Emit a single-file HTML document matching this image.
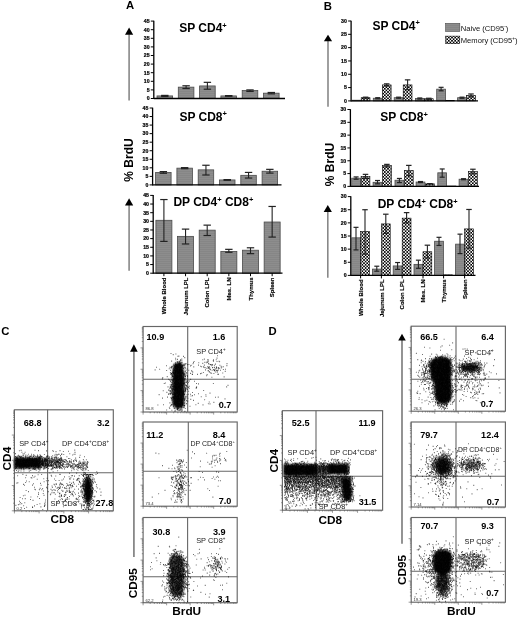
<!DOCTYPE html>
<html><head><meta charset="utf-8"><style>
html,body{margin:0;padding:0;background:#fff;width:520px;height:617px;overflow:hidden}
svg{display:block;filter:grayscale(1)}
text{font-family:"Liberation Sans", sans-serif}
</style></head><body>
<svg width="520" height="617" viewBox="0 0 520 617">
<defs>
<pattern id="gp" patternUnits="userSpaceOnUse" width="4" height="2"><rect width="4" height="2" fill="#8d8d8d"/><rect y="1" width="4" height="1" fill="#868686"/></pattern>
<pattern id="cp" patternUnits="userSpaceOnUse" width="3.2" height="3.2"><rect width="3.2" height="3.2" fill="#000"/><rect width="1.6" height="1.6" fill="#fff"/><rect x="1.6" y="1.6" width="1.6" height="1.6" fill="#fff"/></pattern>
</defs>
<rect width="520" height="617" fill="#fff"/>
<rect x="14.4" y="409.8" width="98.9" height="101" fill="none" stroke="#666" stroke-width="1.15"/>
<line x1="47.6" y1="409.8" x2="47.6" y2="510.8" stroke="#666" stroke-width="1.1"/>
<line x1="14.4" y1="472.8" x2="113.3" y2="472.8" stroke="#666" stroke-width="1.1"/>
<path d="M11.8 510.8H14.4M14.4 510.8V513.4M13.1 503.2H14.4M21.84 510.8V512.1M13.1 498.75H14.4M26.2 510.8V512.1M13.1 495.6H14.4M29.29 510.8V512.1M13.1 493.15H14.4M31.68 510.8V512.1M13.1 491.15H14.4M33.64 510.8V512.1M13.1 489.46H14.4M35.3 510.8V512.1M13.1 488H14.4M36.73 510.8V512.1M13.1 486.71H14.4M37.99 510.8V512.1M11.8 485.55H14.4M39.12 510.8V513.4M13.1 477.95H14.4M46.57 510.8V512.1M13.1 473.5H14.4M50.92 510.8V512.1M13.1 470.35H14.4M54.01 510.8V512.1M13.1 467.9H14.4M56.41 510.8V512.1M13.1 465.9H14.4M58.36 510.8V512.1M13.1 464.21H14.4M60.02 510.8V512.1M13.1 462.75H14.4M61.45 510.8V512.1M13.1 461.46H14.4M62.72 510.8V512.1M11.8 460.3H14.4M63.85 510.8V513.4M13.1 452.7H14.4M71.29 510.8V512.1M13.1 448.25H14.4M75.65 510.8V512.1M13.1 445.1H14.4M78.74 510.8V512.1M13.1 442.65H14.4M81.13 510.8V512.1M13.1 440.65H14.4M83.09 510.8V512.1M13.1 438.96H14.4M84.75 510.8V512.1M13.1 437.5H14.4M86.18 510.8V512.1M13.1 436.21H14.4M87.44 510.8V512.1M11.8 435.05H14.4M88.58 510.8V513.4M13.1 427.45H14.4M96.02 510.8V512.1M13.1 423H14.4M100.37 510.8V512.1M13.1 419.85H14.4M103.46 510.8V512.1M13.1 417.4H14.4M105.86 510.8V512.1M13.1 415.4H14.4M107.81 510.8V512.1M13.1 413.71H14.4M109.47 510.8V512.1M13.1 412.25H14.4M110.9 510.8V512.1M13.1 410.96H14.4M112.17 510.8V512.1" stroke="#555" stroke-width="0.6" fill="none"/>
<rect x="143.1" y="326.5" width="94.1" height="85.5" fill="none" stroke="#666" stroke-width="1.15"/>
<line x1="187.7" y1="326.5" x2="187.7" y2="412" stroke="#666" stroke-width="1.1"/>
<line x1="143.1" y1="379.2" x2="237.2" y2="379.2" stroke="#666" stroke-width="1.1"/>
<path d="M140.5 412H143.1M143.1 412V414.6M141.8 405.57H143.1M150.18 412V413.3M141.8 401.8H143.1M154.32 412V413.3M141.8 399.13H143.1M157.26 412V413.3M141.8 397.06H143.1M159.54 412V413.3M141.8 395.37H143.1M161.41 412V413.3M141.8 393.94H143.1M162.98 412V413.3M141.8 392.7H143.1M164.35 412V413.3M141.8 391.6H143.1M165.55 412V413.3M140.5 390.62H143.1M166.62 412V414.6M141.8 384.19H143.1M173.71 412V413.3M141.8 380.43H143.1M177.85 412V413.3M141.8 377.76H143.1M180.79 412V413.3M141.8 375.68H143.1M183.07 412V413.3M141.8 373.99H143.1M184.93 412V413.3M141.8 372.56H143.1M186.51 412V413.3M141.8 371.32H143.1M187.87 412V413.3M141.8 370.23H143.1M189.07 412V413.3M140.5 369.25H143.1M190.15 412V414.6M141.8 362.82H143.1M197.23 412V413.3M141.8 359.05H143.1M201.37 412V413.3M141.8 356.38H143.1M204.31 412V413.3M141.8 354.31H143.1M206.59 412V413.3M141.8 352.62H143.1M208.46 412V413.3M141.8 351.19H143.1M210.03 412V413.3M141.8 349.95H143.1M211.4 412V413.3M141.8 348.85H143.1M212.6 412V413.3M140.5 347.88H143.1M213.67 412V414.6M141.8 341.44H143.1M220.76 412V413.3M141.8 337.68H143.1M224.9 412V413.3M141.8 335.01H143.1M227.84 412V413.3M141.8 332.93H143.1M230.12 412V413.3M141.8 331.24H143.1M231.98 412V413.3M141.8 329.81H143.1M233.56 412V413.3M141.8 328.57H143.1M234.92 412V413.3M141.8 327.48H143.1M236.12 412V413.3" stroke="#555" stroke-width="0.6" fill="none"/>
<rect x="143.1" y="422" width="94.1" height="84.2" fill="none" stroke="#666" stroke-width="1.15"/>
<line x1="188.3" y1="422" x2="188.3" y2="506.2" stroke="#666" stroke-width="1.1"/>
<line x1="143.1" y1="471.3" x2="237.2" y2="471.3" stroke="#666" stroke-width="1.1"/>
<path d="M140.5 506.2H143.1M143.1 506.2V508.8M141.8 499.86H143.1M150.18 506.2V507.5M141.8 496.16H143.1M154.32 506.2V507.5M141.8 493.53H143.1M157.26 506.2V507.5M141.8 491.49H143.1M159.54 506.2V507.5M141.8 489.82H143.1M161.41 506.2V507.5M141.8 488.41H143.1M162.98 506.2V507.5M141.8 487.19H143.1M164.35 506.2V507.5M141.8 486.11H143.1M165.55 506.2V507.5M140.5 485.15H143.1M166.62 506.2V508.8M141.8 478.81H143.1M173.71 506.2V507.5M141.8 475.11H143.1M177.85 506.2V507.5M141.8 472.48H143.1M180.79 506.2V507.5M141.8 470.44H143.1M183.07 506.2V507.5M141.8 468.77H143.1M184.93 506.2V507.5M141.8 467.36H143.1M186.51 506.2V507.5M141.8 466.14H143.1M187.87 506.2V507.5M141.8 465.06H143.1M189.07 506.2V507.5M140.5 464.1H143.1M190.15 506.2V508.8M141.8 457.76H143.1M197.23 506.2V507.5M141.8 454.06H143.1M201.37 506.2V507.5M141.8 451.43H143.1M204.31 506.2V507.5M141.8 449.39H143.1M206.59 506.2V507.5M141.8 447.72H143.1M208.46 506.2V507.5M141.8 446.31H143.1M210.03 506.2V507.5M141.8 445.09H143.1M211.4 506.2V507.5M141.8 444.01H143.1M212.6 506.2V507.5M140.5 443.05H143.1M213.67 506.2V508.8M141.8 436.71H143.1M220.76 506.2V507.5M141.8 433.01H143.1M224.9 506.2V507.5M141.8 430.38H143.1M227.84 506.2V507.5M141.8 428.34H143.1M230.12 506.2V507.5M141.8 426.67H143.1M231.98 506.2V507.5M141.8 425.26H143.1M233.56 506.2V507.5M141.8 424.04H143.1M234.92 506.2V507.5M141.8 422.96H143.1M236.12 506.2V507.5" stroke="#555" stroke-width="0.6" fill="none"/>
<rect x="143.1" y="517.5" width="94.1" height="85.2" fill="none" stroke="#666" stroke-width="1.15"/>
<line x1="187.6" y1="517.5" x2="187.6" y2="602.7" stroke="#666" stroke-width="1.1"/>
<line x1="143.1" y1="576.7" x2="237.2" y2="576.7" stroke="#666" stroke-width="1.1"/>
<path d="M140.5 602.7H143.1M143.1 602.7V605.3M141.8 596.29H143.1M150.18 602.7V604M141.8 592.54H143.1M154.32 602.7V604M141.8 589.88H143.1M157.26 602.7V604M141.8 587.81H143.1M159.54 602.7V604M141.8 586.13H143.1M161.41 602.7V604M141.8 584.7H143.1M162.98 602.7V604M141.8 583.46H143.1M164.35 602.7V604M141.8 582.37H143.1M165.55 602.7V604M140.5 581.4H143.1M166.62 602.7V605.3M141.8 574.99H143.1M173.71 602.7V604M141.8 571.24H143.1M177.85 602.7V604M141.8 568.58H143.1M180.79 602.7V604M141.8 566.51H143.1M183.07 602.7V604M141.8 564.83H143.1M184.93 602.7V604M141.8 563.4H143.1M186.51 602.7V604M141.8 562.16H143.1M187.87 602.7V604M141.8 561.07H143.1M189.07 602.7V604M140.5 560.1H143.1M190.15 602.7V605.3M141.8 553.69H143.1M197.23 602.7V604M141.8 549.94H143.1M201.37 602.7V604M141.8 547.28H143.1M204.31 602.7V604M141.8 545.21H143.1M206.59 602.7V604M141.8 543.53H143.1M208.46 602.7V604M141.8 542.1H143.1M210.03 602.7V604M141.8 540.86H143.1M211.4 602.7V604M141.8 539.77H143.1M212.6 602.7V604M140.5 538.8H143.1M213.67 602.7V605.3M141.8 532.39H143.1M220.76 602.7V604M141.8 528.64H143.1M224.9 602.7V604M141.8 525.98H143.1M227.84 602.7V604M141.8 523.91H143.1M230.12 602.7V604M141.8 522.23H143.1M231.98 602.7V604M141.8 520.8H143.1M233.56 602.7V604M141.8 519.56H143.1M234.92 602.7V604M141.8 518.47H143.1M236.12 602.7V604" stroke="#555" stroke-width="0.6" fill="none"/>
<rect x="282.4" y="410.7" width="100.2" height="99.5" fill="none" stroke="#666" stroke-width="1.15"/>
<line x1="316" y1="410.7" x2="316" y2="510.2" stroke="#666" stroke-width="1.1"/>
<line x1="282.4" y1="476.2" x2="382.6" y2="476.2" stroke="#666" stroke-width="1.1"/>
<path d="M279.8 510.2H282.4M282.4 510.2V512.8M281.1 502.71H282.4M289.94 510.2V511.5M281.1 498.33H282.4M294.35 510.2V511.5M281.1 495.22H282.4M297.48 510.2V511.5M281.1 492.81H282.4M299.91 510.2V511.5M281.1 490.84H282.4M301.89 510.2V511.5M281.1 489.18H282.4M303.57 510.2V511.5M281.1 487.74H282.4M305.02 510.2V511.5M281.1 486.46H282.4M306.3 510.2V511.5M279.8 485.32H282.4M307.45 510.2V512.8M281.1 477.84H282.4M314.99 510.2V511.5M281.1 473.46H282.4M319.4 510.2V511.5M281.1 470.35H282.4M322.53 510.2V511.5M281.1 467.94H282.4M324.96 510.2V511.5M281.1 465.97H282.4M326.94 510.2V511.5M281.1 464.3H282.4M328.62 510.2V511.5M281.1 462.86H282.4M330.07 510.2V511.5M281.1 461.59H282.4M331.35 510.2V511.5M279.8 460.45H282.4M332.5 510.2V512.8M281.1 452.96H282.4M340.04 510.2V511.5M281.1 448.58H282.4M344.45 510.2V511.5M281.1 445.47H282.4M347.58 510.2V511.5M281.1 443.06H282.4M350.01 510.2V511.5M281.1 441.09H282.4M351.99 510.2V511.5M281.1 439.43H282.4M353.67 510.2V511.5M281.1 437.99H282.4M355.12 510.2V511.5M281.1 436.71H282.4M356.4 510.2V511.5M279.8 435.57H282.4M357.55 510.2V512.8M281.1 428.09H282.4M365.09 510.2V511.5M281.1 423.71H282.4M369.5 510.2V511.5M281.1 420.6H282.4M372.63 510.2V511.5M281.1 418.19H282.4M375.06 510.2V511.5M281.1 416.22H282.4M377.04 510.2V511.5M281.1 414.55H282.4M378.72 510.2V511.5M281.1 413.11H282.4M380.17 510.2V511.5M281.1 411.84H282.4M381.45 510.2V511.5" stroke="#555" stroke-width="0.6" fill="none"/>
<rect x="411.2" y="326.2" width="94.2" height="85" fill="none" stroke="#666" stroke-width="1.15"/>
<line x1="456" y1="326.2" x2="456" y2="411.2" stroke="#666" stroke-width="1.1"/>
<line x1="411.2" y1="379.2" x2="505.4" y2="379.2" stroke="#666" stroke-width="1.1"/>
<path d="M408.6 411.2H411.2M411.2 411.2V413.8M409.9 404.8H411.2M418.29 411.2V412.5M409.9 401.06H411.2M422.44 411.2V412.5M409.9 398.41H411.2M425.38 411.2V412.5M409.9 396.35H411.2M427.66 411.2V412.5M409.9 394.66H411.2M429.53 411.2V412.5M409.9 393.24H411.2M431.1 411.2V412.5M409.9 392.01H411.2M432.47 411.2V412.5M409.9 390.92H411.2M433.67 411.2V412.5M408.6 389.95H411.2M434.75 411.2V413.8M409.9 383.55H411.2M441.84 411.2V412.5M409.9 379.81H411.2M445.99 411.2V412.5M409.9 377.16H411.2M448.93 411.2V412.5M409.9 375.1H411.2M451.21 411.2V412.5M409.9 373.41H411.2M453.08 411.2V412.5M409.9 371.99H411.2M454.65 411.2V412.5M409.9 370.76H411.2M456.02 411.2V412.5M409.9 369.67H411.2M457.22 411.2V412.5M408.6 368.7H411.2M458.3 411.2V413.8M409.9 362.3H411.2M465.39 411.2V412.5M409.9 358.56H411.2M469.54 411.2V412.5M409.9 355.91H411.2M472.48 411.2V412.5M409.9 353.85H411.2M474.76 411.2V412.5M409.9 352.16H411.2M476.63 411.2V412.5M409.9 350.74H411.2M478.2 411.2V412.5M409.9 349.51H411.2M479.57 411.2V412.5M409.9 348.42H411.2M480.77 411.2V412.5M408.6 347.45H411.2M481.85 411.2V413.8M409.9 341.05H411.2M488.94 411.2V412.5M409.9 337.31H411.2M493.09 411.2V412.5M409.9 334.66H411.2M496.03 411.2V412.5M409.9 332.6H411.2M498.31 411.2V412.5M409.9 330.91H411.2M500.18 411.2V412.5M409.9 329.49H411.2M501.75 411.2V412.5M409.9 328.26H411.2M503.12 411.2V412.5M409.9 327.17H411.2M504.32 411.2V412.5" stroke="#555" stroke-width="0.6" fill="none"/>
<rect x="411.2" y="422" width="94.2" height="85" fill="none" stroke="#666" stroke-width="1.15"/>
<line x1="456" y1="422" x2="456" y2="507" stroke="#666" stroke-width="1.1"/>
<line x1="411.2" y1="476.2" x2="505.4" y2="476.2" stroke="#666" stroke-width="1.1"/>
<path d="M408.6 507H411.2M411.2 507V509.6M409.9 500.6H411.2M418.29 507V508.3M409.9 496.86H411.2M422.44 507V508.3M409.9 494.21H411.2M425.38 507V508.3M409.9 492.15H411.2M427.66 507V508.3M409.9 490.46H411.2M429.53 507V508.3M409.9 489.04H411.2M431.1 507V508.3M409.9 487.81H411.2M432.47 507V508.3M409.9 486.72H411.2M433.67 507V508.3M408.6 485.75H411.2M434.75 507V509.6M409.9 479.35H411.2M441.84 507V508.3M409.9 475.61H411.2M445.99 507V508.3M409.9 472.96H411.2M448.93 507V508.3M409.9 470.9H411.2M451.21 507V508.3M409.9 469.21H411.2M453.08 507V508.3M409.9 467.79H411.2M454.65 507V508.3M409.9 466.56H411.2M456.02 507V508.3M409.9 465.47H411.2M457.22 507V508.3M408.6 464.5H411.2M458.3 507V509.6M409.9 458.1H411.2M465.39 507V508.3M409.9 454.36H411.2M469.54 507V508.3M409.9 451.71H411.2M472.48 507V508.3M409.9 449.65H411.2M474.76 507V508.3M409.9 447.96H411.2M476.63 507V508.3M409.9 446.54H411.2M478.2 507V508.3M409.9 445.31H411.2M479.57 507V508.3M409.9 444.22H411.2M480.77 507V508.3M408.6 443.25H411.2M481.85 507V509.6M409.9 436.85H411.2M488.94 507V508.3M409.9 433.11H411.2M493.09 507V508.3M409.9 430.46H411.2M496.03 507V508.3M409.9 428.4H411.2M498.31 507V508.3M409.9 426.71H411.2M500.18 507V508.3M409.9 425.29H411.2M501.75 507V508.3M409.9 424.06H411.2M503.12 507V508.3M409.9 422.97H411.2M504.32 507V508.3" stroke="#555" stroke-width="0.6" fill="none"/>
<rect x="411.2" y="517.5" width="94.2" height="84.7" fill="none" stroke="#666" stroke-width="1.15"/>
<line x1="456" y1="517.5" x2="456" y2="602.2" stroke="#666" stroke-width="1.1"/>
<line x1="411.2" y1="571.2" x2="505.4" y2="571.2" stroke="#666" stroke-width="1.1"/>
<path d="M408.6 602.2H411.2M411.2 602.2V604.8M409.9 595.83H411.2M418.29 602.2V603.5M409.9 592.1H411.2M422.44 602.2V603.5M409.9 589.45H411.2M425.38 602.2V603.5M409.9 587.4H411.2M427.66 602.2V603.5M409.9 585.72H411.2M429.53 602.2V603.5M409.9 584.31H411.2M431.1 602.2V603.5M409.9 583.08H411.2M432.47 602.2V603.5M409.9 581.99H411.2M433.67 602.2V603.5M408.6 581.03H411.2M434.75 602.2V604.8M409.9 574.65H411.2M441.84 602.2V603.5M409.9 570.92H411.2M445.99 602.2V603.5M409.9 568.28H411.2M448.93 602.2V603.5M409.9 566.22H411.2M451.21 602.2V603.5M409.9 564.55H411.2M453.08 602.2V603.5M409.9 563.13H411.2M454.65 602.2V603.5M409.9 561.9H411.2M456.02 602.2V603.5M409.9 560.82H411.2M457.22 602.2V603.5M408.6 559.85H411.2M458.3 602.2V604.8M409.9 553.48H411.2M465.39 602.2V603.5M409.9 549.75H411.2M469.54 602.2V603.5M409.9 547.1H411.2M472.48 602.2V603.5M409.9 545.05H411.2M474.76 602.2V603.5M409.9 543.37H411.2M476.63 602.2V603.5M409.9 541.96H411.2M478.2 602.2V603.5M409.9 540.73H411.2M479.57 602.2V603.5M409.9 539.64H411.2M480.77 602.2V603.5M408.6 538.67H411.2M481.85 602.2V604.8M409.9 532.3H411.2M488.94 602.2V603.5M409.9 528.57H411.2M493.09 602.2V603.5M409.9 525.93H411.2M496.03 602.2V603.5M409.9 523.87H411.2M498.31 602.2V603.5M409.9 522.2H411.2M500.18 602.2V603.5M409.9 520.78H411.2M501.75 602.2V603.5M409.9 519.55H411.2M503.12 602.2V603.5M409.9 518.47H411.2M504.32 602.2V603.5" stroke="#555" stroke-width="0.6" fill="none"/>
<filter id="cb" x="0" y="0" width="520" height="617" filterUnits="userSpaceOnUse"><feGaussianBlur stdDeviation="1.3"/></filter><g filter="url(#cb)"><rect x="14.6" y="457.4" width="25" height="11" fill="#000" fill-opacity="0.95"/><rect x="38" y="458.5" width="10" height="9" fill="#000" fill-opacity="0.55"/><ellipse cx="88" cy="490" rx="3.7" ry="13" fill="#000" fill-opacity="0.95"/><path d="M173 368C174 361 182 360 183.5 367L184.5 404C183 410 174 410 172.5 404Z" fill="#000" fill-opacity="0.95"/><path d="M170 560C171 553 183 553 184 560L183.5 592C182 598 172 598 170.5 592Z" fill="#000" fill-opacity="0.72"/><rect x="283.5" y="464.2" width="32" height="11.8" fill="#000" fill-opacity="0.95"/><rect x="328.5" y="463.8" width="19.5" height="10.5" fill="#000" fill-opacity="0.95"/><rect x="315" y="465" width="14" height="10" fill="#000" fill-opacity="0.55"/><path d="M341 478L350.5 478L352 496C350 502 345 502 343 496Z" fill="#000" fill-opacity="0.95"/><path d="M430.5 362C432 356 449 355 451 361L451.5 398C450 405 438 406 436 399L434.5 384C430.5 380 429.5 369 430.5 362Z" fill="#000" fill-opacity="0.95"/><ellipse cx="470" cy="367.5" rx="9" ry="3.6" fill="#000" fill-opacity="0.85"/><ellipse cx="442.7" cy="466" rx="6.5" ry="7.5" fill="#000" fill-opacity="0.85"/><ellipse cx="472" cy="465" rx="7" ry="3.5" fill="#000" fill-opacity="0.45"/><path d="M433.5 556C435 549 450 548 451.5 555L451 569C449 576 437 577 434 570Z" fill="#000" fill-opacity="0.95"/><ellipse cx="442" cy="582" rx="5.8" ry="10" fill="#000" fill-opacity="0.7"/></g>
<path d="M22.5 463.2h0.8M17.3 468.8h0.8M23.5 471.0h0.8M15.1 468.4h0.8M34.3 460.6h0.8M29.5 462.6h0.8M36.8 463.9h0.8M39.0 460.9h0.8M35.8 470.2h0.8M18.8 463.3h0.8M17.0 464.2h0.8M39.9 467.4h0.8M27.0 458.2h0.8M16.5 460.9h0.8M22.2 464.6h0.8M17.4 459.7h0.8M15.7 461.3h0.8M25.3 462.5h0.8M37.3 461.6h0.8M28.5 465.0h0.8M21.5 458.1h0.8M32.7 464.0h0.8M15.9 462.7h0.8M25.0 458.2h0.8M26.2 462.4h0.8M27.0 467.7h0.8M21.6 465.5h0.8M38.0 463.3h0.8M19.5 465.6h0.8M23.7 466.7h0.8M20.8 465.5h0.8M25.6 464.3h0.8M16.0 465.0h0.8M24.0 465.2h0.8M25.4 467.2h0.8M15.4 458.8h0.8M26.8 465.3h0.8M18.1 461.9h0.8M38.8 464.3h0.8M27.5 464.1h0.8M39.8 461.6h0.8M38.3 461.7h0.8M34.6 463.0h0.8M32.2 460.8h0.8M37.8 465.2h0.8M33.2 462.1h0.8M30.9 465.4h0.8M23.2 457.7h0.8M22.1 461.2h0.8M20.3 459.2h0.8M39.8 459.1h0.8M31.5 462.8h0.8M24.8 465.6h0.8M22.9 466.7h0.8M23.7 461.5h0.8M20.6 471.0h0.8M27.7 457.2h0.8M37.0 462.2h0.8M33.9 458.4h0.8M19.9 462.8h0.8M20.8 460.0h0.8M31.8 459.3h0.8M19.1 463.8h0.8M32.1 459.0h0.8M31.0 465.4h0.8M38.9 462.2h0.8M18.0 459.6h0.8M29.0 458.9h0.8M34.9 464.9h0.8M20.2 457.8h0.8M17.5 458.4h0.8M35.7 461.1h0.8M15.6 467.0h0.8M24.6 464.3h0.8M31.5 460.4h0.8M25.3 465.6h0.8M23.6 463.1h0.8M25.2 461.7h0.8M15.3 460.1h0.8M31.4 464.2h0.8M23.0 462.5h0.8M27.2 462.3h0.8M23.7 467.5h0.8M19.9 460.7h0.8M37.1 456.1h0.8M32.7 466.1h0.8M18.4 462.0h0.8M17.8 471.5h0.8M27.2 460.4h0.8M35.0 458.8h0.8M21.1 466.5h0.8M39.9 462.4h0.8M15.8 459.6h0.8M17.3 461.1h0.8M35.1 466.4h0.8M32.8 462.8h0.8M36.5 465.0h0.8M30.0 458.5h0.8M35.9 465.4h0.8M24.4 464.0h0.8M17.6 464.3h0.8M28.0 468.7h0.8M28.3 466.0h0.8M21.8 464.0h0.8M33.6 463.6h0.8M31.4 458.8h0.8M35.1 462.7h0.8M38.0 467.6h0.8M18.4 464.5h0.8M22.2 460.8h0.8M19.2 466.3h0.8M21.2 456.8h0.8M18.2 455.2h0.8M33.9 465.8h0.8M37.0 462.5h0.8M35.4 463.3h0.8M30.8 462.2h0.8M39.4 466.9h0.8M16.6 458.0h0.8M18.5 456.3h0.8M16.3 463.9h0.8M29.1 460.6h0.8M19.8 461.1h0.8M37.9 464.0h0.8M33.3 459.5h0.8M30.3 460.5h0.8M27.0 466.3h0.8M33.9 468.9h0.8M38.3 459.0h0.8M33.9 464.7h0.8M16.2 467.2h0.8M36.7 460.6h0.8M33.6 467.6h0.8M27.3 461.1h0.8M38.7 465.6h0.8M17.1 462.4h0.8M19.1 464.6h0.8M25.3 466.6h0.8M28.6 466.6h0.8M33.5 461.5h0.8M39.1 463.0h0.8M25.4 460.0h0.8M16.7 457.4h0.8M23.3 464.1h0.8M35.8 467.0h0.8M25.5 456.8h0.8M37.9 464.2h0.8M28.1 462.7h0.8M21.3 468.4h0.8M24.6 460.3h0.8M35.0 464.2h0.8M16.2 462.6h0.8M30.3 461.1h0.8M20.2 466.5h0.8M23.2 460.2h0.8M39.0 464.0h0.8M28.6 460.1h0.8M20.8 464.2h0.8M37.0 455.0h0.8M27.4 465.7h0.8M25.6 457.3h0.8M21.8 462.6h0.8M28.5 463.6h0.8M29.3 465.7h0.8M26.3 461.0h0.8M28.3 461.6h0.8M37.0 456.9h0.8M16.6 466.4h0.8M18.8 468.4h0.8M15.2 464.6h0.8M32.8 468.5h0.8M17.7 463.5h0.8M20.7 463.2h0.8M29.8 456.2h0.8M26.6 461.2h0.8M37.1 459.1h0.8M22.9 468.2h0.8M28.2 459.8h0.8M31.2 466.5h0.8M36.2 458.6h0.8M33.2 454.8h0.8M39.1 461.0h0.8M20.0 462.9h0.8M32.5 461.3h0.8M34.7 469.5h0.8M33.9 455.2h0.8M24.8 462.6h0.8M31.6 463.8h0.8M19.1 467.8h0.8M19.4 459.0h0.8M30.5 456.4h0.8M38.1 457.8h0.8M27.4 455.7h0.8M32.4 464.9h0.8M27.6 459.0h0.8M39.3 465.7h0.8M21.0 464.4h0.8M36.3 461.4h0.8M30.5 463.0h0.8M46.9 465.3h0.8M44.0 466.8h0.8M58.7 462.8h0.8M49.4 461.2h0.8M44.5 468.5h0.8M44.8 463.6h0.8M42.3 462.5h0.8M50.6 466.3h0.8M44.8 458.2h0.8M45.4 461.0h0.8M54.1 458.3h0.8M42.3 461.0h0.8M50.5 462.8h0.8M44.9 461.7h0.8M61.8 468.8h0.8M48.2 458.2h0.8M46.4 463.7h0.8M48.6 465.5h0.8M43.3 465.8h0.8M43.6 467.9h0.8M52.0 461.7h0.8M57.7 457.5h0.8M46.3 460.1h0.8M38.5 458.6h0.8M51.0 465.5h0.8M39.6 457.9h0.8M51.1 456.8h0.8M51.8 466.1h0.8M52.4 467.5h0.8M40.3 462.7h0.8M42.1 461.4h0.8M38.4 468.9h0.8M49.6 465.8h0.8M61.9 464.0h0.8M40.3 465.5h0.8M40.8 461.3h0.8M40.2 456.6h0.8M41.8 458.6h0.8M42.1 459.7h0.8M55.0 460.4h0.8M56.6 461.4h0.8M43.3 468.8h0.8M52.3 462.9h0.8M51.3 464.9h0.8M42.8 463.6h0.8M41.4 464.4h0.8M55.8 465.8h0.8M51.0 463.8h0.8M48.2 462.9h0.8M45.4 463.0h0.8M43.4 461.6h0.8M49.1 460.7h0.8M54.5 455.1h0.8M49.1 463.2h0.8M56.2 459.1h0.8M51.0 460.2h0.8M40.2 459.9h0.8M41.7 462.5h0.8M55.6 467.2h0.8M40.8 460.1h0.8M60.3 462.9h0.8M56.6 468.4h0.8M43.3 462.4h0.8M40.6 464.1h0.8M48.6 463.3h0.8M50.6 460.4h0.8M43.9 460.3h0.8M59.4 459.6h0.8M42.7 464.4h0.8M47.0 465.9h0.8M39.5 456.8h0.8M41.2 467.3h0.8M57.1 462.2h0.8M44.9 465.3h0.8M47.5 464.7h0.8M60.5 465.2h0.8M38.2 466.4h0.8M60.4 467.4h0.8M54.3 467.5h0.8M41.8 463.6h0.8M58.7 454.3h0.8M40.4 457.0h0.8M55.9 458.7h0.8M45.7 464.8h0.8M40.1 466.2h0.8M41.7 460.7h0.8M57.2 461.5h0.8M59.2 467.9h0.8M46.8 462.3h0.8M47.2 466.3h0.8M60.1 458.7h0.8M47.5 455.8h0.8M40.9 463.3h0.8M43.7 458.2h0.8M50.8 465.6h0.8M48.5 460.6h0.8M42.0 459.3h0.8M52.3 458.8h0.8M53.1 451.2h0.8M43.4 457.6h0.8M52.4 461.6h0.8M42.0 458.7h0.8M60.0 455.6h0.8M44.3 460.6h0.8M56.1 467.4h0.8M42.3 457.3h0.8M61.1 458.5h0.8M43.4 464.8h0.8M57.7 460.7h0.8M55.6 461.6h0.8M59.7 468.2h0.8M56.1 462.4h0.8M41.9 465.1h0.8M47.0 459.9h0.8M48.2 466.2h0.8M49.2 457.9h0.8M55.0 464.8h0.8M56.6 464.7h0.8M49.7 464.6h0.8M57.3 470.7h0.8M58.7 459.5h0.8M53.3 460.0h0.8M43.8 464.0h0.8M48.5 461.1h0.8M45.7 459.1h0.8M46.5 461.4h0.8M47.8 458.0h0.8M50.3 464.7h0.8M48.3 465.0h0.8M60.6 464.4h0.8M62.0 465.9h0.8M44.8 459.7h0.8M53.7 463.2h0.8M60.0 463.7h0.8M55.4 462.7h0.8M69.9 464.9h0.8M62.1 460.5h0.8M56.3 466.5h0.8M87.8 470.5h0.8M62.3 463.0h0.8M63.2 460.3h0.8M66.5 461.8h0.8M77.0 467.1h0.8M59.8 462.9h0.8M79.5 467.3h0.8M62.9 466.4h0.8M73.5 467.7h0.8M85.7 465.6h0.8M74.7 466.5h0.8M77.2 467.3h0.8M80.4 462.4h0.8M72.6 464.9h0.8M80.7 467.1h0.8M78.5 465.0h0.8M86.7 465.9h0.8M85.1 464.3h0.8M79.4 465.5h0.8M86.5 463.5h0.8M73.2 468.4h0.8M59.0 466.3h0.8M77.0 466.4h0.8M55.5 456.8h0.8M79.4 461.1h0.8M56.0 457.8h0.8M78.1 468.3h0.8M80.0 463.3h0.8M82.5 463.8h0.8M59.5 466.4h0.8M81.5 465.0h0.8M80.4 468.5h0.8M77.6 468.0h0.8M80.7 463.7h0.8M67.0 464.2h0.8M86.8 464.2h0.8M84.3 463.7h0.8M77.3 464.5h0.8M67.3 467.4h0.8M69.0 465.2h0.8M61.5 460.2h0.8M75.5 466.2h0.8M83.4 462.4h0.8M62.7 463.1h0.8M75.3 458.1h0.8M59.8 463.3h0.8M75.5 460.4h0.8M66.8 464.3h0.8M78.5 462.0h0.8M71.2 466.8h0.8M71.6 465.7h0.8M82.3 470.2h0.8M68.3 464.2h0.8M85.9 459.8h0.8M82.7 464.2h0.8M87.1 463.5h0.8M59.8 461.5h0.8M73.4 460.9h0.8M59.1 460.3h0.8M60.0 460.4h0.8M83.6 468.5h0.8M80.2 466.0h0.8M66.5 465.0h0.8M64.1 466.9h0.8M66.2 460.3h0.8M56.6 465.6h0.8M69.2 461.8h0.8M68.1 458.5h0.8M76.0 461.5h0.8M76.1 465.1h0.8M85.4 469.9h0.8M86.8 462.6h0.8M78.7 467.3h0.8M74.5 459.8h0.8M83.2 463.3h0.8M72.5 465.7h0.8M84.2 465.3h0.8M67.9 463.2h0.8M83.6 464.7h0.8M79.3 457.4h0.8M67.8 465.2h0.8M73.6 469.0h0.8M88.4 485.9h0.8M84.1 493.0h0.8M84.1 488.9h0.8M85.0 489.0h0.8M86.4 486.9h0.8M86.9 488.6h0.8M85.2 486.6h0.8M84.4 484.5h0.8M84.6 490.3h0.8M81.6 494.6h0.8M86.8 507.5h0.8M87.3 488.2h0.8M86.2 490.4h0.8M86.6 483.0h0.8M91.7 487.7h0.8M88.0 484.9h0.8M87.9 505.4h0.8M82.8 480.4h0.8M87.4 501.7h0.8M91.1 497.6h0.8M85.8 491.2h0.8M87.8 503.1h0.8M88.8 495.4h0.8M86.0 484.6h0.8M82.6 487.6h0.8M90.6 477.0h0.8M83.9 474.5h0.8M91.9 498.9h0.8M86.5 498.1h0.8M91.3 474.5h0.8M86.6 496.5h0.8M88.0 475.3h0.8M90.5 502.5h0.8M89.0 492.3h0.8M87.5 502.8h0.8M83.1 497.6h0.8M86.4 506.8h0.8M87.2 488.0h0.8M87.4 482.6h0.8M90.1 486.2h0.8M90.1 498.2h0.8M88.5 483.0h0.8M84.3 486.4h0.8M91.0 492.4h0.8M87.4 476.9h0.8M87.9 498.2h0.8M87.4 478.3h0.8M86.2 493.9h0.8M89.7 495.2h0.8M90.7 504.6h0.8M92.2 490.5h0.8M90.9 493.8h0.8M82.3 486.4h0.8M89.9 479.6h0.8M84.2 501.3h0.8M85.6 495.1h0.8M87.2 496.7h0.8M86.8 479.1h0.8M83.8 491.0h0.8M90.1 489.2h0.8M89.2 488.1h0.8M87.6 495.5h0.8M84.4 482.3h0.8M83.9 496.9h0.8M86.6 485.0h0.8M84.7 509.1h0.8M87.5 481.9h0.8M90.5 484.8h0.8M86.3 494.4h0.8M85.4 480.0h0.8M87.1 479.1h0.8M87.9 481.0h0.8M90.9 480.1h0.8M84.9 491.1h0.8M89.3 487.6h0.8M87.5 508.3h0.8M91.2 485.1h0.8M83.6 494.7h0.8M89.2 504.4h0.8M92.3 494.3h0.8M84.6 477.4h0.8M86.0 482.2h0.8M92.5 492.8h0.8M85.6 481.9h0.8M89.9 474.5h0.8M85.4 496.8h0.8M86.7 492.6h0.8M88.0 493.2h0.8M88.3 508.3h0.8M88.5 482.0h0.8M85.9 476.3h0.8M92.2 485.8h0.8M89.1 497.0h0.8M88.0 476.8h0.8M88.9 501.4h0.8M91.7 509.5h0.8M86.8 500.6h0.8M85.3 498.4h0.8M86.6 474.9h0.8M92.6 502.8h0.8M83.5 484.7h0.8M86.6 480.8h0.8M90.4 499.7h0.8M87.4 500.7h0.8M88.5 486.8h0.8M85.2 485.9h0.8M85.4 479.2h0.8M88.2 491.8h0.8M81.5 490.8h0.8M82.1 497.9h0.8M86.6 497.6h0.8M91.0 495.6h0.8M91.2 492.9h0.8M92.4 508.5h0.8M92.8 483.4h0.8M88.0 490.5h0.8M88.9 496.3h0.8M83.2 509.5h0.8M88.4 494.5h0.8M90.4 509.5h0.8M89.4 505.2h0.8M83.1 486.5h0.8M86.5 477.8h0.8M82.3 475.3h0.8M90.7 488.6h0.8M84.8 487.6h0.8M90.1 490.8h0.8M92.9 482.3h0.8M84.0 489.3h0.8M84.1 481.1h0.8M88.8 474.5h0.8M83.0 488.7h0.8M91.0 483.3h0.8M91.8 491.5h0.8M88.7 483.1h0.8M90.6 482.7h0.8M84.1 495.1h0.8M85.7 478.6h0.8M87.5 477.7h0.8M87.4 492.6h0.8M82.6 509.5h0.8M89.9 489.6h0.8M85.5 493.6h0.8M90.0 490.1h0.8M89.7 485.5h0.8M91.4 490.9h0.8M90.0 483.1h0.8M85.6 500.9h0.8M87.5 484.1h0.8M85.1 492.5h0.8M87.4 494.2h0.8M89.8 480.2h0.8M81.1 506.7h0.8M85.0 479.5h0.8M87.4 490.0h0.8M81.0 508.0h0.8M89.5 499.2h0.8M87.1 491.7h0.8M90.4 496.7h0.8M89.6 494.0h0.8M94.6 490.6h0.8M85.8 474.9h0.8M92.2 481.3h0.8M88.6 499.9h0.8M84.4 502.1h0.8M87.7 497.1h0.8M88.2 503.5h0.8M87.1 474.7h0.8M85.2 494.2h0.8M90.2 491.2h0.8M85.9 487.5h0.8M89.2 503.6h0.8M89.9 475.7h0.8M89.6 506.1h0.8M89.4 493.6h0.8M88.1 509.5h0.8M91.0 497.6h0.8M83.9 504.9h0.8M84.9 489.1h0.8M96.4 471.8h0.8M82.0 485.4h0.8M78.8 478.8h0.8M93.8 504.1h0.8M93.4 500.1h0.8M83.9 472.9h0.8M81.4 504.1h0.8M87.2 499.7h0.8M96.3 484.5h0.8M81.8 493.7h0.8M88.7 475.7h0.8M100.5 495.4h0.8M85.7 499.2h0.8M85.8 497.0h0.8M84.4 500.3h0.8M89.0 501.0h0.8M83.1 475.5h0.8M94.3 481.7h0.8M94.3 496.9h0.8M88.1 487.3h0.8M84.8 472.7h0.8M89.0 498.8h0.8M92.1 500.5h0.8M79.1 482.1h0.8M22.9 495.7h0.8M40.5 506.9h0.8M22.0 498.8h0.8M36.8 479.2h0.8M30.7 477.6h0.8M28.2 491.6h0.8M19.9 502.5h0.8M42.8 493.5h0.8M24.1 485.2h0.8M42.4 509.5h0.8M19.0 501.3h0.8M24.6 495.3h0.8M33.2 483.7h0.8M23.3 505.8h0.8M42.3 488.6h0.8M19.7 497.5h0.8M44.0 506.0h0.8M30.5 497.0h0.8M43.6 495.4h0.8M66.4 488.4h0.8M69.1 478.9h0.8M76.0 480.1h0.8M62.3 491.3h0.8M67.2 497.5h0.8M68.4 485.6h0.8M47.9 480.6h0.8M64.9 499.2h0.8M54.2 492.7h0.8M80.5 484.0h0.8M61.4 484.3h0.8M61.6 480.1h0.8M64.2 494.5h0.8M56.9 502.0h0.8M52.8 489.7h0.8M51.5 492.8h0.8M59.3 488.1h0.8M70.5 494.7h0.8M57.6 487.9h0.8M64.0 476.9h0.8M52.9 492.8h0.8M61.5 498.6h0.8M70.1 492.4h0.8M71.3 493.8h0.8M65.5 494.8h0.8M59.6 474.2h0.8M64.2 487.6h0.8M59.2 484.9h0.8M69.7 484.5h0.8M73.8 484.1h0.8M54.5 499.0h0.8M65.2 500.4h0.8M68.7 490.9h0.8M64.5 488.4h0.8M70.7 503.2h0.8M73.9 492.8h0.8M47.8 491.6h0.8M54.0 479.0h0.8M54.4 484.9h0.8M65.2 505.1h0.8M66.5 483.5h0.8M50.4 494.0h0.8M39.7 488.4h0.8M74.3 489.2h0.8M78.5 495.6h0.8M59.6 496.9h0.8M54.9 494.2h0.8M84.5 483.1h0.8M61.1 496.0h0.8M73.3 479.1h0.8M68.7 488.3h0.8M73.0 491.3h0.8M49.9 494.7h0.8M51.6 486.0h0.8M67.5 484.9h0.8M45.1 500.0h0.8M72.4 494.7h0.8M63.2 479.0h0.8M66.8 499.1h0.8M59.5 487.7h0.8M20.7 450.4h0.8M74.6 452.4h0.8M27.9 454.3h0.8M66.5 456.7h0.8M34.6 450.3h0.8M22.5 455.7h0.8M52.3 450.7h0.8M179.2 401.8h0.8M179.8 388.7h0.8M177.8 388.4h0.8M176.0 368.6h0.8M179.8 406.1h0.8M176.4 388.3h0.8M182.3 370.2h0.8M175.7 388.7h0.8M174.6 371.5h0.8M176.7 377.5h0.8M174.8 393.6h0.8M185.4 396.5h0.8M176.0 387.1h0.8M182.9 382.1h0.8M178.1 395.7h0.8M181.3 390.7h0.8M180.3 397.5h0.8M184.1 394.5h0.8M180.8 366.9h0.8M178.9 384.7h0.8M182.7 400.8h0.8M176.1 374.8h0.8M179.7 360.9h0.8M179.4 364.8h0.8M180.3 380.6h0.8M181.3 400.9h0.8M179.5 381.9h0.8M177.1 404.3h0.8M181.6 403.7h0.8M176.6 366.6h0.8M183.0 384.1h0.8M182.0 393.3h0.8M179.1 369.0h0.8M177.4 384.6h0.8M172.8 371.0h0.8M175.4 386.2h0.8M177.8 386.7h0.8M173.2 372.6h0.8M179.3 370.8h0.8M181.1 401.9h0.8M183.9 375.8h0.8M178.2 398.4h0.8M182.4 367.1h0.8M178.5 394.5h0.8M181.3 384.2h0.8M170.8 373.4h0.8M180.5 379.2h0.8M179.1 373.0h0.8M172.6 400.2h0.8M182.1 372.2h0.8M180.2 386.3h0.8M176.5 401.7h0.8M181.7 368.9h0.8M171.1 397.9h0.8M173.9 400.0h0.8M180.6 384.2h0.8M171.5 384.5h0.8M185.9 387.1h0.8M181.4 359.0h0.8M178.1 380.3h0.8M180.8 406.0h0.8M180.8 403.0h0.8M178.3 382.3h0.8M177.1 378.2h0.8M176.5 369.2h0.8M174.4 384.0h0.8M179.6 382.0h0.8M177.7 408.3h0.8M174.9 388.0h0.8M177.0 368.8h0.8M176.6 402.5h0.8M182.5 382.0h0.8M171.1 389.9h0.8M175.1 394.1h0.8M177.1 409.4h0.8M176.9 391.3h0.8M177.5 371.2h0.8M171.2 379.8h0.8M170.3 386.1h0.8M176.8 398.5h0.8M178.6 369.6h0.8M182.1 405.0h0.8M183.4 392.4h0.8M181.7 399.4h0.8M178.6 376.0h0.8M170.5 393.5h0.8M172.8 379.7h0.8M176.7 385.5h0.8M174.0 398.1h0.8M185.3 390.2h0.8M173.9 382.6h0.8M176.8 406.1h0.8M181.6 405.6h0.8M176.2 380.6h0.8M171.6 374.8h0.8M173.1 396.7h0.8M173.6 394.9h0.8M180.1 378.2h0.8M171.1 386.0h0.8M180.0 392.7h0.8M176.9 396.2h0.8M179.4 378.7h0.8M175.2 370.5h0.8M177.5 407.3h0.8M181.9 404.2h0.8M178.2 397.1h0.8M184.7 374.8h0.8M180.0 367.7h0.8M169.2 390.3h0.8M174.9 377.7h0.8M180.7 401.2h0.8M177.4 365.7h0.8M182.7 393.5h0.8M178.2 383.8h0.8M175.2 396.2h0.8M170.6 391.9h0.8M176.4 390.4h0.8M175.6 392.2h0.8M176.5 389.4h0.8M173.8 389.3h0.8M178.3 386.3h0.8M184.0 380.4h0.8M178.3 380.0h0.8M178.7 394.0h0.8M176.7 381.9h0.8M178.9 400.5h0.8M181.3 376.9h0.8M180.4 391.1h0.8M179.9 363.3h0.8M173.1 379.8h0.8M173.8 390.4h0.8M182.1 383.8h0.8M184.7 378.8h0.8M175.2 367.9h0.8M174.7 404.5h0.8M179.8 405.7h0.8M175.3 384.5h0.8M182.4 398.7h0.8M173.8 408.4h0.8M175.3 366.8h0.8M177.2 405.9h0.8M179.5 399.5h0.8M183.4 372.7h0.8M175.3 371.2h0.8M179.8 369.2h0.8M177.8 364.9h0.8M182.5 392.0h0.8M178.5 373.7h0.8M181.7 381.9h0.8M175.5 406.2h0.8M173.8 370.4h0.8M181.0 369.7h0.8M174.3 382.3h0.8M178.4 399.1h0.8M182.4 385.4h0.8M175.0 364.1h0.8M173.9 365.7h0.8M178.2 392.6h0.8M172.8 398.7h0.8M180.8 370.3h0.8M173.3 392.8h0.8M178.7 362.3h0.8M183.0 405.3h0.8M175.4 395.9h0.8M183.5 374.3h0.8M171.9 383.0h0.8M173.5 368.3h0.8M187.6 387.2h0.8M173.0 381.4h0.8M173.4 403.9h0.8M175.1 381.6h0.8M176.6 403.5h0.8M181.9 373.7h0.8M173.0 384.7h0.8M184.9 385.8h0.8M180.4 388.6h0.8M177.1 390.1h0.8M177.1 393.3h0.8M180.2 395.4h0.8M180.5 399.4h0.8M177.3 389.0h0.8M178.5 396.4h0.8M177.8 396.4h0.8M173.9 373.3h0.8M177.9 403.2h0.8M184.2 391.5h0.8M175.3 372.4h0.8M182.1 391.0h0.8M176.1 378.5h0.8M182.7 392.2h0.8M181.8 372.1h0.8M176.2 387.7h0.8M176.8 409.8h0.8M178.5 403.9h0.8M184.8 387.5h0.8M180.7 365.2h0.8M172.0 389.1h0.8M184.3 382.5h0.8M186.0 400.6h0.8M176.9 384.5h0.8M173.0 371.4h0.8M173.8 378.1h0.8M170.2 394.0h0.8M184.1 400.4h0.8M179.4 386.1h0.8M182.9 394.9h0.8M179.7 380.0h0.8M174.1 385.7h0.8M180.2 367.3h0.8M180.8 362.4h0.8M173.7 386.1h0.8M180.9 396.9h0.8M184.5 367.4h0.8M180.3 385.8h0.8M184.3 383.4h0.8M173.5 374.9h0.8M182.4 395.0h0.8M179.7 403.5h0.8M176.5 397.9h0.8M177.3 387.4h0.8M178.2 406.1h0.8M180.1 363.1h0.8M183.0 397.8h0.8M174.8 401.5h0.8M179.9 409.2h0.8M185.3 378.0h0.8M171.5 380.0h0.8M171.9 396.9h0.8M175.4 365.2h0.8M180.7 383.2h0.8M174.8 398.4h0.8M174.8 387.9h0.8M176.8 399.5h0.8M182.2 380.4h0.8M182.2 402.9h0.8M181.9 386.9h0.8M180.1 375.6h0.8M177.2 399.7h0.8M170.2 390.6h0.8M187.1 376.6h0.8M177.8 367.4h0.8M183.4 377.2h0.8M173.1 385.2h0.8M170.0 393.2h0.8M179.3 398.7h0.8M178.5 404.3h0.8M176.9 379.4h0.8M173.9 400.1h0.8M172.4 373.2h0.8M172.2 376.5h0.8M180.7 371.3h0.8M181.6 380.0h0.8M179.8 383.6h0.8M183.2 383.6h0.8M174.7 386.2h0.8M176.3 392.2h0.8M179.1 366.7h0.8M178.9 367.3h0.8M179.5 400.2h0.8M175.1 383.0h0.8M186.4 373.1h0.8M182.4 403.5h0.8M173.3 383.8h0.8M180.3 393.2h0.8M172.4 390.0h0.8M180.6 410.1h0.8M175.8 378.4h0.8M180.6 407.7h0.8M173.3 388.4h0.8M181.1 369.7h0.8M175.3 375.5h0.8M175.1 390.6h0.8M183.6 407.4h0.8M177.8 398.4h0.8M178.7 375.0h0.8M171.5 375.7h0.8M184.4 365.6h0.8M178.9 387.9h0.8M182.0 387.2h0.8M180.0 402.2h0.8M169.1 380.0h0.8M179.0 393.1h0.8M181.4 392.1h0.8M174.2 403.2h0.8M187.1 381.8h0.8M174.6 371.0h0.8M177.5 401.7h0.8M177.5 392.1h0.8M185.6 380.6h0.8M175.9 398.0h0.8M171.1 404.7h0.8M174.5 389.9h0.8M167.0 397.1h0.8M190.0 394.3h0.8M180.4 373.9h0.8M174.3 375.0h0.8M184.8 392.0h0.8M177.4 410.0h0.8M181.5 385.5h0.8M172.7 397.9h0.8M182.8 376.6h0.8M185.0 376.3h0.8M180.2 404.5h0.8M179.4 385.2h0.8M175.7 399.7h0.8M171.2 367.7h0.8M172.5 386.2h0.8M175.8 402.8h0.8M175.5 354.0h0.8M177.3 375.5h0.8M178.5 356.1h0.8M184.0 399.8h0.8M177.8 372.9h0.8M184.9 390.8h0.8M179.8 394.8h0.8M185.6 382.7h0.8M184.3 405.8h0.8M188.2 382.3h0.8M177.9 400.1h0.8M164.9 383.0h0.8M185.4 389.4h0.8M183.9 364.8h0.8M183.0 356.4h0.8M183.6 384.7h0.8M183.4 393.2h0.8M180.8 395.0h0.8M177.1 380.9h0.8M171.0 393.1h0.8M169.8 387.2h0.8M185.1 364.1h0.8M171.5 366.8h0.8M182.5 373.4h0.8M166.5 392.4h0.8M170.4 397.8h0.8M182.1 366.1h0.8M176.0 404.7h0.8M171.5 410.3h0.8M178.5 371.9h0.8M177.2 377.5h0.8M184.7 371.8h0.8M179.8 384.9h0.8M188.9 386.3h0.8M171.3 374.0h0.8M180.1 382.9h0.8M175.4 377.0h0.8M172.9 378.5h0.8M182.5 388.6h0.8M178.9 391.0h0.8M176.5 370.9h0.8M172.6 383.0h0.8M178.5 401.4h0.8M184.1 364.0h0.8M179.4 372.9h0.8M169.6 367.2h0.8M176.1 383.8h0.8M180.4 360.3h0.8M214.9 372.0h0.8M212.4 367.5h0.8M220.7 366.3h0.8M207.3 359.9h0.8M215.6 368.8h0.8M198.4 362.8h0.8M213.9 370.1h0.8M222.9 366.7h0.8M212.3 365.0h0.8M222.4 373.0h0.8M211.6 364.5h0.8M218.0 370.0h0.8M202.9 372.5h0.8M214.1 367.4h0.8M212.8 360.7h0.8M224.8 371.4h0.8M209.4 367.8h0.8M220.8 367.9h0.8M215.9 370.6h0.8M208.9 372.0h0.8M216.3 367.5h0.8M208.5 363.7h0.8M216.7 370.3h0.8M211.7 370.3h0.8M207.9 361.7h0.8M205.0 369.9h0.8M211.5 377.2h0.8M197.2 374.4h0.8M208.2 360.0h0.8M214.4 370.4h0.8M218.6 361.2h0.8M213.1 361.2h0.8M207.1 362.3h0.8M218.0 367.9h0.8M213.2 359.9h0.8M200.2 373.6h0.8M207.7 368.3h0.8M215.8 359.8h0.8M219.5 365.2h0.8M192.6 363.8h0.8M206.7 374.6h0.8M192.4 372.1h0.8M218.1 374.2h0.8M190.7 365.4h0.8M196.0 383.5h0.8M198.2 393.8h0.8M227.6 385.4h0.8M197.8 403.4h0.8M200.8 396.8h0.8M224.6 398.9h0.8M209.6 403.9h0.8M213.5 402.4h0.8M205.6 396.2h0.8M203.3 390.5h0.8M220.8 402.3h0.8M194.0 381.3h0.8M183.8 373.4h0.8M156.1 367.3h0.8M159.3 369.2h0.8M169.4 408.5h0.8M163.8 383.5h0.8M174.8 373.4h0.8M157.5 405.0h0.8M177.1 494.2h0.8M182.0 477.1h0.8M180.4 501.8h0.8M179.5 476.4h0.8M174.6 468.8h0.8M180.5 489.1h0.8M179.1 468.2h0.8M177.9 466.2h0.8M185.9 462.5h0.8M182.5 496.7h0.8M181.2 460.3h0.8M183.5 490.8h0.8M179.2 496.9h0.8M181.6 480.2h0.8M175.7 481.0h0.8M182.1 461.7h0.8M182.4 477.3h0.8M178.8 483.3h0.8M180.3 484.8h0.8M183.4 472.8h0.8M179.1 459.9h0.8M181.8 462.6h0.8M184.1 465.0h0.8M182.6 488.7h0.8M176.0 478.3h0.8M176.6 502.1h0.8M181.6 470.1h0.8M174.0 492.8h0.8M177.9 490.3h0.8M179.0 492.0h0.8M185.2 475.7h0.8M174.7 487.1h0.8M180.1 467.3h0.8M181.1 482.7h0.8M180.7 497.5h0.8M178.0 471.2h0.8M181.5 488.0h0.8M179.8 485.3h0.8M178.4 482.9h0.8M181.1 474.0h0.8M182.4 487.2h0.8M182.8 478.3h0.8M176.6 496.9h0.8M176.7 480.4h0.8M181.4 486.4h0.8M179.0 483.9h0.8M176.7 483.8h0.8M172.1 486.2h0.8M182.3 491.4h0.8M172.4 479.7h0.8M179.8 481.1h0.8M182.7 483.0h0.8M177.4 476.3h0.8M186.1 483.1h0.8M176.5 481.6h0.8M178.7 491.0h0.8M182.0 481.0h0.8M180.0 487.7h0.8M180.4 496.1h0.8M182.8 483.9h0.8M179.4 493.7h0.8M178.8 485.0h0.8M180.7 478.1h0.8M173.5 471.5h0.8M177.5 481.7h0.8M179.0 478.2h0.8M176.6 484.8h0.8M185.4 482.9h0.8M171.8 479.5h0.8M180.7 500.5h0.8M180.1 476.9h0.8M180.9 487.6h0.8M181.3 481.7h0.8M189.7 490.4h0.8M183.4 478.2h0.8M184.7 473.7h0.8M181.2 484.3h0.8M179.3 484.0h0.8M178.3 488.4h0.8M174.8 476.1h0.8M175.5 502.0h0.8M181.8 477.0h0.8M206.3 453.2h0.8M225.3 459.5h0.8M224.8 460.4h0.8M214.4 460.4h0.8M219.4 456.1h0.8M210.9 461.2h0.8M217.3 462.4h0.8M213.8 455.8h0.8M217.1 461.3h0.8M214.1 462.2h0.8M218.1 477.3h0.8M211.7 478.5h0.8M218.3 472.4h0.8M212.5 497.1h0.8M209.1 490.5h0.8M204.2 479.9h0.8M220.2 480.7h0.8M198.7 471.5h0.8M191.0 458.0h0.8M217.7 486.3h0.8M202.1 472.5h0.8M224.2 458.4h0.8M190.1 477.7h0.8M175.2 487.5h0.8M164.6 490.4h0.8M151.8 497.1h0.8M158.5 453.8h0.8M168.5 468.4h0.8M177.8 567.4h0.8M173.7 571.3h0.8M174.6 582.3h0.8M173.4 556.8h0.8M173.8 584.3h0.8M172.6 591.6h0.8M168.2 580.5h0.8M169.8 559.3h0.8M178.5 587.2h0.8M181.5 590.2h0.8M172.7 586.5h0.8M167.9 563.9h0.8M171.8 592.5h0.8M186.1 564.0h0.8M171.3 560.0h0.8M176.0 566.8h0.8M174.8 563.2h0.8M182.9 578.3h0.8M174.8 581.4h0.8M176.5 565.7h0.8M180.5 563.4h0.8M179.1 556.4h0.8M166.4 567.5h0.8M174.5 593.8h0.8M172.2 573.8h0.8M178.8 559.7h0.8M178.8 584.9h0.8M176.6 593.8h0.8M176.6 560.5h0.8M171.3 575.7h0.8M173.4 567.9h0.8M172.2 583.5h0.8M173.5 558.0h0.8M176.4 594.3h0.8M175.9 580.8h0.8M179.2 564.3h0.8M181.4 578.9h0.8M170.4 580.2h0.8M179.7 575.1h0.8M172.7 590.0h0.8M182.8 571.4h0.8M171.1 561.0h0.8M178.5 585.4h0.8M183.9 574.6h0.8M180.9 588.8h0.8M167.9 564.4h0.8M177.7 564.0h0.8M168.8 572.3h0.8M182.2 562.4h0.8M182.1 579.8h0.8M169.4 558.3h0.8M170.1 560.4h0.8M178.4 574.9h0.8M176.0 568.5h0.8M173.1 569.4h0.8M167.0 573.4h0.8M175.5 557.1h0.8M177.4 576.7h0.8M179.3 579.7h0.8M181.3 585.7h0.8M176.6 564.9h0.8M178.3 588.6h0.8M181.2 595.3h0.8M171.0 582.1h0.8M180.3 568.6h0.8M177.7 587.2h0.8M184.0 560.6h0.8M168.6 585.0h0.8M173.8 582.4h0.8M171.7 583.6h0.8M170.6 589.1h0.8M170.3 562.2h0.8M180.1 579.8h0.8M174.4 562.1h0.8M171.4 568.8h0.8M174.2 587.8h0.8M177.1 586.1h0.8M175.5 553.8h0.8M180.5 586.7h0.8M169.8 561.9h0.8M180.9 583.8h0.8M178.3 586.5h0.8M178.0 585.0h0.8M168.2 582.4h0.8M180.5 597.2h0.8M181.2 556.4h0.8M174.1 585.8h0.8M171.1 573.6h0.8M175.6 559.8h0.8M183.7 568.4h0.8M177.7 556.3h0.8M178.1 562.4h0.8M181.8 564.6h0.8M180.1 552.7h0.8M185.4 579.2h0.8M171.6 589.4h0.8M171.2 590.8h0.8M184.6 578.9h0.8M180.0 596.1h0.8M182.9 586.5h0.8M180.0 565.6h0.8M174.6 569.4h0.8M176.3 561.8h0.8M181.5 593.0h0.8M168.4 583.3h0.8M183.4 569.6h0.8M173.7 595.2h0.8M176.6 588.2h0.8M177.2 579.0h0.8M183.1 577.9h0.8M175.2 570.9h0.8M179.3 587.0h0.8M173.5 573.9h0.8M185.5 571.9h0.8M175.8 574.6h0.8M175.7 558.0h0.8M178.3 590.2h0.8M183.6 594.4h0.8M181.5 561.8h0.8M176.8 581.7h0.8M175.1 560.1h0.8M170.9 579.5h0.8M170.7 575.8h0.8M179.2 597.3h0.8M187.7 572.9h0.8M182.7 573.7h0.8M183.1 592.8h0.8M175.3 584.7h0.8M174.8 567.7h0.8M178.1 565.1h0.8M170.8 591.9h0.8M180.9 576.4h0.8M178.2 564.9h0.8M175.2 592.7h0.8M172.5 572.7h0.8M176.2 556.8h0.8M167.2 576.8h0.8M176.9 572.9h0.8M186.7 571.7h0.8M180.0 571.5h0.8M178.5 593.7h0.8M171.9 579.1h0.8M182.3 570.2h0.8M170.4 593.5h0.8M182.6 594.9h0.8M173.7 599.7h0.8M170.1 583.1h0.8M178.7 570.9h0.8M171.3 577.9h0.8M180.4 584.6h0.8M183.4 582.5h0.8M172.3 568.4h0.8M174.7 556.5h0.8M173.4 565.0h0.8M177.3 590.4h0.8M166.3 565.5h0.8M175.9 553.0h0.8M181.2 579.8h0.8M174.2 596.7h0.8M183.3 580.8h0.8M173.5 590.1h0.8M186.0 564.7h0.8M169.8 580.4h0.8M169.7 567.2h0.8M173.8 580.4h0.8M171.1 569.1h0.8M176.3 589.6h0.8M180.9 594.0h0.8M174.6 579.3h0.8M178.2 579.1h0.8M181.4 583.0h0.8M174.7 592.1h0.8M185.8 583.5h0.8M177.6 572.2h0.8M183.6 571.5h0.8M181.2 566.1h0.8M175.2 573.8h0.8M174.0 584.2h0.8M172.5 567.0h0.8M168.6 570.9h0.8M174.8 552.7h0.8M168.1 574.4h0.8M181.5 594.8h0.8M178.4 597.9h0.8M167.3 570.0h0.8M173.5 554.2h0.8M172.8 587.6h0.8M174.5 570.5h0.8M179.4 598.3h0.8M184.5 563.8h0.8M178.2 592.6h0.8M185.6 572.5h0.8M185.5 565.8h0.8M177.0 559.1h0.8M181.0 566.1h0.8M179.0 581.5h0.8M173.7 575.2h0.8M184.7 565.6h0.8M182.8 575.0h0.8M172.0 557.1h0.8M172.3 572.0h0.8M179.6 592.7h0.8M169.2 583.2h0.8M171.9 576.6h0.8M184.4 582.2h0.8M183.2 587.1h0.8M176.5 551.3h0.8M180.4 594.3h0.8M171.3 580.5h0.8M170.8 559.3h0.8M177.6 560.5h0.8M166.6 585.1h0.8M181.6 551.8h0.8M175.4 598.6h0.8M169.2 582.1h0.8M173.1 588.9h0.8M169.8 579.8h0.8M173.2 570.2h0.8M183.3 555.6h0.8M180.4 582.1h0.8M179.1 599.4h0.8M180.3 559.6h0.8M171.4 585.9h0.8M176.5 599.6h0.8M169.0 597.5h0.8M181.0 575.1h0.8M179.7 574.0h0.8M178.7 577.7h0.8M176.2 578.5h0.8M177.9 578.3h0.8M178.4 557.7h0.8M173.3 555.6h0.8M180.3 592.7h0.8M184.3 588.8h0.8M185.0 558.2h0.8M184.8 574.1h0.8M177.4 595.2h0.8M175.9 588.0h0.8M177.7 598.8h0.8M188.5 571.4h0.8M180.5 571.5h0.8M171.0 578.2h0.8M180.9 564.4h0.8M175.9 563.5h0.8M171.7 555.3h0.8M179.1 588.1h0.8M169.1 585.7h0.8M178.9 583.9h0.8M176.7 585.8h0.8M175.3 566.1h0.8M175.7 581.3h0.8M173.3 581.3h0.8M176.5 583.7h0.8M182.1 580.9h0.8M178.2 563.9h0.8M178.1 567.2h0.8M176.7 574.6h0.8M181.8 574.2h0.8M174.9 572.3h0.8M179.6 583.0h0.8M183.7 570.0h0.8M169.5 571.2h0.8M179.1 557.3h0.8M183.5 585.0h0.8M179.7 595.0h0.8M178.5 582.4h0.8M172.5 598.2h0.8M181.1 562.9h0.8M181.1 559.7h0.8M184.2 579.0h0.8M172.3 577.8h0.8M170.2 574.2h0.8M175.2 585.7h0.8M176.6 576.8h0.8M172.7 567.4h0.8M169.8 565.6h0.8M172.3 569.2h0.8M174.1 597.8h0.8M175.4 569.1h0.8M172.8 563.3h0.8M180.6 560.0h0.8M188.8 577.0h0.8M170.1 566.0h0.8M185.2 575.1h0.8M184.5 586.0h0.8M178.9 571.8h0.8M168.7 573.2h0.8M189.6 568.1h0.8M183.4 600.3h0.8M170.6 564.7h0.8M167.7 553.3h0.8M174.8 564.4h0.8M173.5 568.3h0.8M165.6 591.9h0.8M177.5 551.8h0.8M183.4 563.4h0.8M172.5 581.1h0.8M172.6 582.8h0.8M180.5 580.4h0.8M177.7 569.0h0.8M184.4 587.6h0.8M190.0 577.4h0.8M177.2 588.6h0.8M186.8 585.4h0.8M159.9 564.2h0.8M176.6 570.5h0.8M173.1 562.0h0.8M172.5 556.0h0.8M169.6 564.1h0.8M176.8 596.4h0.8M173.0 580.3h0.8M162.2 581.0h0.8M168.9 559.7h0.8M180.7 599.0h0.8M169.6 599.4h0.8M176.6 580.2h0.8M180.2 568.0h0.8M181.5 600.2h0.8M175.9 591.0h0.8M166.2 578.9h0.8M171.2 588.8h0.8M170.9 553.5h0.8M168.4 577.0h0.8M181.7 591.6h0.8M173.9 579.5h0.8M177.9 565.6h0.8M178.5 569.9h0.8M160.3 562.5h0.8M175.6 590.9h0.8M179.9 558.7h0.8M167.9 586.9h0.8M187.3 570.3h0.8M172.9 588.4h0.8M172.1 585.4h0.8M177.3 575.6h0.8M176.8 587.5h0.8M177.8 570.2h0.8M188.6 584.8h0.8M175.8 576.3h0.8M163.1 570.5h0.8M179.8 570.6h0.8M188.5 577.0h0.8M180.0 576.1h0.8M187.8 576.5h0.8M168.9 575.5h0.8M178.4 537.1h0.8M169.7 575.6h0.8M177.6 559.0h0.8M174.0 576.6h0.8M216.6 559.7h0.8M208.8 564.9h0.8M216.2 569.6h0.8M220.0 558.7h0.8M211.0 553.7h0.8M216.2 570.6h0.8M221.9 570.9h0.8M224.5 564.0h0.8M215.9 568.4h0.8M214.3 560.6h0.8M212.6 571.3h0.8M218.8 567.4h0.8M214.2 576.0h0.8M214.8 563.1h0.8M214.8 573.8h0.8M215.2 559.6h0.8M220.4 568.4h0.8M217.2 563.7h0.8M208.0 565.6h0.8M212.9 571.0h0.8M219.7 568.0h0.8M218.0 564.1h0.8M215.6 567.4h0.8M214.6 557.4h0.8M214.3 561.3h0.8M216.6 560.7h0.8M224.7 571.3h0.8M220.9 569.9h0.8M219.9 564.6h0.8M215.4 564.4h0.8M218.0 570.7h0.8M216.1 574.6h0.8M217.0 564.9h0.8M219.6 563.7h0.8M217.1 566.8h0.8M215.3 569.1h0.8M217.8 568.0h0.8M218.6 562.7h0.8M213.1 568.4h0.8M213.7 566.7h0.8M192.9 590.4h0.8M220.1 585.2h0.8M204.4 568.5h0.8M197.6 553.8h0.8M222.1 589.7h0.8M202.7 570.0h0.8M199.1 552.9h0.8M200.2 578.0h0.8M205.1 594.3h0.8M208.8 597.1h0.8M204.8 585.4h0.8M225.9 562.3h0.8M197.0 586.0h0.8M163.2 564.6h0.8M162.0 601.6h0.8M151.7 568.7h0.8M164.5 596.4h0.8M150.1 566.7h0.8M174.8 549.4h0.8M169.1 555.0h0.8M284.5 467.0h0.8M297.0 468.8h0.8M295.5 468.9h0.8M296.1 464.7h0.8M308.9 464.6h0.8M294.8 469.1h0.8M295.0 464.9h0.8M295.5 475.2h0.8M301.4 469.4h0.8M310.3 464.8h0.8M288.7 474.8h0.8M313.8 471.1h0.8M311.4 468.9h0.8M310.6 468.9h0.8M316.5 469.4h0.8M304.1 469.3h0.8M300.2 470.9h0.8M287.0 468.6h0.8M306.9 470.3h0.8M307.4 468.1h0.8M295.1 463.4h0.8M297.8 472.5h0.8M291.1 464.5h0.8M311.4 471.7h0.8M287.1 469.4h0.8M308.8 467.2h0.8M294.6 465.0h0.8M292.0 470.5h0.8M286.0 474.8h0.8M303.2 471.1h0.8M300.9 467.5h0.8M294.4 473.9h0.8M292.4 468.7h0.8M302.0 471.4h0.8M286.9 469.9h0.8M290.0 470.2h0.8M295.9 465.7h0.8M300.0 468.2h0.8M312.7 469.2h0.8M309.1 473.5h0.8M307.1 466.1h0.8M311.0 470.4h0.8M287.5 473.3h0.8M302.6 472.3h0.8M315.6 469.6h0.8M310.7 471.0h0.8M297.7 471.2h0.8M297.4 464.4h0.8M295.4 467.4h0.8M302.5 468.0h0.8M289.9 470.1h0.8M297.7 467.1h0.8M311.1 465.9h0.8M302.6 467.9h0.8M295.0 472.8h0.8M293.5 467.7h0.8M312.7 470.1h0.8M301.4 471.1h0.8M296.4 470.7h0.8M312.8 457.5h0.8M306.5 471.8h0.8M290.6 473.0h0.8M315.9 468.7h0.8M292.1 466.8h0.8M305.5 472.4h0.8M286.2 472.6h0.8M310.5 471.6h0.8M313.9 470.7h0.8M290.7 471.5h0.8M299.9 470.7h0.8M308.0 476.6h0.8M310.0 472.4h0.8M293.1 469.0h0.8M299.4 472.2h0.8M306.2 469.7h0.8M314.9 470.3h0.8M314.1 467.7h0.8M315.7 465.4h0.8M299.1 469.6h0.8M303.1 472.8h0.8M316.3 468.4h0.8M316.4 473.2h0.8M293.8 469.5h0.8M309.9 467.7h0.8M316.3 470.3h0.8M293.4 475.1h0.8M308.4 471.7h0.8M295.2 466.6h0.8M296.2 469.1h0.8M291.2 461.3h0.8M311.8 469.7h0.8M287.6 460.2h0.8M292.1 463.3h0.8M307.3 472.5h0.8M309.9 469.9h0.8M285.3 463.0h0.8M305.4 467.1h0.8M293.1 466.1h0.8M306.0 466.9h0.8M312.8 465.4h0.8M289.1 469.0h0.8M292.0 470.8h0.8M294.9 470.9h0.8M301.4 466.4h0.8M288.1 472.9h0.8M295.2 470.4h0.8M292.6 471.5h0.8M284.2 464.0h0.8M309.9 464.3h0.8M315.8 474.0h0.8M292.0 473.8h0.8M303.1 463.4h0.8M303.0 464.7h0.8M311.3 464.4h0.8M314.8 473.0h0.8M296.5 473.8h0.8M305.0 467.3h0.8M312.8 467.0h0.8M298.1 473.1h0.8M310.8 465.1h0.8M308.5 468.4h0.8M295.7 469.8h0.8M291.4 471.7h0.8M315.7 471.2h0.8M293.6 471.1h0.8M308.3 474.8h0.8M290.7 467.4h0.8M316.1 466.7h0.8M285.2 466.4h0.8M287.2 463.0h0.8M289.2 468.8h0.8M296.8 472.5h0.8M314.8 469.2h0.8M301.2 468.2h0.8M284.4 471.3h0.8M293.0 469.2h0.8M286.4 464.9h0.8M299.9 467.2h0.8M286.9 461.8h0.8M308.9 470.1h0.8M285.6 465.3h0.8M312.3 475.1h0.8M295.6 474.6h0.8M303.1 466.4h0.8M288.9 473.9h0.8M296.1 475.4h0.8M299.9 468.3h0.8M291.9 465.2h0.8M316.2 472.1h0.8M300.1 469.8h0.8M298.8 469.8h0.8M302.9 470.4h0.8M301.6 467.2h0.8M300.2 464.6h0.8M286.5 471.0h0.8M304.6 463.6h0.8M293.3 458.8h0.8M296.6 469.0h0.8M304.4 470.2h0.8M288.5 470.7h0.8M293.5 464.2h0.8M286.8 468.5h0.8M285.0 469.3h0.8M291.6 466.7h0.8M303.1 470.1h0.8M315.5 473.0h0.8M315.5 476.3h0.8M309.2 465.1h0.8M285.4 467.5h0.8M310.1 469.2h0.8M293.9 463.0h0.8M308.5 473.2h0.8M299.5 471.8h0.8M288.1 465.1h0.8M313.4 466.6h0.8M285.9 473.3h0.8M284.8 468.5h0.8M293.4 470.7h0.8M307.8 467.7h0.8M315.2 470.7h0.8M315.2 465.0h0.8M286.9 467.5h0.8M295.3 471.2h0.8M300.9 471.2h0.8M296.3 476.0h0.8M293.3 473.0h0.8M314.7 471.8h0.8M305.6 468.1h0.8M305.8 471.5h0.8M310.2 475.0h0.8M304.5 464.3h0.8M287.1 467.3h0.8M311.8 468.0h0.8M304.4 471.5h0.8M284.9 472.0h0.8M285.5 465.0h0.8M301.4 470.8h0.8M292.1 468.0h0.8M298.1 466.3h0.8M305.4 469.5h0.8M294.6 465.9h0.8M316.6 465.1h0.8M285.8 468.3h0.8M306.8 475.2h0.8M307.6 471.0h0.8M335.5 466.6h0.8M345.1 468.3h0.8M327.7 470.2h0.8M332.0 466.6h0.8M339.4 466.5h0.8M348.8 467.7h0.8M348.0 467.3h0.8M325.3 466.9h0.8M348.5 471.0h0.8M337.4 471.6h0.8M325.0 469.3h0.8M331.2 469.5h0.8M328.4 467.4h0.8M329.0 464.4h0.8M340.6 472.7h0.8M338.6 463.6h0.8M342.3 461.8h0.8M329.0 469.2h0.8M333.0 467.2h0.8M339.6 470.0h0.8M342.3 469.1h0.8M330.0 466.3h0.8M344.9 475.9h0.8M346.7 473.3h0.8M337.9 476.8h0.8M332.8 471.4h0.8M336.1 472.7h0.8M333.7 471.4h0.8M335.3 471.2h0.8M325.8 463.1h0.8M338.8 469.4h0.8M342.0 472.3h0.8M348.2 470.7h0.8M329.6 470.2h0.8M330.5 465.0h0.8M340.9 469.7h0.8M347.3 463.9h0.8M326.9 470.1h0.8M346.7 467.0h0.8M322.4 470.3h0.8M325.1 468.1h0.8M331.7 467.9h0.8M332.5 469.2h0.8M327.8 466.7h0.8M329.5 466.3h0.8M339.3 465.4h0.8M340.2 467.7h0.8M338.8 467.7h0.8M337.4 469.6h0.8M325.5 471.2h0.8M342.1 465.9h0.8M336.1 467.4h0.8M329.5 468.4h0.8M328.7 465.9h0.8M344.0 471.6h0.8M334.4 469.6h0.8M333.8 472.6h0.8M338.7 472.6h0.8M323.9 470.3h0.8M336.5 472.0h0.8M329.7 467.1h0.8M339.2 469.2h0.8M340.2 471.1h0.8M341.1 471.7h0.8M342.9 472.8h0.8M337.1 472.3h0.8M327.1 467.8h0.8M332.5 468.2h0.8M332.5 464.6h0.8M342.3 466.7h0.8M328.8 468.6h0.8M325.5 467.8h0.8M342.0 476.1h0.8M326.5 466.9h0.8M349.0 466.0h0.8M330.6 472.1h0.8M347.6 466.7h0.8M330.9 467.2h0.8M333.7 468.1h0.8M325.9 474.6h0.8M323.7 469.6h0.8M330.6 473.4h0.8M332.2 472.4h0.8M331.7 465.5h0.8M334.0 464.8h0.8M348.0 472.0h0.8M346.4 474.7h0.8M337.5 474.9h0.8M326.1 470.0h0.8M324.0 465.5h0.8M331.6 472.0h0.8M334.1 466.2h0.8M345.2 466.0h0.8M346.4 469.7h0.8M347.5 472.1h0.8M334.3 470.2h0.8M325.7 470.8h0.8M346.9 465.3h0.8M334.7 471.4h0.8M347.5 469.6h0.8M334.6 467.7h0.8M339.3 472.6h0.8M324.0 476.4h0.8M344.1 473.3h0.8M323.2 463.1h0.8M322.7 471.4h0.8M340.0 471.6h0.8M342.5 470.4h0.8M328.7 471.1h0.8M333.4 467.5h0.8M346.0 463.2h0.8M347.1 464.4h0.8M333.1 470.2h0.8M331.9 470.1h0.8M322.6 464.1h0.8M343.0 470.7h0.8M346.5 466.9h0.8M325.9 473.4h0.8M348.4 469.3h0.8M324.7 462.8h0.8M332.0 470.1h0.8M338.7 472.0h0.8M347.8 473.8h0.8M324.1 478.0h0.8M322.4 466.2h0.8M327.7 471.6h0.8M346.1 468.8h0.8M331.6 472.4h0.8M322.5 463.6h0.8M323.0 469.5h0.8M331.8 468.6h0.8M328.1 465.0h0.8M337.6 473.7h0.8M348.6 468.9h0.8M335.7 470.7h0.8M337.9 463.1h0.8M322.9 473.2h0.8M323.2 465.0h0.8M336.3 463.7h0.8M331.2 466.4h0.8M326.1 475.3h0.8M322.5 476.1h0.8M340.7 468.6h0.8M323.6 467.8h0.8M344.4 462.2h0.8M341.1 470.4h0.8M339.2 463.3h0.8M325.0 469.2h0.8M340.6 475.3h0.8M344.3 472.7h0.8M326.9 471.4h0.8M323.4 466.8h0.8M338.3 468.3h0.8M348.9 473.0h0.8M343.0 469.0h0.8M330.9 469.0h0.8M347.3 471.6h0.8M345.8 473.9h0.8M328.2 469.5h0.8M337.5 466.9h0.8M337.1 460.1h0.8M335.2 469.6h0.8M341.8 468.3h0.8M346.4 464.4h0.8M343.9 474.0h0.8M334.5 465.3h0.8M320.4 468.4h0.8M320.8 468.0h0.8M318.7 471.7h0.8M321.8 469.1h0.8M317.4 470.2h0.8M320.7 471.7h0.8M321.5 463.9h0.8M314.4 462.4h0.8M314.1 474.6h0.8M323.5 475.0h0.8M318.4 474.9h0.8M323.6 468.3h0.8M318.2 468.4h0.8M321.0 473.8h0.8M318.2 471.0h0.8M318.4 466.1h0.8M322.3 474.1h0.8M317.9 472.2h0.8M320.3 475.7h0.8M319.9 474.1h0.8M315.1 467.6h0.8M318.6 468.0h0.8M314.0 463.9h0.8M316.4 467.3h0.8M322.2 467.4h0.8M321.6 466.5h0.8M319.5 472.0h0.8M314.6 465.8h0.8M323.1 465.4h0.8M316.1 475.6h0.8M319.2 468.0h0.8M314.9 468.3h0.8M315.4 463.3h0.8M319.2 471.1h0.8M318.1 475.5h0.8M316.9 474.3h0.8M321.9 468.9h0.8M319.1 470.1h0.8M318.9 463.3h0.8M320.9 466.6h0.8M321.2 465.8h0.8M317.4 473.3h0.8M322.5 460.8h0.8M318.6 469.0h0.8M347.6 498.4h0.8M346.9 486.6h0.8M342.1 491.3h0.8M343.3 501.3h0.8M345.1 485.4h0.8M346.5 491.0h0.8M345.0 493.8h0.8M343.9 488.9h0.8M349.4 481.7h0.8M349.0 489.6h0.8M339.0 495.9h0.8M348.0 483.9h0.8M343.4 482.3h0.8M346.7 489.1h0.8M348.6 482.1h0.8M344.3 491.3h0.8M354.0 478.0h0.8M342.0 493.7h0.8M344.9 499.6h0.8M347.0 500.2h0.8M346.8 491.1h0.8M347.9 478.5h0.8M349.4 478.4h0.8M347.9 492.3h0.8M342.0 501.1h0.8M348.4 492.3h0.8M344.4 490.2h0.8M348.2 499.3h0.8M350.3 491.3h0.8M344.4 494.6h0.8M345.3 490.8h0.8M348.2 484.5h0.8M347.2 496.3h0.8M343.4 485.5h0.8M345.0 486.4h0.8M347.8 489.2h0.8M349.8 485.1h0.8M350.7 484.6h0.8M347.0 482.6h0.8M351.3 491.4h0.8M345.7 476.5h0.8M343.4 491.8h0.8M341.8 489.9h0.8M347.9 494.9h0.8M345.5 500.7h0.8M346.3 479.3h0.8M346.2 481.1h0.8M349.6 494.4h0.8M352.3 477.9h0.8M347.9 480.5h0.8M345.2 499.8h0.8M349.1 479.7h0.8M346.0 497.1h0.8M340.6 495.6h0.8M347.7 484.8h0.8M352.6 500.1h0.8M348.1 487.7h0.8M349.0 491.8h0.8M349.9 500.1h0.8M344.8 483.4h0.8M343.9 497.0h0.8M347.6 491.7h0.8M346.5 494.3h0.8M349.5 476.8h0.8M346.6 480.4h0.8M346.7 477.1h0.8M340.6 488.8h0.8M350.8 498.5h0.8M339.3 481.2h0.8M345.0 478.7h0.8M348.2 489.6h0.8M342.4 501.6h0.8M347.7 477.8h0.8M345.3 497.6h0.8M345.5 495.8h0.8M348.8 479.4h0.8M343.9 495.4h0.8M349.7 491.5h0.8M348.9 494.6h0.8M345.7 483.4h0.8M346.6 493.3h0.8M347.4 476.7h0.8M345.5 498.2h0.8M343.8 484.6h0.8M348.1 497.0h0.8M348.5 488.4h0.8M350.3 492.7h0.8M353.1 498.3h0.8M346.5 485.4h0.8M346.6 487.4h0.8M346.6 476.6h0.8M342.9 487.1h0.8M347.9 495.5h0.8M347.4 488.1h0.8M346.2 484.7h0.8M344.1 482.9h0.8M343.7 501.0h0.8M349.0 485.9h0.8M342.2 499.7h0.8M350.3 483.7h0.8M346.1 493.0h0.8M347.2 487.0h0.8M348.2 481.9h0.8M341.1 498.0h0.8M345.1 496.0h0.8M350.8 480.0h0.8M348.0 497.4h0.8M345.0 484.4h0.8M346.5 499.0h0.8M350.1 489.5h0.8M343.2 497.2h0.8M349.5 478.0h0.8M347.9 481.5h0.8M344.6 501.8h0.8M351.2 486.5h0.8M344.0 500.1h0.8M353.1 499.2h0.8M342.1 486.7h0.8M345.6 477.5h0.8M338.8 479.0h0.8M348.9 490.7h0.8M350.2 501.1h0.8M349.1 484.7h0.8M346.6 500.1h0.8M349.4 493.7h0.8M345.7 491.4h0.8M348.3 486.7h0.8M350.0 485.8h0.8M344.1 478.2h0.8M352.0 492.3h0.8M345.9 479.5h0.8M342.8 482.2h0.8M348.2 497.9h0.8M345.9 492.4h0.8M343.1 492.8h0.8M349.4 501.1h0.8M345.7 488.6h0.8M345.7 484.6h0.8M341.6 495.0h0.8M352.5 489.7h0.8M346.8 483.5h0.8M341.9 495.6h0.8M349.7 497.9h0.8M353.5 495.7h0.8M341.9 481.3h0.8M351.2 494.7h0.8M339.4 491.4h0.8M349.8 490.1h0.8M350.2 488.7h0.8M304.2 484.5h0.8M284.6 478.0h0.8M302.4 496.1h0.8M322.6 477.8h0.8M341.7 502.8h0.8M306.7 478.7h0.8M323.9 481.1h0.8M332.7 495.2h0.8M297.9 478.0h0.8M338.2 501.6h0.8M344.3 486.3h0.8M319.8 477.3h0.8M326.8 501.8h0.8M299.8 490.5h0.8M313.3 500.5h0.8M338.1 492.7h0.8M316.1 482.1h0.8M306.5 482.0h0.8M307.7 508.5h0.8M309.8 477.5h0.8M294.0 488.1h0.8M322.9 490.6h0.8M327.8 482.2h0.8M325.7 480.6h0.8M301.9 493.5h0.8M298.7 494.1h0.8M334.3 484.6h0.8M319.2 485.6h0.8M334.6 485.9h0.8M342.3 477.2h0.8M329.9 488.6h0.8M325.9 487.4h0.8M335.9 477.8h0.8M332.2 498.5h0.8M344.7 480.1h0.8M334.9 492.9h0.8M340.0 476.4h0.8M328.2 497.8h0.8M314.5 480.5h0.8M345.0 480.9h0.8M339.1 489.2h0.8M334.3 479.3h0.8M312.8 477.5h0.8M313.7 476.1h0.8M342.7 492.0h0.8M287.6 477.1h0.8M337.8 478.7h0.8M315.9 502.3h0.8M336.6 483.3h0.8M335.6 480.8h0.8M297.7 500.8h0.8M333.0 497.7h0.8M295.9 504.6h0.8M289.6 507.7h0.8M287.0 485.0h0.8M316.6 496.1h0.8M287.3 481.2h0.8M290.4 496.1h0.8M317.8 484.7h0.8M320.2 488.8h0.8M328.2 480.9h0.8M335.9 478.7h0.8M289.1 481.2h0.8M294.7 486.5h0.8M315.8 496.8h0.8M337.3 481.8h0.8M292.4 496.4h0.8M324.3 476.2h0.8M307.9 489.3h0.8M335.5 487.7h0.8M339.2 478.3h0.8M315.9 486.8h0.8M305.0 482.3h0.8M294.5 481.8h0.8M297.3 486.3h0.8M297.0 479.4h0.8M288.1 481.4h0.8M338.5 481.0h0.8M284.5 478.0h0.8M317.7 476.2h0.8M310.4 481.6h0.8M327.6 494.5h0.8M309.9 482.5h0.8M335.6 486.3h0.8M323.5 491.1h0.8M344.5 477.1h0.8M340.7 480.5h0.8M320.5 484.1h0.8M298.3 486.2h0.8M286.5 487.5h0.8M317.0 478.2h0.8M337.4 486.4h0.8M327.4 484.6h0.8M320.9 497.2h0.8M303.2 477.9h0.8M309.2 487.5h0.8M305.2 492.4h0.8M331.1 492.7h0.8M319.9 476.1h0.8M344.6 496.4h0.8M338.5 498.3h0.8M331.8 482.6h0.8M324.4 495.6h0.8M308.6 482.1h0.8M297.5 485.1h0.8M334.9 488.3h0.8M294.2 484.2h0.8M297.8 482.3h0.8M306.8 493.5h0.8M328.2 480.0h0.8M285.9 477.0h0.8M304.8 478.8h0.8M318.8 478.8h0.8M294.2 489.8h0.8M320.9 494.4h0.8M301.6 484.8h0.8M298.7 480.8h0.8M338.4 476.7h0.8M329.6 497.7h0.8M294.0 479.9h0.8M322.7 495.0h0.8M339.7 494.9h0.8M322.4 482.5h0.8M310.6 476.3h0.8M299.1 487.2h0.8M314.6 478.5h0.8M323.9 495.3h0.8M325.3 490.0h0.8M306.3 490.9h0.8M318.9 483.6h0.8M286.5 478.8h0.8M298.6 476.5h0.8M326.7 485.4h0.8M286.8 497.6h0.8M328.5 494.0h0.8M299.9 483.1h0.8M313.5 488.9h0.8M314.1 487.3h0.8M320.9 486.8h0.8M315.7 495.7h0.8M291.0 482.2h0.8M318.2 482.3h0.8M336.0 480.9h0.8M307.7 484.6h0.8M333.1 501.2h0.8M333.3 476.3h0.8M316.7 493.8h0.8M339.1 486.4h0.8M299.5 491.5h0.8M313.6 491.7h0.8M304.7 481.1h0.8M285.5 486.6h0.8M319.7 503.0h0.8M318.0 487.1h0.8M288.9 482.4h0.8M322.8 487.3h0.8M323.2 490.2h0.8M328.7 487.1h0.8M303.2 490.6h0.8M328.9 495.2h0.8M318.3 496.8h0.8M301.7 482.9h0.8M290.5 480.4h0.8M288.4 484.2h0.8M287.9 488.9h0.8M317.5 481.9h0.8M314.0 485.5h0.8M306.4 482.3h0.8M324.9 492.3h0.8M291.1 481.0h0.8M344.0 502.1h0.8M296.4 505.4h0.8M324.6 504.5h0.8M300.0 482.7h0.8M333.4 486.6h0.8M307.2 488.3h0.8M284.8 479.0h0.8M339.6 480.1h0.8M313.1 486.5h0.8M304.7 508.9h0.8M301.4 487.0h0.8M332.1 479.2h0.8M330.9 491.8h0.8M313.6 479.5h0.8M319.5 487.7h0.8M304.3 477.8h0.8M314.5 487.0h0.8M316.7 494.8h0.8M344.2 497.2h0.8M326.7 483.2h0.8M327.9 496.5h0.8M310.7 484.1h0.8M302.8 477.8h0.8M295.6 485.4h0.8M316.2 491.0h0.8M296.3 483.6h0.8M313.0 490.3h0.8M338.2 504.3h0.8M304.4 495.7h0.8M342.2 481.5h0.8M308.0 487.2h0.8M322.0 483.5h0.8M302.1 484.0h0.8M297.5 476.0h0.8M319.7 490.9h0.8M308.3 488.6h0.8M294.4 483.9h0.8M331.3 476.5h0.8M334.6 481.5h0.8M321.6 491.4h0.8M343.2 486.6h0.8M328.6 476.6h0.8M314.7 483.9h0.8M294.8 493.0h0.8M317.5 490.6h0.8M292.8 490.8h0.8M290.4 476.8h0.8M285.4 499.6h0.8M285.1 483.8h0.8M309.5 496.2h0.8M289.1 485.8h0.8M300.0 482.3h0.8M291.1 486.1h0.8M292.0 492.3h0.8M339.1 483.3h0.8M308.2 486.8h0.8M339.2 477.2h0.8M308.1 483.3h0.8M336.9 494.9h0.8M291.9 489.5h0.8M326.2 499.8h0.8M296.1 492.7h0.8M295.7 479.2h0.8M290.5 478.5h0.8M286.2 479.8h0.8M300.1 477.6h0.8M292.9 495.6h0.8M302.2 483.4h0.8M294.8 488.0h0.8M311.4 477.8h0.8M287.8 487.5h0.8M296.4 498.8h0.8M332.3 477.0h0.8M324.2 485.7h0.8M303.7 482.3h0.8M298.2 483.4h0.8M321.3 486.7h0.8M285.5 477.9h0.8M323.4 494.7h0.8M322.5 480.5h0.8M292.9 480.7h0.8M290.2 481.1h0.8M316.8 483.2h0.8M335.2 491.9h0.8M316.8 487.9h0.8M310.4 491.8h0.8M284.3 490.1h0.8M287.1 477.0h0.8M331.0 477.1h0.8M320.4 480.3h0.8M327.5 485.8h0.8M304.0 479.9h0.8M308.1 480.0h0.8M331.0 482.3h0.8M293.4 483.9h0.8M317.8 503.9h0.8M298.0 487.1h0.8M340.6 476.3h0.8M310.9 479.5h0.8M299.1 477.8h0.8M300.6 486.4h0.8M301.3 491.6h0.8M305.0 494.7h0.8M304.8 490.1h0.8M284.4 486.7h0.8M324.9 489.9h0.8M340.3 481.2h0.8M321.6 504.9h0.8M291.5 484.7h0.8M326.0 484.5h0.8M296.6 486.3h0.8M326.4 486.1h0.8M308.4 480.5h0.8M299.7 478.0h0.8M341.4 477.0h0.8M299.6 484.7h0.8M302.2 498.6h0.8M340.1 484.3h0.8M290.5 483.0h0.8M313.2 477.3h0.8M342.3 478.5h0.8M323.4 493.4h0.8M329.3 477.7h0.8M289.6 480.2h0.8M323.7 487.4h0.8M320.3 499.0h0.8M323.8 477.4h0.8M328.0 481.2h0.8M322.3 485.6h0.8M285.8 509.5h0.8M316.2 492.8h0.8M317.1 477.1h0.8M316.6 497.3h0.8M340.6 501.6h0.8M317.6 482.3h0.8M333.7 491.9h0.8M312.8 485.9h0.8M311.9 503.6h0.8M285.7 505.2h0.8M327.5 481.4h0.8M291.9 495.8h0.8M334.8 476.8h0.8M324.1 494.8h0.8M318.7 493.7h0.8M326.3 478.8h0.8M317.7 489.2h0.8M338.8 499.2h0.8M294.3 485.1h0.8M329.8 487.7h0.8M301.9 488.6h0.8M343.3 489.9h0.8M305.2 481.6h0.8M319.2 504.4h0.8M299.6 505.8h0.8M326.1 489.8h0.8M315.1 507.2h0.8M337.8 477.5h0.8M334.7 489.5h0.8M293.5 478.0h0.8M309.4 491.1h0.8M340.8 478.7h0.8M336.9 487.6h0.8M319.5 484.5h0.8M304.2 489.4h0.8M329.0 484.5h0.8M322.6 500.5h0.8M308.9 484.8h0.8M292.7 479.9h0.8M332.5 495.0h0.8M289.7 476.8h0.8M288.1 505.2h0.8M343.6 479.6h0.8M335.4 488.0h0.8M288.7 479.7h0.8M344.3 485.4h0.8M345.0 487.5h0.8M309.6 481.5h0.8M331.6 491.4h0.8M306.2 498.3h0.8M341.3 487.9h0.8M335.6 482.3h0.8M307.1 490.7h0.8M320.8 498.5h0.8M324.7 478.8h0.8M304.8 487.1h0.8M304.3 476.8h0.8M321.6 480.6h0.8M325.9 481.1h0.8M310.4 505.4h0.8M309.0 496.8h0.8M306.7 483.6h0.8M330.8 498.0h0.8M322.3 492.2h0.8M290.5 494.6h0.8M293.3 481.4h0.8M311.7 481.7h0.8M294.4 490.2h0.8M316.7 490.6h0.8M322.1 479.7h0.8M332.3 488.2h0.8M321.2 488.7h0.8M293.3 479.6h0.8M328.4 502.2h0.8M302.0 476.6h0.8M298.3 478.0h0.8M315.2 483.0h0.8M291.5 478.4h0.8M298.2 479.5h0.8M285.8 487.2h0.8M336.1 483.0h0.8M320.5 479.6h0.8M329.0 500.1h0.8M296.7 489.8h0.8M338.0 487.6h0.8M311.2 486.2h0.8M330.1 483.6h0.8M336.1 492.6h0.8M288.3 488.3h0.8M333.8 489.4h0.8M309.6 495.9h0.8M327.4 484.0h0.8M294.3 482.3h0.8M312.5 481.5h0.8M313.6 478.8h0.8M286.5 477.3h0.8M305.5 483.4h0.8M315.3 479.6h0.8M332.9 481.7h0.8M312.0 504.1h0.8M329.3 485.4h0.8M296.5 495.7h0.8M312.0 484.6h0.8M320.0 477.4h0.8M290.6 503.1h0.8M338.6 493.2h0.8M314.3 493.5h0.8M341.8 478.9h0.8M310.1 490.5h0.8M329.7 480.0h0.8M309.8 505.3h0.8M340.1 486.1h0.8M292.7 477.0h0.8M301.5 489.6h0.8M292.1 485.7h0.8M284.3 477.0h0.8M287.1 493.1h0.8M307.9 482.7h0.8M323.2 478.4h0.8M298.6 482.9h0.8M318.5 477.9h0.8M312.2 478.3h0.8M324.1 487.3h0.8M336.3 481.8h0.8M298.5 491.8h0.8M323.6 480.5h0.8M295.9 498.0h0.8M310.4 482.4h0.8M334.7 477.3h0.8M338.8 477.1h0.8M331.1 479.1h0.8M287.6 478.3h0.8M302.0 477.1h0.8M326.0 479.0h0.8M284.0 480.6h0.8M326.8 476.9h0.8M285.1 481.1h0.8M296.0 486.8h0.8M288.2 476.9h0.8M287.3 489.2h0.8M323.2 485.6h0.8M291.7 482.5h0.8M294.1 477.2h0.8M295.4 481.2h0.8M339.6 482.5h0.8M309.2 480.3h0.8M316.4 476.9h0.8M331.9 489.3h0.8M318.5 489.7h0.8M311.0 478.8h0.8M337.9 485.4h0.8M285.9 479.2h0.8M333.1 482.3h0.8M305.4 482.8h0.8M331.1 480.0h0.8M287.3 485.3h0.8M303.0 488.7h0.8M336.0 490.7h0.8M320.7 478.9h0.8M327.4 480.5h0.8M302.8 488.8h0.8M296.5 479.9h0.8M312.0 480.2h0.8M333.5 481.5h0.8M304.0 492.6h0.8M327.1 493.4h0.8M314.3 476.6h0.8M306.9 488.3h0.8M334.2 482.7h0.8M333.9 489.0h0.8M337.9 483.5h0.8M325.7 493.2h0.8M286.5 480.7h0.8M316.3 479.4h0.8M310.5 493.1h0.8M289.2 484.7h0.8M287.1 483.7h0.8M294.1 478.5h0.8M323.6 486.4h0.8M307.4 478.7h0.8M329.0 482.3h0.8M291.0 485.1h0.8M301.2 480.0h0.8M317.0 478.8h0.8M325.2 477.6h0.8M291.5 479.7h0.8M285.2 478.7h0.8M320.7 485.0h0.8M288.2 477.2h0.8M306.0 485.9h0.8M336.9 477.8h0.8M294.7 476.9h0.8M322.4 484.2h0.8M330.4 476.0h0.8M310.1 478.2h0.8M303.5 478.2h0.8M336.3 479.5h0.8M285.3 485.8h0.8M315.7 480.7h0.8M288.5 486.7h0.8M315.9 481.3h0.8M308.8 481.3h0.8M318.6 481.6h0.8M293.2 493.2h0.8M318.1 484.1h0.8M334.7 483.9h0.8M305.4 478.8h0.8M324.7 479.5h0.8M311.9 495.5h0.8M315.5 488.1h0.8M331.7 481.2h0.8M292.0 486.9h0.8M307.5 481.5h0.8M285.9 488.6h0.8M325.5 486.9h0.8M333.3 488.0h0.8M305.8 480.4h0.8M310.8 483.8h0.8M338.2 484.1h0.8M300.6 479.4h0.8M329.7 483.7h0.8M302.6 481.8h0.8M332.6 477.9h0.8M324.8 481.0h0.8M301.6 485.3h0.8M301.9 478.2h0.8M312.0 480.0h0.8M321.4 483.9h0.8M337.5 479.4h0.8M302.3 490.9h0.8M298.8 481.8h0.8M296.2 477.7h0.8M308.6 478.2h0.8M310.1 480.8h0.8M323.6 483.8h0.8M334.4 478.4h0.8M289.5 490.7h0.8M304.2 479.5h0.8M294.0 488.2h0.8M296.9 482.7h0.8M311.5 488.8h0.8M286.8 490.1h0.8M330.6 477.5h0.8M315.2 484.3h0.8M300.1 478.5h0.8M308.8 485.1h0.8M299.2 481.6h0.8M315.4 477.5h0.8M293.4 482.4h0.8M297.9 481.7h0.8M338.9 491.6h0.8M336.7 491.0h0.8M335.6 476.4h0.8M317.0 480.4h0.8M305.0 485.9h0.8M298.3 477.8h0.8M292.2 489.9h0.8M314.1 479.9h0.8M299.5 476.5h0.8M333.5 485.2h0.8M328.2 477.1h0.8M286.3 488.6h0.8M308.0 477.6h0.8M314.2 490.6h0.8M291.1 481.1h0.8M295.9 477.0h0.8M321.9 485.1h0.8M293.3 485.9h0.8M289.1 477.4h0.8M302.6 485.3h0.8M287.5 480.6h0.8M295.2 494.0h0.8M306.2 476.8h0.8M339.4 484.5h0.8M327.5 478.9h0.8M290.4 477.2h0.8M310.2 477.5h0.8M338.1 481.0h0.8M312.3 482.3h0.8M316.0 463.8h0.8M340.5 463.1h0.8M288.0 464.7h0.8M344.2 464.1h0.8M350.0 459.9h0.8M302.5 461.4h0.8M342.2 462.3h0.8M301.6 462.0h0.8M335.8 460.1h0.8M334.9 461.5h0.8M349.2 463.8h0.8M333.2 463.2h0.8M334.4 463.5h0.8M436.8 370.6h0.8M437.5 368.9h0.8M445.6 366.2h0.8M446.7 369.1h0.8M443.1 368.6h0.8M444.3 373.6h0.8M431.2 365.6h0.8M444.2 370.8h0.8M438.3 363.7h0.8M439.9 366.7h0.8M429.5 363.5h0.8M441.7 378.5h0.8M442.1 370.7h0.8M442.6 364.8h0.8M446.2 359.9h0.8M444.9 363.6h0.8M441.4 356.7h0.8M435.0 371.6h0.8M440.1 362.4h0.8M437.0 377.6h0.8M442.0 359.7h0.8M445.8 365.1h0.8M438.1 370.3h0.8M438.9 359.2h0.8M446.8 359.0h0.8M441.1 370.7h0.8M440.4 370.7h0.8M439.3 358.0h0.8M444.8 356.2h0.8M446.2 375.1h0.8M447.1 363.5h0.8M431.2 376.2h0.8M439.2 370.3h0.8M435.5 377.4h0.8M441.2 373.5h0.8M439.6 358.0h0.8M431.0 371.9h0.8M445.6 372.1h0.8M448.5 374.0h0.8M454.1 365.3h0.8M441.8 358.3h0.8M438.6 364.1h0.8M435.4 360.9h0.8M435.2 371.9h0.8M444.9 367.4h0.8M432.6 377.3h0.8M437.0 362.1h0.8M438.6 360.4h0.8M435.8 367.3h0.8M439.5 356.7h0.8M447.3 372.4h0.8M432.8 373.9h0.8M438.8 365.1h0.8M444.9 375.3h0.8M434.0 371.5h0.8M439.8 378.0h0.8M440.8 374.3h0.8M444.0 360.5h0.8M445.9 369.4h0.8M442.2 360.3h0.8M437.2 374.4h0.8M446.6 375.0h0.8M434.1 367.4h0.8M449.1 370.1h0.8M443.8 364.5h0.8M430.8 374.8h0.8M435.4 373.2h0.8M440.0 358.4h0.8M441.6 376.2h0.8M449.1 362.2h0.8M446.6 372.2h0.8M438.6 361.3h0.8M442.5 373.9h0.8M441.1 377.6h0.8M443.1 366.6h0.8M443.6 373.9h0.8M448.0 360.9h0.8M449.1 377.4h0.8M432.4 370.5h0.8M444.1 366.6h0.8M444.7 376.2h0.8M441.4 365.1h0.8M447.0 365.5h0.8M446.1 377.1h0.8M428.0 369.7h0.8M446.2 365.8h0.8M438.1 372.6h0.8M436.4 361.8h0.8M433.6 367.2h0.8M453.5 371.3h0.8M433.6 364.6h0.8M436.4 364.9h0.8M433.4 370.3h0.8M441.5 363.9h0.8M436.8 365.1h0.8M437.4 372.2h0.8M450.5 369.7h0.8M451.3 370.8h0.8M441.9 375.7h0.8M445.3 371.1h0.8M439.5 376.1h0.8M437.7 372.0h0.8M429.7 367.4h0.8M440.7 365.0h0.8M442.2 374.7h0.8M434.2 362.6h0.8M436.8 368.5h0.8M448.2 371.9h0.8M441.2 366.2h0.8M432.0 364.2h0.8M440.8 377.7h0.8M434.9 375.0h0.8M449.8 369.6h0.8M430.7 367.7h0.8M445.3 375.2h0.8M438.9 377.6h0.8M444.4 359.5h0.8M436.5 376.1h0.8M450.8 370.3h0.8M435.5 364.9h0.8M447.0 374.7h0.8M449.9 373.5h0.8M441.2 369.3h0.8M446.6 363.7h0.8M437.2 370.3h0.8M444.2 364.8h0.8M445.9 362.0h0.8M439.6 364.4h0.8M430.8 366.7h0.8M442.7 366.4h0.8M448.5 359.6h0.8M432.5 364.6h0.8M452.1 370.9h0.8M440.5 367.7h0.8M436.4 360.6h0.8M440.6 372.4h0.8M435.1 379.2h0.8M443.0 369.5h0.8M439.6 372.6h0.8M442.4 368.7h0.8M429.0 370.6h0.8M439.1 363.2h0.8M436.7 362.2h0.8M426.0 368.4h0.8M439.4 369.7h0.8M446.4 362.7h0.8M429.4 361.9h0.8M450.5 360.4h0.8M440.4 378.1h0.8M447.2 367.3h0.8M436.7 371.9h0.8M445.6 360.8h0.8M432.3 366.3h0.8M433.5 359.6h0.8M437.6 375.7h0.8M439.6 362.9h0.8M440.0 365.1h0.8M447.9 371.3h0.8M425.7 366.4h0.8M451.9 366.9h0.8M448.7 368.4h0.8M434.0 363.7h0.8M442.6 367.8h0.8M453.9 370.7h0.8M436.0 363.7h0.8M437.6 369.1h0.8M429.3 358.6h0.8M439.2 360.0h0.8M437.2 373.7h0.8M443.9 375.7h0.8M451.4 374.8h0.8M444.2 374.4h0.8M434.4 360.3h0.8M445.2 374.2h0.8M446.2 368.1h0.8M449.4 367.6h0.8M432.7 367.5h0.8M438.8 372.0h0.8M435.0 373.5h0.8M440.2 362.0h0.8M441.6 361.7h0.8M436.2 372.4h0.8M438.5 362.7h0.8M439.7 368.5h0.8M439.5 367.4h0.8M436.8 366.1h0.8M440.1 375.3h0.8M438.5 381.1h0.8M440.9 371.6h0.8M444.3 360.1h0.8M449.5 371.4h0.8M442.7 372.8h0.8M434.8 364.4h0.8M445.8 370.8h0.8M431.2 375.0h0.8M444.0 372.0h0.8M434.3 363.6h0.8M442.4 379.6h0.8M446.7 360.5h0.8M439.0 374.5h0.8M447.2 361.8h0.8M441.9 361.0h0.8M441.5 371.9h0.8M435.2 368.3h0.8M447.1 364.7h0.8M435.0 366.0h0.8M444.7 372.6h0.8M447.4 356.3h0.8M449.8 363.3h0.8M441.1 367.7h0.8M451.2 365.2h0.8M432.2 378.1h0.8M436.7 373.6h0.8M431.2 363.1h0.8M434.3 368.5h0.8M436.3 374.6h0.8M438.0 369.2h0.8M438.2 374.3h0.8M446.4 357.6h0.8M447.1 376.0h0.8M439.0 375.6h0.8M450.2 364.2h0.8M432.5 371.3h0.8M440.4 373.6h0.8M453.5 372.2h0.8M446.2 371.4h0.8M430.2 365.0h0.8M438.6 357.5h0.8M429.3 366.9h0.8M428.3 375.8h0.8M436.9 367.1h0.8M448.3 362.8h0.8M441.2 379.5h0.8M436.5 398.2h0.8M444.9 398.4h0.8M446.6 388.2h0.8M447.3 381.7h0.8M449.1 398.1h0.8M442.1 385.7h0.8M449.4 386.0h0.8M442.1 382.6h0.8M436.9 392.0h0.8M449.2 394.2h0.8M445.1 393.7h0.8M437.6 379.0h0.8M442.5 390.0h0.8M437.8 391.9h0.8M448.6 397.8h0.8M448.4 393.3h0.8M434.2 389.5h0.8M444.2 380.1h0.8M438.0 395.1h0.8M444.9 401.8h0.8M437.5 394.5h0.8M447.1 392.4h0.8M441.4 383.8h0.8M443.4 379.0h0.8M445.3 395.8h0.8M447.9 387.3h0.8M441.3 398.3h0.8M442.1 376.7h0.8M439.3 383.3h0.8M448.1 392.2h0.8M444.8 396.5h0.8M438.8 383.3h0.8M439.4 405.0h0.8M439.5 399.4h0.8M452.2 389.9h0.8M448.7 385.0h0.8M448.0 389.4h0.8M442.1 391.2h0.8M439.8 384.6h0.8M441.0 388.3h0.8M451.7 386.9h0.8M442.0 403.7h0.8M445.9 385.6h0.8M444.4 393.1h0.8M440.3 394.7h0.8M439.0 384.1h0.8M436.2 389.4h0.8M449.4 382.6h0.8M439.3 387.7h0.8M438.8 393.5h0.8M445.7 387.4h0.8M437.1 403.2h0.8M441.0 393.7h0.8M441.0 382.6h0.8M444.7 383.5h0.8M446.7 387.3h0.8M435.4 387.0h0.8M449.7 386.5h0.8M447.1 388.7h0.8M447.9 384.0h0.8M445.0 399.6h0.8M443.4 390.2h0.8M449.4 388.9h0.8M440.7 385.8h0.8M435.9 390.6h0.8M439.1 385.1h0.8M434.1 387.6h0.8M445.0 408.4h0.8M442.4 395.3h0.8M441.8 400.5h0.8M438.8 389.7h0.8M445.2 389.7h0.8M437.8 388.8h0.8M436.7 396.5h0.8M442.4 393.9h0.8M436.3 398.0h0.8M447.5 390.9h0.8M451.8 387.5h0.8M442.0 398.2h0.8M446.2 381.4h0.8M436.1 399.8h0.8M443.8 395.2h0.8M442.9 397.0h0.8M443.1 404.3h0.8M441.9 380.1h0.8M435.8 395.2h0.8M441.8 386.9h0.8M438.0 400.8h0.8M446.5 389.3h0.8M445.1 396.2h0.8M444.8 390.6h0.8M441.0 397.6h0.8M443.5 396.7h0.8M438.8 400.2h0.8M439.3 380.9h0.8M436.2 385.9h0.8M438.5 403.4h0.8M442.9 380.1h0.8M441.6 391.4h0.8M450.2 383.4h0.8M438.7 392.7h0.8M443.5 389.8h0.8M445.3 394.5h0.8M440.5 396.7h0.8M445.3 391.7h0.8M436.3 393.9h0.8M440.7 380.6h0.8M449.4 397.3h0.8M448.4 381.6h0.8M444.6 387.4h0.8M437.6 390.6h0.8M440.1 383.5h0.8M448.0 401.6h0.8M440.4 399.2h0.8M439.9 394.4h0.8M447.0 398.9h0.8M437.6 402.5h0.8M439.6 400.9h0.8M442.8 400.3h0.8M445.5 377.8h0.8M437.8 399.2h0.8M443.8 386.5h0.8M451.7 383.6h0.8M440.7 390.6h0.8M447.2 382.1h0.8M444.7 392.9h0.8M449.9 389.5h0.8M441.3 389.8h0.8M448.0 399.4h0.8M447.5 389.8h0.8M444.3 378.4h0.8M449.0 386.0h0.8M441.0 404.5h0.8M438.8 398.0h0.8M436.5 394.9h0.8M439.3 382.1h0.8M446.4 394.8h0.8M440.9 379.2h0.8M448.0 386.3h0.8M440.5 384.2h0.8M440.7 391.6h0.8M438.3 396.1h0.8M443.6 388.6h0.8M443.1 380.9h0.8M442.9 392.2h0.8M439.7 396.3h0.8M440.8 395.6h0.8M440.0 398.6h0.8M442.3 401.7h0.8M442.2 386.6h0.8M437.5 389.9h0.8M435.6 399.3h0.8M445.5 381.4h0.8M437.6 397.8h0.8M432.2 388.7h0.8M434.9 386.2h0.8M435.5 385.6h0.8M448.9 396.5h0.8M434.8 395.3h0.8M435.8 393.6h0.8M440.9 405.4h0.8M441.5 385.3h0.8M433.7 390.1h0.8M439.9 392.3h0.8M447.2 383.1h0.8M451.7 391.9h0.8M443.8 392.6h0.8M447.3 404.6h0.8M440.0 406.2h0.8M450.0 387.7h0.8M443.3 399.0h0.8M446.1 382.4h0.8M444.5 403.0h0.8M438.4 385.2h0.8M444.1 379.8h0.8M443.0 397.1h0.8M444.3 404.7h0.8M443.1 397.0h0.8M450.5 390.7h0.8M448.2 388.8h0.8M434.6 394.0h0.8M448.0 401.1h0.8M443.9 401.2h0.8M443.5 385.3h0.8M443.0 383.1h0.8M446.7 393.5h0.8M441.8 397.6h0.8M446.2 380.2h0.8M446.0 406.4h0.8M441.1 394.1h0.8M449.9 380.6h0.8M441.5 387.4h0.8M442.8 403.0h0.8M444.9 397.9h0.8M448.5 395.5h0.8M435.2 402.4h0.8M438.1 379.9h0.8M439.7 388.5h0.8M447.2 378.6h0.8M444.7 377.2h0.8M434.0 392.6h0.8M448.7 390.6h0.8M445.7 380.7h0.8M435.2 378.1h0.8M431.9 393.4h0.8M442.8 377.9h0.8M450.1 394.7h0.8M445.4 399.4h0.8M438.0 390.9h0.8M442.9 381.1h0.8M437.1 405.2h0.8M451.6 392.7h0.8M444.6 386.9h0.8M450.7 393.4h0.8M447.5 380.4h0.8M439.0 405.4h0.8M445.0 392.0h0.8M447.5 400.5h0.8M445.0 387.0h0.8M444.5 403.0h0.8M442.0 393.5h0.8M444.6 389.4h0.8M436.7 390.5h0.8M440.7 392.1h0.8M444.0 398.1h0.8M442.2 384.9h0.8M444.1 369.5h0.8M433.7 379.9h0.8M442.2 399.0h0.8M443.3 371.4h0.8M439.0 373.3h0.8M431.2 399.3h0.8M431.2 377.1h0.8M455.8 366.2h0.8M424.8 373.3h0.8M439.3 390.9h0.8M431.7 380.5h0.8M433.6 372.6h0.8M443.8 374.2h0.8M444.7 385.6h0.8M425.2 384.5h0.8M435.1 357.8h0.8M439.5 395.1h0.8M450.5 388.4h0.8M432.4 393.0h0.8M450.8 385.2h0.8M421.6 402.7h0.8M427.7 397.1h0.8M452.1 391.0h0.8M449.7 372.2h0.8M450.4 404.4h0.8M453.8 360.8h0.8M447.3 385.7h0.8M443.1 402.5h0.8M446.2 378.0h0.8M428.6 389.6h0.8M441.7 372.1h0.8M431.9 401.8h0.8M459.7 374.4h0.8M423.3 388.2h0.8M428.1 388.9h0.8M447.4 386.8h0.8M429.7 356.2h0.8M452.1 375.3h0.8M445.2 382.2h0.8M456.7 385.8h0.8M444.6 388.4h0.8M444.1 384.9h0.8M429.6 394.7h0.8M452.1 372.7h0.8M461.0 385.4h0.8M441.7 368.7h0.8M432.0 374.1h0.8M447.5 377.4h0.8M443.9 370.1h0.8M442.0 361.8h0.8M444.6 382.6h0.8M435.4 376.1h0.8M430.4 393.2h0.8M435.0 404.8h0.8M434.6 409.9h0.8M460.4 373.2h0.8M421.2 360.1h0.8M436.4 391.2h0.8M454.1 383.9h0.8M435.1 382.5h0.8M439.7 390.0h0.8M433.1 369.1h0.8M417.5 381.3h0.8M454.6 378.0h0.8M441.5 402.6h0.8M423.7 373.6h0.8M445.7 400.1h0.8M441.1 374.5h0.8M437.6 367.6h0.8M436.4 379.1h0.8M449.0 391.0h0.8M427.5 381.6h0.8M457.8 382.7h0.8M448.1 367.3h0.8M446.3 391.8h0.8M437.7 382.2h0.8M443.4 393.5h0.8M449.2 379.7h0.8M454.9 384.4h0.8M437.9 387.3h0.8M443.7 339.3h0.8M449.7 355.8h0.8M454.4 369.9h0.8M437.5 366.8h0.8M450.2 374.0h0.8M438.6 382.2h0.8M454.6 394.8h0.8M445.9 378.4h0.8M439.4 378.1h0.8M439.3 397.1h0.8M435.0 383.6h0.8M425.0 371.4h0.8M446.3 373.7h0.8M432.1 391.3h0.8M440.5 387.0h0.8M443.3 379.7h0.8M433.4 382.9h0.8M455.4 386.4h0.8M430.9 376.9h0.8M423.8 367.1h0.8M433.6 386.0h0.8M429.6 382.8h0.8M446.7 379.6h0.8M433.8 388.5h0.8M436.3 380.6h0.8M459.0 401.1h0.8M439.4 379.9h0.8M437.1 386.1h0.8M456.9 381.4h0.8M425.0 370.2h0.8M425.7 370.0h0.8M428.4 361.2h0.8M418.6 371.0h0.8M422.0 354.5h0.8M431.0 378.9h0.8M429.0 374.0h0.8M420.3 380.2h0.8M419.4 377.1h0.8M418.0 376.2h0.8M421.9 372.7h0.8M424.4 376.4h0.8M425.7 373.4h0.8M428.6 360.3h0.8M425.2 380.2h0.8M422.6 361.4h0.8M429.6 378.5h0.8M422.1 381.4h0.8M425.6 381.4h0.8M429.7 371.1h0.8M422.9 372.5h0.8M420.8 362.7h0.8M426.3 365.2h0.8M433.9 377.7h0.8M429.3 364.3h0.8M428.8 378.2h0.8M423.4 376.2h0.8M423.9 375.6h0.8M427.1 371.6h0.8M419.4 370.2h0.8M423.6 374.5h0.8M425.0 358.6h0.8M421.8 377.8h0.8M427.8 378.4h0.8M477.7 368.3h0.8M463.6 364.0h0.8M474.9 366.8h0.8M462.4 370.0h0.8M463.3 372.4h0.8M463.7 367.3h0.8M467.7 373.6h0.8M469.7 365.6h0.8M463.0 368.6h0.8M473.5 365.2h0.8M470.6 372.5h0.8M472.8 371.9h0.8M465.0 371.6h0.8M470.9 371.6h0.8M471.8 372.4h0.8M461.7 370.8h0.8M474.4 364.1h0.8M465.8 370.0h0.8M466.2 369.2h0.8M461.8 366.3h0.8M472.5 370.3h0.8M473.5 369.3h0.8M470.0 366.7h0.8M459.5 371.5h0.8M480.0 370.9h0.8M481.3 370.8h0.8M459.3 372.3h0.8M462.3 364.3h0.8M466.8 368.6h0.8M461.3 368.9h0.8M466.5 366.1h0.8M473.8 371.6h0.8M465.4 375.1h0.8M460.9 374.1h0.8M474.2 369.1h0.8M475.2 370.1h0.8M462.1 365.2h0.8M469.8 368.7h0.8M462.8 366.4h0.8M479.1 369.9h0.8M478.5 367.4h0.8M473.6 363.2h0.8M473.9 370.7h0.8M466.8 362.1h0.8M468.9 371.2h0.8M476.3 363.3h0.8M463.7 365.9h0.8M467.1 369.3h0.8M471.6 371.2h0.8M467.6 374.0h0.8M456.9 367.2h0.8M472.6 363.8h0.8M472.1 374.9h0.8M470.4 364.7h0.8M472.7 368.9h0.8M460.8 365.5h0.8M472.1 364.9h0.8M477.2 366.3h0.8M477.6 369.7h0.8M460.6 363.7h0.8M466.7 372.2h0.8M458.7 367.2h0.8M469.9 371.5h0.8M475.7 361.3h0.8M475.8 366.6h0.8M458.8 364.5h0.8M479.1 371.5h0.8M471.0 368.8h0.8M464.0 370.2h0.8M471.5 373.9h0.8M471.3 365.5h0.8M469.9 372.1h0.8M473.8 368.1h0.8M466.4 364.0h0.8M471.9 366.4h0.8M470.9 367.7h0.8M467.5 366.3h0.8M477.3 365.6h0.8M476.9 374.5h0.8M479.2 372.6h0.8M471.1 369.7h0.8M483.8 366.5h0.8M464.7 371.4h0.8M478.9 372.2h0.8M475.5 365.5h0.8M461.0 366.0h0.8M468.8 365.0h0.8M477.4 363.8h0.8M480.5 369.1h0.8M466.0 367.3h0.8M475.5 363.0h0.8M473.5 367.8h0.8M466.8 371.1h0.8M472.1 369.2h0.8M461.9 371.1h0.8M472.9 366.7h0.8M482.9 370.3h0.8M469.2 364.3h0.8M476.8 368.4h0.8M477.4 370.3h0.8M479.6 367.6h0.8M462.8 367.9h0.8M474.6 371.7h0.8M474.8 370.4h0.8M471.2 363.9h0.8M469.6 369.1h0.8M469.0 363.5h0.8M475.5 364.0h0.8M467.3 367.7h0.8M465.4 374.3h0.8M463.3 368.7h0.8M455.5 373.1h0.8M468.0 370.8h0.8M459.0 369.1h0.8M474.6 367.5h0.8M483.5 372.2h0.8M462.6 373.9h0.8M471.0 359.6h0.8M455.8 369.6h0.8M448.8 378.8h0.8M462.6 349.1h0.8M474.1 372.7h0.8M476.9 373.0h0.8M470.6 366.3h0.8M473.3 364.3h0.8M471.2 378.9h0.8M466.0 358.5h0.8M484.0 363.0h0.8M474.6 363.1h0.8M460.8 367.3h0.8M479.1 381.1h0.8M478.5 384.9h0.8M450.5 368.7h0.8M476.7 372.5h0.8M458.1 374.0h0.8M483.8 374.4h0.8M452.3 385.8h0.8M474.7 377.7h0.8M473.0 375.0h0.8M464.2 374.2h0.8M462.9 359.1h0.8M468.9 382.1h0.8M465.4 370.5h0.8M473.7 359.8h0.8M468.9 361.0h0.8M480.1 383.8h0.8M477.9 372.2h0.8M481.3 380.8h0.8M466.2 375.3h0.8M477.4 361.2h0.8M475.9 369.9h0.8M474.6 380.1h0.8M457.6 372.6h0.8M465.7 361.7h0.8M468.3 366.7h0.8M455.9 367.3h0.8M481.5 385.7h0.8M461.5 380.3h0.8M470.2 370.3h0.8M478.6 362.2h0.8M467.5 385.1h0.8M460.9 377.2h0.8M477.0 386.1h0.8M465.6 376.2h0.8M464.6 348.9h0.8M459.7 370.2h0.8M488.9 371.8h0.8M467.0 377.4h0.8M461.7 364.4h0.8M463.0 377.1h0.8M468.7 379.9h0.8M462.4 385.5h0.8M455.8 379.7h0.8M473.0 395.7h0.8M475.6 400.5h0.8M469.4 377.2h0.8M477.7 398.3h0.8M461.6 390.0h0.8M460.6 399.4h0.8M476.8 392.2h0.8M477.4 394.4h0.8M466.5 384.6h0.8M488.0 386.4h0.8M465.7 396.5h0.8M471.0 392.8h0.8M478.6 392.1h0.8M480.0 373.8h0.8M480.2 389.1h0.8M470.3 392.4h0.8M476.9 382.7h0.8M472.1 396.6h0.8M476.3 393.4h0.8M498.5 380.5h0.8M481.8 393.7h0.8M463.0 376.7h0.8M496.1 373.9h0.8M458.8 359.9h0.8M440.4 347.0h0.8M446.5 403.1h0.8M498.8 387.9h0.8M419.2 365.4h0.8M444.0 459.6h0.8M437.5 465.3h0.8M442.6 468.7h0.8M446.0 475.6h0.8M448.9 467.3h0.8M448.7 461.7h0.8M433.8 469.4h0.8M441.8 463.0h0.8M446.6 462.2h0.8M441.2 470.4h0.8M435.0 462.2h0.8M435.7 472.4h0.8M446.1 459.8h0.8M440.0 476.9h0.8M451.4 470.1h0.8M437.7 471.5h0.8M451.1 469.9h0.8M438.0 471.4h0.8M450.3 468.3h0.8M447.4 471.6h0.8M445.2 467.4h0.8M446.4 474.0h0.8M440.1 469.7h0.8M448.3 465.7h0.8M439.1 461.6h0.8M447.1 475.5h0.8M438.4 466.2h0.8M443.9 462.8h0.8M440.9 465.9h0.8M448.0 472.7h0.8M439.5 470.8h0.8M445.7 471.4h0.8M440.0 463.8h0.8M435.9 461.5h0.8M445.4 472.6h0.8M442.9 464.6h0.8M435.9 459.7h0.8M449.7 474.2h0.8M442.4 466.0h0.8M443.4 467.2h0.8M445.8 460.7h0.8M448.3 469.4h0.8M439.8 465.1h0.8M439.9 466.5h0.8M435.7 464.6h0.8M436.0 471.6h0.8M448.5 469.0h0.8M449.4 464.3h0.8M442.9 465.4h0.8M436.0 468.1h0.8M437.5 461.5h0.8M443.8 473.4h0.8M441.4 469.8h0.8M435.9 463.4h0.8M449.5 460.8h0.8M442.7 469.1h0.8M444.7 466.7h0.8M443.3 470.7h0.8M444.5 456.2h0.8M439.3 459.0h0.8M438.5 462.7h0.8M444.2 465.6h0.8M447.5 464.5h0.8M440.4 472.9h0.8M443.1 468.3h0.8M442.3 474.5h0.8M449.5 455.6h0.8M434.3 467.4h0.8M439.6 472.6h0.8M447.7 459.0h0.8M449.6 462.8h0.8M441.7 472.0h0.8M440.3 459.3h0.8M436.5 470.0h0.8M441.8 468.2h0.8M449.6 467.5h0.8M436.2 459.8h0.8M450.0 469.4h0.8M445.2 459.1h0.8M440.6 473.6h0.8M447.4 469.5h0.8M440.0 468.6h0.8M444.3 462.8h0.8M449.2 459.6h0.8M443.4 461.9h0.8M442.7 459.6h0.8M441.0 463.7h0.8M439.8 462.4h0.8M449.9 466.5h0.8M441.2 474.0h0.8M436.2 472.3h0.8M446.1 464.5h0.8M437.1 468.5h0.8M433.8 465.5h0.8M433.8 466.0h0.8M436.4 461.8h0.8M438.5 467.2h0.8M446.9 460.4h0.8M434.7 465.8h0.8M445.7 461.8h0.8M441.2 472.3h0.8M440.4 470.7h0.8M450.3 462.7h0.8M443.2 466.3h0.8M447.5 459.1h0.8M437.4 460.5h0.8M444.9 455.1h0.8M447.9 473.9h0.8M446.1 468.6h0.8M447.5 463.0h0.8M432.5 466.1h0.8M445.0 464.1h0.8M448.4 464.4h0.8M444.9 472.2h0.8M443.7 456.7h0.8M447.9 470.4h0.8M449.4 470.4h0.8M441.5 473.4h0.8M442.7 462.8h0.8M435.0 471.8h0.8M441.8 460.3h0.8M444.9 475.7h0.8M437.0 462.9h0.8M436.1 475.8h0.8M446.9 469.5h0.8M436.0 455.2h0.8M438.9 465.9h0.8M440.7 466.4h0.8M439.9 469.7h0.8M447.2 456.9h0.8M447.0 463.5h0.8M437.5 469.5h0.8M447.2 468.5h0.8M446.5 461.6h0.8M435.9 468.5h0.8M444.4 464.2h0.8M452.2 466.7h0.8M432.3 465.3h0.8M451.1 462.4h0.8M444.9 474.2h0.8M449.4 465.5h0.8M446.9 467.7h0.8M445.3 455.9h0.8M435.2 467.4h0.8M439.3 458.0h0.8M442.4 471.7h0.8M437.1 470.8h0.8M444.8 471.0h0.8M441.6 467.0h0.8M441.8 457.3h0.8M434.4 468.4h0.8M439.5 476.2h0.8M437.6 459.8h0.8M439.4 473.0h0.8M444.5 461.7h0.8M434.2 462.4h0.8M444.9 458.1h0.8M437.5 457.7h0.8M444.4 463.1h0.8M448.4 458.8h0.8M449.7 461.1h0.8M448.8 470.6h0.8M447.4 460.1h0.8M451.3 467.1h0.8M436.9 463.4h0.8M435.9 466.5h0.8M443.5 460.5h0.8M453.2 462.6h0.8M444.3 477.1h0.8M453.8 468.0h0.8M433.8 464.7h0.8M447.4 465.6h0.8M436.0 465.7h0.8M438.5 456.6h0.8M438.3 468.8h0.8M448.8 462.2h0.8M444.8 468.7h0.8M436.1 460.2h0.8M447.9 462.0h0.8M443.4 464.6h0.8M443.6 474.3h0.8M434.2 460.7h0.8M442.4 473.0h0.8M440.2 467.1h0.8M434.4 469.9h0.8M444.4 470.2h0.8M448.9 463.3h0.8M436.4 462.4h0.8M439.0 447.7h0.8M444.0 445.0h0.8M440.5 468.6h0.8M461.5 464.9h0.8M436.0 446.6h0.8M451.6 472.9h0.8M440.3 478.8h0.8M435.8 477.6h0.8M450.9 464.2h0.8M442.8 460.2h0.8M431.9 454.2h0.8M452.3 484.3h0.8M439.8 461.0h0.8M442.2 463.5h0.8M426.1 476.3h0.8M456.7 475.8h0.8M443.0 479.2h0.8M451.7 464.9h0.8M445.3 465.7h0.8M440.5 479.6h0.8M424.9 464.6h0.8M434.6 459.8h0.8M432.4 459.7h0.8M441.3 481.6h0.8M428.8 459.6h0.8M426.7 467.1h0.8M426.0 462.7h0.8M449.6 469.2h0.8M432.3 458.6h0.8M447.0 478.2h0.8M448.3 474.7h0.8M433.7 461.3h0.8M443.6 472.2h0.8M434.7 448.6h0.8M432.0 467.6h0.8M447.8 466.8h0.8M430.8 461.2h0.8M449.2 472.0h0.8M447.5 486.4h0.8M453.3 460.1h0.8M435.1 458.9h0.8M438.0 458.1h0.8M442.0 461.2h0.8M460.7 467.8h0.8M427.2 463.6h0.8M436.5 458.3h0.8M443.6 469.2h0.8M435.1 474.8h0.8M456.4 456.6h0.8M429.8 461.4h0.8M427.9 466.6h0.8M445.6 478.7h0.8M454.1 472.9h0.8M441.3 458.3h0.8M430.6 471.9h0.8M449.6 468.4h0.8M449.2 486.0h0.8M438.8 475.3h0.8M440.5 460.5h0.8M438.2 463.4h0.8M439.4 456.0h0.8M438.3 476.2h0.8M444.3 467.4h0.8M427.1 473.5h0.8M446.5 453.6h0.8M468.7 467.3h0.8M445.1 477.3h0.8M433.8 479.7h0.8M446.8 458.3h0.8M439.1 467.1h0.8M442.6 461.1h0.8M449.5 449.9h0.8M452.9 464.0h0.8M454.6 467.0h0.8M450.6 472.9h0.8M433.9 452.6h0.8M418.0 470.5h0.8M437.9 464.2h0.8M451.3 454.3h0.8M460.0 486.9h0.8M439.2 464.9h0.8M432.5 469.1h0.8M428.7 475.5h0.8M425.9 459.7h0.8M442.6 472.7h0.8M436.5 464.6h0.8M433.2 449.6h0.8M436.8 466.7h0.8M439.8 474.2h0.8M460.9 459.0h0.8M431.2 473.5h0.8M459.0 466.4h0.8M437.2 463.6h0.8M447.8 467.6h0.8M438.1 472.5h0.8M454.8 480.9h0.8M431.5 464.4h0.8M427.6 468.8h0.8M438.5 459.2h0.8M446.5 471.2h0.8M438.1 460.7h0.8M443.9 459.8h0.8M430.9 467.9h0.8M434.8 463.4h0.8M443.0 483.8h0.8M454.0 470.8h0.8M437.8 480.4h0.8M449.7 454.3h0.8M450.1 471.0h0.8M455.7 479.0h0.8M427.7 483.9h0.8M459.2 457.2h0.8M441.1 477.3h0.8M431.6 455.4h0.8M445.7 484.9h0.8M452.8 477.8h0.8M431.1 460.0h0.8M457.8 472.0h0.8M437.2 481.5h0.8M436.0 469.6h0.8M432.2 463.2h0.8M443.1 457.6h0.8M440.0 477.8h0.8M446.3 456.3h0.8M439.9 479.2h0.8M433.9 470.1h0.8M442.1 454.5h0.8M465.0 456.3h0.8M445.7 458.5h0.8M430.6 464.8h0.8M455.4 471.1h0.8M448.2 453.3h0.8M440.6 484.0h0.8M442.4 457.0h0.8M420.9 470.2h0.8M450.3 478.7h0.8M441.7 455.5h0.8M457.2 463.5h0.8M457.1 451.9h0.8M430.4 474.9h0.8M434.8 456.0h0.8M438.9 490.9h0.8M443.1 498.5h0.8M444.6 484.3h0.8M442.7 503.8h0.8M435.0 483.2h0.8M436.2 488.9h0.8M445.5 474.0h0.8M439.8 480.4h0.8M441.5 482.5h0.8M442.6 478.2h0.8M438.0 496.4h0.8M435.5 491.4h0.8M442.3 487.6h0.8M443.2 492.4h0.8M438.6 496.5h0.8M445.3 481.3h0.8M447.7 492.6h0.8M442.4 504.6h0.8M439.5 481.5h0.8M443.2 476.7h0.8M449.0 475.5h0.8M436.6 482.3h0.8M437.5 485.8h0.8M440.1 493.2h0.8M443.3 481.2h0.8M443.4 483.5h0.8M437.8 487.3h0.8M428.1 492.7h0.8M435.1 494.4h0.8M433.4 472.6h0.8M440.4 482.5h0.8M470.7 461.3h0.8M463.5 462.1h0.8M467.9 467.4h0.8M473.1 471.4h0.8M466.7 465.0h0.8M475.9 464.7h0.8M465.0 468.6h0.8M469.1 466.4h0.8M472.9 459.9h0.8M462.7 459.3h0.8M472.7 458.1h0.8M461.6 467.0h0.8M477.0 465.2h0.8M473.8 461.3h0.8M478.4 461.8h0.8M462.7 465.7h0.8M465.3 467.7h0.8M461.1 468.0h0.8M470.8 468.3h0.8M479.7 458.5h0.8M478.9 465.6h0.8M482.5 469.9h0.8M481.9 465.9h0.8M467.9 463.7h0.8M473.0 462.0h0.8M471.2 470.5h0.8M476.6 461.0h0.8M473.1 457.3h0.8M459.2 462.5h0.8M465.8 462.2h0.8M482.6 465.1h0.8M467.0 468.9h0.8M468.8 465.9h0.8M466.8 470.1h0.8M475.1 458.7h0.8M467.0 459.7h0.8M465.9 469.2h0.8M482.9 468.0h0.8M468.3 462.0h0.8M474.9 465.3h0.8M463.0 461.3h0.8M466.5 469.3h0.8M472.0 463.0h0.8M473.1 462.6h0.8M481.9 460.1h0.8M464.4 464.5h0.8M465.0 471.7h0.8M465.9 459.4h0.8M461.2 462.9h0.8M462.3 463.9h0.8M461.0 460.9h0.8M476.5 460.9h0.8M473.2 469.7h0.8M479.3 461.9h0.8M460.6 464.8h0.8M459.1 460.5h0.8M479.4 463.4h0.8M473.5 459.3h0.8M484.3 463.8h0.8M470.4 466.7h0.8M478.0 469.6h0.8M465.8 466.8h0.8M462.8 462.4h0.8M476.4 464.8h0.8M473.0 473.0h0.8M472.8 466.6h0.8M464.3 462.7h0.8M479.6 465.3h0.8M483.8 463.5h0.8M463.0 468.0h0.8M464.5 461.9h0.8M479.0 466.7h0.8M467.4 460.5h0.8M469.4 467.1h0.8M475.8 455.4h0.8M466.7 466.5h0.8M477.5 459.3h0.8M480.1 470.9h0.8M475.7 466.9h0.8M468.3 463.3h0.8M470.6 469.3h0.8M471.3 466.4h0.8M469.9 470.2h0.8M460.1 465.2h0.8M474.4 468.8h0.8M463.3 464.8h0.8M469.6 465.6h0.8M468.9 470.8h0.8M476.5 468.7h0.8M464.2 460.8h0.8M466.4 467.8h0.8M476.8 466.6h0.8M477.3 462.8h0.8M459.8 467.1h0.8M471.5 464.9h0.8M488.1 475.1h0.8M478.6 463.3h0.8M471.0 459.8h0.8M477.1 468.1h0.8M462.1 466.1h0.8M494.5 465.3h0.8M477.0 470.1h0.8M461.0 461.3h0.8M476.7 462.0h0.8M461.7 459.0h0.8M475.6 462.6h0.8M440.7 448.4h0.8M493.2 454.4h0.8M477.8 474.6h0.8M470.6 463.2h0.8M422.6 497.9h0.8M481.2 468.3h0.8M453.1 483.1h0.8M447.9 449.2h0.8M496.7 459.2h0.8M445.8 488.5h0.8M481.7 488.7h0.8M498.6 469.6h0.8M501.2 485.0h0.8M490.3 478.1h0.8M443.8 570.8h0.8M441.6 559.8h0.8M453.4 565.9h0.8M448.6 563.9h0.8M435.9 555.9h0.8M436.3 565.0h0.8M444.2 557.2h0.8M452.0 567.7h0.8M444.0 562.3h0.8M433.5 557.2h0.8M437.7 563.4h0.8M437.7 559.0h0.8M434.9 565.0h0.8M441.9 568.7h0.8M444.3 567.3h0.8M449.1 559.4h0.8M445.9 568.8h0.8M438.1 555.5h0.8M444.7 552.2h0.8M445.5 551.1h0.8M444.5 562.9h0.8M448.2 569.0h0.8M434.9 563.7h0.8M435.5 562.7h0.8M437.4 569.1h0.8M446.7 548.7h0.8M440.8 565.7h0.8M435.8 556.3h0.8M443.7 568.4h0.8M447.8 556.6h0.8M452.2 564.0h0.8M440.3 568.7h0.8M446.2 557.4h0.8M439.1 566.8h0.8M445.5 557.2h0.8M436.9 551.4h0.8M445.1 574.0h0.8M434.6 556.6h0.8M434.4 567.2h0.8M449.5 568.8h0.8M439.5 552.4h0.8M436.4 562.4h0.8M436.8 563.1h0.8M432.7 560.5h0.8M435.6 565.3h0.8M434.9 561.0h0.8M443.8 552.8h0.8M441.4 564.6h0.8M441.2 565.3h0.8M437.6 549.2h0.8M446.6 549.1h0.8M447.4 567.1h0.8M452.1 559.6h0.8M431.9 560.4h0.8M443.2 556.7h0.8M452.8 558.7h0.8M444.8 553.7h0.8M440.5 567.1h0.8M442.8 569.6h0.8M431.5 571.1h0.8M433.3 560.7h0.8M438.9 554.5h0.8M446.9 567.2h0.8M441.4 567.6h0.8M443.8 565.2h0.8M446.9 563.2h0.8M435.7 569.8h0.8M436.3 557.9h0.8M448.5 571.1h0.8M433.9 556.4h0.8M441.4 566.9h0.8M440.2 552.5h0.8M447.7 564.4h0.8M434.9 568.7h0.8M445.4 553.9h0.8M449.3 554.5h0.8M441.9 547.5h0.8M440.9 561.3h0.8M447.9 560.0h0.8M442.3 563.1h0.8M432.5 563.7h0.8M436.1 558.3h0.8M437.0 571.7h0.8M439.9 550.1h0.8M439.5 570.1h0.8M446.7 552.6h0.8M447.3 550.3h0.8M444.6 570.1h0.8M448.4 565.8h0.8M450.9 566.6h0.8M447.2 558.3h0.8M443.8 557.1h0.8M438.0 555.3h0.8M449.8 563.1h0.8M445.8 570.2h0.8M441.7 556.7h0.8M438.6 563.4h0.8M447.6 566.0h0.8M435.3 564.9h0.8M447.9 554.2h0.8M444.0 561.6h0.8M447.0 561.2h0.8M437.9 565.6h0.8M444.5 558.3h0.8M438.9 558.0h0.8M445.9 565.9h0.8M450.7 561.3h0.8M438.6 552.8h0.8M448.8 566.2h0.8M445.7 559.6h0.8M439.2 558.7h0.8M446.1 560.5h0.8M441.0 555.7h0.8M442.4 552.9h0.8M447.2 555.4h0.8M445.9 566.5h0.8M434.3 561.8h0.8M445.8 552.0h0.8M449.8 566.2h0.8M444.6 555.0h0.8M439.7 562.8h0.8M432.1 562.5h0.8M445.1 564.2h0.8M439.0 551.1h0.8M441.2 571.7h0.8M443.6 566.3h0.8M439.6 564.2h0.8M439.7 568.2h0.8M451.8 560.3h0.8M435.3 553.1h0.8M442.0 569.3h0.8M447.7 559.9h0.8M440.0 564.4h0.8M452.9 556.5h0.8M447.5 557.1h0.8M442.9 567.8h0.8M439.9 557.0h0.8M450.4 557.5h0.8M437.8 556.5h0.8M438.5 561.4h0.8M448.2 558.0h0.8M434.7 563.0h0.8M436.4 562.0h0.8M435.4 557.3h0.8M434.7 564.2h0.8M442.3 560.3h0.8M445.5 554.9h0.8M442.9 565.8h0.8M437.2 564.8h0.8M438.5 570.4h0.8M435.9 558.6h0.8M434.6 559.1h0.8M437.3 562.7h0.8M448.4 556.6h0.8M449.8 553.7h0.8M444.1 559.9h0.8M449.7 561.7h0.8M442.9 562.1h0.8M439.7 560.5h0.8M446.6 561.3h0.8M441.0 574.3h0.8M448.3 557.2h0.8M438.5 556.4h0.8M440.8 548.7h0.8M448.3 553.1h0.8M450.5 556.8h0.8M439.5 571.2h0.8M437.6 568.4h0.8M433.9 562.8h0.8M451.5 556.8h0.8M436.4 559.1h0.8M439.5 565.4h0.8M443.1 556.0h0.8M444.8 564.5h0.8M438.8 567.1h0.8M436.0 555.2h0.8M445.9 571.4h0.8M435.4 566.8h0.8M440.9 572.6h0.8M435.2 571.0h0.8M453.1 552.3h0.8M449.9 570.7h0.8M445.5 560.8h0.8M436.4 566.3h0.8M443.8 558.9h0.8M452.4 562.6h0.8M434.5 570.0h0.8M444.6 561.3h0.8M437.5 567.3h0.8M446.7 558.0h0.8M436.8 570.0h0.8M450.8 558.0h0.8M451.1 559.8h0.8M440.3 553.7h0.8M439.0 561.5h0.8M439.7 559.7h0.8M450.0 564.7h0.8M436.7 568.4h0.8M440.6 563.2h0.8M430.1 560.9h0.8M445.1 569.6h0.8M444.1 560.4h0.8M445.8 561.7h0.8M443.9 571.5h0.8M441.5 553.9h0.8M436.5 554.8h0.8M449.4 564.7h0.8M439.7 548.9h0.8M442.4 559.8h0.8M453.0 566.8h0.8M449.4 551.1h0.8M446.9 559.5h0.8M443.4 559.4h0.8M436.8 556.3h0.8M448.3 559.9h0.8M433.4 561.4h0.8M435.0 552.0h0.8M436.2 553.9h0.8M433.5 566.9h0.8M437.6 572.2h0.8M449.6 556.9h0.8M453.1 562.3h0.8M451.8 557.7h0.8M440.8 573.1h0.8M433.6 569.5h0.8M448.6 562.6h0.8M446.9 570.2h0.8M441.6 558.7h0.8M446.6 562.3h0.8M449.4 558.8h0.8M441.9 555.7h0.8M431.8 555.6h0.8M444.5 548.7h0.8M450.1 559.1h0.8M439.7 569.5h0.8M441.9 551.4h0.8M436.6 565.4h0.8M444.8 554.4h0.8M445.2 573.7h0.8M443.2 560.3h0.8M441.9 552.8h0.8M433.2 550.7h0.8M452.3 563.5h0.8M432.3 562.0h0.8M439.6 558.0h0.8M443.0 554.1h0.8M442.0 557.2h0.8M438.8 569.7h0.8M438.9 565.1h0.8M438.1 562.7h0.8M442.5 553.4h0.8M446.3 573.7h0.8M444.5 551.2h0.8M453.3 555.4h0.8M441.5 554.9h0.8M446.8 565.7h0.8M447.9 562.5h0.8M444.7 563.8h0.8M434.4 550.7h0.8M446.1 564.0h0.8M441.9 572.7h0.8M437.7 576.8h0.8M442.8 568.5h0.8M447.4 576.1h0.8M442.2 586.0h0.8M436.5 589.7h0.8M436.8 587.8h0.8M445.9 587.7h0.8M439.8 594.6h0.8M444.2 583.2h0.8M442.9 577.5h0.8M449.1 590.2h0.8M440.4 581.7h0.8M438.5 590.2h0.8M441.6 578.6h0.8M446.6 581.9h0.8M439.9 587.5h0.8M442.7 595.6h0.8M439.3 593.6h0.8M433.2 589.4h0.8M447.8 586.9h0.8M446.8 594.1h0.8M441.9 594.7h0.8M439.5 585.6h0.8M440.8 579.0h0.8M435.9 587.7h0.8M439.5 584.9h0.8M444.8 595.9h0.8M442.8 573.1h0.8M436.9 588.2h0.8M443.1 584.8h0.8M437.3 580.9h0.8M440.6 580.1h0.8M446.6 588.3h0.8M443.2 575.3h0.8M444.2 576.3h0.8M440.8 588.2h0.8M446.8 586.8h0.8M442.8 580.5h0.8M441.8 598.2h0.8M450.2 584.9h0.8M443.6 574.0h0.8M440.2 575.7h0.8M436.4 582.7h0.8M441.8 589.9h0.8M447.9 579.3h0.8M438.3 594.8h0.8M442.6 581.1h0.8M450.4 577.2h0.8M437.4 584.8h0.8M445.5 585.0h0.8M445.2 576.7h0.8M437.5 577.6h0.8M441.1 592.6h0.8M445.0 594.4h0.8M450.2 585.3h0.8M445.6 581.4h0.8M443.3 591.3h0.8M438.4 578.0h0.8M441.8 573.5h0.8M441.8 595.2h0.8M442.7 593.6h0.8M445.5 575.0h0.8M444.2 592.9h0.8M442.2 591.4h0.8M447.9 582.4h0.8M443.7 589.3h0.8M439.5 576.5h0.8M442.8 572.4h0.8M450.4 588.2h0.8M441.5 593.7h0.8M440.6 590.7h0.8M441.1 579.8h0.8M444.9 587.4h0.8M442.3 574.7h0.8M444.8 580.3h0.8M436.1 576.7h0.8M447.4 578.5h0.8M442.0 588.0h0.8M441.2 580.4h0.8M444.8 574.9h0.8M447.8 589.7h0.8M444.3 584.8h0.8M440.9 576.1h0.8M445.9 593.2h0.8M446.7 574.8h0.8M444.3 590.8h0.8M443.7 593.8h0.8M440.6 574.3h0.8M439.1 583.9h0.8M438.4 584.7h0.8M448.8 583.9h0.8M447.2 591.1h0.8M444.3 578.0h0.8M443.4 597.5h0.8M450.8 590.7h0.8M439.4 583.0h0.8M437.7 585.4h0.8M437.8 587.3h0.8M445.9 582.6h0.8M443.6 580.7h0.8M440.8 591.9h0.8M433.6 577.9h0.8M442.3 599.0h0.8M438.2 586.1h0.8M448.3 581.0h0.8M434.7 584.8h0.8M447.7 577.5h0.8M445.3 588.6h0.8M447.8 593.9h0.8M448.7 578.4h0.8M448.6 582.9h0.8M435.2 572.6h0.8M443.2 586.3h0.8M449.1 584.9h0.8M446.2 576.5h0.8M449.6 577.3h0.8M437.5 583.3h0.8M440.1 584.5h0.8M439.8 572.4h0.8M446.4 578.6h0.8M448.0 583.9h0.8M442.7 594.6h0.8M443.9 576.7h0.8M446.1 595.2h0.8M448.9 588.6h0.8M434.8 579.4h0.8M444.0 592.5h0.8M443.4 581.2h0.8M447.0 595.6h0.8M434.1 587.3h0.8M441.1 575.3h0.8M438.0 574.4h0.8M451.3 578.9h0.8M445.7 578.6h0.8M445.6 584.7h0.8M439.2 591.5h0.8M440.8 582.9h0.8M439.9 578.7h0.8M443.2 588.9h0.8M445.4 580.2h0.8M445.4 595.4h0.8M448.4 584.3h0.8M436.3 592.9h0.8M436.1 586.3h0.8M446.4 587.0h0.8M440.5 594.1h0.8M449.8 580.2h0.8M444.7 581.7h0.8M443.6 572.1h0.8M444.7 591.2h0.8M435.5 584.1h0.8M447.7 589.0h0.8M444.1 572.8h0.8M441.3 590.9h0.8M447.9 575.3h0.8M443.2 574.6h0.8M448.3 590.1h0.8M438.5 571.3h0.8M437.4 589.5h0.8M431.0 583.5h0.8M448.0 574.7h0.8M424.5 550.7h0.8M450.2 575.5h0.8M431.4 579.2h0.8M449.2 573.7h0.8M452.6 580.5h0.8M435.0 568.6h0.8M440.5 549.9h0.8M437.8 551.9h0.8M456.6 551.3h0.8M438.2 595.6h0.8M440.4 566.9h0.8M431.9 551.3h0.8M433.0 548.1h0.8M419.6 546.8h0.8M429.9 565.5h0.8M451.3 582.6h0.8M453.4 580.3h0.8M457.1 561.0h0.8M440.9 559.1h0.8M436.7 574.8h0.8M446.1 569.2h0.8M423.8 566.9h0.8M444.2 575.2h0.8M442.3 579.8h0.8M431.6 576.5h0.8M448.3 572.6h0.8M438.1 550.7h0.8M432.8 571.8h0.8M426.9 544.6h0.8M459.6 579.1h0.8M426.2 576.2h0.8M442.6 558.4h0.8M456.4 593.2h0.8M446.6 584.6h0.8M445.4 562.7h0.8M452.3 599.2h0.8M440.5 578.9h0.8M436.0 541.4h0.8M436.9 583.9h0.8M450.1 595.7h0.8M445.8 577.3h0.8M441.5 581.8h0.8M457.7 561.2h0.8M461.1 574.4h0.8M437.6 575.9h0.8M430.8 569.3h0.8M433.1 572.7h0.8M431.5 575.7h0.8M431.4 562.5h0.8M429.3 571.6h0.8M447.1 581.3h0.8M445.3 583.5h0.8M446.3 582.6h0.8M442.3 584.6h0.8M445.4 591.0h0.8M431.7 578.2h0.8M430.3 585.1h0.8M430.4 572.5h0.8M431.6 589.3h0.8M433.1 582.6h0.8M446.0 572.2h0.8M439.3 601.4h0.8M435.5 560.3h0.8M436.6 580.6h0.8M448.9 575.9h0.8M443.9 567.8h0.8M428.2 572.3h0.8M437.5 579.7h0.8M434.5 578.2h0.8M448.9 577.3h0.8M427.6 561.4h0.8M442.7 575.0h0.8M432.0 564.2h0.8M453.8 554.3h0.8M427.2 569.7h0.8M431.9 561.3h0.8M437.8 557.5h0.8M427.7 558.6h0.8M446.1 579.9h0.8M429.8 575.6h0.8M434.2 553.0h0.8M425.4 594.3h0.8M438.0 581.2h0.8M440.6 577.8h0.8M432.2 572.7h0.8M438.3 549.7h0.8M438.6 566.1h0.8M453.5 579.3h0.8M434.8 573.4h0.8M442.3 557.0h0.8M445.6 540.9h0.8M438.6 599.5h0.8M431.4 569.6h0.8M436.9 581.4h0.8M430.9 573.8h0.8M438.1 559.2h0.8M439.0 578.3h0.8M448.1 570.7h0.8M433.4 564.0h0.8M434.7 571.8h0.8M432.2 569.9h0.8M429.1 544.1h0.8M428.7 543.7h0.8M427.5 559.1h0.8M429.5 566.2h0.8M432.8 559.7h0.8M417.4 562.9h0.8M429.7 572.8h0.8M420.1 558.3h0.8M426.4 563.4h0.8M418.7 563.4h0.8M428.8 560.8h0.8M428.3 558.3h0.8M420.9 566.2h0.8M432.0 558.6h0.8M428.8 563.8h0.8M432.4 565.2h0.8M427.7 566.9h0.8M428.2 565.3h0.8M423.1 560.5h0.8M422.1 568.3h0.8M425.4 567.6h0.8M426.0 571.2h0.8M477.8 566.2h0.8M461.0 562.9h0.8M471.7 554.9h0.8M469.7 564.0h0.8M457.7 558.1h0.8M477.6 561.4h0.8M464.1 562.8h0.8M481.9 554.2h0.8M467.0 556.8h0.8M466.4 564.2h0.8M455.6 557.8h0.8M483.2 563.2h0.8M475.9 567.2h0.8M462.3 558.6h0.8M473.5 553.6h0.8M467.6 563.9h0.8M478.3 554.9h0.8M484.6 564.3h0.8M479.3 559.3h0.8M460.8 558.9h0.8M474.6 565.7h0.8M477.0 556.0h0.8M477.5 557.0h0.8M462.6 555.4h0.8M477.7 562.7h0.8M473.3 562.0h0.8M475.4 569.4h0.8M484.7 559.6h0.8M482.1 558.4h0.8M471.8 567.7h0.8M469.6 565.6h0.8M475.3 556.3h0.8M472.2 556.8h0.8M468.8 562.3h0.8M469.6 555.9h0.8M479.7 563.8h0.8M468.2 548.8h0.8M466.5 553.0h0.8M475.8 557.6h0.8M483.5 564.2h0.8M465.2 560.8h0.8M467.1 554.5h0.8M480.0 554.6h0.8M475.1 566.9h0.8M473.2 567.2h0.8M473.4 568.5h0.8M473.1 565.0h0.8M478.3 562.3h0.8M464.0 564.2h0.8M458.1 554.5h0.8M464.5 559.4h0.8M456.8 561.1h0.8M479.4 561.0h0.8M480.4 560.9h0.8M461.4 560.0h0.8M477.4 563.9h0.8M475.7 554.4h0.8M477.5 568.0h0.8M472.8 559.5h0.8M485.4 560.7h0.8M466.3 560.8h0.8M462.3 565.2h0.8M472.6 561.9h0.8M474.9 562.8h0.8M476.2 559.8h0.8M473.1 555.1h0.8M460.8 556.0h0.8M465.5 553.2h0.8M463.3 568.7h0.8M474.1 554.4h0.8M471.5 556.9h0.8M480.8 557.9h0.8M476.2 566.9h0.8M471.0 563.2h0.8M460.8 557.8h0.8M468.1 566.2h0.8M466.3 569.9h0.8M482.2 555.9h0.8M478.3 564.4h0.8M471.8 552.0h0.8M458.9 557.7h0.8M467.9 557.6h0.8M468.8 557.3h0.8M478.2 556.9h0.8M460.9 566.0h0.8M475.5 560.6h0.8M462.9 554.5h0.8M469.8 560.1h0.8M468.3 569.7h0.8M467.6 559.3h0.8M481.7 565.3h0.8M465.3 564.4h0.8M471.8 562.5h0.8M459.9 556.7h0.8M469.7 558.8h0.8M471.6 560.9h0.8M481.8 566.5h0.8M464.3 554.5h0.8M474.2 570.5h0.8M455.4 558.6h0.8M467.4 560.4h0.8M476.3 567.5h0.8M488.6 549.7h0.8M472.4 560.4h0.8M475.6 559.8h0.8M481.2 550.7h0.8M459.2 567.1h0.8M463.7 554.6h0.8M455.6 561.4h0.8M464.8 555.2h0.8M456.6 549.9h0.8M471.1 564.1h0.8M464.6 566.9h0.8M456.6 565.1h0.8M472.5 550.6h0.8M476.5 556.4h0.8M470.0 555.0h0.8M475.7 565.6h0.8M477.4 560.3h0.8M464.9 558.8h0.8M483.6 561.3h0.8M451.9 548.6h0.8M480.9 573.8h0.8M462.5 571.4h0.8M477.7 573.2h0.8M474.9 569.8h0.8M456.9 562.9h0.8M483.9 556.8h0.8M480.5 559.4h0.8M485.7 564.7h0.8M470.2 569.7h0.8M426.0 598.8h0.8M449.0 543.1h0.8M420.4 547.1h0.8M414.6 596.9h0.8M503.2 584.7h0.8M474.7 594.5h0.8M459.0 561.8h0.8M483.1 559.3h0.8M464.3 573.8h0.8M486.8 598.0h0.8M456.3 581.4h0.8M477.9 543.0h0.8M479.7 545.3h0.8" stroke="#000" stroke-opacity="0.7" stroke-width="1.1" fill="none"/>
<path d="M19.4 464.4h0.8M28.8 458.2h0.8M18.7 464.7h0.8M19.5 465.3h0.8M32.7 465.3h0.8M20.8 457.9h0.8M19.6 459.7h0.8M16.0 467.2h0.8M24.2 460.6h0.8M34.2 462.2h0.8M39.2 463.0h0.8M27.4 464.4h0.8M35.0 466.6h0.8M32.3 462.3h0.8M26.5 463.8h0.8M18.4 461.4h0.8M32.3 460.2h0.8M25.7 460.4h0.8M30.1 463.9h0.8M36.2 460.0h0.8M19.7 467.6h0.8M27.8 462.9h0.8M17.5 464.0h0.8M31.4 462.1h0.8M25.3 457.7h0.8M19.1 460.0h0.8M23.8 464.6h0.8M35.0 463.5h0.8M38.5 463.9h0.8M33.6 464.9h0.8M39.8 468.5h0.8M28.8 459.8h0.8M33.3 461.4h0.8M21.6 462.2h0.8M31.3 459.5h0.8M36.6 464.0h0.8M25.0 461.3h0.8M21.2 463.5h0.8M39.2 459.9h0.8M33.0 460.2h0.8M20.0 462.3h0.8M24.9 462.3h0.8M20.4 460.7h0.8M18.2 460.8h0.8M25.0 465.6h0.8M29.3 457.4h0.8M25.5 461.4h0.8M21.7 461.6h0.8M33.5 465.5h0.8M20.7 459.2h0.8M18.9 459.4h0.8M15.4 465.2h0.8M16.0 462.9h0.8M26.4 466.9h0.8M34.2 463.8h0.8M37.5 459.2h0.8M34.9 465.0h0.8M33.9 463.8h0.8M30.4 470.5h0.8M22.8 460.3h0.8M31.8 461.1h0.8M38.4 467.3h0.8M38.9 462.5h0.8M17.6 462.4h0.8M35.2 462.2h0.8M26.8 459.2h0.8M38.4 461.4h0.8M24.2 459.3h0.8M25.0 463.2h0.8M21.5 465.3h0.8M22.0 460.4h0.8M26.9 460.4h0.8M15.3 468.3h0.8M31.2 465.4h0.8M30.2 464.6h0.8M17.6 463.7h0.8M31.2 466.2h0.8M18.0 463.5h0.8M23.3 461.1h0.8M32.8 468.8h0.8M15.3 463.2h0.8M25.3 464.4h0.8M28.7 460.1h0.8M39.1 464.1h0.8M23.8 460.7h0.8M17.4 456.1h0.8M31.2 454.3h0.8M20.0 464.6h0.8M35.3 464.7h0.8M36.3 462.4h0.8M38.6 457.8h0.8M23.2 455.3h0.8M26.1 466.0h0.8M29.2 459.3h0.8M35.3 467.3h0.8M29.1 460.5h0.8M28.6 462.5h0.8M23.5 462.5h0.8M36.9 467.2h0.8M28.9 468.6h0.8M36.4 461.9h0.8M16.7 460.6h0.8M15.1 466.9h0.8M34.8 464.9h0.8M37.9 464.4h0.8M17.2 459.8h0.8M22.1 457.9h0.8M16.3 464.0h0.8M23.0 463.3h0.8M19.0 465.7h0.8M24.0 458.7h0.8M34.7 459.3h0.8M27.9 467.2h0.8M36.8 463.6h0.8M38.4 468.9h0.8M37.8 465.9h0.8M39.5 467.2h0.8M26.6 464.7h0.8M32.4 463.5h0.8M25.3 462.7h0.8M16.1 461.1h0.8M30.3 458.5h0.8M17.4 461.6h0.8M20.3 461.4h0.8M31.3 455.9h0.8M33.0 466.6h0.8M18.6 462.3h0.8M27.8 458.1h0.8M28.5 463.9h0.8M19.9 466.1h0.8M19.1 463.0h0.8M32.1 459.2h0.8M34.8 456.4h0.8M35.2 466.5h0.8M16.4 459.8h0.8M31.1 460.8h0.8M38.8 457.0h0.8M22.6 463.3h0.8M29.7 461.9h0.8M20.6 456.4h0.8M19.8 463.9h0.8M26.0 467.8h0.8M22.7 458.5h0.8M23.0 462.5h0.8M16.1 468.0h0.8M24.4 464.3h0.8M18.5 470.1h0.8M15.1 464.4h0.8M24.2 463.9h0.8M27.5 466.0h0.8M15.3 460.9h0.8M32.6 461.8h0.8M29.0 464.2h0.8M26.1 462.9h0.8M34.1 469.2h0.8M28.3 466.0h0.8M29.8 468.0h0.8M36.5 456.8h0.8M16.9 462.2h0.8M16.6 463.7h0.8M29.4 463.8h0.8M22.6 453.9h0.8M31.7 463.5h0.8M15.6 458.7h0.8M21.7 464.2h0.8M23.3 465.8h0.8M22.4 465.6h0.8M32.9 456.5h0.8M21.4 467.6h0.8M22.6 466.9h0.8M36.7 460.4h0.8M27.2 461.2h0.8M39.2 457.9h0.8M23.3 468.5h0.8M25.0 456.3h0.8M23.0 459.2h0.8M22.2 467.3h0.8M37.0 463.3h0.8M29.4 468.6h0.8M29.4 456.2h0.8M39.6 461.3h0.8M22.0 461.3h0.8M35.2 459.2h0.8M29.3 462.2h0.8M46.4 465.2h0.8M42.5 460.7h0.8M59.0 463.4h0.8M61.1 462.4h0.8M51.7 462.3h0.8M40.5 464.5h0.8M50.1 465.7h0.8M55.2 462.2h0.8M38.4 466.4h0.8M41.2 457.5h0.8M47.3 460.4h0.8M58.2 461.7h0.8M38.6 465.2h0.8M45.7 464.9h0.8M41.0 461.6h0.8M47.8 465.2h0.8M57.8 466.9h0.8M58.4 462.2h0.8M55.4 464.9h0.8M50.8 462.9h0.8M38.0 460.7h0.8M42.1 461.5h0.8M43.1 463.3h0.8M42.2 463.9h0.8M46.1 467.5h0.8M52.5 457.4h0.8M50.2 464.3h0.8M45.6 459.3h0.8M39.4 459.0h0.8M43.4 461.5h0.8M53.4 465.2h0.8M47.3 462.3h0.8M56.3 460.0h0.8M60.2 463.8h0.8M41.5 464.6h0.8M58.8 458.6h0.8M40.6 456.1h0.8M44.5 459.7h0.8M57.3 459.3h0.8M56.7 460.7h0.8M50.6 469.2h0.8M44.7 459.0h0.8M56.9 461.2h0.8M47.9 458.7h0.8M45.8 461.0h0.8M48.8 459.9h0.8M59.6 464.9h0.8M40.6 461.4h0.8M55.2 463.7h0.8M38.5 471.8h0.8M56.9 466.6h0.8M43.9 459.0h0.8M42.6 464.8h0.8M54.5 462.4h0.8M49.6 460.9h0.8M51.5 465.4h0.8M43.6 460.7h0.8M39.2 460.2h0.8M59.6 465.6h0.8M54.6 462.0h0.8M44.3 461.6h0.8M61.3 454.5h0.8M49.5 473.0h0.8M39.6 469.2h0.8M41.9 460.7h0.8M41.7 465.3h0.8M57.6 463.1h0.8M58.6 464.4h0.8M54.2 459.4h0.8M54.9 464.4h0.8M60.9 462.0h0.8M55.2 468.1h0.8M55.5 458.0h0.8M45.2 465.7h0.8M49.5 462.0h0.8M59.2 468.3h0.8M52.2 462.2h0.8M50.1 461.2h0.8M39.0 459.4h0.8M53.0 465.7h0.8M47.8 461.7h0.8M52.4 467.9h0.8M46.7 456.0h0.8M51.0 466.0h0.8M51.1 461.4h0.8M59.3 460.4h0.8M52.5 459.1h0.8M44.5 462.7h0.8M54.0 457.4h0.8M50.5 463.9h0.8M40.8 467.3h0.8M45.3 463.6h0.8M59.7 459.3h0.8M52.6 464.7h0.8M50.5 460.3h0.8M48.4 460.8h0.8M53.9 467.8h0.8M40.8 462.7h0.8M56.2 455.0h0.8M42.9 465.9h0.8M39.7 462.8h0.8M41.4 458.2h0.8M41.5 463.4h0.8M57.5 461.5h0.8M46.4 460.5h0.8M53.8 461.9h0.8M51.5 469.6h0.8M61.6 465.7h0.8M47.3 466.6h0.8M57.7 462.3h0.8M49.3 462.5h0.8M51.8 459.1h0.8M38.8 458.7h0.8M42.1 462.7h0.8M51.5 464.8h0.8M44.7 460.8h0.8M51.9 460.9h0.8M52.6 468.8h0.8M60.1 464.7h0.8M38.8 464.2h0.8M49.7 459.7h0.8M53.7 460.4h0.8M41.2 456.6h0.8M46.3 456.5h0.8M46.3 458.1h0.8M49.4 466.0h0.8M54.6 466.0h0.8M49.0 463.0h0.8M59.3 462.7h0.8M58.4 459.1h0.8M53.0 464.3h0.8M58.9 465.9h0.8M47.7 463.9h0.8M40.1 460.9h0.8M55.8 461.4h0.8M51.3 457.7h0.8M40.1 458.9h0.8M61.1 459.8h0.8M59.0 467.0h0.8M51.0 458.6h0.8M81.9 465.4h0.8M83.7 467.7h0.8M85.4 465.1h0.8M67.7 463.2h0.8M62.0 466.2h0.8M69.3 460.5h0.8M58.2 463.7h0.8M75.8 460.4h0.8M81.8 467.3h0.8M83.5 470.1h0.8M85.2 473.6h0.8M71.1 462.9h0.8M71.3 470.8h0.8M86.5 464.4h0.8M66.9 466.7h0.8M81.7 464.0h0.8M85.9 466.7h0.8M78.0 466.8h0.8M87.3 467.4h0.8M70.1 467.2h0.8M85.4 462.1h0.8M63.0 463.9h0.8M70.3 465.8h0.8M68.2 465.0h0.8M82.8 463.4h0.8M74.6 464.7h0.8M69.8 462.0h0.8M70.7 463.0h0.8M65.2 462.2h0.8M70.4 461.8h0.8M82.9 459.6h0.8M75.5 465.7h0.8M72.6 466.9h0.8M83.2 466.6h0.8M63.1 461.4h0.8M86.3 469.0h0.8M64.3 461.5h0.8M71.5 468.8h0.8M73.1 464.0h0.8M83.4 472.3h0.8M56.4 464.8h0.8M86.5 466.8h0.8M78.1 466.5h0.8M82.0 466.8h0.8M83.7 461.2h0.8M65.2 460.0h0.8M55.4 460.0h0.8M60.9 465.3h0.8M80.7 469.5h0.8M82.6 468.2h0.8M60.2 467.0h0.8M79.8 467.3h0.8M56.0 465.9h0.8M76.4 469.3h0.8M77.5 470.2h0.8M60.1 458.3h0.8M72.1 467.8h0.8M78.2 463.2h0.8M55.8 467.1h0.8M56.7 467.0h0.8M69.4 458.5h0.8M62.2 461.7h0.8M85.4 467.9h0.8M78.6 464.4h0.8M71.0 465.8h0.8M87.6 474.5h0.8M88.8 480.4h0.8M84.4 490.5h0.8M89.7 486.8h0.8M83.3 499.5h0.8M87.5 489.9h0.8M90.7 498.4h0.8M90.8 490.1h0.8M86.8 482.4h0.8M86.4 477.2h0.8M85.1 492.0h0.8M86.3 485.2h0.8M86.0 498.3h0.8M91.9 479.2h0.8M85.6 484.1h0.8M87.4 490.3h0.8M87.7 488.3h0.8M84.2 478.7h0.8M88.4 487.3h0.8M87.8 498.3h0.8M85.2 474.5h0.8M87.4 479.9h0.8M80.7 496.3h0.8M90.2 493.1h0.8M84.7 502.1h0.8M88.4 488.1h0.8M87.5 491.5h0.8M89.3 484.3h0.8M89.3 488.3h0.8M82.6 485.7h0.8M90.1 500.9h0.8M88.2 502.8h0.8M86.0 477.6h0.8M93.7 478.8h0.8M86.1 500.9h0.8M87.9 493.5h0.8M86.5 483.2h0.8M86.5 491.6h0.8M82.0 485.8h0.8M84.3 496.2h0.8M88.0 490.6h0.8M86.1 507.7h0.8M89.9 500.9h0.8M90.5 491.8h0.8M87.4 477.7h0.8M90.3 482.5h0.8M90.4 509.5h0.8M89.1 490.7h0.8M88.5 494.4h0.8M89.4 479.1h0.8M89.5 485.7h0.8M85.7 486.9h0.8M86.2 487.9h0.8M80.2 487.2h0.8M86.9 495.9h0.8M83.8 491.7h0.8M83.1 485.8h0.8M92.2 481.2h0.8M89.2 503.4h0.8M89.1 495.3h0.8M85.5 493.5h0.8M90.2 495.2h0.8M87.8 495.6h0.8M88.1 495.5h0.8M86.7 497.7h0.8M85.7 478.0h0.8M89.5 474.5h0.8M85.7 489.7h0.8M88.8 498.5h0.8M87.5 486.1h0.8M84.9 489.3h0.8M92.5 487.9h0.8M87.7 509.5h0.8M90.3 474.5h0.8M82.8 483.2h0.8M78.1 497.8h0.8M87.2 505.5h0.8M84.9 485.1h0.8M86.8 488.9h0.8M88.1 496.7h0.8M83.8 474.5h0.8M84.6 497.3h0.8M92.8 496.7h0.8M87.8 475.9h0.8M89.7 504.5h0.8M88.4 484.7h0.8M84.0 484.6h0.8M91.7 494.8h0.8M89.0 493.3h0.8M89.1 487.1h0.8M87.3 503.2h0.8M88.2 492.5h0.8M85.5 509.5h0.8M83.0 476.5h0.8M83.8 489.7h0.8M89.1 491.3h0.8M88.8 486.7h0.8M88.6 493.4h0.8M92.7 488.9h0.8M88.2 483.2h0.8M80.4 491.1h0.8M84.6 495.0h0.8M85.0 482.3h0.8M91.8 479.0h0.8M85.6 480.3h0.8M87.4 483.9h0.8M90.8 486.8h0.8M88.9 492.0h0.8M85.8 495.5h0.8M88.2 504.1h0.8M80.9 474.5h0.8M85.7 498.8h0.8M91.1 503.5h0.8M83.7 493.9h0.8M83.1 488.6h0.8M84.0 505.4h0.8M90.3 496.7h0.8M92.9 475.5h0.8M88.0 485.4h0.8M83.2 479.6h0.8M89.2 509.3h0.8M78.8 475.6h0.8M87.3 504.5h0.8M80.2 482.9h0.8M89.2 483.1h0.8M91.7 474.5h0.8M87.8 476.5h0.8M85.6 490.7h0.8M86.1 502.0h0.8M87.0 480.9h0.8M86.2 492.7h0.8M85.3 488.2h0.8M88.1 482.4h0.8M87.6 481.8h0.8M82.1 497.0h0.8M89.7 494.6h0.8M91.1 492.0h0.8M83.0 482.6h0.8M82.8 484.5h0.8M88.7 497.5h0.8M86.8 490.7h0.8M83.3 481.5h0.8M87.0 489.5h0.8M84.8 491.3h0.8M88.2 475.8h0.8M85.6 492.6h0.8M88.5 489.1h0.8M91.6 490.0h0.8M85.3 494.4h0.8M86.9 496.1h0.8M85.0 481.3h0.8M95.9 486.2h0.8M88.4 476.5h0.8M92.3 474.5h0.8M86.6 493.7h0.8M91.0 501.6h0.8M88.6 478.7h0.8M90.1 488.8h0.8M88.2 507.6h0.8M89.2 482.8h0.8M87.5 499.6h0.8M87.5 485.6h0.8M89.8 476.5h0.8M87.3 487.7h0.8M86.4 481.9h0.8M86.1 474.5h0.8M88.5 509.5h0.8M84.0 495.9h0.8M94.5 496.3h0.8M74.2 476.1h0.8M92.2 492.9h0.8M82.8 482.0h0.8M97.0 473.4h0.8M85.8 508.2h0.8M93.0 500.5h0.8M103.8 500.3h0.8M89.4 496.5h0.8M89.5 478.5h0.8M91.2 484.7h0.8M84.5 483.4h0.8M93.5 501.6h0.8M99.5 489.0h0.8M92.4 479.8h0.8M84.4 480.2h0.8M95.1 482.3h0.8M84.1 507.2h0.8M89.8 507.3h0.8M91.8 487.2h0.8M92.6 477.8h0.8M82.4 488.5h0.8M78.0 489.1h0.8M85.1 503.1h0.8M81.5 505.1h0.8M81.7 470.0h0.8M78.9 481.3h0.8M80.7 490.7h0.8M87.5 498.0h0.8M92.6 507.3h0.8M95.6 474.4h0.8M38.9 489.6h0.8M16.5 483.1h0.8M25.7 490.5h0.8M46.8 488.2h0.8M32.0 485.1h0.8M34.2 487.2h0.8M19.5 504.1h0.8M15.5 505.4h0.8M32.3 507.4h0.8M32.6 500.4h0.8M25.8 475.4h0.8M37.7 474.7h0.8M30.2 499.5h0.8M26.3 507.2h0.8M24.2 508.5h0.8M44.6 504.7h0.8M38.2 494.5h0.8M44.9 502.0h0.8M33.6 477.3h0.8M25.3 482.5h0.8M39.5 503.7h0.8M35.1 489.7h0.8M36.7 504.5h0.8M34.6 476.3h0.8M62.7 502.0h0.8M64.4 500.9h0.8M43.0 491.0h0.8M69.1 496.5h0.8M59.4 495.0h0.8M55.8 505.3h0.8M55.7 483.9h0.8M51.9 487.4h0.8M76.1 499.1h0.8M60.6 484.6h0.8M77.5 480.4h0.8M72.1 475.6h0.8M69.2 487.8h0.8M76.3 498.2h0.8M65.0 495.0h0.8M44.4 503.4h0.8M59.7 487.9h0.8M59.1 488.4h0.8M78.3 484.3h0.8M72.9 482.8h0.8M63.7 496.1h0.8M79.2 496.5h0.8M77.4 479.2h0.8M69.0 490.9h0.8M68.7 476.7h0.8M55.4 476.0h0.8M51.3 476.3h0.8M61.3 496.2h0.8M55.4 480.5h0.8M54.0 490.0h0.8M77.0 499.4h0.8M71.9 493.3h0.8M77.0 479.2h0.8M66.5 490.4h0.8M82.8 490.0h0.8M59.8 499.7h0.8M62.7 491.0h0.8M59.8 486.5h0.8M72.0 485.4h0.8M58.1 489.5h0.8M57.6 492.2h0.8M60.9 495.3h0.8M70.9 475.8h0.8M50.6 489.4h0.8M67.0 485.2h0.8M62.2 487.3h0.8M76.2 486.2h0.8M65.1 492.6h0.8M62.0 484.5h0.8M58.7 480.5h0.8M72.6 486.5h0.8M67.0 491.2h0.8M70.4 486.0h0.8M41.3 474.5h0.8M59.7 483.3h0.8M75.2 494.3h0.8M68.9 492.2h0.8M69.9 485.1h0.8M45.9 480.8h0.8M15.1 453.6h0.8M69.4 453.8h0.8M43.9 454.5h0.8M74.4 450.1h0.8M79.7 455.2h0.8M58.3 454.3h0.8M73.6 454.2h0.8M55.6 451.6h0.8M15.4 456.9h0.8M18.9 450.8h0.8M23.9 453.8h0.8M59.6 450.6h0.8M46.0 450.9h0.8M62.9 451.5h0.8M38.1 450.6h0.8M179.9 379.9h0.8M180.3 394.7h0.8M173.5 389.5h0.8M172.2 384.4h0.8M179.9 390.0h0.8M177.8 391.4h0.8M174.5 374.9h0.8M180.0 359.8h0.8M172.4 400.2h0.8M174.7 364.1h0.8M179.4 378.2h0.8M172.4 394.0h0.8M182.9 376.0h0.8M178.4 403.3h0.8M184.0 405.6h0.8M173.7 394.0h0.8M176.0 380.6h0.8M183.2 394.2h0.8M175.8 376.8h0.8M177.1 365.0h0.8M174.5 408.1h0.8M173.4 397.3h0.8M174.6 376.5h0.8M175.1 380.0h0.8M170.9 388.7h0.8M175.8 391.8h0.8M181.7 400.7h0.8M178.4 394.4h0.8M173.8 374.2h0.8M180.0 396.3h0.8M175.3 372.1h0.8M184.2 398.8h0.8M180.2 389.5h0.8M178.0 406.4h0.8M184.4 393.7h0.8M175.3 388.8h0.8M182.3 381.3h0.8M176.8 398.8h0.8M178.7 392.4h0.8M176.1 376.6h0.8M182.7 398.4h0.8M182.6 396.0h0.8M178.6 385.7h0.8M176.9 409.3h0.8M176.7 386.5h0.8M176.1 387.7h0.8M174.7 396.8h0.8M178.1 395.9h0.8M179.4 404.1h0.8M173.1 372.3h0.8M182.3 387.5h0.8M177.2 401.4h0.8M181.3 373.0h0.8M181.6 376.8h0.8M174.7 378.4h0.8M178.2 389.9h0.8M176.8 400.8h0.8M176.2 364.9h0.8M176.6 381.5h0.8M171.7 386.2h0.8M173.1 401.7h0.8M183.3 378.8h0.8M183.1 375.8h0.8M182.4 402.8h0.8M176.7 408.5h0.8M181.9 378.3h0.8M182.0 373.7h0.8M181.2 375.5h0.8M171.2 384.2h0.8M177.7 408.1h0.8M179.2 375.7h0.8M181.6 377.0h0.8M179.6 405.1h0.8M181.6 380.7h0.8M176.5 375.6h0.8M177.0 393.3h0.8M179.4 362.0h0.8M179.3 363.3h0.8M180.5 380.3h0.8M182.9 374.9h0.8M182.5 384.3h0.8M183.2 383.5h0.8M177.0 382.6h0.8M179.4 370.6h0.8M180.0 382.4h0.8M171.5 392.1h0.8M178.0 395.6h0.8M176.1 384.8h0.8M181.8 397.3h0.8M173.7 398.9h0.8M183.0 381.5h0.8M173.2 406.6h0.8M171.8 388.7h0.8M180.6 391.8h0.8M170.8 405.0h0.8M180.2 376.3h0.8M176.7 401.4h0.8M175.6 382.2h0.8M176.9 370.2h0.8M175.8 378.1h0.8M183.1 392.3h0.8M179.9 406.3h0.8M174.6 381.0h0.8M181.3 404.3h0.8M184.2 379.0h0.8M187.9 394.3h0.8M186.6 396.8h0.8M171.7 390.9h0.8M176.3 402.8h0.8M185.3 388.6h0.8M177.3 376.0h0.8M177.7 364.0h0.8M182.5 407.8h0.8M174.3 366.0h0.8M182.9 380.9h0.8M172.7 376.9h0.8M179.5 410.4h0.8M178.0 398.3h0.8M170.8 377.7h0.8M178.8 364.0h0.8M179.1 386.4h0.8M180.5 402.0h0.8M180.7 392.2h0.8M176.3 380.2h0.8M183.7 390.7h0.8M174.1 393.3h0.8M174.1 392.6h0.8M176.6 393.2h0.8M180.4 398.4h0.8M173.1 405.7h0.8M180.1 372.5h0.8M178.4 408.1h0.8M175.5 364.9h0.8M181.0 400.8h0.8M177.9 404.9h0.8M179.6 395.2h0.8M175.1 373.8h0.8M174.1 375.7h0.8M171.0 400.0h0.8M179.2 365.5h0.8M183.3 380.2h0.8M174.5 367.2h0.8M177.6 373.8h0.8M175.4 376.0h0.8M174.5 400.9h0.8M181.0 378.4h0.8M181.3 385.0h0.8M179.9 367.2h0.8M179.2 392.0h0.8M174.4 402.7h0.8M168.7 393.7h0.8M179.0 376.2h0.8M177.4 387.9h0.8M183.5 389.7h0.8M180.5 377.3h0.8M181.2 371.1h0.8M176.7 377.1h0.8M186.1 385.4h0.8M174.8 399.6h0.8M178.9 373.1h0.8M185.6 375.1h0.8M181.3 390.1h0.8M177.7 377.1h0.8M178.1 396.5h0.8M176.4 365.6h0.8M174.2 386.0h0.8M177.2 406.8h0.8M172.5 397.5h0.8M184.0 383.8h0.8M175.4 378.0h0.8M169.9 386.7h0.8M174.0 387.2h0.8M170.8 382.4h0.8M174.1 372.3h0.8M177.0 389.1h0.8M173.3 376.2h0.8M174.5 391.8h0.8M175.1 395.8h0.8M182.1 404.1h0.8M173.1 373.6h0.8M180.7 381.0h0.8M175.2 366.5h0.8M185.1 384.9h0.8M179.3 374.9h0.8M175.6 403.3h0.8M183.0 390.7h0.8M169.9 372.6h0.8M175.0 384.5h0.8M171.8 376.3h0.8M181.0 366.3h0.8M177.6 405.3h0.8M178.7 369.9h0.8M177.3 388.6h0.8M176.0 405.8h0.8M180.6 399.2h0.8M179.5 372.1h0.8M183.5 382.0h0.8M179.6 364.0h0.8M172.0 372.4h0.8M173.9 383.3h0.8M180.9 406.8h0.8M178.6 388.0h0.8M172.3 383.9h0.8M174.7 410.4h0.8M173.1 370.5h0.8M178.4 404.4h0.8M178.8 384.2h0.8M180.4 369.5h0.8M184.8 408.5h0.8M181.9 399.4h0.8M181.6 395.0h0.8M174.9 387.2h0.8M170.1 374.3h0.8M179.9 394.8h0.8M184.8 388.2h0.8M181.0 402.1h0.8M171.4 398.5h0.8M181.1 364.9h0.8M177.2 367.8h0.8M175.6 400.5h0.8M175.8 401.5h0.8M184.3 399.2h0.8M177.0 399.9h0.8M178.5 372.2h0.8M176.9 396.2h0.8M175.4 371.3h0.8M180.8 373.7h0.8M179.4 403.8h0.8M172.8 386.4h0.8M172.2 374.9h0.8M180.4 375.4h0.8M185.6 370.2h0.8M176.9 373.5h0.8M178.5 377.0h0.8M184.9 390.5h0.8M171.7 393.1h0.8M175.6 392.7h0.8M170.7 387.7h0.8M181.3 396.1h0.8M179.1 388.5h0.8M177.8 390.8h0.8M179.1 376.6h0.8M178.4 397.9h0.8M179.9 398.6h0.8M175.4 390.0h0.8M182.9 371.9h0.8M180.8 388.9h0.8M177.3 384.2h0.8M173.3 364.3h0.8M169.5 391.8h0.8M185.1 389.9h0.8M174.7 389.1h0.8M181.8 362.3h0.8M176.8 391.5h0.8M176.9 403.2h0.8M178.1 366.8h0.8M182.6 378.8h0.8M179.9 380.7h0.8M182.6 392.8h0.8M176.9 389.0h0.8M182.7 382.9h0.8M173.5 399.0h0.8M180.8 397.7h0.8M179.1 369.0h0.8M183.6 385.4h0.8M185.7 372.6h0.8M185.4 391.4h0.8M170.0 381.5h0.8M170.1 394.0h0.8M184.5 373.5h0.8M182.4 370.6h0.8M179.1 371.0h0.8M177.5 397.5h0.8M179.7 390.1h0.8M176.3 392.3h0.8M180.3 386.4h0.8M176.8 379.8h0.8M172.7 401.0h0.8M177.2 383.0h0.8M161.9 378.9h0.8M170.6 353.5h0.8M162.4 377.6h0.8M183.2 368.5h0.8M168.1 390.1h0.8M174.6 411.4h0.8M178.3 386.9h0.8M189.6 406.2h0.8M172.8 354.6h0.8M181.9 386.5h0.8M174.7 398.7h0.8M177.4 396.1h0.8M186.4 397.0h0.8M181.7 391.0h0.8M167.6 386.9h0.8M187.5 380.5h0.8M184.8 376.5h0.8M188.3 391.3h0.8M178.0 382.9h0.8M174.0 395.0h0.8M171.0 385.1h0.8M178.5 401.3h0.8M185.5 398.9h0.8M182.6 377.7h0.8M187.5 398.3h0.8M177.5 356.2h0.8M174.9 404.6h0.8M180.2 365.6h0.8M192.1 374.5h0.8M184.4 357.6h0.8M171.5 404.7h0.8M175.3 386.3h0.8M173.8 394.0h0.8M183.6 398.0h0.8M188.8 388.3h0.8M186.9 364.6h0.8M179.9 399.8h0.8M188.2 387.3h0.8M182.6 394.8h0.8M175.2 362.7h0.8M166.1 365.7h0.8M186.4 381.9h0.8M182.8 364.3h0.8M171.8 366.3h0.8M181.1 385.3h0.8M175.0 383.7h0.8M178.0 394.1h0.8M179.7 391.9h0.8M166.3 370.5h0.8M182.2 393.5h0.8M172.6 399.6h0.8M189.1 381.0h0.8M184.5 411.4h0.8M171.1 373.6h0.8M168.9 407.3h0.8M190.4 399.4h0.8M181.2 395.2h0.8M177.0 392.1h0.8M174.3 395.6h0.8M183.1 395.9h0.8M183.1 396.7h0.8M190.3 379.4h0.8M178.7 379.5h0.8M181.2 406.7h0.8M182.6 391.7h0.8M170.6 367.9h0.8M172.8 382.8h0.8M179.1 387.3h0.8M209.7 364.5h0.8M218.8 368.4h0.8M208.0 363.7h0.8M206.4 368.3h0.8M213.2 369.6h0.8M217.0 370.9h0.8M211.3 373.3h0.8M201.3 366.8h0.8M198.2 365.1h0.8M208.3 367.4h0.8M214.1 365.3h0.8M204.5 362.4h0.8M210.3 372.9h0.8M207.6 370.7h0.8M206.7 361.7h0.8M200.3 366.2h0.8M191.7 371.3h0.8M226.5 365.6h0.8M193.7 361.5h0.8M193.0 362.6h0.8M212.0 367.8h0.8M217.5 374.4h0.8M221.5 367.0h0.8M203.9 359.1h0.8M193.4 366.9h0.8M190.0 366.0h0.8M190.2 373.4h0.8M202.6 404.9h0.8M217.8 397.1h0.8M195.7 388.1h0.8M207.9 403.7h0.8M209.6 393.1h0.8M208.8 402.0h0.8M196.3 386.9h0.8M192.1 392.5h0.8M195.5 404.7h0.8M218.7 404.5h0.8M215.1 397.3h0.8M162.8 390.8h0.8M180.5 402.3h0.8M158.7 394.6h0.8M177.7 372.7h0.8M179.9 397.2h0.8M173.5 493.7h0.8M180.7 485.8h0.8M181.9 486.1h0.8M177.6 469.2h0.8M171.6 468.8h0.8M178.2 487.0h0.8M183.2 475.1h0.8M187.6 485.3h0.8M178.9 488.9h0.8M177.3 480.6h0.8M179.6 466.5h0.8M180.7 469.8h0.8M170.7 498.2h0.8M180.9 460.4h0.8M183.1 461.3h0.8M179.9 459.9h0.8M179.2 495.8h0.8M175.1 475.9h0.8M181.7 501.7h0.8M181.6 493.2h0.8M181.4 461.3h0.8M182.7 499.0h0.8M185.5 485.5h0.8M176.4 472.5h0.8M179.6 472.1h0.8M184.9 494.7h0.8M181.6 475.4h0.8M181.6 467.3h0.8M176.2 460.1h0.8M180.2 463.6h0.8M181.1 502.8h0.8M170.9 499.8h0.8M176.3 478.9h0.8M177.4 496.9h0.8M180.1 497.4h0.8M184.1 476.6h0.8M177.6 494.0h0.8M172.7 477.6h0.8M179.5 489.5h0.8M174.0 468.0h0.8M179.3 463.6h0.8M177.8 460.2h0.8M180.2 472.7h0.8M177.9 464.4h0.8M176.8 466.9h0.8M182.0 488.3h0.8M171.5 477.9h0.8M175.1 500.2h0.8M179.5 485.4h0.8M177.6 467.9h0.8M178.8 494.2h0.8M181.0 476.6h0.8M181.6 465.6h0.8M174.5 493.6h0.8M178.3 469.1h0.8M181.8 487.6h0.8M182.4 478.1h0.8M171.0 482.1h0.8M179.1 477.5h0.8M183.9 484.5h0.8M179.5 488.3h0.8M181.0 489.9h0.8M190.7 483.4h0.8M177.9 474.5h0.8M178.4 479.3h0.8M177.8 488.9h0.8M180.1 487.0h0.8M181.3 485.8h0.8M177.9 471.5h0.8M179.4 484.6h0.8M173.4 476.7h0.8M188.0 481.6h0.8M176.9 495.4h0.8M179.7 492.5h0.8M179.7 494.5h0.8M182.8 481.0h0.8M178.8 491.3h0.8M179.3 470.3h0.8M181.6 492.5h0.8M175.9 476.2h0.8M183.1 478.3h0.8M175.8 485.1h0.8M177.4 482.7h0.8M185.7 490.4h0.8M172.7 496.7h0.8M180.2 480.9h0.8M180.1 481.7h0.8M181.1 484.2h0.8M183.2 489.8h0.8M177.5 461.2h0.8M220.3 459.9h0.8M216.5 458.0h0.8M213.6 455.2h0.8M212.0 458.0h0.8M219.1 458.8h0.8M210.6 464.1h0.8M219.3 460.9h0.8M211.1 463.1h0.8M211.7 461.6h0.8M225.7 461.0h0.8M215.6 460.2h0.8M219.1 454.3h0.8M208.9 464.1h0.8M217.0 476.2h0.8M216.0 471.9h0.8M213.1 477.0h0.8M202.7 477.5h0.8M191.0 477.6h0.8M226.4 451.5h0.8M211.7 467.3h0.8M200.0 477.3h0.8M212.0 456.1h0.8M194.2 453.6h0.8M186.8 450.2h0.8M155.5 453.1h0.8M158.6 477.8h0.8M182.1 489.3h0.8M183.4 582.6h0.8M167.8 575.6h0.8M177.2 597.0h0.8M178.1 563.3h0.8M173.5 573.6h0.8M179.7 588.9h0.8M178.4 573.1h0.8M170.8 585.4h0.8M176.6 559.9h0.8M183.2 574.2h0.8M177.0 591.7h0.8M179.7 584.7h0.8M176.8 563.0h0.8M177.5 575.3h0.8M171.2 563.4h0.8M182.4 596.4h0.8M183.8 583.1h0.8M179.6 592.3h0.8M172.7 590.0h0.8M178.1 561.5h0.8M170.8 562.4h0.8M186.1 571.3h0.8M177.2 595.7h0.8M185.1 572.3h0.8M177.1 574.4h0.8M173.5 576.8h0.8M180.1 583.2h0.8M175.9 578.4h0.8M179.4 574.8h0.8M172.9 578.0h0.8M172.9 582.1h0.8M170.6 563.6h0.8M172.4 593.6h0.8M171.4 583.1h0.8M181.1 570.5h0.8M178.3 589.4h0.8M180.0 574.9h0.8M180.6 585.9h0.8M174.5 561.8h0.8M173.7 551.1h0.8M173.8 582.6h0.8M171.8 577.0h0.8M167.4 593.0h0.8M171.3 568.9h0.8M176.4 586.6h0.8M168.1 570.2h0.8M179.3 557.8h0.8M176.9 577.3h0.8M186.2 584.5h0.8M177.0 570.7h0.8M172.4 571.5h0.8M174.6 596.7h0.8M176.8 561.8h0.8M172.5 588.5h0.8M185.4 584.1h0.8M167.3 574.0h0.8M170.2 555.3h0.8M182.1 582.2h0.8M173.3 554.8h0.8M184.5 576.9h0.8M169.9 588.5h0.8M175.5 569.4h0.8M175.8 576.1h0.8M177.6 559.3h0.8M165.1 564.6h0.8M182.9 593.7h0.8M183.0 579.1h0.8M174.0 553.8h0.8M171.1 579.7h0.8M172.7 568.9h0.8M176.3 555.5h0.8M177.8 586.5h0.8M167.1 583.4h0.8M176.7 582.6h0.8M181.9 574.6h0.8M171.0 570.6h0.8M177.5 572.3h0.8M180.7 596.9h0.8M179.6 568.6h0.8M181.9 582.9h0.8M169.5 568.6h0.8M171.0 560.8h0.8M177.0 574.5h0.8M170.4 566.4h0.8M169.0 562.6h0.8M174.4 591.7h0.8M174.3 597.6h0.8M179.7 571.3h0.8M170.3 588.6h0.8M180.9 578.6h0.8M169.3 581.0h0.8M177.6 590.0h0.8M176.1 568.0h0.8M175.9 583.2h0.8M177.8 566.5h0.8M167.7 579.1h0.8M173.3 572.1h0.8M173.2 587.5h0.8M182.6 577.1h0.8M180.6 588.1h0.8M179.1 562.3h0.8M178.6 600.5h0.8M179.7 569.8h0.8M184.3 560.8h0.8M170.4 568.5h0.8M178.5 585.9h0.8M186.3 567.0h0.8M171.7 555.7h0.8M175.4 595.9h0.8M184.7 586.0h0.8M173.3 569.1h0.8M175.5 570.2h0.8M181.0 580.6h0.8M180.3 593.5h0.8M171.4 577.7h0.8M170.0 584.7h0.8M182.4 585.7h0.8M171.5 573.2h0.8M176.6 567.9h0.8M176.0 563.8h0.8M178.7 593.5h0.8M177.0 557.5h0.8M186.8 578.6h0.8M171.0 571.3h0.8M169.1 564.3h0.8M175.2 587.5h0.8M174.0 574.0h0.8M181.1 591.3h0.8M178.4 576.6h0.8M184.7 561.2h0.8M178.3 590.2h0.8M175.3 561.9h0.8M181.2 588.3h0.8M177.8 585.1h0.8M177.5 577.5h0.8M178.7 558.9h0.8M170.4 587.1h0.8M166.7 574.0h0.8M174.7 563.4h0.8M171.9 557.7h0.8M177.8 594.2h0.8M177.8 561.1h0.8M170.4 574.4h0.8M167.2 564.8h0.8M180.9 577.4h0.8M169.5 578.7h0.8M170.2 564.5h0.8M179.7 594.7h0.8M179.4 572.1h0.8M171.1 584.5h0.8M172.1 572.3h0.8M180.8 587.3h0.8M184.9 586.4h0.8M168.3 588.9h0.8M168.7 577.6h0.8M182.9 571.6h0.8M179.0 582.0h0.8M169.8 577.1h0.8M170.4 577.5h0.8M178.4 583.2h0.8M181.1 566.1h0.8M183.7 571.4h0.8M171.3 570.0h0.8M178.8 577.7h0.8M175.7 584.0h0.8M179.0 588.1h0.8M178.0 582.3h0.8M180.9 594.5h0.8M173.8 592.8h0.8M177.3 573.3h0.8M178.4 551.2h0.8M176.8 584.5h0.8M178.3 566.0h0.8M172.0 578.4h0.8M171.3 592.2h0.8M182.0 591.0h0.8M176.9 573.6h0.8M173.5 562.1h0.8M177.4 589.5h0.8M174.4 551.5h0.8M179.8 580.2h0.8M169.3 594.7h0.8M173.8 566.6h0.8M181.0 577.8h0.8M186.1 580.0h0.8M185.7 562.1h0.8M184.2 577.2h0.8M172.3 558.7h0.8M182.0 568.9h0.8M181.0 557.3h0.8M174.0 555.4h0.8M183.0 578.2h0.8M169.4 586.0h0.8M171.9 598.2h0.8M172.6 595.4h0.8M177.8 567.4h0.8M182.3 590.6h0.8M177.3 553.7h0.8M181.7 567.2h0.8M180.5 568.7h0.8M177.4 591.7h0.8M177.9 570.9h0.8M172.3 587.4h0.8M181.5 586.3h0.8M168.7 567.6h0.8M175.3 563.6h0.8M183.8 574.0h0.8M177.2 588.8h0.8M177.7 584.8h0.8M183.4 560.5h0.8M169.8 567.2h0.8M169.0 590.0h0.8M169.5 570.9h0.8M179.2 564.3h0.8M180.7 555.9h0.8M186.4 561.4h0.8M182.3 573.1h0.8M171.0 581.9h0.8M178.8 586.3h0.8M178.5 580.6h0.8M166.0 582.9h0.8M179.3 576.0h0.8M179.5 578.1h0.8M180.0 586.6h0.8M179.6 583.5h0.8M168.1 564.2h0.8M182.6 569.6h0.8M180.2 569.7h0.8M179.4 560.1h0.8M176.2 580.7h0.8M172.2 581.9h0.8M182.6 575.6h0.8M175.4 573.0h0.8M179.3 595.4h0.8M174.6 575.0h0.8M176.8 595.7h0.8M185.7 568.0h0.8M181.7 571.4h0.8M172.2 564.1h0.8M183.6 572.3h0.8M176.4 560.5h0.8M176.7 553.4h0.8M180.9 572.1h0.8M178.5 556.5h0.8M185.7 582.5h0.8M172.1 567.8h0.8M185.0 581.4h0.8M182.6 567.3h0.8M172.4 569.4h0.8M186.8 585.3h0.8M170.2 561.5h0.8M179.0 553.2h0.8M173.3 578.5h0.8M179.4 593.5h0.8M184.4 570.3h0.8M168.0 580.0h0.8M184.6 580.6h0.8M172.2 580.7h0.8M173.3 590.5h0.8M181.2 575.2h0.8M173.9 575.7h0.8M175.4 554.0h0.8M174.8 567.1h0.8M180.6 591.6h0.8M176.6 592.1h0.8M169.9 583.9h0.8M183.1 558.9h0.8M176.1 585.3h0.8M185.0 563.6h0.8M173.6 589.5h0.8M182.7 565.7h0.8M181.0 584.8h0.8M173.2 557.4h0.8M175.7 581.1h0.8M172.8 561.7h0.8M176.4 566.5h0.8M169.4 587.3h0.8M179.1 585.9h0.8M171.5 596.1h0.8M175.8 590.4h0.8M179.7 551.1h0.8M182.3 583.7h0.8M184.0 571.0h0.8M184.4 587.5h0.8M177.7 564.2h0.8M180.0 573.8h0.8M174.3 564.0h0.8M185.5 576.9h0.8M170.8 579.8h0.8M163.3 575.6h0.8M178.7 587.6h0.8M183.8 569.7h0.8M181.0 590.2h0.8M187.2 601.6h0.8M181.0 578.8h0.8M183.3 565.0h0.8M179.1 577.3h0.8M178.9 575.5h0.8M182.5 577.0h0.8M181.1 576.5h0.8M177.5 578.4h0.8M176.0 557.2h0.8M188.8 588.5h0.8M172.3 561.0h0.8M178.5 579.3h0.8M183.0 574.7h0.8M170.9 576.7h0.8M171.1 599.9h0.8M169.4 563.3h0.8M180.2 576.2h0.8M183.2 576.5h0.8M170.9 582.3h0.8M177.7 583.2h0.8M182.1 581.5h0.8M175.1 579.1h0.8M187.7 575.9h0.8M189.7 573.5h0.8M187.8 573.4h0.8M176.5 578.6h0.8M177.6 576.9h0.8M163.6 573.2h0.8M182.2 599.4h0.8M183.7 581.7h0.8M180.9 579.8h0.8M167.8 563.7h0.8M170.1 575.7h0.8M173.6 556.1h0.8M156.5 560.8h0.8M179.7 599.1h0.8M171.9 562.9h0.8M179.5 589.8h0.8M180.9 563.7h0.8M183.4 577.9h0.8M169.9 581.3h0.8M182.8 559.5h0.8M166.0 591.5h0.8M173.6 568.2h0.8M171.8 553.5h0.8M181.0 581.5h0.8M190.4 597.0h0.8M178.9 572.0h0.8M185.1 587.5h0.8M175.3 575.3h0.8M177.9 558.9h0.8M173.0 556.7h0.8M188.3 581.7h0.8M183.6 559.4h0.8M168.0 569.5h0.8M171.3 561.7h0.8M185.6 570.9h0.8M175.3 571.6h0.8M170.2 581.4h0.8M166.4 575.9h0.8M175.3 549.6h0.8M173.4 594.1h0.8M168.6 571.4h0.8M187.9 584.6h0.8M186.4 587.6h0.8M183.4 568.6h0.8M186.1 564.9h0.8M181.1 554.5h0.8M173.8 567.3h0.8M186.1 576.9h0.8M171.8 589.8h0.8M182.4 586.4h0.8M180.3 597.2h0.8M185.9 557.1h0.8M178.6 602.2h0.8M181.8 585.6h0.8M183.5 563.5h0.8M178.9 559.8h0.8M164.6 588.4h0.8M169.4 574.8h0.8M177.8 579.5h0.8M186.9 589.3h0.8M174.6 582.2h0.8M173.3 579.6h0.8M183.5 596.6h0.8M190.3 578.2h0.8M183.1 575.8h0.8M181.2 584.8h0.8M220.7 565.7h0.8M210.6 567.9h0.8M211.6 566.0h0.8M217.5 565.6h0.8M220.4 558.9h0.8M207.4 557.7h0.8M210.9 556.5h0.8M221.2 566.4h0.8M222.0 558.0h0.8M219.1 572.3h0.8M213.7 563.7h0.8M214.0 568.2h0.8M213.8 556.8h0.8M216.2 570.1h0.8M210.0 566.3h0.8M215.7 566.8h0.8M217.7 561.2h0.8M216.7 565.7h0.8M227.3 558.9h0.8M216.1 553.5h0.8M221.1 557.0h0.8M206.7 562.6h0.8M210.6 565.4h0.8M218.1 566.0h0.8M216.0 564.0h0.8M220.2 569.1h0.8M212.5 569.3h0.8M217.5 574.0h0.8M215.5 561.4h0.8M214.1 558.6h0.8M215.4 573.4h0.8M219.9 558.3h0.8M217.4 559.2h0.8M211.5 568.0h0.8M213.7 575.7h0.8M219.9 568.3h0.8M218.3 562.5h0.8M215.2 557.7h0.8M225.1 559.0h0.8M217.0 562.1h0.8M219.8 567.5h0.8M204.8 570.0h0.8M225.2 561.0h0.8M228.7 567.6h0.8M194.6 555.8h0.8M219.4 548.8h0.8M200.7 558.9h0.8M193.1 554.5h0.8M198.9 549.4h0.8M212.8 565.6h0.8M226.3 572.5h0.8M157.8 546.4h0.8M151.1 562.5h0.8M175.6 545.7h0.8M150.2 569.8h0.8M176.1 552.1h0.8M172.7 550.4h0.8M186.4 563.8h0.8M305.7 467.6h0.8M299.7 463.7h0.8M286.7 468.0h0.8M309.0 471.0h0.8M301.9 465.9h0.8M289.3 468.9h0.8M312.2 470.9h0.8M305.5 473.3h0.8M290.6 475.1h0.8M294.5 467.5h0.8M289.1 472.7h0.8M285.5 469.8h0.8M307.6 472.4h0.8M302.6 471.6h0.8M312.6 474.4h0.8M296.8 471.1h0.8M286.2 471.2h0.8M307.9 465.8h0.8M315.3 468.9h0.8M286.9 473.0h0.8M299.9 469.7h0.8M300.7 471.1h0.8M289.3 467.1h0.8M298.4 470.1h0.8M311.9 470.2h0.8M304.0 467.1h0.8M315.4 469.8h0.8M292.7 468.6h0.8M297.1 469.7h0.8M288.6 469.4h0.8M300.9 467.8h0.8M299.5 477.2h0.8M301.0 468.5h0.8M307.9 467.3h0.8M312.9 475.5h0.8M287.0 470.7h0.8M305.0 469.4h0.8M298.4 473.3h0.8M296.1 474.8h0.8M316.7 464.9h0.8M294.9 472.6h0.8M297.4 468.4h0.8M290.4 466.8h0.8M290.5 471.7h0.8M295.9 471.5h0.8M306.5 470.9h0.8M289.3 475.0h0.8M296.8 469.0h0.8M285.8 470.9h0.8M313.7 465.4h0.8M293.0 472.9h0.8M307.6 475.0h0.8M287.8 465.4h0.8M293.8 470.2h0.8M311.6 472.6h0.8M296.4 472.8h0.8M300.6 474.3h0.8M300.7 479.6h0.8M303.9 472.2h0.8M307.3 471.4h0.8M304.3 472.4h0.8M313.6 469.9h0.8M290.5 474.2h0.8M289.7 469.4h0.8M314.7 469.3h0.8M290.7 472.7h0.8M314.4 470.6h0.8M313.1 478.0h0.8M315.6 476.7h0.8M305.6 472.7h0.8M315.1 465.9h0.8M308.1 476.5h0.8M312.0 471.8h0.8M302.4 473.4h0.8M287.9 474.7h0.8M299.1 468.5h0.8M298.4 472.2h0.8M296.5 465.0h0.8M297.2 464.6h0.8M294.1 465.7h0.8M309.7 466.0h0.8M293.2 469.8h0.8M302.9 473.0h0.8M298.2 474.8h0.8M306.6 465.4h0.8M293.0 466.8h0.8M291.9 471.9h0.8M301.5 469.0h0.8M307.1 470.7h0.8M288.4 465.9h0.8M310.6 466.8h0.8M309.3 466.4h0.8M314.5 471.0h0.8M297.5 473.0h0.8M291.9 465.6h0.8M309.3 469.5h0.8M301.0 474.5h0.8M287.8 466.6h0.8M294.6 469.1h0.8M308.9 469.9h0.8M298.4 466.2h0.8M311.9 468.1h0.8M300.6 466.1h0.8M293.0 477.0h0.8M286.0 468.7h0.8M295.7 470.1h0.8M303.3 466.9h0.8M291.7 469.5h0.8M311.9 474.1h0.8M296.5 473.2h0.8M315.6 457.2h0.8M300.1 470.0h0.8M306.0 466.3h0.8M293.0 472.8h0.8M300.5 472.8h0.8M284.0 476.3h0.8M308.5 470.3h0.8M312.2 468.1h0.8M288.8 472.0h0.8M295.9 472.3h0.8M313.1 471.3h0.8M316.5 467.7h0.8M296.2 467.7h0.8M296.1 463.3h0.8M313.8 467.7h0.8M311.9 464.5h0.8M306.4 469.0h0.8M294.1 471.0h0.8M302.1 466.3h0.8M290.4 468.5h0.8M291.9 470.1h0.8M290.5 473.5h0.8M308.1 466.8h0.8M306.5 475.2h0.8M315.8 477.7h0.8M312.2 466.4h0.8M297.1 471.0h0.8M286.9 466.4h0.8M306.6 472.8h0.8M302.2 463.8h0.8M290.0 469.2h0.8M286.0 470.6h0.8M303.6 463.1h0.8M284.4 467.2h0.8M308.3 468.8h0.8M307.9 469.2h0.8M302.0 467.2h0.8M296.4 465.6h0.8M287.3 467.4h0.8M289.0 468.5h0.8M296.2 470.9h0.8M291.1 466.3h0.8M308.5 463.5h0.8M300.9 464.0h0.8M316.7 468.9h0.8M286.1 463.8h0.8M309.2 473.1h0.8M295.6 468.6h0.8M293.2 473.2h0.8M288.1 467.1h0.8M302.0 470.2h0.8M310.1 469.4h0.8M306.4 469.1h0.8M284.4 473.6h0.8M312.5 472.6h0.8M308.7 471.5h0.8M301.3 468.3h0.8M314.5 474.1h0.8M295.3 467.1h0.8M291.0 466.0h0.8M302.5 467.5h0.8M285.4 471.2h0.8M290.7 468.0h0.8M306.2 474.7h0.8M301.2 466.2h0.8M305.7 465.9h0.8M305.6 470.7h0.8M284.6 468.7h0.8M314.0 472.5h0.8M305.6 464.2h0.8M289.3 470.4h0.8M288.5 471.0h0.8M295.4 473.2h0.8M305.1 479.0h0.8M299.2 472.7h0.8M315.7 466.3h0.8M315.0 472.7h0.8M298.3 468.1h0.8M284.2 465.6h0.8M305.5 469.4h0.8M288.5 474.3h0.8M307.2 473.7h0.8M300.6 462.1h0.8M287.6 469.9h0.8M305.7 477.1h0.8M313.5 468.4h0.8M311.7 469.8h0.8M284.1 470.3h0.8M288.1 466.8h0.8M316.3 471.6h0.8M289.3 473.0h0.8M292.1 464.9h0.8M287.8 471.3h0.8M298.6 475.9h0.8M311.3 465.9h0.8M313.9 464.2h0.8M298.6 469.8h0.8M284.0 471.8h0.8M292.8 469.7h0.8M289.3 466.0h0.8M304.2 462.4h0.8M316.2 475.0h0.8M312.2 469.8h0.8M308.3 473.3h0.8M316.0 474.6h0.8M341.9 468.5h0.8M347.7 463.4h0.8M329.0 468.2h0.8M343.4 476.9h0.8M348.7 467.0h0.8M327.3 466.4h0.8M341.2 469.0h0.8M339.3 469.6h0.8M328.2 468.5h0.8M324.5 469.4h0.8M338.7 473.8h0.8M347.3 468.4h0.8M331.9 471.8h0.8M344.6 470.3h0.8M337.0 466.1h0.8M325.3 472.0h0.8M328.7 472.2h0.8M344.4 464.1h0.8M342.8 470.1h0.8M329.9 465.8h0.8M324.4 474.4h0.8M333.8 472.3h0.8M337.4 468.1h0.8M333.0 468.4h0.8M338.9 470.4h0.8M347.0 471.1h0.8M325.0 473.9h0.8M332.4 470.3h0.8M325.9 469.5h0.8M324.1 461.0h0.8M327.6 469.8h0.8M325.9 466.6h0.8M347.6 467.1h0.8M330.9 470.1h0.8M339.0 468.5h0.8M322.5 480.2h0.8M325.8 468.2h0.8M325.5 463.3h0.8M345.1 471.1h0.8M348.3 465.9h0.8M344.4 471.4h0.8M327.3 467.1h0.8M326.6 474.1h0.8M340.7 465.7h0.8M334.5 470.3h0.8M324.3 472.2h0.8M345.1 467.4h0.8M335.6 472.0h0.8M343.7 469.2h0.8M343.0 466.4h0.8M338.1 466.7h0.8M326.4 465.6h0.8M333.3 470.3h0.8M329.9 471.8h0.8M335.9 470.8h0.8M324.4 465.8h0.8M345.4 468.1h0.8M337.6 471.3h0.8M329.6 474.3h0.8M346.4 470.9h0.8M334.2 469.1h0.8M348.3 469.3h0.8M333.1 469.8h0.8M347.7 470.8h0.8M346.9 473.5h0.8M337.1 470.7h0.8M344.2 473.7h0.8M325.2 473.9h0.8M330.6 467.4h0.8M345.7 470.8h0.8M345.1 469.1h0.8M341.2 468.0h0.8M336.3 469.7h0.8M327.7 468.6h0.8M347.2 460.5h0.8M343.7 464.3h0.8M329.7 470.5h0.8M323.3 464.8h0.8M332.8 476.0h0.8M344.7 466.0h0.8M332.3 463.9h0.8M345.0 466.0h0.8M343.6 470.4h0.8M341.2 465.4h0.8M331.0 466.0h0.8M337.0 468.6h0.8M346.1 468.5h0.8M331.2 472.8h0.8M342.8 467.5h0.8M334.8 465.0h0.8M323.1 468.8h0.8M339.3 472.0h0.8M331.1 468.7h0.8M335.4 464.7h0.8M323.2 466.4h0.8M326.6 466.6h0.8M326.9 467.9h0.8M332.5 465.6h0.8M339.8 470.2h0.8M343.1 467.4h0.8M322.8 468.0h0.8M340.2 467.7h0.8M322.0 464.2h0.8M335.4 466.5h0.8M338.6 461.8h0.8M324.2 471.0h0.8M331.1 470.4h0.8M347.3 474.3h0.8M344.0 468.6h0.8M325.0 470.6h0.8M338.0 475.0h0.8M336.6 464.0h0.8M328.7 465.6h0.8M327.5 470.8h0.8M324.5 467.9h0.8M328.5 471.9h0.8M328.6 474.0h0.8M326.3 468.1h0.8M324.9 460.6h0.8M345.6 465.8h0.8M341.0 472.0h0.8M322.6 474.2h0.8M331.7 469.3h0.8M328.4 467.1h0.8M340.2 471.7h0.8M340.1 468.7h0.8M338.2 465.1h0.8M342.1 468.5h0.8M343.5 472.4h0.8M343.9 471.1h0.8M322.7 471.4h0.8M332.8 471.9h0.8M342.3 465.5h0.8M334.6 471.8h0.8M338.1 471.7h0.8M348.5 470.5h0.8M337.7 472.6h0.8M339.2 465.5h0.8M330.5 472.8h0.8M332.2 468.8h0.8M338.4 462.4h0.8M347.9 464.4h0.8M338.1 468.2h0.8M327.4 473.4h0.8M332.2 472.3h0.8M322.1 473.0h0.8M329.1 472.8h0.8M343.9 466.6h0.8M344.2 474.6h0.8M340.3 470.0h0.8M347.8 461.8h0.8M328.5 464.1h0.8M332.5 469.2h0.8M322.7 468.1h0.8M334.7 460.3h0.8M336.8 472.3h0.8M323.2 467.7h0.8M332.2 467.4h0.8M323.6 470.6h0.8M344.8 472.9h0.8M337.8 467.7h0.8M344.6 469.3h0.8M327.8 476.0h0.8M331.5 466.6h0.8M348.5 467.3h0.8M317.5 472.2h0.8M315.8 470.9h0.8M317.0 464.3h0.8M320.8 467.8h0.8M316.2 470.5h0.8M320.1 469.6h0.8M318.4 469.7h0.8M317.0 470.7h0.8M322.7 470.9h0.8M317.1 468.0h0.8M319.2 467.4h0.8M323.9 463.9h0.8M320.3 474.3h0.8M314.6 465.0h0.8M320.7 466.5h0.8M315.3 473.7h0.8M314.6 476.7h0.8M316.5 465.1h0.8M320.3 463.1h0.8M315.0 467.7h0.8M316.5 472.1h0.8M314.1 468.7h0.8M320.1 470.0h0.8M323.5 471.8h0.8M316.3 466.7h0.8M321.9 475.7h0.8M320.1 471.3h0.8M318.6 472.0h0.8M319.4 474.4h0.8M321.2 465.0h0.8M317.6 469.8h0.8M318.4 468.5h0.8M319.7 470.1h0.8M320.3 472.8h0.8M317.7 467.2h0.8M323.9 465.2h0.8M318.6 465.2h0.8M314.8 466.8h0.8M319.7 468.4h0.8M319.1 466.2h0.8M315.6 463.8h0.8M321.8 470.5h0.8M322.3 463.7h0.8M323.6 469.2h0.8M318.6 463.8h0.8M323.0 473.5h0.8M314.4 478.3h0.8M344.8 485.0h0.8M342.1 478.2h0.8M348.0 498.2h0.8M348.2 476.8h0.8M350.5 493.3h0.8M345.9 477.9h0.8M349.3 501.7h0.8M354.8 486.0h0.8M352.1 480.9h0.8M346.5 497.7h0.8M352.7 485.1h0.8M349.9 481.7h0.8M348.2 487.4h0.8M345.9 499.6h0.8M352.8 491.7h0.8M344.9 489.4h0.8M344.5 490.5h0.8M343.5 487.6h0.8M348.4 499.1h0.8M344.0 499.5h0.8M343.2 501.0h0.8M350.3 477.3h0.8M348.4 483.7h0.8M340.8 480.6h0.8M347.7 485.0h0.8M346.5 492.3h0.8M341.3 487.1h0.8M346.6 498.5h0.8M351.9 488.1h0.8M349.2 482.1h0.8M344.6 477.1h0.8M346.2 501.0h0.8M346.2 479.1h0.8M348.7 488.9h0.8M349.1 477.5h0.8M336.3 483.7h0.8M347.2 476.6h0.8M347.2 489.4h0.8M349.5 498.1h0.8M346.1 489.0h0.8M345.3 479.2h0.8M344.6 488.6h0.8M340.1 493.6h0.8M344.3 486.9h0.8M342.5 488.8h0.8M343.2 482.1h0.8M349.6 485.8h0.8M347.5 480.8h0.8M345.0 494.4h0.8M344.2 496.0h0.8M349.4 484.5h0.8M350.7 484.5h0.8M352.0 501.8h0.8M341.4 489.4h0.8M345.6 476.1h0.8M350.0 495.9h0.8M350.0 498.2h0.8M352.6 487.2h0.8M346.4 482.9h0.8M337.3 490.2h0.8M342.5 486.9h0.8M339.9 479.3h0.8M342.0 482.2h0.8M347.1 482.5h0.8M342.5 495.6h0.8M344.9 493.1h0.8M349.7 499.6h0.8M339.9 476.3h0.8M348.4 481.0h0.8M342.5 491.3h0.8M348.0 502.0h0.8M348.4 490.8h0.8M343.4 478.0h0.8M349.5 492.6h0.8M350.7 491.5h0.8M353.1 489.5h0.8M346.4 496.0h0.8M344.1 494.8h0.8M345.5 497.0h0.8M349.9 488.5h0.8M341.8 483.8h0.8M347.6 494.9h0.8M342.9 480.7h0.8M349.7 479.0h0.8M351.3 487.6h0.8M347.2 496.1h0.8M344.7 491.6h0.8M342.1 494.9h0.8M343.2 493.1h0.8M348.8 478.5h0.8M347.8 495.0h0.8M341.7 477.4h0.8M342.6 487.6h0.8M344.1 499.4h0.8M345.6 485.6h0.8M343.7 497.0h0.8M345.7 482.1h0.8M339.0 485.3h0.8M348.8 492.2h0.8M345.0 482.1h0.8M350.3 500.3h0.8M345.8 483.6h0.8M345.9 496.1h0.8M345.8 481.6h0.8M345.6 484.8h0.8M345.9 480.0h0.8M337.5 501.5h0.8M348.4 491.0h0.8M346.8 490.0h0.8M352.7 496.5h0.8M345.1 498.8h0.8M349.7 490.6h0.8M345.7 500.1h0.8M351.5 490.7h0.8M343.0 494.9h0.8M340.0 486.1h0.8M350.9 489.7h0.8M347.2 497.9h0.8M348.4 485.9h0.8M344.9 479.5h0.8M343.2 481.3h0.8M341.8 499.1h0.8M346.4 499.3h0.8M352.5 488.1h0.8M347.1 492.4h0.8M351.4 492.5h0.8M348.2 486.1h0.8M347.0 486.5h0.8M347.7 485.5h0.8M347.2 491.4h0.8M348.1 493.6h0.8M349.4 500.7h0.8M346.2 478.0h0.8M346.6 481.3h0.8M350.4 496.3h0.8M344.1 487.9h0.8M342.4 489.3h0.8M346.2 476.1h0.8M338.5 491.5h0.8M339.7 496.7h0.8M345.6 495.0h0.8M351.6 499.5h0.8M350.7 478.8h0.8M347.5 500.1h0.8M349.8 476.9h0.8M352.7 484.5h0.8M347.8 499.3h0.8M349.9 489.7h0.8M350.2 495.3h0.8M340.2 491.2h0.8M351.9 495.3h0.8M343.2 486.3h0.8M345.8 489.1h0.8M345.1 491.9h0.8M343.7 491.8h0.8M348.0 484.9h0.8M352.4 482.0h0.8M343.4 483.6h0.8M350.3 492.1h0.8M341.7 476.8h0.8M349.0 494.9h0.8M344.0 496.4h0.8M350.7 480.9h0.8M352.5 489.1h0.8M345.9 486.0h0.8M352.5 479.0h0.8M351.3 491.2h0.8M344.0 480.9h0.8M340.9 479.3h0.8M346.1 488.2h0.8M342.7 499.9h0.8M332.9 479.4h0.8M326.6 480.2h0.8M284.0 495.3h0.8M320.2 476.6h0.8M324.4 483.9h0.8M325.7 497.0h0.8M289.8 489.2h0.8M290.0 487.5h0.8M286.0 484.3h0.8M287.9 496.9h0.8M317.9 484.3h0.8M299.2 500.4h0.8M325.1 485.4h0.8M313.4 479.9h0.8M284.5 492.5h0.8M321.6 495.0h0.8M296.4 489.5h0.8M326.0 497.0h0.8M323.6 491.1h0.8M300.6 503.3h0.8M298.0 483.3h0.8M306.9 478.5h0.8M304.8 488.3h0.8M300.8 490.5h0.8M287.0 478.5h0.8M286.7 477.3h0.8M303.2 486.5h0.8M289.7 483.4h0.8M287.9 488.4h0.8M328.7 494.8h0.8M288.9 489.1h0.8M286.3 480.8h0.8M330.4 494.0h0.8M288.1 487.4h0.8M324.1 488.7h0.8M308.7 478.2h0.8M296.5 486.4h0.8M291.2 487.9h0.8M317.6 476.8h0.8M294.2 498.3h0.8M293.2 481.4h0.8M304.2 493.0h0.8M309.8 476.1h0.8M313.4 480.6h0.8M303.4 482.5h0.8M303.3 491.7h0.8M287.9 495.4h0.8M329.9 509.2h0.8M319.7 501.6h0.8M329.6 476.2h0.8M326.2 489.1h0.8M303.7 503.5h0.8M318.9 491.6h0.8M330.5 492.3h0.8M340.9 485.3h0.8M334.1 491.0h0.8M292.5 486.2h0.8M299.3 493.3h0.8M298.4 489.7h0.8M299.0 486.7h0.8M312.9 495.7h0.8M288.8 479.7h0.8M307.1 487.5h0.8M290.2 488.2h0.8M292.2 494.3h0.8M287.4 479.4h0.8M320.4 486.1h0.8M292.1 501.4h0.8M301.9 489.0h0.8M318.1 488.4h0.8M329.3 492.5h0.8M302.7 480.6h0.8M332.0 491.4h0.8M318.7 485.4h0.8M319.2 492.7h0.8M308.4 509.7h0.8M304.9 477.9h0.8M323.6 479.0h0.8M316.6 478.6h0.8M335.9 487.1h0.8M342.6 477.7h0.8M311.5 483.1h0.8M294.8 480.0h0.8M322.7 478.2h0.8M329.5 486.9h0.8M298.9 485.9h0.8M327.3 479.7h0.8M345.0 478.8h0.8M289.9 476.6h0.8M292.2 490.2h0.8M322.4 483.0h0.8M328.4 483.5h0.8M309.9 485.4h0.8M335.5 491.3h0.8M320.6 483.1h0.8M314.0 491.3h0.8M318.1 494.4h0.8M320.7 487.8h0.8M312.8 479.7h0.8M302.6 495.8h0.8M290.8 485.8h0.8M286.9 487.9h0.8M300.4 477.9h0.8M322.6 483.2h0.8M298.8 476.2h0.8M338.5 483.2h0.8M336.8 499.4h0.8M288.6 480.5h0.8M345.3 490.8h0.8M321.9 476.1h0.8M297.4 477.4h0.8M340.7 478.3h0.8M324.2 490.5h0.8M297.1 482.1h0.8M294.9 495.0h0.8M309.0 491.0h0.8M294.9 476.6h0.8M339.2 483.9h0.8M287.5 494.4h0.8M316.2 487.8h0.8M286.0 479.5h0.8M314.6 487.2h0.8M286.8 504.5h0.8M305.7 490.5h0.8M324.3 484.2h0.8M321.5 482.7h0.8M335.6 485.9h0.8M328.5 486.6h0.8M290.2 481.2h0.8M292.6 478.8h0.8M285.9 498.9h0.8M343.8 492.7h0.8M333.2 479.1h0.8M324.7 476.1h0.8M299.2 498.8h0.8M319.7 497.7h0.8M314.4 497.9h0.8M339.0 480.8h0.8M301.6 488.0h0.8M308.9 492.9h0.8M338.4 479.8h0.8M337.8 498.7h0.8M288.3 495.4h0.8M307.1 481.7h0.8M309.1 487.2h0.8M294.5 477.8h0.8M336.5 476.8h0.8M294.7 484.4h0.8M303.7 488.3h0.8M303.6 476.6h0.8M339.1 492.0h0.8M318.2 479.4h0.8M318.8 490.4h0.8M331.7 478.4h0.8M284.6 478.6h0.8M309.4 490.0h0.8M316.2 482.3h0.8M328.1 481.6h0.8M285.3 483.8h0.8M317.4 502.7h0.8M285.1 492.9h0.8M298.3 479.0h0.8M324.3 478.8h0.8M325.3 487.0h0.8M305.5 487.7h0.8M338.8 476.8h0.8M287.1 481.6h0.8M285.5 485.8h0.8M331.3 480.4h0.8M306.2 498.8h0.8M315.0 505.1h0.8M304.0 485.1h0.8M341.2 505.1h0.8M325.3 476.8h0.8M319.8 478.6h0.8M330.1 486.9h0.8M334.5 488.1h0.8M285.2 482.0h0.8M310.9 476.1h0.8M312.8 486.7h0.8M312.9 492.0h0.8M298.2 486.7h0.8M315.6 480.8h0.8M338.4 481.8h0.8M314.2 484.2h0.8M335.0 485.4h0.8M311.9 490.0h0.8M296.6 497.2h0.8M307.3 493.1h0.8M284.7 480.1h0.8M338.0 494.6h0.8M342.1 492.1h0.8M310.8 492.3h0.8M314.4 481.3h0.8M328.5 495.2h0.8M319.9 491.0h0.8M297.0 481.0h0.8M333.7 496.8h0.8M301.0 497.9h0.8M311.6 482.7h0.8M323.9 478.0h0.8M295.8 485.6h0.8M299.5 484.0h0.8M286.8 499.3h0.8M305.1 498.3h0.8M286.7 500.3h0.8M306.6 482.9h0.8M313.1 483.0h0.8M299.3 481.2h0.8M310.5 485.5h0.8M299.6 482.5h0.8M293.3 501.6h0.8M299.7 491.4h0.8M326.7 492.1h0.8M317.3 483.6h0.8M319.2 486.3h0.8M327.9 499.4h0.8M341.6 479.4h0.8M302.3 499.9h0.8M340.9 494.8h0.8M334.0 487.6h0.8M306.4 494.7h0.8M328.5 491.9h0.8M311.3 477.3h0.8M288.2 496.7h0.8M310.5 496.2h0.8M292.9 480.8h0.8M340.1 497.2h0.8M288.8 503.4h0.8M314.2 491.4h0.8M284.7 491.4h0.8M290.1 478.5h0.8M302.2 489.5h0.8M345.7 487.8h0.8M302.7 480.0h0.8M331.8 485.1h0.8M313.6 485.7h0.8M341.9 490.4h0.8M333.8 491.9h0.8M311.1 477.0h0.8M314.0 489.0h0.8M328.4 500.8h0.8M303.3 479.9h0.8M293.6 476.3h0.8M336.3 479.9h0.8M329.9 482.8h0.8M345.4 488.2h0.8M300.8 493.5h0.8M322.0 487.0h0.8M319.9 480.8h0.8M301.9 504.6h0.8M317.1 480.5h0.8M330.7 478.8h0.8M336.6 494.0h0.8M285.6 508.9h0.8M291.8 484.9h0.8M334.5 494.0h0.8M336.1 477.2h0.8M313.9 476.8h0.8M325.5 480.3h0.8M296.8 482.2h0.8M302.2 486.6h0.8M319.3 481.4h0.8M339.4 489.8h0.8M294.3 482.3h0.8M320.7 495.6h0.8M331.3 479.7h0.8M310.5 494.1h0.8M319.1 485.1h0.8M321.9 477.7h0.8M300.9 478.6h0.8M321.3 490.0h0.8M307.4 477.5h0.8M291.7 506.1h0.8M339.0 497.6h0.8M289.1 485.5h0.8M307.7 494.5h0.8M328.0 487.2h0.8M329.7 493.5h0.8M316.3 483.8h0.8M287.9 501.9h0.8M296.1 479.9h0.8M306.7 486.0h0.8M292.1 485.0h0.8M293.2 482.2h0.8M285.1 497.6h0.8M337.5 487.6h0.8M307.1 478.0h0.8M333.8 483.8h0.8M325.6 482.6h0.8M306.4 489.7h0.8M318.0 504.5h0.8M291.7 485.1h0.8M328.5 477.8h0.8M326.2 485.6h0.8M312.6 483.1h0.8M340.8 476.2h0.8M312.9 481.4h0.8M307.4 482.3h0.8M298.6 482.4h0.8M324.8 481.6h0.8M330.8 481.4h0.8M322.7 491.7h0.8M334.6 503.4h0.8M306.9 484.4h0.8M318.9 487.0h0.8M313.9 489.9h0.8M334.6 484.1h0.8M292.7 497.1h0.8M316.7 498.6h0.8M317.1 485.7h0.8M341.3 481.5h0.8M298.7 482.0h0.8M291.1 496.5h0.8M286.9 489.1h0.8M295.5 490.5h0.8M309.0 495.0h0.8M320.0 494.7h0.8M336.9 495.5h0.8M318.8 486.4h0.8M344.8 479.0h0.8M332.5 503.7h0.8M335.6 503.7h0.8M296.1 494.2h0.8M322.6 486.9h0.8M326.1 487.0h0.8M303.7 495.1h0.8M314.0 492.3h0.8M297.8 479.6h0.8M302.9 502.4h0.8M342.5 481.7h0.8M296.4 488.3h0.8M326.7 491.1h0.8M300.3 487.5h0.8M296.4 478.9h0.8M299.2 489.6h0.8M334.3 480.9h0.8M335.6 489.3h0.8M321.8 485.1h0.8M297.0 487.6h0.8M336.6 487.3h0.8M291.2 494.8h0.8M316.9 479.9h0.8M329.0 498.4h0.8M337.3 503.2h0.8M329.3 481.9h0.8M292.5 487.3h0.8M325.8 502.0h0.8M289.0 492.8h0.8M309.0 480.6h0.8M332.9 486.0h0.8M314.4 499.5h0.8M292.6 477.4h0.8M316.4 491.4h0.8M302.2 483.0h0.8M286.9 485.7h0.8M284.7 481.8h0.8M340.9 482.4h0.8M340.6 502.1h0.8M301.3 476.1h0.8M318.1 483.2h0.8M324.3 477.8h0.8M316.0 483.9h0.8M304.8 480.7h0.8M341.2 478.1h0.8M295.3 482.2h0.8M308.3 482.4h0.8M294.9 478.8h0.8M311.5 489.2h0.8M315.8 484.9h0.8M313.6 493.5h0.8M332.7 490.4h0.8M317.2 489.4h0.8M341.8 491.1h0.8M331.5 477.7h0.8M321.7 481.3h0.8M300.9 497.6h0.8M344.1 476.3h0.8M315.5 481.7h0.8M318.2 496.0h0.8M304.6 479.3h0.8M296.8 480.3h0.8M284.2 482.6h0.8M321.7 486.6h0.8M340.1 496.1h0.8M303.6 483.2h0.8M284.3 486.5h0.8M297.6 480.4h0.8M314.8 485.8h0.8M320.6 492.1h0.8M304.9 486.3h0.8M337.6 477.3h0.8M325.5 490.1h0.8M287.0 491.4h0.8M295.9 480.3h0.8M288.6 478.9h0.8M318.5 478.5h0.8M321.4 480.9h0.8M294.0 488.0h0.8M306.0 477.3h0.8M305.5 482.0h0.8M291.8 478.2h0.8M305.0 476.4h0.8M302.9 481.3h0.8M328.7 480.1h0.8M293.9 478.2h0.8M332.7 477.7h0.8M319.4 483.7h0.8M306.9 486.3h0.8M323.8 490.7h0.8M336.5 478.5h0.8M335.8 483.8h0.8M286.7 483.4h0.8M326.2 477.9h0.8M301.3 478.9h0.8M303.3 481.2h0.8M335.8 481.1h0.8M334.7 481.7h0.8M305.1 482.7h0.8M328.2 479.4h0.8M286.9 479.6h0.8M297.0 494.2h0.8M313.0 476.1h0.8M338.4 478.7h0.8M323.5 482.6h0.8M297.4 484.0h0.8M328.5 477.0h0.8M316.2 485.4h0.8M297.4 478.1h0.8M290.0 484.3h0.8M336.3 492.2h0.8M289.1 477.5h0.8M305.5 480.8h0.8M332.1 482.2h0.8M326.8 477.0h0.8M295.3 489.5h0.8M330.7 477.0h0.8M310.1 479.4h0.8M329.5 477.9h0.8M300.3 488.1h0.8M288.8 482.6h0.8M337.6 480.0h0.8M309.2 493.1h0.8M303.7 484.7h0.8M290.5 482.0h0.8M306.8 483.2h0.8M317.6 481.3h0.8M320.7 481.8h0.8M335.8 478.8h0.8M333.6 476.2h0.8M330.4 479.5h0.8M295.2 483.0h0.8M338.7 480.6h0.8M285.7 477.4h0.8M296.7 476.7h0.8M332.5 478.8h0.8M295.6 476.3h0.8M328.4 484.8h0.8M322.5 477.4h0.8M285.5 478.5h0.8M320.0 476.8h0.8M296.7 483.5h0.8M317.7 479.5h0.8M301.9 479.7h0.8M302.3 482.6h0.8M295.1 481.7h0.8M288.9 478.0h0.8M319.6 479.4h0.8M301.5 477.1h0.8M328.0 485.0h0.8M293.2 479.2h0.8M302.1 477.8h0.8M330.7 483.5h0.8M310.3 477.3h0.8M330.7 488.0h0.8M290.2 483.6h0.8M335.1 486.6h0.8M315.4 490.7h0.8M285.0 477.7h0.8M315.9 478.6h0.8M333.0 484.3h0.8M318.3 481.5h0.8M294.1 480.4h0.8M306.0 484.0h0.8M298.4 484.4h0.8M291.8 480.4h0.8M288.7 486.8h0.8M310.0 481.3h0.8M312.0 480.4h0.8M316.1 489.5h0.8M328.0 491.3h0.8M323.9 477.3h0.8M332.0 483.7h0.8M289.1 481.9h0.8M298.0 485.7h0.8M286.5 486.4h0.8M337.4 489.7h0.8M308.2 481.2h0.8M334.2 479.4h0.8M339.9 477.4h0.8M290.3 477.2h0.8M307.7 483.1h0.8M285.9 482.4h0.8M315.0 479.1h0.8M307.8 476.5h0.8M304.5 483.0h0.8M308.5 477.2h0.8M335.6 480.5h0.8M302.9 476.2h0.8M288.3 481.5h0.8M299.6 479.4h0.8M316.4 481.0h0.8M305.7 486.9h0.8M315.9 482.4h0.8M333.6 477.7h0.8M326.3 482.0h0.8M321.3 483.8h0.8M292.0 487.0h0.8M301.3 481.5h0.8M336.2 486.0h0.8M333.4 480.3h0.8M322.7 476.2h0.8M333.9 487.5h0.8M299.1 484.5h0.8M312.8 484.7h0.8M310.2 482.1h0.8M290.5 476.7h0.8M287.4 484.3h0.8M327.9 480.2h0.8M332.6 480.7h0.8M295.1 479.0h0.8M330.7 487.4h0.8M325.2 484.4h0.8M326.2 478.7h0.8M319.7 477.3h0.8M331.4 486.8h0.8M330.6 485.6h0.8M289.7 482.1h0.8M291.7 488.9h0.8M338.5 477.5h0.8M314.3 477.9h0.8M289.8 484.0h0.8M285.3 484.4h0.8M315.8 485.7h0.8M293.2 483.8h0.8M325.6 483.3h0.8M338.9 484.6h0.8M311.9 486.0h0.8M302.5 501.0h0.8M319.5 482.2h0.8M299.4 487.9h0.8M324.0 485.8h0.8M336.3 481.6h0.8M335.7 476.2h0.8M287.8 482.2h0.8M338.0 459.5h0.8M337.3 460.1h0.8M319.7 462.8h0.8M318.8 461.6h0.8M323.6 462.7h0.8M333.5 459.5h0.8M316.0 460.3h0.8M301.4 461.5h0.8M330.9 459.7h0.8M290.0 460.5h0.8M290.8 459.4h0.8M293.5 463.5h0.8M307.4 461.2h0.8M300.0 464.8h0.8M320.4 458.9h0.8M311.0 464.2h0.8M334.7 459.3h0.8M297.3 458.7h0.8M298.0 464.2h0.8M298.8 462.8h0.8M345.6 462.5h0.8M349.5 462.6h0.8M349.9 464.8h0.8M438.4 375.3h0.8M436.2 359.1h0.8M438.1 369.7h0.8M454.1 365.0h0.8M440.5 369.0h0.8M442.8 361.3h0.8M447.9 361.3h0.8M437.0 374.6h0.8M444.7 369.4h0.8M437.8 372.0h0.8M440.6 367.0h0.8M445.9 373.1h0.8M432.3 360.6h0.8M439.7 359.6h0.8M439.7 360.1h0.8M441.4 377.3h0.8M445.6 371.0h0.8M438.9 376.5h0.8M436.4 372.6h0.8M436.3 369.7h0.8M443.1 367.6h0.8M433.3 375.0h0.8M444.0 374.7h0.8M439.6 361.1h0.8M442.4 360.5h0.8M443.5 372.5h0.8M449.0 370.0h0.8M447.9 371.2h0.8M443.2 368.5h0.8M442.2 374.7h0.8M448.5 362.0h0.8M435.8 358.3h0.8M428.9 361.9h0.8M438.7 368.5h0.8M443.6 363.1h0.8M444.0 366.1h0.8M429.9 363.5h0.8M439.2 368.3h0.8M434.2 369.1h0.8M432.7 371.4h0.8M446.6 366.1h0.8M447.2 375.0h0.8M433.2 370.6h0.8M445.2 375.4h0.8M442.2 362.3h0.8M440.4 374.2h0.8M441.4 373.5h0.8M441.5 368.4h0.8M435.6 359.5h0.8M442.6 370.8h0.8M429.5 370.0h0.8M441.7 376.0h0.8M441.8 363.1h0.8M437.5 362.5h0.8M446.3 369.3h0.8M450.0 367.8h0.8M444.9 370.8h0.8M438.2 363.8h0.8M442.0 361.1h0.8M448.3 370.4h0.8M447.5 378.2h0.8M435.4 360.7h0.8M429.9 367.5h0.8M450.7 367.6h0.8M447.3 370.4h0.8M443.5 370.9h0.8M441.2 362.4h0.8M443.1 374.4h0.8M438.0 363.6h0.8M435.8 375.8h0.8M448.9 366.8h0.8M447.5 354.9h0.8M441.7 366.9h0.8M449.5 361.4h0.8M450.3 362.3h0.8M437.6 368.7h0.8M450.3 371.5h0.8M446.2 363.4h0.8M434.8 360.1h0.8M443.1 361.5h0.8M444.2 357.9h0.8M446.6 373.3h0.8M447.9 362.1h0.8M436.9 365.9h0.8M436.9 368.3h0.8M440.7 365.2h0.8M440.8 370.6h0.8M433.4 360.5h0.8M444.3 372.5h0.8M440.9 356.1h0.8M441.6 358.7h0.8M445.8 361.8h0.8M443.2 362.9h0.8M445.3 369.8h0.8M448.8 367.7h0.8M438.0 357.6h0.8M447.1 368.9h0.8M439.2 369.1h0.8M431.2 364.7h0.8M434.8 358.3h0.8M437.9 365.5h0.8M445.1 363.1h0.8M435.8 370.4h0.8M439.7 357.9h0.8M431.0 368.5h0.8M449.8 370.4h0.8M447.6 372.7h0.8M450.0 365.3h0.8M441.3 369.4h0.8M442.7 365.7h0.8M446.5 371.6h0.8M441.5 365.4h0.8M450.8 359.2h0.8M439.2 366.7h0.8M433.5 369.3h0.8M443.0 378.4h0.8M431.8 365.1h0.8M439.5 365.4h0.8M438.3 373.2h0.8M442.5 356.4h0.8M444.8 365.2h0.8M429.8 371.5h0.8M432.5 368.8h0.8M449.0 360.3h0.8M434.3 368.9h0.8M432.3 374.5h0.8M438.2 362.6h0.8M434.4 365.1h0.8M446.5 361.1h0.8M448.5 364.0h0.8M445.9 367.9h0.8M448.2 361.6h0.8M445.6 372.8h0.8M433.2 364.0h0.8M437.5 367.9h0.8M448.4 365.3h0.8M435.9 357.7h0.8M435.4 376.5h0.8M445.7 360.4h0.8M432.5 373.1h0.8M442.4 372.3h0.8M452.6 368.9h0.8M451.8 366.9h0.8M431.5 367.1h0.8M429.9 362.8h0.8M445.8 365.2h0.8M440.2 357.6h0.8M430.8 370.4h0.8M432.5 363.7h0.8M446.9 376.4h0.8M449.2 379.5h0.8M446.1 367.3h0.8M430.3 360.7h0.8M437.1 378.3h0.8M438.4 367.4h0.8M429.1 365.3h0.8M438.3 372.1h0.8M445.2 358.5h0.8M441.4 371.4h0.8M431.6 366.0h0.8M447.2 358.9h0.8M438.7 364.3h0.8M444.2 358.4h0.8M442.8 377.4h0.8M434.3 374.8h0.8M437.7 370.2h0.8M447.0 375.5h0.8M442.6 357.7h0.8M440.9 375.9h0.8M451.6 365.5h0.8M433.1 372.2h0.8M444.5 377.3h0.8M426.4 370.0h0.8M444.7 361.5h0.8M442.1 359.7h0.8M438.1 370.9h0.8M450.9 372.8h0.8M449.2 371.3h0.8M447.0 368.6h0.8M431.0 367.1h0.8M435.1 356.5h0.8M436.4 367.6h0.8M437.8 379.0h0.8M432.3 366.3h0.8M445.3 366.4h0.8M433.9 371.2h0.8M431.5 371.5h0.8M453.0 366.7h0.8M449.7 372.6h0.8M431.3 359.8h0.8M437.1 366.7h0.8M443.3 369.4h0.8M440.8 359.3h0.8M441.9 360.2h0.8M444.2 367.2h0.8M430.8 364.2h0.8M443.0 366.3h0.8M442.1 371.5h0.8M446.1 364.9h0.8M434.6 372.4h0.8M440.2 363.4h0.8M433.5 368.1h0.8M447.4 364.0h0.8M440.4 364.9h0.8M434.7 363.6h0.8M434.2 361.5h0.8M444.1 373.7h0.8M441.0 364.1h0.8M434.7 362.9h0.8M436.5 364.6h0.8M447.2 366.7h0.8M450.0 370.4h0.8M441.9 370.4h0.8M429.5 364.7h0.8M446.0 368.0h0.8M438.3 379.8h0.8M444.0 359.9h0.8M437.0 375.4h0.8M438.5 362.0h0.8M447.3 375.7h0.8M439.6 373.1h0.8M450.4 374.2h0.8M439.1 372.0h0.8M445.9 362.7h0.8M433.0 377.6h0.8M444.3 371.1h0.8M431.7 370.0h0.8M451.5 368.5h0.8M431.5 369.8h0.8M435.8 374.1h0.8M434.2 370.3h0.8M432.4 361.3h0.8M439.6 378.1h0.8M440.0 372.7h0.8M440.8 371.5h0.8M435.2 362.4h0.8M436.7 376.3h0.8M444.9 380.1h0.8M449.0 373.2h0.8M448.8 374.6h0.8M448.2 368.3h0.8M450.8 373.9h0.8M443.7 360.5h0.8M441.7 394.8h0.8M445.8 384.8h0.8M440.9 397.1h0.8M432.0 385.7h0.8M437.3 402.8h0.8M441.5 390.8h0.8M440.2 400.1h0.8M443.9 402.3h0.8M449.1 390.9h0.8M441.1 388.4h0.8M449.0 389.5h0.8M445.6 380.0h0.8M446.6 388.9h0.8M436.1 382.1h0.8M436.8 394.6h0.8M443.6 395.0h0.8M448.2 402.1h0.8M436.2 398.6h0.8M450.0 397.8h0.8M444.0 378.3h0.8M446.7 381.2h0.8M448.6 394.9h0.8M439.4 393.9h0.8M443.9 404.0h0.8M445.3 383.0h0.8M439.5 391.2h0.8M436.1 392.9h0.8M448.2 400.8h0.8M434.7 381.7h0.8M444.9 385.9h0.8M439.2 402.1h0.8M441.1 404.4h0.8M449.0 390.6h0.8M441.5 391.7h0.8M449.8 386.2h0.8M442.3 392.1h0.8M437.3 390.1h0.8M445.2 398.7h0.8M438.5 382.1h0.8M441.4 398.3h0.8M440.9 401.7h0.8M442.6 397.3h0.8M441.6 380.9h0.8M443.2 388.2h0.8M441.2 406.5h0.8M449.0 384.2h0.8M440.2 384.2h0.8M441.0 377.1h0.8M439.8 392.4h0.8M450.1 398.5h0.8M436.5 397.4h0.8M443.5 398.1h0.8M436.0 395.1h0.8M445.3 386.0h0.8M442.9 394.1h0.8M441.3 385.6h0.8M447.1 388.1h0.8M441.3 389.8h0.8M444.3 388.8h0.8M444.2 394.8h0.8M439.0 383.0h0.8M440.7 382.8h0.8M443.9 405.1h0.8M446.8 396.8h0.8M439.9 377.9h0.8M445.0 382.4h0.8M451.5 394.3h0.8M449.7 383.4h0.8M447.3 384.7h0.8M439.3 395.4h0.8M435.4 393.5h0.8M446.6 377.4h0.8M448.6 382.2h0.8M437.9 398.8h0.8M444.7 397.8h0.8M446.1 403.2h0.8M439.2 384.0h0.8M446.0 393.4h0.8M448.5 380.2h0.8M441.2 376.8h0.8M435.5 395.3h0.8M444.7 396.2h0.8M440.7 399.7h0.8M442.3 393.2h0.8M442.3 389.7h0.8M441.2 384.5h0.8M444.8 403.7h0.8M447.0 398.5h0.8M437.2 399.6h0.8M442.0 395.7h0.8M444.3 402.4h0.8M438.2 390.2h0.8M446.9 383.6h0.8M444.8 386.0h0.8M445.0 389.8h0.8M444.7 392.2h0.8M452.2 391.6h0.8M447.3 379.1h0.8M437.6 404.4h0.8M442.4 395.9h0.8M445.6 377.3h0.8M436.5 388.8h0.8M443.7 384.7h0.8M441.8 382.4h0.8M441.2 401.4h0.8M445.6 390.6h0.8M435.2 382.2h0.8M444.4 390.1h0.8M439.4 400.6h0.8M450.0 400.9h0.8M438.6 389.6h0.8M437.7 389.4h0.8M440.5 378.4h0.8M437.5 384.5h0.8M444.2 401.0h0.8M433.3 397.5h0.8M441.8 400.8h0.8M433.4 398.0h0.8M437.8 382.0h0.8M440.1 391.1h0.8M432.4 386.1h0.8M446.6 387.0h0.8M449.3 395.9h0.8M445.1 389.7h0.8M444.5 381.5h0.8M439.8 398.7h0.8M445.1 394.5h0.8M439.7 386.8h0.8M447.2 382.3h0.8M435.6 387.7h0.8M436.2 387.7h0.8M437.6 405.7h0.8M440.5 394.7h0.8M446.6 397.7h0.8M446.5 384.4h0.8M437.0 403.7h0.8M441.6 403.6h0.8M438.9 391.4h0.8M449.5 399.5h0.8M446.3 398.7h0.8M448.9 385.1h0.8M439.6 384.0h0.8M443.3 389.1h0.8M434.7 391.4h0.8M439.9 396.6h0.8M446.2 389.4h0.8M443.7 396.4h0.8M446.0 405.8h0.8M433.5 405.9h0.8M439.2 399.9h0.8M450.2 387.2h0.8M441.7 399.8h0.8M445.1 395.5h0.8M437.2 393.0h0.8M446.0 387.6h0.8M442.2 378.7h0.8M440.2 395.3h0.8M441.0 379.7h0.8M435.6 396.3h0.8M444.6 387.8h0.8M442.2 384.3h0.8M436.9 402.4h0.8M447.7 401.3h0.8M450.2 394.1h0.8M436.5 390.8h0.8M442.2 399.7h0.8M439.2 401.9h0.8M450.9 390.0h0.8M449.2 396.9h0.8M448.9 381.8h0.8M434.5 396.5h0.8M434.9 399.5h0.8M437.5 394.9h0.8M443.1 385.6h0.8M443.4 382.4h0.8M436.1 383.8h0.8M449.9 392.2h0.8M451.5 392.9h0.8M452.2 402.4h0.8M433.6 391.6h0.8M432.3 385.5h0.8M435.8 386.8h0.8M433.8 396.1h0.8M438.6 403.5h0.8M449.8 387.5h0.8M435.1 402.0h0.8M447.2 382.0h0.8M444.1 409.3h0.8M444.4 383.2h0.8M435.7 397.0h0.8M438.3 385.9h0.8M438.0 401.0h0.8M432.0 392.3h0.8M447.9 389.4h0.8M442.7 386.2h0.8M448.2 393.6h0.8M438.1 384.8h0.8M449.7 381.1h0.8M441.4 374.6h0.8M445.7 404.6h0.8M432.9 394.4h0.8M437.5 393.9h0.8M440.8 388.5h0.8M448.6 396.0h0.8M442.0 383.1h0.8M437.7 387.9h0.8M452.6 388.8h0.8M455.8 391.9h0.8M417.3 393.4h0.8M456.4 375.7h0.8M439.5 387.4h0.8M441.7 396.3h0.8M452.3 385.8h0.8M437.5 372.1h0.8M443.3 366.8h0.8M441.0 383.8h0.8M452.3 342.9h0.8M428.5 371.4h0.8M466.5 374.4h0.8M427.9 387.6h0.8M431.1 377.5h0.8M438.1 397.8h0.8M454.1 357.7h0.8M431.7 373.2h0.8M437.5 383.4h0.8M425.1 377.6h0.8M431.9 399.3h0.8M423.2 371.9h0.8M430.5 369.7h0.8M441.0 397.1h0.8M452.3 380.5h0.8M428.8 388.1h0.8M433.1 392.1h0.8M423.9 381.1h0.8M421.6 399.8h0.8M435.8 354.2h0.8M456.5 364.0h0.8M441.0 387.0h0.8M431.2 372.9h0.8M428.7 387.5h0.8M420.9 384.2h0.8M424.6 400.9h0.8M440.1 381.7h0.8M447.1 400.0h0.8M439.2 364.8h0.8M423.9 384.5h0.8M446.8 404.4h0.8M432.9 370.8h0.8M446.8 391.5h0.8M435.5 403.2h0.8M446.6 353.7h0.8M444.4 408.2h0.8M435.6 385.3h0.8M428.1 404.0h0.8M419.7 393.6h0.8M443.7 410.0h0.8M428.8 401.5h0.8M458.9 389.8h0.8M442.9 401.1h0.8M447.8 394.9h0.8M443.7 383.8h0.8M434.3 371.5h0.8M449.4 385.9h0.8M434.7 386.8h0.8M436.3 389.1h0.8M457.1 372.8h0.8M440.1 350.2h0.8M443.0 369.4h0.8M438.8 408.5h0.8M439.9 382.0h0.8M427.8 373.6h0.8M422.6 382.2h0.8M461.1 386.6h0.8M433.8 386.4h0.8M445.1 399.3h0.8M433.2 366.2h0.8M436.6 393.4h0.8M424.5 384.5h0.8M445.5 397.9h0.8M458.1 382.7h0.8M428.1 381.7h0.8M425.4 391.7h0.8M456.3 373.2h0.8M463.0 400.7h0.8M455.7 376.8h0.8M449.3 382.3h0.8M442.6 382.9h0.8M446.5 370.0h0.8M425.4 368.9h0.8M459.7 360.8h0.8M431.4 389.5h0.8M439.7 380.3h0.8M432.5 387.5h0.8M450.3 385.7h0.8M433.2 383.7h0.8M424.7 377.9h0.8M418.8 397.7h0.8M433.3 388.0h0.8M424.1 347.2h0.8M448.0 395.8h0.8M455.0 392.2h0.8M437.5 381.0h0.8M431.9 384.8h0.8M442.4 387.3h0.8M448.9 377.3h0.8M420.9 382.5h0.8M431.3 354.1h0.8M451.5 357.5h0.8M448.1 364.7h0.8M428.3 365.6h0.8M446.6 374.1h0.8M433.1 373.3h0.8M426.5 400.3h0.8M435.8 381.5h0.8M424.6 373.2h0.8M420.9 372.9h0.8M427.0 372.9h0.8M427.9 366.5h0.8M428.7 370.8h0.8M429.3 383.2h0.8M429.5 348.0h0.8M423.2 365.6h0.8M430.5 365.2h0.8M429.6 372.5h0.8M424.8 363.1h0.8M423.8 373.0h0.8M422.7 380.1h0.8M421.6 366.7h0.8M426.7 378.0h0.8M423.6 373.7h0.8M426.4 366.1h0.8M425.4 372.7h0.8M421.2 375.1h0.8M425.1 370.9h0.8M433.6 385.0h0.8M423.8 374.8h0.8M417.4 359.6h0.8M432.2 367.3h0.8M425.8 373.5h0.8M469.2 369.7h0.8M475.8 371.5h0.8M472.8 369.6h0.8M477.3 372.2h0.8M478.0 374.0h0.8M479.5 365.3h0.8M483.6 367.8h0.8M468.5 372.0h0.8M475.9 367.1h0.8M481.2 364.0h0.8M470.0 364.1h0.8M469.7 366.4h0.8M472.1 367.1h0.8M473.5 368.0h0.8M470.4 363.4h0.8M459.0 367.1h0.8M460.9 364.9h0.8M472.2 370.6h0.8M478.2 372.0h0.8M465.8 374.1h0.8M459.2 369.0h0.8M464.7 371.5h0.8M462.6 364.1h0.8M470.8 366.3h0.8M467.2 368.7h0.8M472.1 366.9h0.8M472.3 375.0h0.8M464.7 369.6h0.8M480.7 363.9h0.8M460.4 365.4h0.8M467.5 369.5h0.8M460.2 370.7h0.8M462.6 366.4h0.8M467.4 363.7h0.8M459.1 365.5h0.8M476.6 369.7h0.8M477.5 362.3h0.8M473.4 363.8h0.8M461.1 372.6h0.8M463.3 366.8h0.8M468.1 368.8h0.8M462.1 367.2h0.8M480.0 360.7h0.8M462.4 363.5h0.8M474.6 362.3h0.8M478.5 369.9h0.8M469.6 367.8h0.8M472.0 372.0h0.8M473.9 374.7h0.8M463.5 368.6h0.8M476.4 366.5h0.8M470.5 373.1h0.8M479.1 369.2h0.8M478.6 370.9h0.8M463.6 369.9h0.8M465.3 362.4h0.8M467.3 364.1h0.8M479.8 367.5h0.8M472.8 368.1h0.8M466.0 367.1h0.8M458.9 368.7h0.8M466.1 370.6h0.8M470.2 358.4h0.8M471.9 369.7h0.8M461.6 369.1h0.8M461.9 364.1h0.8M463.2 367.0h0.8M477.2 370.6h0.8M471.9 372.2h0.8M475.6 366.1h0.8M458.0 365.3h0.8M473.3 372.2h0.8M474.2 363.3h0.8M472.1 373.6h0.8M478.7 364.8h0.8M473.1 369.7h0.8M465.5 371.5h0.8M468.1 369.3h0.8M463.2 370.4h0.8M477.1 366.1h0.8M457.8 367.6h0.8M466.9 365.5h0.8M457.5 366.3h0.8M468.2 366.6h0.8M471.4 365.7h0.8M466.1 364.0h0.8M470.5 372.1h0.8M476.4 367.4h0.8M475.6 370.2h0.8M473.5 366.9h0.8M464.3 365.6h0.8M462.7 365.5h0.8M460.1 367.5h0.8M464.6 366.4h0.8M477.4 367.8h0.8M484.1 365.7h0.8M462.1 362.7h0.8M465.1 376.2h0.8M467.4 372.6h0.8M478.2 367.7h0.8M465.9 364.4h0.8M471.4 366.2h0.8M460.7 366.5h0.8M462.3 371.5h0.8M469.3 370.5h0.8M468.2 364.7h0.8M470.3 368.7h0.8M467.1 366.7h0.8M461.7 367.0h0.8M474.2 366.3h0.8M460.1 372.2h0.8M476.5 377.0h0.8M462.7 370.3h0.8M473.3 376.4h0.8M476.7 377.1h0.8M454.9 356.1h0.8M484.3 373.3h0.8M453.1 370.6h0.8M478.1 354.0h0.8M458.7 367.1h0.8M461.7 371.1h0.8M470.9 355.2h0.8M479.8 364.9h0.8M464.5 386.9h0.8M467.7 370.3h0.8M465.2 373.1h0.8M479.2 374.6h0.8M471.5 365.0h0.8M461.3 367.1h0.8M468.4 357.4h0.8M466.9 376.2h0.8M470.3 365.0h0.8M455.6 386.8h0.8M467.1 381.3h0.8M459.5 378.7h0.8M479.7 362.8h0.8M452.0 374.0h0.8M475.7 362.3h0.8M455.8 363.0h0.8M475.1 352.8h0.8M485.2 375.2h0.8M465.1 369.1h0.8M475.0 380.7h0.8M454.0 371.4h0.8M455.0 375.8h0.8M471.8 379.4h0.8M459.1 370.5h0.8M463.6 382.1h0.8M467.3 373.2h0.8M473.1 370.4h0.8M472.5 382.5h0.8M484.9 377.8h0.8M478.6 374.1h0.8M474.1 367.7h0.8M462.8 374.5h0.8M460.4 386.9h0.8M464.6 379.9h0.8M464.0 356.1h0.8M472.2 363.1h0.8M480.7 367.6h0.8M465.5 368.1h0.8M480.8 385.1h0.8M480.5 379.6h0.8M479.9 402.7h0.8M476.5 400.8h0.8M466.9 382.2h0.8M482.7 385.2h0.8M472.8 386.7h0.8M483.9 379.9h0.8M467.2 391.2h0.8M463.9 389.3h0.8M463.4 395.3h0.8M474.3 394.4h0.8M477.4 385.9h0.8M474.3 386.9h0.8M478.9 382.9h0.8M463.7 391.5h0.8M474.3 385.1h0.8M474.0 392.5h0.8M475.8 386.7h0.8M484.3 378.2h0.8M468.2 386.6h0.8M483.2 380.1h0.8M472.2 389.7h0.8M464.1 375.1h0.8M483.3 393.6h0.8M488.6 354.7h0.8M499.6 392.9h0.8M416.5 392.9h0.8M417.4 391.3h0.8M487.8 382.7h0.8M441.0 402.3h0.8M454.6 385.7h0.8M442.5 473.6h0.8M444.6 465.0h0.8M452.4 459.1h0.8M439.0 464.9h0.8M444.1 458.9h0.8M436.1 470.9h0.8M444.9 470.0h0.8M442.6 466.6h0.8M437.2 466.5h0.8M446.2 468.1h0.8M447.3 468.7h0.8M440.0 471.3h0.8M446.6 464.6h0.8M450.6 461.6h0.8M441.2 466.1h0.8M440.2 468.0h0.8M449.0 469.6h0.8M436.2 465.3h0.8M450.4 459.5h0.8M445.8 455.9h0.8M450.2 468.2h0.8M440.4 470.7h0.8M438.0 459.2h0.8M438.9 466.0h0.8M445.3 459.4h0.8M434.9 471.2h0.8M449.6 462.2h0.8M441.3 468.7h0.8M441.9 463.0h0.8M437.5 474.0h0.8M451.6 471.1h0.8M435.6 467.1h0.8M440.4 458.2h0.8M443.5 470.8h0.8M437.3 462.8h0.8M440.0 462.6h0.8M448.1 460.0h0.8M437.3 463.4h0.8M447.3 461.8h0.8M448.6 467.3h0.8M449.8 470.9h0.8M446.4 458.8h0.8M437.2 470.3h0.8M438.8 470.0h0.8M437.9 465.4h0.8M442.0 467.9h0.8M446.8 471.2h0.8M444.2 463.1h0.8M436.5 466.3h0.8M441.3 460.6h0.8M447.8 466.7h0.8M438.5 463.1h0.8M448.2 468.1h0.8M442.3 463.0h0.8M436.1 471.1h0.8M438.6 468.6h0.8M447.0 472.5h0.8M434.4 467.7h0.8M443.3 475.6h0.8M445.5 472.0h0.8M439.6 471.5h0.8M442.0 457.7h0.8M445.3 462.9h0.8M439.3 466.1h0.8M438.8 466.9h0.8M437.4 467.7h0.8M443.7 466.4h0.8M433.2 466.6h0.8M441.6 465.9h0.8M448.0 471.4h0.8M448.3 465.2h0.8M435.9 469.6h0.8M440.5 469.6h0.8M442.8 461.9h0.8M440.9 464.4h0.8M441.1 471.7h0.8M448.1 473.4h0.8M434.5 460.0h0.8M449.5 455.4h0.8M448.7 466.2h0.8M432.4 471.6h0.8M446.1 464.0h0.8M444.2 456.6h0.8M449.7 463.3h0.8M442.6 468.3h0.8M439.2 473.2h0.8M439.8 463.5h0.8M444.0 472.9h0.8M443.7 471.5h0.8M438.8 472.9h0.8M438.6 473.1h0.8M448.3 473.0h0.8M439.1 468.1h0.8M435.1 457.8h0.8M440.1 465.4h0.8M447.1 458.0h0.8M444.2 469.3h0.8M447.7 467.5h0.8M443.8 468.9h0.8M448.8 470.8h0.8M440.4 460.7h0.8M437.9 468.8h0.8M436.6 467.1h0.8M438.0 471.0h0.8M446.8 461.5h0.8M440.7 461.3h0.8M449.1 461.7h0.8M444.6 467.9h0.8M442.2 470.5h0.8M443.0 459.3h0.8M447.5 475.4h0.8M447.4 469.6h0.8M441.1 461.5h0.8M451.6 472.7h0.8M438.4 474.4h0.8M445.9 467.6h0.8M450.4 464.3h0.8M445.0 461.5h0.8M436.9 473.0h0.8M440.7 472.0h0.8M443.1 467.7h0.8M449.2 464.7h0.8M450.6 460.8h0.8M444.7 460.9h0.8M442.4 472.9h0.8M442.2 456.0h0.8M447.2 459.8h0.8M437.1 461.5h0.8M450.5 471.0h0.8M443.8 469.6h0.8M441.1 456.4h0.8M447.9 470.9h0.8M440.6 463.0h0.8M438.8 470.2h0.8M441.2 462.1h0.8M444.7 471.5h0.8M443.4 457.5h0.8M440.8 474.5h0.8M445.0 466.9h0.8M438.8 461.0h0.8M448.3 469.3h0.8M439.2 459.5h0.8M447.0 460.4h0.8M446.1 459.9h0.8M435.5 465.2h0.8M438.6 462.2h0.8M440.8 459.6h0.8M435.4 458.1h0.8M448.4 462.0h0.8M445.8 473.2h0.8M445.1 465.1h0.8M446.3 462.8h0.8M439.2 469.9h0.8M442.0 459.5h0.8M437.4 464.6h0.8M438.6 457.5h0.8M436.1 469.0h0.8M433.6 461.9h0.8M443.9 463.5h0.8M442.6 476.0h0.8M450.7 471.3h0.8M446.4 475.9h0.8M450.4 465.4h0.8M437.2 459.0h0.8M435.9 462.7h0.8M439.5 465.8h0.8M445.5 458.4h0.8M446.7 470.3h0.8M444.2 466.4h0.8M439.3 468.0h0.8M435.8 464.0h0.8M443.3 458.2h0.8M442.7 458.7h0.8M449.0 464.4h0.8M439.3 458.1h0.8M442.6 470.0h0.8M432.4 463.4h0.8M449.8 468.1h0.8M442.9 456.9h0.8M449.8 466.6h0.8M446.6 469.3h0.8M435.5 459.5h0.8M444.4 468.7h0.8M445.0 464.5h0.8M442.4 474.3h0.8M455.1 465.2h0.8M440.7 473.1h0.8M452.5 468.0h0.8M449.6 467.7h0.8M441.7 473.5h0.8M448.0 474.6h0.8M441.6 476.0h0.8M447.8 464.2h0.8M445.4 469.6h0.8M450.9 469.9h0.8M433.2 464.0h0.8M443.7 461.6h0.8M442.4 465.1h0.8M439.9 474.1h0.8M433.2 467.9h0.8M444.4 465.6h0.8M448.0 462.2h0.8M450.6 467.9h0.8M444.2 461.5h0.8M444.1 462.8h0.8M441.8 470.7h0.8M454.0 475.0h0.8M442.6 451.4h0.8M441.1 454.9h0.8M431.2 470.7h0.8M448.3 463.9h0.8M457.6 465.4h0.8M453.8 466.8h0.8M446.2 457.9h0.8M440.6 476.7h0.8M439.9 476.5h0.8M449.3 459.4h0.8M443.7 464.7h0.8M440.7 480.9h0.8M451.9 466.4h0.8M451.1 468.5h0.8M444.5 446.1h0.8M442.5 460.5h0.8M456.0 452.7h0.8M461.7 467.4h0.8M426.4 457.6h0.8M456.0 471.5h0.8M452.8 464.2h0.8M446.0 469.0h0.8M428.1 445.1h0.8M442.5 479.9h0.8M426.2 461.1h0.8M425.9 474.3h0.8M454.8 467.8h0.8M443.3 460.5h0.8M458.7 472.8h0.8M444.6 459.2h0.8M442.8 453.4h0.8M455.0 473.4h0.8M434.9 458.8h0.8M443.3 455.1h0.8M446.2 494.9h0.8M426.7 473.4h0.8M444.5 453.5h0.8M450.9 475.4h0.8M441.6 469.4h0.8M422.3 468.7h0.8M446.3 483.6h0.8M427.4 478.6h0.8M439.2 460.6h0.8M436.8 473.2h0.8M431.9 471.5h0.8M429.8 472.4h0.8M428.9 456.7h0.8M455.4 476.5h0.8M456.9 466.1h0.8M436.8 451.5h0.8M440.4 479.2h0.8M426.3 449.6h0.8M436.4 462.0h0.8M452.2 474.7h0.8M440.1 462.1h0.8M440.3 475.8h0.8M438.0 478.0h0.8M438.3 453.5h0.8M441.4 478.5h0.8M445.4 463.6h0.8M434.9 476.7h0.8M450.4 474.5h0.8M446.7 455.8h0.8M432.9 465.8h0.8M432.7 446.4h0.8M449.5 478.8h0.8M454.8 458.4h0.8M452.0 464.0h0.8M454.8 471.8h0.8M447.1 463.5h0.8M439.3 472.6h0.8M435.1 461.9h0.8M432.0 465.4h0.8M438.9 458.6h0.8M438.9 467.4h0.8M451.8 465.0h0.8M442.7 464.7h0.8M425.2 471.5h0.8M430.8 464.6h0.8M431.6 480.0h0.8M438.6 464.7h0.8M460.2 463.7h0.8M435.4 473.3h0.8M444.5 452.1h0.8M451.1 469.5h0.8M435.1 483.2h0.8M438.9 456.9h0.8M431.0 458.2h0.8M427.8 469.3h0.8M448.8 456.6h0.8M432.2 472.7h0.8M456.3 456.7h0.8M440.4 447.8h0.8M445.6 476.6h0.8M447.9 455.6h0.8M444.9 454.5h0.8M442.3 485.0h0.8M433.6 457.3h0.8M437.1 471.3h0.8M458.5 464.3h0.8M433.0 456.2h0.8M448.4 471.9h0.8M452.0 461.3h0.8M434.1 463.9h0.8M447.7 473.8h0.8M434.9 464.1h0.8M415.6 482.2h0.8M457.2 450.5h0.8M443.7 472.9h0.8M440.2 477.8h0.8M434.8 477.6h0.8M461.1 463.6h0.8M451.8 461.2h0.8M435.2 466.5h0.8M434.2 466.5h0.8M453.8 476.3h0.8M449.2 494.8h0.8M443.3 495.8h0.8M432.2 489.0h0.8M440.4 478.9h0.8M434.5 483.5h0.8M438.0 495.9h0.8M441.3 484.7h0.8M439.9 493.9h0.8M430.4 482.7h0.8M449.3 489.3h0.8M438.8 488.8h0.8M448.3 493.0h0.8M435.4 484.2h0.8M447.6 478.6h0.8M441.7 485.9h0.8M439.7 489.9h0.8M445.2 470.1h0.8M449.6 482.8h0.8M442.8 490.9h0.8M447.4 498.5h0.8M452.8 475.5h0.8M439.0 483.3h0.8M442.5 505.2h0.8M477.7 461.9h0.8M482.6 465.0h0.8M470.8 466.0h0.8M476.4 472.5h0.8M464.3 464.4h0.8M478.9 457.9h0.8M464.6 462.9h0.8M467.5 464.5h0.8M472.0 464.4h0.8M469.2 461.3h0.8M472.2 462.3h0.8M466.3 465.1h0.8M459.0 465.4h0.8M476.8 462.4h0.8M463.2 462.0h0.8M467.0 468.7h0.8M470.1 460.1h0.8M464.7 468.7h0.8M469.3 464.9h0.8M471.3 456.4h0.8M470.9 470.0h0.8M469.4 467.5h0.8M479.3 467.4h0.8M483.9 469.1h0.8M476.5 458.9h0.8M473.8 459.9h0.8M467.4 457.4h0.8M461.7 464.3h0.8M473.0 469.1h0.8M474.8 458.4h0.8M473.9 463.1h0.8M471.0 462.3h0.8M468.8 462.0h0.8M476.6 468.9h0.8M473.2 465.3h0.8M471.1 463.9h0.8M467.5 462.8h0.8M477.0 462.7h0.8M478.1 464.5h0.8M470.2 467.6h0.8M467.8 459.6h0.8M468.3 467.0h0.8M472.9 459.9h0.8M468.4 465.2h0.8M477.5 468.9h0.8M469.5 463.3h0.8M476.7 461.7h0.8M482.8 466.0h0.8M466.7 472.2h0.8M471.1 464.3h0.8M474.2 460.5h0.8M466.9 466.4h0.8M465.8 468.9h0.8M480.1 463.6h0.8M463.1 463.6h0.8M470.1 461.2h0.8M485.0 468.8h0.8M473.8 467.9h0.8M462.3 459.5h0.8M471.1 466.1h0.8M466.2 460.2h0.8M461.4 465.8h0.8M465.0 467.3h0.8M468.9 460.5h0.8M476.1 463.8h0.8M473.5 466.9h0.8M473.5 460.6h0.8M469.5 458.9h0.8M462.0 471.8h0.8M477.8 460.2h0.8M465.2 464.0h0.8M475.6 468.7h0.8M466.8 470.3h0.8M474.1 463.3h0.8M474.8 464.8h0.8M471.4 469.9h0.8M463.0 465.1h0.8M472.9 463.4h0.8M471.7 467.8h0.8M477.0 469.1h0.8M479.3 465.1h0.8M474.5 472.3h0.8M474.2 466.8h0.8M503.7 461.5h0.8M466.1 467.5h0.8M474.2 470.5h0.8M475.7 465.0h0.8M473.8 473.4h0.8M484.9 463.6h0.8M477.5 469.9h0.8M469.1 470.1h0.8M479.4 477.5h0.8M468.2 459.9h0.8M478.3 463.0h0.8M487.0 459.5h0.8M468.7 471.8h0.8M471.0 475.6h0.8M471.9 466.0h0.8M469.6 468.1h0.8M465.9 460.5h0.8M495.6 463.7h0.8M460.9 462.4h0.8M465.7 473.2h0.8M416.2 475.2h0.8M414.1 493.7h0.8M439.3 448.6h0.8M418.6 496.7h0.8M436.4 455.8h0.8M494.9 469.9h0.8M451.1 459.9h0.8M415.1 476.9h0.8M487.7 451.7h0.8M455.0 448.8h0.8M491.4 473.8h0.8M422.0 456.3h0.8M471.6 493.9h0.8M476.8 489.6h0.8M447.1 564.6h0.8M442.3 568.2h0.8M444.0 566.9h0.8M444.4 559.1h0.8M456.6 559.4h0.8M440.6 559.8h0.8M445.3 566.5h0.8M445.2 563.9h0.8M437.1 555.7h0.8M451.8 563.0h0.8M437.4 559.7h0.8M439.1 553.3h0.8M434.1 564.7h0.8M436.2 562.5h0.8M436.5 565.2h0.8M443.9 552.4h0.8M439.1 555.6h0.8M434.4 561.9h0.8M446.6 551.9h0.8M432.5 556.0h0.8M443.5 558.9h0.8M436.1 556.5h0.8M431.7 561.2h0.8M436.1 559.5h0.8M448.4 555.5h0.8M447.1 566.1h0.8M441.9 553.6h0.8M435.9 554.2h0.8M440.7 551.6h0.8M452.1 566.0h0.8M446.1 575.2h0.8M439.6 556.0h0.8M435.1 555.9h0.8M434.1 555.4h0.8M446.6 560.4h0.8M450.5 556.8h0.8M437.7 564.9h0.8M440.1 557.5h0.8M445.1 551.6h0.8M448.8 566.0h0.8M445.7 549.4h0.8M447.7 556.1h0.8M443.1 565.7h0.8M441.7 555.2h0.8M445.2 567.2h0.8M446.1 561.7h0.8M440.4 563.0h0.8M443.6 569.6h0.8M449.3 556.2h0.8M444.5 549.7h0.8M442.5 563.0h0.8M439.4 552.2h0.8M447.3 553.0h0.8M440.4 566.6h0.8M444.3 560.6h0.8M447.5 568.4h0.8M450.4 569.9h0.8M452.1 561.7h0.8M446.7 572.4h0.8M446.2 566.2h0.8M443.7 572.2h0.8M445.0 571.2h0.8M445.1 553.9h0.8M445.8 565.6h0.8M443.5 568.0h0.8M449.2 559.7h0.8M446.5 559.1h0.8M439.3 569.0h0.8M439.0 550.0h0.8M434.7 560.6h0.8M449.3 560.5h0.8M433.0 561.6h0.8M451.2 559.8h0.8M436.5 569.2h0.8M434.9 569.5h0.8M440.3 565.1h0.8M438.6 557.9h0.8M441.9 564.7h0.8M452.7 558.9h0.8M442.5 555.5h0.8M440.3 554.2h0.8M437.4 565.8h0.8M448.1 563.6h0.8M445.6 564.7h0.8M442.6 565.9h0.8M435.7 557.9h0.8M446.8 558.7h0.8M440.5 563.7h0.8M439.0 551.8h0.8M444.8 565.0h0.8M445.9 555.2h0.8M443.1 564.1h0.8M449.7 550.4h0.8M436.3 554.8h0.8M448.4 557.5h0.8M433.0 557.3h0.8M449.8 566.9h0.8M450.1 565.8h0.8M440.9 569.5h0.8M445.4 569.9h0.8M437.3 558.8h0.8M437.9 569.0h0.8M440.2 556.9h0.8M448.6 553.7h0.8M435.7 561.2h0.8M434.1 563.8h0.8M436.3 568.6h0.8M452.0 566.7h0.8M437.4 564.0h0.8M447.3 558.0h0.8M441.3 561.3h0.8M443.9 574.4h0.8M437.8 550.6h0.8M439.8 563.4h0.8M434.7 556.5h0.8M438.1 560.7h0.8M443.1 556.3h0.8M442.7 556.2h0.8M441.1 570.8h0.8M442.5 551.7h0.8M434.9 558.5h0.8M436.4 567.5h0.8M449.2 567.9h0.8M450.3 559.9h0.8M446.1 556.3h0.8M448.1 565.8h0.8M444.8 567.6h0.8M450.1 564.7h0.8M443.9 559.3h0.8M437.1 557.2h0.8M447.0 567.1h0.8M446.2 568.3h0.8M434.4 568.3h0.8M448.5 560.7h0.8M447.4 567.3h0.8M450.0 561.3h0.8M441.3 565.8h0.8M443.0 560.4h0.8M445.6 570.2h0.8M443.3 555.5h0.8M454.0 561.0h0.8M441.4 563.9h0.8M447.2 570.3h0.8M432.9 558.2h0.8M437.6 557.0h0.8M437.4 569.5h0.8M447.7 554.1h0.8M433.6 565.5h0.8M450.7 566.6h0.8M445.0 571.3h0.8M438.0 553.0h0.8M449.1 563.0h0.8M435.6 558.2h0.8M442.4 573.7h0.8M443.6 570.2h0.8M441.3 572.5h0.8M436.8 570.1h0.8M436.4 552.0h0.8M442.8 563.7h0.8M445.2 553.0h0.8M436.0 553.0h0.8M449.8 548.5h0.8M436.1 555.9h0.8M433.9 564.1h0.8M439.5 560.9h0.8M447.6 560.2h0.8M434.2 565.4h0.8M438.0 571.5h0.8M435.8 569.9h0.8M449.9 554.4h0.8M440.8 564.9h0.8M434.8 554.2h0.8M444.4 544.7h0.8M441.0 568.4h0.8M438.7 554.8h0.8M442.8 549.9h0.8M448.3 569.5h0.8M439.7 550.3h0.8M442.0 566.0h0.8M442.7 553.6h0.8M438.2 565.5h0.8M439.6 559.1h0.8M435.7 566.1h0.8M448.2 562.2h0.8M448.4 554.9h0.8M450.5 552.8h0.8M445.2 557.9h0.8M450.1 563.8h0.8M439.6 562.3h0.8M441.3 558.9h0.8M437.7 566.3h0.8M438.7 568.2h0.8M444.1 557.3h0.8M444.5 551.3h0.8M435.8 562.6h0.8M441.4 550.1h0.8M440.2 572.5h0.8M431.5 563.2h0.8M441.4 567.6h0.8M443.9 554.8h0.8M448.7 567.8h0.8M437.0 570.5h0.8M433.1 557.7h0.8M439.9 565.8h0.8M435.9 556.8h0.8M447.8 569.6h0.8M449.0 553.4h0.8M448.2 558.7h0.8M444.4 552.6h0.8M446.1 571.7h0.8M449.3 569.2h0.8M438.9 556.5h0.8M444.6 569.4h0.8M448.2 571.9h0.8M452.8 567.7h0.8M444.9 562.8h0.8M445.7 558.8h0.8M448.7 570.5h0.8M437.4 553.0h0.8M441.4 554.7h0.8M450.1 555.5h0.8M447.3 557.1h0.8M441.6 568.5h0.8M449.2 558.6h0.8M438.6 562.3h0.8M438.5 561.0h0.8M434.9 570.4h0.8M443.3 566.9h0.8M444.3 555.9h0.8M453.5 563.7h0.8M435.1 564.5h0.8M442.2 552.5h0.8M450.1 558.1h0.8M442.4 557.0h0.8M446.8 563.3h0.8M440.6 571.7h0.8M434.3 566.6h0.8M450.7 562.9h0.8M438.2 551.7h0.8M439.9 566.7h0.8M445.7 562.6h0.8M451.5 565.7h0.8M442.2 570.6h0.8M438.2 553.0h0.8M433.1 562.2h0.8M439.8 561.1h0.8M447.8 559.8h0.8M436.8 552.6h0.8M441.4 552.8h0.8M441.8 587.4h0.8M441.2 594.2h0.8M443.2 592.2h0.8M442.8 587.8h0.8M445.0 575.4h0.8M438.2 586.6h0.8M434.5 588.1h0.8M444.9 589.8h0.8M445.2 588.2h0.8M441.1 592.4h0.8M450.0 592.1h0.8M446.0 596.5h0.8M447.6 579.4h0.8M437.4 595.5h0.8M445.3 584.8h0.8M448.7 574.7h0.8M439.1 590.0h0.8M440.1 595.1h0.8M441.6 573.9h0.8M443.5 594.5h0.8M439.4 584.2h0.8M439.8 573.9h0.8M442.8 586.8h0.8M448.2 591.1h0.8M443.8 581.1h0.8M438.2 583.7h0.8M443.0 585.6h0.8M445.7 582.5h0.8M437.9 590.7h0.8M446.0 593.0h0.8M438.9 581.6h0.8M435.4 581.0h0.8M439.1 580.5h0.8M438.2 579.4h0.8M446.4 579.4h0.8M443.9 583.2h0.8M447.2 582.7h0.8M442.5 576.3h0.8M438.1 584.6h0.8M444.5 598.5h0.8M440.8 596.5h0.8M444.8 581.6h0.8M437.6 573.7h0.8M448.3 579.9h0.8M442.2 580.3h0.8M439.6 586.3h0.8M446.9 588.2h0.8M444.1 585.5h0.8M440.0 591.9h0.8M446.2 586.4h0.8M438.3 588.2h0.8M433.2 573.8h0.8M441.7 579.9h0.8M444.6 595.7h0.8M442.3 594.9h0.8M447.8 586.2h0.8M435.3 587.0h0.8M437.6 578.9h0.8M445.8 580.4h0.8M436.0 576.0h0.8M446.7 582.5h0.8M443.8 577.2h0.8M446.8 597.5h0.8M445.3 577.5h0.8M443.6 579.1h0.8M447.2 594.2h0.8M448.5 586.5h0.8M435.9 588.2h0.8M439.8 585.2h0.8M439.2 581.6h0.8M451.2 586.5h0.8M442.6 590.4h0.8M440.5 580.6h0.8M436.0 586.0h0.8M447.9 590.7h0.8M443.6 585.9h0.8M441.4 577.8h0.8M436.8 578.4h0.8M448.8 592.9h0.8M440.4 573.5h0.8M444.7 578.4h0.8M440.0 571.0h0.8M442.3 588.6h0.8M444.7 584.7h0.8M443.6 580.2h0.8M439.0 594.3h0.8M445.8 592.6h0.8M443.1 576.9h0.8M448.9 575.8h0.8M445.4 598.5h0.8M447.8 576.2h0.8M446.4 590.2h0.8M438.7 590.8h0.8M440.8 595.0h0.8M445.3 573.5h0.8M439.0 587.1h0.8M446.6 587.3h0.8M449.8 573.1h0.8M437.4 583.9h0.8M440.9 576.5h0.8M447.9 581.2h0.8M439.6 595.3h0.8M443.9 589.6h0.8M438.1 580.8h0.8M444.4 586.5h0.8M446.8 592.2h0.8M440.4 575.6h0.8M445.0 574.8h0.8M449.9 584.3h0.8M448.6 587.9h0.8M437.1 585.3h0.8M441.0 586.7h0.8M436.9 576.9h0.8M434.9 586.9h0.8M440.9 574.7h0.8M443.3 575.1h0.8M441.5 585.0h0.8M448.6 580.9h0.8M447.0 585.6h0.8M445.4 593.4h0.8M439.0 582.2h0.8M443.0 582.8h0.8M449.3 591.2h0.8M451.0 584.6h0.8M442.0 599.4h0.8M438.0 578.6h0.8M441.3 581.4h0.8M436.3 587.1h0.8M445.7 591.4h0.8M440.2 589.9h0.8M448.7 589.3h0.8M441.7 576.6h0.8M447.1 589.7h0.8M437.5 584.8h0.8M442.8 589.9h0.8M446.6 589.5h0.8M436.5 577.0h0.8M443.0 573.0h0.8M441.0 577.9h0.8M440.1 582.9h0.8M441.9 593.6h0.8M440.2 591.7h0.8M442.2 578.7h0.8M443.9 588.8h0.8M434.5 576.4h0.8M442.3 585.0h0.8M447.6 588.6h0.8M441.2 589.9h0.8M445.7 575.4h0.8M439.9 596.9h0.8M440.6 583.8h0.8M434.3 575.0h0.8M440.0 590.4h0.8M441.8 578.3h0.8M437.4 597.0h0.8M436.2 585.8h0.8M445.2 596.8h0.8M442.6 581.6h0.8M450.2 578.7h0.8M444.6 590.4h0.8M437.2 592.8h0.8M445.8 589.7h0.8M447.5 587.1h0.8M436.3 579.1h0.8M437.3 587.1h0.8M440.2 590.6h0.8M444.6 583.1h0.8M441.2 569.3h0.8M437.7 579.4h0.8M446.2 583.8h0.8M449.9 593.8h0.8M437.8 582.7h0.8M441.8 571.9h0.8M440.7 592.2h0.8M445.0 577.4h0.8M443.4 586.5h0.8M447.4 580.3h0.8M443.5 587.9h0.8M439.4 583.8h0.8M444.9 582.8h0.8M440.6 593.4h0.8M441.3 590.5h0.8M440.9 560.4h0.8M437.5 576.2h0.8M448.9 544.7h0.8M429.4 573.3h0.8M460.8 594.7h0.8M425.9 574.9h0.8M434.6 575.3h0.8M444.3 587.7h0.8M454.4 598.7h0.8M429.0 570.7h0.8M450.7 568.9h0.8M452.2 581.4h0.8M454.8 572.8h0.8M434.6 573.0h0.8M460.2 576.1h0.8M428.2 582.4h0.8M457.2 585.7h0.8M427.3 583.0h0.8M449.3 568.1h0.8M448.3 568.9h0.8M456.8 566.0h0.8M444.9 593.2h0.8M440.8 549.1h0.8M439.6 574.3h0.8M443.2 553.5h0.8M442.9 567.4h0.8M427.6 562.6h0.8M455.6 592.7h0.8M455.2 555.2h0.8M428.1 558.5h0.8M454.7 565.9h0.8M458.6 556.8h0.8M437.0 574.3h0.8M429.9 581.8h0.8M451.3 561.9h0.8M437.0 562.2h0.8M457.5 577.7h0.8M443.0 578.8h0.8M441.3 574.9h0.8M456.3 571.6h0.8M445.5 583.9h0.8M433.0 565.6h0.8M432.8 576.4h0.8M444.8 572.6h0.8M426.5 582.5h0.8M432.5 568.0h0.8M441.2 583.8h0.8M420.8 557.2h0.8M449.8 546.0h0.8M455.8 576.4h0.8M443.8 561.6h0.8M451.1 574.0h0.8M419.4 589.2h0.8M452.4 577.8h0.8M447.4 565.6h0.8M418.0 550.0h0.8M435.0 550.6h0.8M429.4 576.7h0.8M433.9 551.9h0.8M432.4 584.4h0.8M446.0 585.1h0.8M450.1 579.0h0.8M453.8 553.3h0.8M418.0 549.4h0.8M432.5 544.5h0.8M446.6 554.3h0.8M439.9 575.2h0.8M436.7 566.9h0.8M438.4 567.3h0.8M425.4 588.0h0.8M435.5 585.7h0.8M431.5 579.5h0.8M450.8 580.4h0.8M430.8 574.3h0.8M450.3 600.0h0.8M449.1 555.1h0.8M446.5 580.1h0.8M438.0 567.4h0.8M454.6 569.0h0.8M434.0 582.1h0.8M452.5 578.9h0.8M446.5 555.1h0.8M452.0 574.4h0.8M436.3 574.7h0.8M435.9 600.2h0.8M424.3 574.6h0.8M419.6 556.5h0.8M427.8 565.9h0.8M418.0 565.9h0.8M432.7 573.4h0.8M425.5 562.3h0.8M431.3 556.8h0.8M423.0 566.5h0.8M434.3 578.5h0.8M433.0 547.7h0.8M422.7 572.5h0.8M428.1 576.3h0.8M428.6 564.3h0.8M419.1 555.7h0.8M425.0 571.2h0.8M422.0 558.7h0.8M426.1 571.9h0.8M424.2 553.6h0.8M432.5 561.6h0.8M423.6 565.7h0.8M422.8 566.0h0.8M426.2 561.5h0.8M430.6 564.0h0.8M422.7 560.6h0.8M429.0 557.4h0.8M430.5 569.8h0.8M430.2 569.0h0.8M431.0 576.5h0.8M419.2 569.1h0.8M430.4 580.8h0.8M429.0 555.4h0.8M429.5 559.6h0.8M433.6 576.5h0.8M419.7 565.8h0.8M470.1 552.9h0.8M473.3 556.6h0.8M478.7 567.6h0.8M467.8 558.3h0.8M461.1 556.8h0.8M473.4 559.4h0.8M478.6 556.8h0.8M470.0 569.0h0.8M469.5 558.6h0.8M474.2 561.9h0.8M470.3 551.8h0.8M467.5 565.1h0.8M474.7 560.8h0.8M473.4 562.4h0.8M464.2 560.3h0.8M470.3 569.9h0.8M473.1 554.8h0.8M461.0 558.7h0.8M481.3 566.2h0.8M464.1 557.1h0.8M473.6 557.3h0.8M479.7 561.3h0.8M474.1 554.0h0.8M469.5 563.5h0.8M483.0 557.9h0.8M467.6 556.2h0.8M474.2 565.8h0.8M466.8 561.2h0.8M482.2 564.1h0.8M467.3 554.8h0.8M466.8 563.6h0.8M476.8 559.6h0.8M473.0 563.0h0.8M463.3 557.1h0.8M468.2 563.5h0.8M470.9 563.9h0.8M476.9 558.7h0.8M482.6 565.7h0.8M476.8 565.8h0.8M472.1 565.3h0.8M476.5 555.1h0.8M470.4 568.8h0.8M467.1 562.9h0.8M459.3 556.3h0.8M473.4 563.2h0.8M465.9 561.1h0.8M478.5 559.8h0.8M466.7 564.6h0.8M468.3 561.7h0.8M485.1 556.8h0.8M481.1 561.2h0.8M478.2 558.0h0.8M471.3 566.0h0.8M464.9 565.9h0.8M479.4 562.6h0.8M463.0 557.9h0.8M471.3 556.7h0.8M471.7 554.4h0.8M463.8 567.8h0.8M468.5 558.6h0.8M460.4 566.0h0.8M474.0 559.4h0.8M479.9 563.0h0.8M459.0 555.3h0.8M457.9 555.8h0.8M477.8 559.7h0.8M469.4 566.8h0.8M482.9 558.5h0.8M468.6 560.6h0.8M477.5 554.1h0.8M459.4 563.5h0.8M473.5 566.6h0.8M467.8 561.6h0.8M462.7 565.0h0.8M482.4 560.5h0.8M464.8 567.8h0.8M479.8 564.6h0.8M469.1 570.4h0.8M475.8 564.4h0.8M477.9 565.6h0.8M463.0 564.4h0.8M470.7 557.5h0.8M468.3 568.2h0.8M477.9 566.7h0.8M464.1 562.1h0.8M484.2 555.3h0.8M468.4 564.8h0.8M461.5 567.6h0.8M480.8 566.6h0.8M485.2 568.8h0.8M445.1 576.5h0.8M475.9 565.3h0.8M480.0 551.8h0.8M457.4 565.4h0.8M464.1 571.3h0.8M463.6 569.7h0.8M467.0 573.2h0.8M476.2 568.8h0.8M470.3 573.1h0.8M483.2 564.4h0.8M463.3 559.6h0.8M462.6 563.6h0.8M474.2 569.2h0.8M475.2 557.9h0.8M470.3 554.8h0.8M476.2 567.2h0.8M475.2 567.4h0.8M486.4 565.2h0.8M477.5 556.8h0.8M469.2 554.0h0.8M463.4 570.3h0.8M461.2 552.4h0.8M479.7 555.5h0.8M478.7 568.4h0.8M489.5 572.2h0.8M472.6 557.4h0.8M466.5 557.7h0.8M459.5 568.3h0.8M478.2 555.4h0.8M466.8 553.2h0.8M474.4 556.7h0.8M475.8 566.5h0.8M474.4 562.4h0.8M483.5 563.7h0.8M481.4 551.8h0.8M461.8 554.4h0.8M499.4 542.9h0.8M493.7 580.6h0.8M480.1 587.3h0.8M481.5 564.8h0.8M476.0 588.8h0.8M419.0 549.0h0.8M435.5 590.5h0.8M482.2 594.5h0.8M427.9 597.8h0.8M474.6 593.0h0.8M414.2 569.8h0.8M490.1 577.4h0.8M502.9 574.5h0.8M452.4 543.0h0.8M468.3 574.0h0.8M457.9 545.1h0.8M438.2 599.7h0.8" stroke="#000" stroke-opacity="0.7" stroke-width="1.1" fill="none"/>
<path d="M25.4 468.4h0.8M24.2 464.1h0.8M19.0 466.4h0.8M18.1 459.3h0.8M39.5 459.8h0.8M33.0 463.8h0.8M15.6 465.3h0.8M33.6 461.1h0.8M37.1 464.6h0.8M28.1 460.6h0.8M28.9 468.1h0.8M18.9 466.5h0.8M23.1 467.3h0.8M34.3 460.3h0.8M30.3 460.9h0.8M25.5 464.7h0.8M32.5 461.7h0.8M19.1 462.4h0.8M28.4 462.6h0.8M15.1 462.8h0.8M34.8 462.7h0.8M19.4 465.4h0.8M32.0 460.5h0.8M19.9 461.3h0.8M29.4 465.5h0.8M30.7 465.4h0.8M31.9 457.9h0.8M15.8 457.8h0.8M16.9 461.2h0.8M34.8 461.4h0.8M29.2 464.4h0.8M36.4 462.5h0.8M18.8 462.0h0.8M36.7 463.5h0.8M17.7 462.4h0.8M16.5 463.2h0.8M36.2 464.8h0.8M20.9 464.9h0.8M24.3 462.5h0.8M22.6 461.1h0.8M15.6 468.8h0.8M17.3 461.9h0.8M15.4 466.6h0.8M39.3 460.8h0.8M19.0 456.4h0.8M35.8 458.1h0.8M17.3 459.5h0.8M37.8 466.6h0.8M24.7 461.2h0.8M29.9 463.1h0.8M19.6 464.0h0.8M34.5 463.6h0.8M31.5 463.6h0.8M15.0 460.7h0.8M31.3 466.2h0.8M22.9 464.3h0.8M26.0 463.0h0.8M32.1 464.2h0.8M21.7 466.9h0.8M16.2 457.3h0.8M39.2 463.4h0.8M23.9 465.3h0.8M20.3 461.7h0.8M18.4 467.9h0.8M21.4 461.7h0.8M31.6 458.2h0.8M35.1 465.5h0.8M35.1 460.7h0.8M32.8 469.0h0.8M30.3 459.5h0.8M17.6 463.8h0.8M27.7 461.3h0.8M15.4 469.0h0.8M21.5 460.6h0.8M36.3 460.1h0.8M23.9 466.4h0.8M39.0 457.3h0.8M24.2 463.6h0.8M25.1 461.1h0.8M24.2 460.1h0.8M25.9 459.4h0.8M21.6 462.3h0.8M17.2 458.9h0.8M26.5 467.5h0.8M29.4 461.5h0.8M23.0 465.9h0.8M25.9 466.4h0.8M34.0 467.2h0.8M15.6 458.7h0.8M15.1 463.3h0.8M20.8 466.7h0.8M27.9 466.7h0.8M23.1 461.5h0.8M31.3 461.1h0.8M28.9 465.7h0.8M34.2 464.4h0.8M37.2 467.7h0.8M19.8 457.5h0.8M37.6 461.0h0.8M37.4 463.2h0.8M38.8 465.6h0.8M38.1 461.2h0.8M33.2 456.1h0.8M39.0 461.3h0.8M20.4 468.7h0.8M17.1 465.7h0.8M24.0 469.0h0.8M29.2 458.9h0.8M16.8 458.4h0.8M23.2 460.3h0.8M20.0 463.5h0.8M38.4 460.8h0.8M33.9 465.1h0.8M17.4 460.9h0.8M23.6 464.4h0.8M15.2 456.6h0.8M35.1 468.6h0.8M32.2 462.6h0.8M21.2 459.7h0.8M16.8 465.7h0.8M26.6 462.5h0.8M20.2 467.6h0.8M26.1 462.0h0.8M34.7 458.5h0.8M21.5 464.1h0.8M26.1 460.9h0.8M36.0 462.6h0.8M33.5 460.1h0.8M30.5 463.2h0.8M25.6 460.8h0.8M35.9 463.8h0.8M27.5 457.7h0.8M29.0 464.7h0.8M28.8 471.1h0.8M27.5 465.4h0.8M16.1 464.6h0.8M18.7 457.3h0.8M34.2 459.1h0.8M29.1 460.4h0.8M16.2 470.5h0.8M35.4 466.4h0.8M18.7 461.5h0.8M18.7 460.7h0.8M38.9 463.4h0.8M35.4 464.1h0.8M36.3 461.9h0.8M29.1 457.9h0.8M24.6 466.4h0.8M28.6 466.1h0.8M25.5 455.1h0.8M20.9 469.1h0.8M34.6 465.2h0.8M32.2 460.0h0.8M37.3 465.5h0.8M26.7 464.9h0.8M23.3 462.5h0.8M37.7 457.6h0.8M27.0 464.8h0.8M34.7 468.7h0.8M15.5 464.4h0.8M22.9 460.6h0.8M19.7 456.5h0.8M36.1 458.7h0.8M22.9 469.5h0.8M38.7 458.2h0.8M36.1 459.9h0.8M26.0 465.0h0.8M32.5 469.1h0.8M31.2 464.7h0.8M22.8 458.3h0.8M20.1 457.7h0.8M26.7 459.6h0.8M39.8 464.4h0.8M22.6 459.0h0.8M18.3 465.6h0.8M35.2 461.4h0.8M26.0 462.4h0.8M16.6 460.8h0.8M38.0 466.1h0.8M21.4 467.7h0.8M38.4 467.3h0.8M27.6 459.3h0.8M32.4 458.6h0.8M22.0 465.8h0.8M20.0 460.7h0.8M20.3 463.3h0.8M49.3 456.9h0.8M46.5 461.3h0.8M53.9 460.6h0.8M58.2 464.2h0.8M44.9 459.0h0.8M49.2 462.1h0.8M41.4 463.6h0.8M54.2 462.3h0.8M52.2 460.0h0.8M58.1 466.0h0.8M55.4 461.1h0.8M53.2 461.7h0.8M52.6 466.0h0.8M51.5 468.5h0.8M41.9 465.4h0.8M51.1 462.3h0.8M44.5 458.2h0.8M53.8 463.9h0.8M45.6 464.7h0.8M52.3 464.9h0.8M46.2 467.1h0.8M53.8 462.6h0.8M48.1 464.4h0.8M43.5 469.3h0.8M56.1 463.1h0.8M38.5 456.2h0.8M44.2 460.2h0.8M51.4 461.3h0.8M38.2 459.2h0.8M45.2 459.7h0.8M39.2 466.3h0.8M54.7 463.8h0.8M58.3 467.2h0.8M61.8 465.0h0.8M52.8 461.2h0.8M59.6 462.5h0.8M52.7 471.8h0.8M47.8 456.9h0.8M45.2 462.9h0.8M54.6 459.1h0.8M58.4 460.3h0.8M52.9 463.5h0.8M52.7 460.7h0.8M58.2 461.7h0.8M43.3 462.8h0.8M49.8 458.7h0.8M41.2 464.2h0.8M39.7 458.7h0.8M48.9 458.9h0.8M60.7 462.2h0.8M51.0 463.2h0.8M61.3 467.9h0.8M55.6 454.2h0.8M46.5 465.3h0.8M40.3 462.2h0.8M39.1 462.2h0.8M43.6 459.6h0.8M42.2 464.1h0.8M47.2 463.8h0.8M40.7 461.6h0.8M44.3 467.1h0.8M61.7 459.4h0.8M53.2 459.9h0.8M41.9 461.0h0.8M38.7 462.7h0.8M46.3 459.6h0.8M41.6 456.5h0.8M48.0 458.7h0.8M44.8 465.0h0.8M47.2 462.2h0.8M47.2 466.8h0.8M61.8 461.2h0.8M55.6 463.5h0.8M46.4 463.4h0.8M45.4 467.7h0.8M43.4 463.7h0.8M57.0 462.3h0.8M40.2 455.5h0.8M53.9 464.4h0.8M57.2 462.7h0.8M42.8 465.3h0.8M56.7 467.6h0.8M45.4 466.0h0.8M60.9 468.0h0.8M60.6 460.0h0.8M42.0 459.6h0.8M59.9 461.3h0.8M48.1 468.5h0.8M59.4 460.8h0.8M49.0 461.9h0.8M40.9 467.0h0.8M40.2 458.1h0.8M47.9 464.3h0.8M50.6 465.7h0.8M44.4 465.7h0.8M51.1 465.2h0.8M51.6 466.3h0.8M52.5 468.4h0.8M54.0 467.4h0.8M39.6 454.8h0.8M58.9 463.2h0.8M53.9 467.4h0.8M38.1 464.0h0.8M50.3 462.6h0.8M45.8 457.6h0.8M52.3 455.7h0.8M40.7 460.3h0.8M61.0 459.7h0.8M47.6 465.2h0.8M50.5 461.8h0.8M45.4 460.1h0.8M54.9 457.4h0.8M46.7 456.4h0.8M48.7 463.9h0.8M49.3 466.1h0.8M53.1 466.7h0.8M40.3 463.9h0.8M56.8 464.0h0.8M41.5 458.7h0.8M59.0 466.5h0.8M49.1 461.8h0.8M57.8 459.5h0.8M61.2 460.8h0.8M46.9 464.4h0.8M57.5 460.6h0.8M58.0 465.1h0.8M57.5 461.9h0.8M56.3 457.1h0.8M44.5 461.1h0.8M51.2 463.2h0.8M51.0 459.0h0.8M39.9 457.9h0.8M56.6 465.2h0.8M42.0 463.0h0.8M45.0 465.9h0.8M45.7 461.3h0.8M56.6 460.7h0.8M39.9 465.3h0.8M39.5 470.1h0.8M48.4 465.1h0.8M77.9 465.5h0.8M71.6 466.0h0.8M63.7 462.2h0.8M76.8 464.9h0.8M74.6 464.7h0.8M73.7 469.8h0.8M77.7 464.4h0.8M66.1 460.7h0.8M64.2 468.9h0.8M63.4 464.8h0.8M65.0 467.2h0.8M78.5 467.8h0.8M63.7 461.2h0.8M69.9 466.4h0.8M87.1 467.2h0.8M71.0 461.7h0.8M73.1 460.9h0.8M60.5 457.2h0.8M61.2 457.9h0.8M57.3 458.7h0.8M66.8 467.3h0.8M65.7 464.7h0.8M69.1 464.2h0.8M75.4 465.4h0.8M64.6 464.7h0.8M63.8 459.5h0.8M83.2 469.0h0.8M63.2 467.3h0.8M70.9 459.9h0.8M62.5 464.4h0.8M80.7 467.4h0.8M70.7 466.9h0.8M83.0 465.8h0.8M83.7 463.2h0.8M72.3 464.0h0.8M55.5 464.7h0.8M66.7 462.9h0.8M73.4 461.8h0.8M79.1 463.6h0.8M73.8 467.1h0.8M55.6 462.9h0.8M66.4 463.7h0.8M64.9 459.7h0.8M67.3 461.5h0.8M65.9 466.6h0.8M56.4 461.7h0.8M80.9 465.1h0.8M68.0 466.5h0.8M82.1 462.3h0.8M85.3 468.9h0.8M74.1 463.7h0.8M80.0 463.5h0.8M87.1 461.6h0.8M76.1 466.7h0.8M72.4 463.6h0.8M68.9 461.6h0.8M83.9 462.9h0.8M76.3 473.1h0.8M64.4 462.1h0.8M82.3 468.8h0.8M77.8 466.4h0.8M87.8 462.3h0.8M79.5 462.8h0.8M69.0 462.3h0.8M61.7 465.1h0.8M79.1 467.7h0.8M62.1 465.4h0.8M87.4 474.5h0.8M90.6 486.5h0.8M83.0 495.8h0.8M83.2 484.7h0.8M88.2 483.2h0.8M84.9 493.7h0.8M89.2 492.5h0.8M85.8 493.2h0.8M91.7 484.5h0.8M89.9 482.3h0.8M86.8 489.3h0.8M90.1 493.9h0.8M88.6 490.0h0.8M88.6 496.5h0.8M84.2 481.8h0.8M85.8 485.7h0.8M86.2 480.7h0.8M85.9 477.3h0.8M86.1 496.2h0.8M86.2 479.2h0.8M88.8 492.1h0.8M87.8 487.8h0.8M88.6 490.1h0.8M81.8 492.6h0.8M83.2 483.4h0.8M90.2 479.8h0.8M90.5 481.8h0.8M91.0 508.7h0.8M90.8 499.4h0.8M87.6 503.5h0.8M83.1 502.3h0.8M87.6 478.8h0.8M85.2 502.7h0.8M90.2 480.7h0.8M85.0 494.1h0.8M89.5 487.6h0.8M81.8 486.2h0.8M90.3 486.0h0.8M88.2 488.6h0.8M89.9 481.4h0.8M87.7 480.5h0.8M85.5 488.1h0.8M90.0 489.5h0.8M92.9 489.1h0.8M86.6 490.6h0.8M85.3 498.6h0.8M87.6 490.6h0.8M82.8 501.3h0.8M89.2 506.0h0.8M90.3 492.2h0.8M84.4 478.4h0.8M81.5 491.5h0.8M83.0 501.3h0.8M89.3 488.4h0.8M80.3 486.5h0.8M90.8 496.9h0.8M86.0 499.5h0.8M90.7 483.8h0.8M89.5 484.9h0.8M83.0 487.3h0.8M88.5 503.7h0.8M88.3 501.5h0.8M92.2 493.3h0.8M89.1 491.8h0.8M82.6 475.3h0.8M90.6 494.4h0.8M83.7 498.3h0.8M86.1 498.7h0.8M87.1 489.8h0.8M87.6 497.7h0.8M83.7 485.9h0.8M84.2 498.8h0.8M80.9 485.9h0.8M87.1 488.7h0.8M82.2 491.8h0.8M87.0 501.8h0.8M85.5 475.4h0.8M89.4 478.4h0.8M92.2 496.0h0.8M88.7 485.5h0.8M87.7 486.0h0.8M84.3 496.5h0.8M83.3 486.1h0.8M84.7 486.9h0.8M91.3 482.0h0.8M89.1 495.7h0.8M93.1 505.8h0.8M84.8 484.2h0.8M87.0 492.0h0.8M87.3 484.1h0.8M90.1 474.5h0.8M89.3 477.5h0.8M85.2 483.7h0.8M84.6 485.8h0.8M88.9 478.6h0.8M86.2 494.4h0.8M86.5 486.4h0.8M89.4 498.7h0.8M83.3 476.1h0.8M86.1 504.1h0.8M86.7 488.3h0.8M85.2 479.9h0.8M91.6 491.6h0.8M88.5 494.9h0.8M92.3 492.0h0.8M92.0 490.2h0.8M89.4 496.5h0.8M88.4 491.2h0.8M89.4 494.1h0.8M82.5 485.2h0.8M81.3 487.0h0.8M85.0 501.1h0.8M86.3 477.7h0.8M91.8 484.0h0.8M86.1 501.5h0.8M88.0 482.5h0.8M86.7 487.9h0.8M88.0 499.3h0.8M82.3 484.7h0.8M90.2 502.8h0.8M87.6 491.2h0.8M87.8 486.5h0.8M87.7 481.1h0.8M92.3 503.6h0.8M88.6 497.8h0.8M86.9 494.0h0.8M84.4 491.2h0.8M85.6 494.2h0.8M83.9 489.8h0.8M91.5 496.4h0.8M87.8 506.1h0.8M83.5 495.5h0.8M93.7 479.9h0.8M89.2 505.5h0.8M85.0 479.2h0.8M86.6 483.8h0.8M86.1 485.8h0.8M89.7 491.0h0.8M89.0 487.1h0.8M91.4 482.0h0.8M87.9 493.0h0.8M82.9 505.6h0.8M83.5 474.5h0.8M91.1 493.9h0.8M86.1 505.7h0.8M86.9 495.5h0.8M87.0 474.5h0.8M86.8 503.5h0.8M85.7 509.5h0.8M84.3 495.1h0.8M87.2 504.8h0.8M92.1 482.3h0.8M83.8 497.6h0.8M90.4 490.1h0.8M87.5 498.7h0.8M88.3 500.7h0.8M90.0 479.5h0.8M88.1 477.3h0.8M83.1 474.0h0.8M87.5 505.6h0.8M81.9 481.2h0.8M84.1 456.7h0.8M85.3 490.6h0.8M91.3 485.8h0.8M88.3 482.0h0.8M88.7 506.1h0.8M78.6 499.7h0.8M82.2 492.1h0.8M92.1 488.1h0.8M82.5 483.9h0.8M79.2 481.8h0.8M90.9 491.1h0.8M83.0 488.7h0.8M88.8 474.7h0.8M91.8 475.7h0.8M78.2 478.4h0.8M81.3 505.6h0.8M81.0 489.2h0.8M100.6 492.1h0.8M83.9 481.2h0.8M92.2 491.0h0.8M96.8 487.9h0.8M82.2 497.7h0.8M91.3 480.7h0.8M91.2 495.5h0.8M96.2 491.9h0.8M82.5 478.8h0.8M87.6 507.7h0.8M79.7 503.8h0.8M85.6 491.2h0.8M83.2 505.1h0.8M87.9 492.1h0.8M90.2 497.4h0.8M44.4 505.4h0.8M37.3 496.8h0.8M17.3 475.7h0.8M43.9 506.5h0.8M38.0 492.9h0.8M39.1 498.5h0.8M24.4 502.8h0.8M40.7 485.3h0.8M40.0 483.4h0.8M26.2 481.0h0.8M43.4 478.7h0.8M43.7 481.8h0.8M34.4 489.2h0.8M17.9 504.6h0.8M24.8 498.6h0.8M23.1 484.4h0.8M21.4 503.6h0.8M28.8 481.8h0.8M31.5 478.0h0.8M32.2 475.6h0.8M22.5 474.4h0.8M25.3 477.8h0.8M41.4 489.7h0.8M32.1 507.1h0.8M17.5 482.8h0.8M34.0 505.9h0.8M56.0 484.3h0.8M64.0 496.4h0.8M67.7 502.9h0.8M75.0 504.5h0.8M69.9 479.0h0.8M47.7 484.5h0.8M72.9 482.1h0.8M75.6 498.9h0.8M69.4 482.3h0.8M70.5 477.7h0.8M62.8 501.8h0.8M69.7 491.9h0.8M59.0 493.4h0.8M61.4 483.8h0.8M66.5 499.4h0.8M77.0 478.8h0.8M55.0 490.3h0.8M46.7 478.2h0.8M63.0 485.2h0.8M69.7 484.9h0.8M66.8 497.7h0.8M59.6 474.5h0.8M46.3 487.4h0.8M68.9 489.0h0.8M51.7 490.6h0.8M59.6 493.3h0.8M68.7 499.0h0.8M65.8 491.9h0.8M55.0 486.7h0.8M61.4 490.3h0.8M72.2 494.5h0.8M65.4 488.3h0.8M57.0 490.7h0.8M71.8 491.7h0.8M69.2 473.2h0.8M71.6 485.6h0.8M72.9 495.9h0.8M71.0 483.4h0.8M70.7 487.8h0.8M68.9 492.2h0.8M62.2 499.5h0.8M80.6 492.5h0.8M66.2 486.3h0.8M61.7 501.5h0.8M58.2 500.5h0.8M71.9 486.7h0.8M56.6 488.3h0.8M62.9 506.7h0.8M50.8 475.4h0.8M57.7 487.4h0.8M58.7 496.5h0.8M61.0 495.1h0.8M65.2 500.5h0.8M78.0 493.1h0.8M72.8 502.2h0.8M65.6 492.1h0.8M58.2 462.3h0.8M53.6 484.3h0.8M60.0 483.1h0.8M21.5 452.3h0.8M74.7 454.2h0.8M72.3 455.0h0.8M57.0 454.9h0.8M24.7 452.3h0.8M61.4 453.9h0.8M68.0 451.3h0.8M63.4 454.5h0.8M179.8 387.9h0.8M183.1 392.1h0.8M180.4 371.9h0.8M178.1 402.0h0.8M177.3 389.9h0.8M181.0 399.0h0.8M172.5 371.0h0.8M175.3 396.5h0.8M178.4 363.7h0.8M177.6 383.8h0.8M180.9 382.8h0.8M181.3 400.6h0.8M182.6 389.7h0.8M182.1 394.4h0.8M173.4 396.9h0.8M174.9 404.3h0.8M172.4 380.4h0.8M186.2 385.8h0.8M173.8 390.2h0.8M176.0 407.0h0.8M179.5 376.0h0.8M180.0 374.8h0.8M174.0 383.1h0.8M180.1 363.8h0.8M176.7 380.8h0.8M177.9 394.2h0.8M177.9 399.2h0.8M184.0 386.2h0.8M175.9 385.6h0.8M173.6 377.5h0.8M183.2 391.0h0.8M180.8 377.5h0.8M177.3 375.6h0.8M183.3 396.8h0.8M181.2 401.2h0.8M183.5 407.0h0.8M183.5 365.2h0.8M180.9 393.4h0.8M174.8 386.7h0.8M184.2 394.8h0.8M172.7 376.6h0.8M176.8 379.0h0.8M173.5 368.9h0.8M174.2 396.8h0.8M178.0 380.3h0.8M180.2 390.0h0.8M172.1 381.2h0.8M176.8 393.6h0.8M178.0 382.2h0.8M181.5 373.2h0.8M177.0 408.1h0.8M179.9 383.0h0.8M181.3 391.8h0.8M181.1 376.2h0.8M179.8 391.4h0.8M181.5 360.3h0.8M180.9 400.0h0.8M180.1 364.4h0.8M183.0 374.4h0.8M184.1 374.6h0.8M175.0 381.2h0.8M175.6 397.9h0.8M171.9 382.1h0.8M180.1 372.2h0.8M172.5 399.2h0.8M179.6 384.3h0.8M181.3 382.8h0.8M172.7 369.2h0.8M175.0 389.1h0.8M178.8 374.0h0.8M176.3 367.3h0.8M178.0 379.4h0.8M175.0 391.3h0.8M182.4 372.5h0.8M180.3 380.3h0.8M180.7 367.4h0.8M176.1 384.1h0.8M180.2 388.5h0.8M172.4 375.8h0.8M177.1 362.5h0.8M168.3 394.5h0.8M173.9 398.3h0.8M181.5 367.7h0.8M172.7 393.6h0.8M177.3 403.5h0.8M177.2 392.4h0.8M173.8 379.2h0.8M176.9 376.8h0.8M180.7 370.4h0.8M173.5 369.1h0.8M171.0 373.8h0.8M174.8 387.6h0.8M181.4 411.2h0.8M172.7 387.2h0.8M183.6 378.3h0.8M174.9 383.4h0.8M177.3 386.8h0.8M181.5 399.1h0.8M176.9 401.0h0.8M178.8 361.6h0.8M182.5 393.8h0.8M181.1 374.7h0.8M179.6 371.3h0.8M175.4 388.4h0.8M177.9 367.7h0.8M177.3 366.8h0.8M179.2 398.9h0.8M181.4 363.3h0.8M176.6 371.9h0.8M184.4 381.4h0.8M174.9 364.7h0.8M179.1 393.4h0.8M175.4 359.7h0.8M179.5 406.1h0.8M175.8 365.6h0.8M173.4 365.6h0.8M182.1 400.8h0.8M183.1 393.6h0.8M174.4 401.4h0.8M176.9 402.6h0.8M184.8 371.2h0.8M173.5 378.8h0.8M179.8 378.9h0.8M184.6 376.1h0.8M178.7 407.1h0.8M174.7 384.4h0.8M175.0 366.5h0.8M174.0 378.2h0.8M184.5 379.4h0.8M176.9 361.5h0.8M179.5 404.4h0.8M176.1 396.6h0.8M181.6 366.6h0.8M175.7 386.1h0.8M179.0 393.9h0.8M173.3 391.9h0.8M176.8 404.0h0.8M176.1 382.6h0.8M178.6 409.8h0.8M176.3 398.1h0.8M178.4 391.4h0.8M175.3 358.2h0.8M177.7 385.9h0.8M181.9 394.7h0.8M181.2 388.9h0.8M175.9 376.3h0.8M184.6 388.7h0.8M176.4 383.5h0.8M181.2 389.6h0.8M176.8 396.0h0.8M187.4 401.1h0.8M176.2 378.0h0.8M175.6 394.0h0.8M177.8 387.3h0.8M178.6 387.7h0.8M180.9 381.6h0.8M179.4 383.8h0.8M171.4 366.9h0.8M180.6 402.3h0.8M176.8 409.1h0.8M181.7 375.9h0.8M179.8 399.8h0.8M183.0 373.5h0.8M182.7 382.9h0.8M173.5 380.3h0.8M178.8 365.2h0.8M177.5 393.1h0.8M186.7 369.0h0.8M176.6 370.0h0.8M172.4 385.8h0.8M173.3 381.1h0.8M180.6 395.9h0.8M171.9 394.2h0.8M178.1 399.1h0.8M182.1 396.0h0.8M174.5 403.4h0.8M171.1 398.8h0.8M174.3 369.9h0.8M183.0 377.6h0.8M176.9 368.7h0.8M178.4 383.4h0.8M177.3 372.8h0.8M176.5 388.7h0.8M184.1 383.0h0.8M179.1 385.8h0.8M178.6 401.3h0.8M178.7 378.1h0.8M175.5 380.0h0.8M173.2 389.3h0.8M176.5 372.6h0.8M180.3 390.4h0.8M174.1 394.1h0.8M183.0 386.3h0.8M179.8 397.5h0.8M179.4 386.4h0.8M173.8 367.1h0.8M176.9 404.9h0.8M175.0 402.6h0.8M176.6 394.1h0.8M180.9 385.5h0.8M175.6 378.4h0.8M184.3 389.0h0.8M178.5 385.9h0.8M179.3 365.1h0.8M176.2 389.9h0.8M178.5 371.4h0.8M181.8 402.3h0.8M180.0 368.8h0.8M186.6 386.5h0.8M181.1 381.2h0.8M181.4 409.2h0.8M169.9 387.8h0.8M179.1 364.5h0.8M177.3 371.5h0.8M171.6 386.9h0.8M178.8 389.5h0.8M172.1 394.9h0.8M180.8 403.5h0.8M175.5 387.3h0.8M185.3 397.8h0.8M183.2 379.9h0.8M183.0 395.0h0.8M181.0 390.2h0.8M178.6 370.9h0.8M172.5 397.1h0.8M175.1 401.1h0.8M174.4 402.1h0.8M179.6 390.3h0.8M183.0 399.2h0.8M177.0 400.8h0.8M178.2 403.8h0.8M180.1 373.2h0.8M181.8 378.0h0.8M171.8 380.5h0.8M173.5 403.0h0.8M174.7 385.5h0.8M176.0 386.9h0.8M182.0 379.2h0.8M183.3 389.0h0.8M173.2 394.5h0.8M172.6 379.6h0.8M180.8 384.6h0.8M170.4 391.3h0.8M183.1 375.0h0.8M179.2 394.7h0.8M183.8 405.2h0.8M178.0 376.2h0.8M175.9 403.4h0.8M182.6 387.9h0.8M184.9 368.1h0.8M172.6 398.4h0.8M174.5 396.0h0.8M173.7 373.3h0.8M185.7 382.4h0.8M177.2 369.6h0.8M173.6 404.8h0.8M176.0 365.9h0.8M176.0 370.7h0.8M174.6 374.3h0.8M177.5 395.7h0.8M173.5 397.9h0.8M183.9 403.1h0.8M180.8 387.5h0.8M174.3 376.9h0.8M179.6 369.2h0.8M172.1 390.6h0.8M176.9 374.7h0.8M178.4 400.3h0.8M174.4 379.7h0.8M179.1 363.8h0.8M172.7 372.2h0.8M182.1 385.4h0.8M178.5 386.5h0.8M182.2 404.8h0.8M175.8 400.8h0.8M185.6 363.5h0.8M187.0 383.8h0.8M177.0 359.4h0.8M175.4 390.2h0.8M170.0 370.2h0.8M186.1 388.7h0.8M182.5 391.8h0.8M172.3 402.1h0.8M192.1 395.6h0.8M181.3 406.9h0.8M178.8 377.3h0.8M172.4 404.1h0.8M168.5 393.7h0.8M180.5 378.2h0.8M191.0 370.7h0.8M168.8 368.7h0.8M171.3 361.1h0.8M176.1 387.7h0.8M179.3 370.1h0.8M186.9 389.4h0.8M188.5 364.5h0.8M175.2 375.5h0.8M180.5 405.0h0.8M182.3 383.3h0.8M172.0 392.0h0.8M180.8 408.0h0.8M175.0 394.3h0.8M178.4 395.0h0.8M183.8 384.7h0.8M182.4 379.9h0.8M170.1 380.2h0.8M171.9 389.8h0.8M173.1 387.8h0.8M166.3 410.0h0.8M177.1 402.1h0.8M171.7 388.4h0.8M183.9 387.4h0.8M175.2 395.8h0.8M173.1 388.0h0.8M174.7 393.5h0.8M172.7 386.5h0.8M170.0 405.9h0.8M177.4 391.0h0.8M181.8 410.1h0.8M186.6 394.9h0.8M169.5 388.4h0.8M174.9 372.4h0.8M174.4 397.1h0.8M173.6 386.8h0.8M182.0 365.4h0.8M163.0 404.7h0.8M181.1 384.1h0.8M171.4 387.7h0.8M181.2 392.7h0.8M187.2 379.0h0.8M177.2 390.6h0.8M178.6 405.0h0.8M166.8 376.6h0.8M175.0 368.5h0.8M186.9 375.5h0.8M182.7 365.4h0.8M172.7 373.4h0.8M186.1 403.6h0.8M169.8 384.7h0.8M179.2 392.2h0.8M168.3 379.3h0.8M178.5 410.5h0.8M181.2 397.4h0.8M188.4 370.2h0.8M178.9 390.9h0.8M217.1 355.8h0.8M215.9 366.9h0.8M209.2 368.9h0.8M214.6 369.1h0.8M211.4 365.7h0.8M211.5 364.9h0.8M208.9 371.8h0.8M208.0 368.0h0.8M208.8 366.6h0.8M214.0 370.8h0.8M207.3 366.7h0.8M206.3 362.8h0.8M218.0 368.0h0.8M206.3 375.7h0.8M208.2 370.8h0.8M210.2 364.6h0.8M213.5 373.5h0.8M203.9 365.1h0.8M201.3 373.3h0.8M209.9 369.3h0.8M216.4 368.1h0.8M210.1 369.7h0.8M220.2 370.2h0.8M215.1 364.1h0.8M225.0 369.3h0.8M219.3 361.7h0.8M202.4 359.8h0.8M216.8 372.2h0.8M222.9 369.5h0.8M203.6 367.2h0.8M223.7 376.9h0.8M216.6 361.5h0.8M191.8 374.1h0.8M202.4 363.4h0.8M204.7 367.6h0.8M226.6 363.6h0.8M216.6 358.1h0.8M203.2 366.9h0.8M198.2 383.9h0.8M205.5 394.8h0.8M226.3 386.9h0.8M212.9 383.5h0.8M190.6 396.0h0.8M196.2 387.6h0.8M193.1 400.4h0.8M204.3 399.8h0.8M194.0 394.7h0.8M176.6 366.8h0.8M169.5 402.9h0.8M154.7 369.9h0.8M162.1 398.1h0.8M181.6 371.8h0.8M178.1 479.3h0.8M181.3 475.4h0.8M172.6 495.5h0.8M180.3 465.5h0.8M178.1 496.1h0.8M176.4 485.2h0.8M176.6 462.6h0.8M178.6 475.1h0.8M176.4 492.9h0.8M175.7 471.0h0.8M181.8 486.1h0.8M175.4 479.2h0.8M179.7 461.6h0.8M181.0 499.6h0.8M179.3 485.1h0.8M170.9 478.2h0.8M180.9 495.0h0.8M174.4 502.4h0.8M186.2 467.4h0.8M183.2 460.0h0.8M179.1 464.6h0.8M178.5 461.5h0.8M177.6 490.0h0.8M180.9 461.3h0.8M179.7 463.1h0.8M181.1 492.2h0.8M176.9 499.3h0.8M184.5 477.2h0.8M181.0 500.4h0.8M180.4 472.8h0.8M184.5 494.2h0.8M173.5 483.0h0.8M179.1 470.0h0.8M177.2 492.3h0.8M172.1 465.3h0.8M178.4 497.0h0.8M178.8 488.6h0.8M172.1 477.3h0.8M178.3 483.3h0.8M174.1 490.5h0.8M170.7 485.5h0.8M171.6 479.0h0.8M179.9 479.3h0.8M180.1 481.2h0.8M175.8 488.4h0.8M181.0 485.1h0.8M186.4 476.9h0.8M176.6 486.1h0.8M180.4 486.2h0.8M184.4 481.4h0.8M182.3 470.7h0.8M176.7 496.7h0.8M175.9 485.6h0.8M174.7 481.3h0.8M173.2 491.2h0.8M173.1 482.7h0.8M183.2 483.1h0.8M187.5 479.8h0.8M179.7 493.8h0.8M182.5 485.8h0.8M175.2 477.9h0.8M176.9 475.4h0.8M180.5 482.1h0.8M174.3 487.0h0.8M183.4 492.3h0.8M184.5 476.3h0.8M180.2 484.5h0.8M177.9 493.6h0.8M178.1 489.0h0.8M189.1 485.8h0.8M180.2 473.1h0.8M180.9 487.9h0.8M179.7 499.1h0.8M178.8 479.0h0.8M180.4 476.0h0.8M184.3 488.5h0.8M215.6 455.4h0.8M220.2 463.6h0.8M214.7 465.7h0.8M200.2 461.1h0.8M212.4 460.0h0.8M199.8 466.7h0.8M219.7 453.4h0.8M215.8 459.2h0.8M207.4 462.3h0.8M214.5 479.2h0.8M215.9 477.2h0.8M197.8 479.8h0.8M219.5 458.7h0.8M218.3 480.7h0.8M207.4 488.8h0.8M192.2 451.9h0.8M158.3 493.7h0.8M162.2 465.6h0.8M170.9 477.1h0.8M177.3 557.6h0.8M178.4 588.3h0.8M181.7 564.7h0.8M174.3 559.4h0.8M181.5 587.0h0.8M176.3 600.4h0.8M174.3 561.8h0.8M172.8 576.1h0.8M176.6 585.4h0.8M180.9 581.1h0.8M178.9 560.9h0.8M176.3 571.8h0.8M172.9 594.1h0.8M175.0 586.6h0.8M170.9 578.9h0.8M171.6 569.7h0.8M177.2 591.9h0.8M170.1 587.1h0.8M177.5 577.5h0.8M177.0 566.5h0.8M179.1 575.7h0.8M182.8 584.1h0.8M175.1 590.3h0.8M183.7 583.9h0.8M174.0 591.3h0.8M181.3 560.9h0.8M167.3 579.7h0.8M170.0 585.3h0.8M171.9 583.7h0.8M176.1 593.9h0.8M178.3 568.7h0.8M170.7 557.0h0.8M178.3 593.7h0.8M179.4 557.7h0.8M176.1 552.7h0.8M184.2 573.9h0.8M171.0 573.7h0.8M176.9 578.5h0.8M167.6 582.8h0.8M187.5 591.1h0.8M166.7 583.7h0.8M172.2 584.3h0.8M180.2 571.7h0.8M184.2 566.3h0.8M174.8 583.3h0.8M175.7 572.6h0.8M171.3 576.5h0.8M176.4 561.3h0.8M171.7 579.1h0.8M176.4 586.5h0.8M177.2 584.9h0.8M168.0 592.4h0.8M181.3 566.1h0.8M181.5 568.8h0.8M181.4 588.0h0.8M178.9 559.9h0.8M175.9 594.3h0.8M172.8 568.1h0.8M177.9 578.0h0.8M168.6 561.7h0.8M173.1 572.5h0.8M170.6 564.2h0.8M182.6 595.0h0.8M178.9 571.5h0.8M174.1 554.9h0.8M178.2 565.2h0.8M176.9 575.9h0.8M172.2 573.2h0.8M172.9 578.0h0.8M180.0 577.4h0.8M170.3 583.1h0.8M184.7 594.4h0.8M175.9 593.0h0.8M173.2 587.9h0.8M172.4 580.8h0.8M177.6 567.7h0.8M176.6 557.4h0.8M171.7 578.0h0.8M181.1 595.0h0.8M185.4 573.1h0.8M178.1 556.4h0.8M182.6 568.1h0.8M172.1 563.4h0.8M178.9 561.4h0.8M183.2 586.6h0.8M175.4 571.4h0.8M174.7 572.6h0.8M180.6 556.4h0.8M173.4 576.1h0.8M178.0 568.7h0.8M182.3 589.1h0.8M178.1 597.8h0.8M170.7 600.5h0.8M177.0 594.2h0.8M172.9 586.1h0.8M172.0 588.8h0.8M179.9 561.4h0.8M169.6 574.8h0.8M179.1 572.6h0.8M181.6 573.9h0.8M174.2 556.8h0.8M174.4 562.6h0.8M171.2 589.4h0.8M179.4 592.2h0.8M184.3 566.0h0.8M183.0 570.8h0.8M182.9 576.5h0.8M171.8 558.7h0.8M180.7 585.5h0.8M175.2 599.3h0.8M171.4 557.4h0.8M180.1 591.2h0.8M176.1 589.9h0.8M171.9 571.9h0.8M185.7 566.5h0.8M173.0 553.7h0.8M178.6 591.8h0.8M171.4 560.4h0.8M172.0 583.1h0.8M182.9 581.5h0.8M179.4 569.2h0.8M185.1 575.4h0.8M172.2 565.9h0.8M176.4 567.1h0.8M168.5 581.1h0.8M174.5 573.8h0.8M180.6 563.2h0.8M184.5 593.2h0.8M182.0 589.4h0.8M183.7 589.8h0.8M183.6 560.4h0.8M173.7 580.3h0.8M178.8 573.5h0.8M173.5 574.5h0.8M171.6 567.4h0.8M171.9 593.2h0.8M169.8 590.3h0.8M168.7 582.1h0.8M178.9 580.4h0.8M176.8 573.0h0.8M166.9 573.8h0.8M178.2 594.0h0.8M171.5 565.0h0.8M179.4 587.2h0.8M175.1 592.9h0.8M177.8 582.1h0.8M174.5 596.5h0.8M180.2 573.4h0.8M180.2 575.6h0.8M172.2 595.7h0.8M180.3 596.3h0.8M179.1 589.5h0.8M169.4 585.7h0.8M179.9 559.3h0.8M173.0 561.3h0.8M183.0 574.5h0.8M175.5 596.4h0.8M173.9 584.0h0.8M180.4 565.8h0.8M174.8 587.1h0.8M184.7 558.2h0.8M179.4 564.7h0.8M178.6 585.4h0.8M176.9 574.3h0.8M175.9 585.6h0.8M180.2 582.5h0.8M179.0 591.9h0.8M174.4 569.0h0.8M176.2 592.8h0.8M173.5 599.7h0.8M181.6 557.7h0.8M175.7 553.6h0.8M170.7 579.3h0.8M175.0 594.9h0.8M175.3 574.2h0.8M170.6 592.2h0.8M172.3 587.0h0.8M170.3 576.6h0.8M186.8 584.9h0.8M176.3 560.7h0.8M175.8 562.3h0.8M179.0 555.1h0.8M179.2 594.1h0.8M174.8 581.8h0.8M176.9 590.0h0.8M175.4 582.8h0.8M182.2 575.5h0.8M181.5 581.7h0.8M180.6 579.1h0.8M168.1 569.9h0.8M171.2 560.0h0.8M180.5 578.3h0.8M170.5 571.0h0.8M178.0 597.1h0.8M177.0 554.6h0.8M175.8 583.5h0.8M171.8 575.1h0.8M175.5 589.4h0.8M169.4 586.6h0.8M183.7 569.4h0.8M180.9 560.0h0.8M177.1 599.4h0.8M179.7 574.9h0.8M178.7 581.0h0.8M169.0 567.6h0.8M171.4 554.5h0.8M173.4 590.5h0.8M182.0 577.3h0.8M168.3 573.1h0.8M173.4 595.4h0.8M177.9 588.6h0.8M170.5 591.1h0.8M173.1 598.4h0.8M178.0 572.6h0.8M177.4 596.3h0.8M171.6 573.9h0.8M173.6 570.2h0.8M170.9 566.1h0.8M175.2 588.4h0.8M176.1 568.9h0.8M177.8 570.0h0.8M173.4 596.8h0.8M177.4 562.6h0.8M169.5 581.6h0.8M170.6 564.0h0.8M168.7 590.6h0.8M179.5 562.8h0.8M179.8 566.7h0.8M168.1 575.1h0.8M176.3 588.3h0.8M181.2 578.9h0.8M174.0 589.2h0.8M174.9 577.0h0.8M168.8 583.2h0.8M183.0 570.1h0.8M175.2 579.5h0.8M178.8 583.9h0.8M170.9 582.8h0.8M171.2 585.5h0.8M174.6 579.4h0.8M172.6 591.5h0.8M178.0 572.3h0.8M177.2 581.8h0.8M177.2 565.5h0.8M171.7 556.6h0.8M172.1 579.9h0.8M169.8 557.9h0.8M172.3 558.7h0.8M168.9 571.5h0.8M182.4 560.0h0.8M174.8 590.7h0.8M173.2 568.0h0.8M171.9 582.3h0.8M172.1 598.8h0.8M175.0 592.7h0.8M170.2 565.8h0.8M172.9 558.0h0.8M183.5 576.8h0.8M183.4 571.1h0.8M172.7 575.9h0.8M180.3 562.4h0.8M173.7 577.5h0.8M176.0 559.0h0.8M167.0 583.2h0.8M168.9 571.0h0.8M172.4 570.7h0.8M184.9 583.9h0.8M176.8 577.9h0.8M181.9 563.3h0.8M163.3 582.3h0.8M174.8 588.4h0.8M164.6 565.6h0.8M177.7 590.1h0.8M170.1 593.7h0.8M172.0 570.7h0.8M175.7 586.2h0.8M176.4 566.4h0.8M178.3 589.8h0.8M180.1 566.8h0.8M177.7 587.9h0.8M166.7 595.4h0.8M169.8 563.2h0.8M168.9 546.3h0.8M178.3 577.8h0.8M179.1 567.6h0.8M169.5 576.1h0.8M185.4 571.0h0.8M170.6 575.5h0.8M182.2 563.2h0.8M181.7 574.1h0.8M186.3 588.0h0.8M183.3 567.3h0.8M169.3 547.0h0.8M169.4 591.6h0.8M180.1 587.2h0.8M168.4 564.4h0.8M180.5 580.3h0.8M166.6 587.3h0.8M188.5 569.9h0.8M176.4 582.0h0.8M176.0 583.4h0.8M184.2 564.8h0.8M174.3 561.0h0.8M179.9 580.4h0.8M188.9 584.3h0.8M163.4 564.8h0.8M175.9 566.5h0.8M177.0 581.9h0.8M168.6 560.8h0.8M184.8 576.1h0.8M178.5 567.9h0.8M193.3 590.2h0.8M182.3 565.3h0.8M176.9 587.2h0.8M168.5 596.0h0.8M169.4 580.8h0.8M171.9 586.7h0.8M188.2 564.9h0.8M181.0 562.6h0.8M167.1 580.3h0.8M168.5 578.9h0.8M170.1 567.1h0.8M181.5 552.8h0.8M186.3 567.0h0.8M173.8 569.5h0.8M167.9 576.6h0.8M162.4 600.0h0.8M163.2 597.0h0.8M181.3 576.0h0.8M178.3 587.5h0.8M173.6 565.5h0.8M172.6 579.0h0.8M189.1 573.4h0.8M173.7 549.6h0.8M169.7 583.8h0.8M188.7 566.2h0.8M166.0 588.2h0.8M164.3 586.8h0.8M170.2 586.8h0.8M177.1 569.7h0.8M169.8 595.5h0.8M174.0 554.3h0.8M170.4 577.3h0.8M174.7 552.7h0.8M181.1 593.2h0.8M177.2 583.7h0.8M195.8 565.0h0.8M174.1 565.7h0.8M162.0 584.8h0.8M182.6 552.2h0.8M186.7 564.3h0.8M167.4 563.3h0.8M218.1 554.4h0.8M208.9 561.8h0.8M219.1 562.1h0.8M221.0 567.0h0.8M213.2 563.6h0.8M216.0 562.0h0.8M214.3 565.1h0.8M215.3 567.7h0.8M216.8 562.4h0.8M224.4 558.7h0.8M209.3 575.1h0.8M214.9 558.3h0.8M219.4 567.3h0.8M221.5 561.3h0.8M215.0 563.1h0.8M221.9 563.0h0.8M208.2 559.6h0.8M214.2 574.1h0.8M215.5 559.4h0.8M212.0 567.3h0.8M219.3 572.1h0.8M219.0 565.0h0.8M212.7 558.4h0.8M212.4 557.9h0.8M211.4 560.7h0.8M216.9 566.1h0.8M211.6 569.9h0.8M221.2 567.4h0.8M218.0 563.9h0.8M221.2 569.2h0.8M214.1 561.1h0.8M206.7 565.7h0.8M206.8 573.1h0.8M212.4 567.7h0.8M218.3 561.4h0.8M208.0 566.3h0.8M204.1 567.2h0.8M209.8 564.7h0.8M220.2 558.6h0.8M210.8 565.9h0.8M209.6 572.1h0.8M215.1 566.5h0.8M193.5 581.5h0.8M220.1 557.7h0.8M209.6 593.7h0.8M213.3 579.8h0.8M192.2 572.4h0.8M227.3 569.3h0.8M215.5 577.5h0.8M202.0 576.1h0.8M228.0 576.9h0.8M196.4 559.2h0.8M226.4 583.3h0.8M213.8 580.5h0.8M200.5 592.4h0.8M222.2 585.1h0.8M183.7 601.9h0.8M155.7 557.9h0.8M165.5 590.2h0.8M169.3 598.2h0.8M153.7 553.6h0.8M179.3 583.6h0.8M159.2 553.4h0.8M161.5 585.9h0.8M180.5 550.9h0.8M164.4 589.9h0.8M315.3 465.2h0.8M284.1 468.8h0.8M304.1 464.7h0.8M285.8 468.0h0.8M291.6 465.3h0.8M288.7 472.5h0.8M285.7 462.2h0.8M295.1 470.4h0.8M290.2 465.2h0.8M301.7 466.6h0.8M299.0 465.5h0.8M291.6 470.8h0.8M311.4 470.9h0.8M308.5 472.7h0.8M285.1 472.2h0.8M292.4 468.6h0.8M306.6 471.9h0.8M315.1 466.9h0.8M288.0 463.3h0.8M295.7 475.2h0.8M286.2 463.8h0.8M294.1 464.7h0.8M298.7 475.0h0.8M313.8 467.9h0.8M297.8 466.8h0.8M307.3 467.0h0.8M309.9 467.3h0.8M306.9 474.0h0.8M308.9 469.2h0.8M287.3 468.7h0.8M310.5 465.1h0.8M299.7 470.9h0.8M309.3 473.9h0.8M311.4 470.0h0.8M301.6 470.8h0.8M316.1 467.1h0.8M315.6 472.3h0.8M312.5 473.3h0.8M290.4 472.4h0.8M309.6 468.4h0.8M293.5 468.3h0.8M304.7 470.8h0.8M289.3 470.3h0.8M311.8 472.9h0.8M289.0 473.8h0.8M302.8 466.0h0.8M285.6 465.8h0.8M295.0 467.4h0.8M306.4 466.7h0.8M287.6 466.6h0.8M315.8 469.7h0.8M307.4 468.1h0.8M300.2 464.2h0.8M300.6 463.9h0.8M296.5 467.1h0.8M312.3 468.6h0.8M299.0 463.1h0.8M293.9 469.2h0.8M297.8 465.4h0.8M308.9 470.3h0.8M307.8 473.7h0.8M291.4 468.9h0.8M311.0 466.8h0.8M284.7 462.1h0.8M288.2 474.8h0.8M298.7 469.9h0.8M299.3 468.4h0.8M315.5 473.7h0.8M302.6 473.9h0.8M314.9 468.0h0.8M314.4 469.0h0.8M311.4 458.1h0.8M295.4 469.1h0.8M308.3 473.8h0.8M292.1 473.1h0.8M316.9 464.6h0.8M316.3 469.0h0.8M300.2 468.4h0.8M312.9 466.3h0.8M310.2 470.2h0.8M286.4 472.4h0.8M306.1 464.4h0.8M286.9 469.2h0.8M304.9 468.5h0.8M294.8 474.6h0.8M284.7 469.7h0.8M315.1 471.1h0.8M311.3 467.7h0.8M296.4 469.3h0.8M291.5 469.6h0.8M310.2 468.2h0.8M301.0 464.4h0.8M296.3 466.0h0.8M307.1 465.4h0.8M286.3 464.2h0.8M297.8 473.6h0.8M310.3 471.1h0.8M285.0 476.5h0.8M309.7 469.5h0.8M306.0 472.5h0.8M299.4 469.6h0.8M304.6 471.4h0.8M306.0 475.1h0.8M296.5 471.2h0.8M289.7 474.8h0.8M311.8 477.7h0.8M286.1 468.2h0.8M303.5 463.7h0.8M288.3 467.6h0.8M307.1 472.9h0.8M300.9 466.8h0.8M297.7 471.2h0.8M306.7 462.7h0.8M312.7 464.9h0.8M303.4 468.8h0.8M301.6 471.4h0.8M313.4 472.1h0.8M309.0 471.9h0.8M302.0 470.6h0.8M291.2 474.4h0.8M309.2 466.5h0.8M286.0 469.4h0.8M302.1 467.1h0.8M313.2 465.2h0.8M303.6 470.0h0.8M308.4 467.1h0.8M294.1 470.9h0.8M314.3 468.7h0.8M284.7 463.4h0.8M298.9 466.5h0.8M310.1 469.8h0.8M314.4 473.0h0.8M292.3 470.0h0.8M289.6 466.3h0.8M290.6 471.3h0.8M300.0 473.2h0.8M284.3 471.9h0.8M313.4 470.6h0.8M300.5 474.5h0.8M284.2 470.0h0.8M306.2 468.7h0.8M302.4 465.6h0.8M290.8 470.2h0.8M292.5 471.1h0.8M295.1 466.9h0.8M300.8 476.3h0.8M292.1 466.4h0.8M295.6 464.4h0.8M285.2 471.9h0.8M293.5 470.1h0.8M296.5 464.4h0.8M285.5 467.1h0.8M293.3 460.5h0.8M287.5 473.5h0.8M305.0 474.1h0.8M305.5 471.7h0.8M287.6 476.9h0.8M290.5 469.4h0.8M293.9 471.7h0.8M286.6 471.1h0.8M287.8 465.4h0.8M313.9 469.9h0.8M287.3 469.4h0.8M311.9 471.2h0.8M295.0 463.4h0.8M316.7 465.9h0.8M315.2 475.4h0.8M286.4 470.3h0.8M312.9 467.7h0.8M304.4 473.0h0.8M292.1 467.9h0.8M289.1 472.3h0.8M310.5 473.6h0.8M303.6 465.5h0.8M313.2 467.0h0.8M315.4 470.9h0.8M307.2 471.3h0.8M290.2 466.7h0.8M313.4 475.4h0.8M288.6 471.9h0.8M294.2 472.7h0.8M306.3 470.9h0.8M285.1 463.7h0.8M289.0 469.8h0.8M293.8 466.1h0.8M313.2 468.5h0.8M296.5 470.2h0.8M296.3 465.8h0.8M292.5 474.2h0.8M308.8 471.1h0.8M299.4 474.5h0.8M284.2 459.0h0.8M309.4 474.7h0.8M296.0 478.0h0.8M309.4 478.8h0.8M291.5 471.9h0.8M316.8 469.2h0.8M296.0 472.4h0.8M303.1 476.2h0.8M292.7 465.7h0.8M303.4 466.0h0.8M315.2 464.4h0.8M287.3 463.1h0.8M307.0 464.4h0.8M312.6 469.7h0.8M303.6 467.5h0.8M296.5 476.1h0.8M314.4 470.9h0.8M328.0 471.0h0.8M322.9 472.6h0.8M336.1 462.7h0.8M340.8 474.7h0.8M344.3 469.1h0.8M347.7 474.4h0.8M346.0 471.6h0.8M329.8 468.1h0.8M325.8 472.4h0.8M334.6 468.5h0.8M343.3 471.9h0.8M348.7 468.5h0.8M323.4 463.4h0.8M334.4 472.7h0.8M335.4 470.2h0.8M346.7 472.4h0.8M344.7 466.8h0.8M348.1 470.7h0.8M346.3 470.5h0.8M324.0 469.7h0.8M323.1 468.0h0.8M324.7 467.8h0.8M338.5 468.9h0.8M327.5 466.8h0.8M336.8 474.0h0.8M346.0 474.4h0.8M332.0 468.1h0.8M346.3 468.1h0.8M348.7 467.8h0.8M327.7 470.4h0.8M322.4 466.5h0.8M339.4 466.0h0.8M325.2 473.3h0.8M334.9 467.8h0.8M322.5 468.3h0.8M330.8 468.4h0.8M344.3 471.2h0.8M332.0 477.1h0.8M332.0 469.9h0.8M340.2 465.1h0.8M325.9 465.4h0.8M324.5 464.0h0.8M325.6 466.7h0.8M322.5 471.8h0.8M323.0 476.9h0.8M341.6 463.9h0.8M346.5 465.8h0.8M345.5 471.0h0.8M332.4 471.0h0.8M332.3 468.5h0.8M335.2 469.3h0.8M323.6 470.7h0.8M342.7 470.9h0.8M338.9 466.9h0.8M336.8 471.7h0.8M341.5 459.7h0.8M333.6 471.5h0.8M335.5 466.8h0.8M331.4 467.0h0.8M329.6 464.4h0.8M341.2 472.8h0.8M328.4 465.4h0.8M342.7 466.2h0.8M342.6 469.4h0.8M328.9 467.4h0.8M324.9 472.5h0.8M342.1 467.2h0.8M325.4 475.4h0.8M337.2 471.6h0.8M329.7 471.1h0.8M340.4 464.6h0.8M345.8 474.3h0.8M324.0 468.0h0.8M345.6 471.9h0.8M333.3 461.0h0.8M331.0 464.5h0.8M328.2 473.6h0.8M334.0 473.2h0.8M329.8 467.3h0.8M330.5 469.6h0.8M332.5 464.6h0.8M336.7 467.2h0.8M340.1 468.3h0.8M333.0 466.9h0.8M322.7 475.1h0.8M339.1 472.3h0.8M348.9 472.5h0.8M327.4 463.5h0.8M344.1 467.3h0.8M326.6 468.2h0.8M329.8 472.7h0.8M340.2 469.8h0.8M333.8 469.6h0.8M338.0 471.3h0.8M322.8 470.5h0.8M325.6 469.4h0.8M326.9 463.6h0.8M339.3 474.4h0.8M329.2 465.1h0.8M338.0 462.4h0.8M332.1 472.9h0.8M343.6 464.8h0.8M333.1 467.0h0.8M331.3 463.5h0.8M344.8 470.5h0.8M333.0 468.6h0.8M327.1 468.7h0.8M337.0 470.7h0.8M334.3 466.6h0.8M345.9 468.0h0.8M341.5 469.2h0.8M322.8 467.7h0.8M348.7 471.8h0.8M329.3 467.0h0.8M328.8 468.9h0.8M324.8 466.8h0.8M347.9 473.8h0.8M348.9 469.7h0.8M328.2 472.1h0.8M325.1 468.8h0.8M332.5 465.6h0.8M333.3 462.8h0.8M330.9 463.9h0.8M331.0 467.5h0.8M332.7 470.5h0.8M343.9 473.2h0.8M341.9 471.3h0.8M330.1 471.7h0.8M334.7 469.6h0.8M322.1 464.6h0.8M326.9 464.8h0.8M338.4 469.7h0.8M344.7 463.1h0.8M330.4 462.5h0.8M341.9 467.8h0.8M323.9 473.0h0.8M327.3 471.3h0.8M337.2 476.9h0.8M336.5 461.7h0.8M331.8 465.1h0.8M344.4 472.1h0.8M338.5 462.8h0.8M322.2 469.4h0.8M329.3 469.6h0.8M346.1 467.4h0.8M323.0 472.3h0.8M337.3 472.1h0.8M343.3 475.2h0.8M348.5 476.2h0.8M343.1 468.8h0.8M332.3 475.8h0.8M347.9 471.1h0.8M336.0 468.8h0.8M345.6 469.0h0.8M324.6 469.2h0.8M342.8 464.7h0.8M331.8 470.8h0.8M328.4 467.0h0.8M344.4 465.8h0.8M344.4 474.2h0.8M340.7 466.9h0.8M327.1 469.5h0.8M316.3 470.2h0.8M318.0 466.0h0.8M320.4 463.9h0.8M322.6 473.9h0.8M319.3 476.4h0.8M320.4 470.3h0.8M320.2 467.3h0.8M321.4 474.7h0.8M314.9 465.3h0.8M320.7 470.0h0.8M317.1 467.1h0.8M321.9 475.6h0.8M317.3 471.3h0.8M319.4 466.1h0.8M316.2 471.5h0.8M315.3 468.5h0.8M319.8 470.9h0.8M319.7 466.0h0.8M318.9 466.8h0.8M321.1 463.2h0.8M319.1 472.0h0.8M318.6 467.0h0.8M317.2 475.4h0.8M314.7 463.7h0.8M319.6 469.7h0.8M322.0 471.5h0.8M316.1 466.4h0.8M316.8 474.1h0.8M316.5 473.1h0.8M320.1 464.9h0.8M318.4 472.4h0.8M318.8 469.7h0.8M323.3 468.3h0.8M319.5 468.0h0.8M323.8 466.6h0.8M320.9 462.6h0.8M314.7 471.7h0.8M316.5 472.5h0.8M320.2 472.1h0.8M319.3 478.4h0.8M314.7 466.6h0.8M317.8 476.5h0.8M319.1 469.0h0.8M321.6 468.3h0.8M323.2 465.9h0.8M315.2 467.5h0.8M319.7 473.2h0.8M320.9 466.6h0.8M318.2 475.9h0.8M321.0 475.5h0.8M321.3 465.6h0.8M317.8 473.7h0.8M321.0 469.3h0.8M351.9 491.6h0.8M349.6 492.7h0.8M343.2 488.1h0.8M350.9 499.4h0.8M344.8 483.7h0.8M343.7 487.8h0.8M345.5 497.2h0.8M352.0 478.2h0.8M345.3 476.2h0.8M348.1 477.8h0.8M351.6 494.0h0.8M342.0 497.1h0.8M347.2 478.2h0.8M344.4 488.0h0.8M344.7 490.8h0.8M345.7 486.9h0.8M346.9 484.6h0.8M347.9 481.3h0.8M350.6 500.6h0.8M353.0 483.1h0.8M342.3 486.1h0.8M347.5 498.8h0.8M343.1 495.0h0.8M342.7 485.0h0.8M341.3 487.8h0.8M343.5 489.6h0.8M343.4 482.8h0.8M348.3 485.0h0.8M345.4 483.1h0.8M345.3 494.0h0.8M343.8 477.7h0.8M344.2 498.5h0.8M347.5 495.1h0.8M348.7 498.3h0.8M351.2 477.7h0.8M351.9 489.1h0.8M344.1 497.5h0.8M343.1 496.9h0.8M343.0 485.4h0.8M348.7 496.0h0.8M344.9 489.2h0.8M350.0 484.0h0.8M340.7 485.2h0.8M345.2 484.9h0.8M349.0 482.0h0.8M346.4 486.6h0.8M349.4 478.3h0.8M348.2 494.1h0.8M346.1 499.3h0.8M342.8 494.0h0.8M342.7 476.7h0.8M339.5 476.9h0.8M343.3 501.6h0.8M344.9 485.6h0.8M346.6 493.9h0.8M349.5 497.4h0.8M348.8 491.3h0.8M347.8 499.5h0.8M343.2 483.5h0.8M347.3 485.6h0.8M348.9 493.0h0.8M346.9 487.5h0.8M349.7 488.1h0.8M341.2 494.4h0.8M342.2 492.1h0.8M342.5 478.2h0.8M345.2 482.7h0.8M346.4 482.4h0.8M351.7 488.4h0.8M349.8 501.2h0.8M348.0 478.5h0.8M341.3 486.0h0.8M347.6 490.7h0.8M347.3 496.9h0.8M346.8 483.9h0.8M348.8 482.4h0.8M346.6 500.4h0.8M344.6 477.6h0.8M345.6 500.3h0.8M347.0 488.3h0.8M345.6 489.8h0.8M346.2 501.9h0.8M342.9 483.5h0.8M347.4 497.7h0.8M344.2 484.2h0.8M348.7 480.6h0.8M346.3 481.3h0.8M346.9 494.8h0.8M342.6 496.6h0.8M342.5 485.2h0.8M338.4 485.8h0.8M344.7 488.5h0.8M346.7 495.3h0.8M348.1 501.0h0.8M345.8 495.8h0.8M349.7 485.9h0.8M344.6 479.7h0.8M347.3 484.6h0.8M337.1 485.3h0.8M345.7 498.3h0.8M348.6 495.0h0.8M347.8 501.8h0.8M344.0 495.9h0.8M347.3 486.5h0.8M344.9 480.9h0.8M339.9 483.7h0.8M351.8 479.4h0.8M346.9 477.0h0.8M349.9 483.1h0.8M347.2 491.3h0.8M341.1 491.0h0.8M349.1 499.4h0.8M343.6 478.8h0.8M349.4 489.2h0.8M342.3 498.5h0.8M347.5 483.7h0.8M350.3 501.5h0.8M344.9 481.4h0.8M341.6 499.3h0.8M343.9 500.7h0.8M350.4 480.7h0.8M348.8 490.8h0.8M352.2 499.9h0.8M343.3 491.7h0.8M348.8 492.9h0.8M345.6 481.0h0.8M350.8 494.9h0.8M346.1 488.2h0.8M343.4 480.1h0.8M350.2 488.7h0.8M344.2 496.6h0.8M349.8 479.4h0.8M344.3 499.5h0.8M346.5 480.6h0.8M350.5 476.3h0.8M343.5 497.3h0.8M345.9 491.9h0.8M350.6 482.7h0.8M341.5 479.7h0.8M341.3 491.8h0.8M347.3 489.1h0.8M348.6 481.5h0.8M353.8 500.8h0.8M341.4 483.7h0.8M345.4 479.4h0.8M345.2 481.3h0.8M349.4 477.0h0.8M349.0 483.5h0.8M344.9 486.7h0.8M340.1 500.0h0.8M348.1 484.9h0.8M346.2 497.0h0.8M351.9 476.5h0.8M348.0 487.2h0.8M353.2 484.6h0.8M344.5 493.0h0.8M353.8 486.0h0.8M359.5 495.7h0.8M352.5 493.9h0.8M353.1 497.5h0.8M340.9 476.5h0.8M353.0 484.3h0.8M340.4 486.9h0.8M342.7 501.8h0.8M350.8 489.1h0.8M336.3 505.7h0.8M329.8 478.6h0.8M305.4 489.1h0.8M288.5 490.6h0.8M340.7 484.3h0.8M311.6 480.9h0.8M331.1 481.5h0.8M308.3 481.9h0.8M338.9 489.6h0.8M296.0 490.5h0.8M285.1 482.5h0.8M315.7 486.1h0.8M315.2 483.4h0.8M340.8 479.6h0.8M294.5 481.3h0.8M300.8 482.9h0.8M291.3 484.0h0.8M284.5 483.7h0.8M303.7 482.2h0.8M340.6 494.8h0.8M316.0 500.4h0.8M314.1 487.2h0.8M332.2 483.7h0.8M304.4 487.1h0.8M312.8 477.8h0.8M338.3 483.6h0.8M315.1 489.7h0.8M326.5 481.1h0.8M306.7 497.6h0.8M309.2 491.8h0.8M332.5 481.8h0.8M304.2 490.7h0.8M294.4 480.2h0.8M329.6 486.7h0.8M309.4 479.9h0.8M326.4 479.6h0.8M339.0 503.7h0.8M297.0 489.5h0.8M289.1 483.1h0.8M293.7 477.1h0.8M300.0 483.1h0.8M305.0 489.4h0.8M328.2 476.2h0.8M286.7 481.8h0.8M321.5 478.9h0.8M284.3 478.9h0.8M307.5 496.8h0.8M311.1 495.9h0.8M299.5 489.7h0.8M322.8 478.7h0.8M302.4 479.4h0.8M341.4 476.9h0.8M323.3 499.0h0.8M339.7 478.1h0.8M325.2 477.2h0.8M322.0 481.2h0.8M326.1 499.4h0.8M307.1 493.8h0.8M298.2 487.5h0.8M316.6 490.1h0.8M337.4 489.1h0.8M319.4 479.4h0.8M327.7 481.4h0.8M298.1 482.3h0.8M326.2 483.3h0.8M304.7 485.1h0.8M303.6 486.9h0.8M286.6 479.6h0.8M284.2 477.0h0.8M315.2 497.9h0.8M334.2 483.6h0.8M313.5 482.0h0.8M330.6 476.3h0.8M315.9 494.2h0.8M310.1 485.1h0.8M288.5 491.1h0.8M343.9 481.5h0.8M304.5 481.7h0.8M284.7 489.5h0.8M299.4 477.3h0.8M334.9 479.7h0.8M317.2 490.4h0.8M291.6 478.3h0.8M344.4 476.2h0.8M321.4 481.2h0.8M310.8 479.4h0.8M329.0 487.0h0.8M290.1 477.8h0.8M341.0 496.6h0.8M320.7 479.4h0.8M336.8 476.1h0.8M343.7 486.3h0.8M299.7 482.2h0.8M307.8 476.3h0.8M307.3 494.6h0.8M327.0 495.0h0.8M301.1 478.9h0.8M293.0 499.6h0.8M332.7 487.1h0.8M331.0 483.9h0.8M327.1 479.7h0.8M299.1 499.4h0.8M332.9 478.4h0.8M323.9 481.7h0.8M330.2 495.2h0.8M336.4 478.5h0.8M337.3 486.4h0.8M300.9 486.3h0.8M330.9 477.3h0.8M308.3 489.6h0.8M336.7 484.4h0.8M306.4 481.9h0.8M293.4 503.8h0.8M300.2 480.2h0.8M332.0 480.4h0.8M338.8 487.8h0.8M298.6 486.5h0.8M319.8 487.9h0.8M296.0 482.7h0.8M327.0 487.6h0.8M318.7 488.2h0.8M285.9 490.7h0.8M300.3 478.1h0.8M307.7 488.7h0.8M328.9 492.0h0.8M310.5 486.6h0.8M299.4 479.6h0.8M286.4 492.2h0.8M292.6 481.5h0.8M308.7 486.6h0.8M302.5 482.8h0.8M297.4 497.7h0.8M289.7 479.2h0.8M342.8 479.6h0.8M311.4 498.1h0.8M288.6 481.8h0.8M333.4 479.1h0.8M291.0 491.6h0.8M324.6 477.5h0.8M306.4 493.6h0.8M312.0 493.2h0.8M335.8 485.9h0.8M322.5 496.0h0.8M314.9 479.3h0.8M326.2 504.9h0.8M294.3 478.8h0.8M327.1 488.5h0.8M332.8 500.7h0.8M317.8 484.1h0.8M295.0 479.2h0.8M317.3 488.3h0.8M320.6 495.8h0.8M335.1 483.9h0.8M328.1 487.0h0.8M328.4 493.3h0.8M330.2 484.4h0.8M327.0 500.7h0.8M337.3 492.3h0.8M331.7 484.9h0.8M286.4 489.0h0.8M307.8 481.6h0.8M288.5 483.0h0.8M305.7 505.6h0.8M290.7 484.2h0.8M301.4 477.7h0.8M335.1 482.5h0.8M325.6 482.2h0.8M296.7 477.9h0.8M324.0 483.6h0.8M299.3 487.1h0.8M335.4 478.6h0.8M305.7 482.8h0.8M302.1 481.0h0.8M296.2 484.7h0.8M331.0 487.6h0.8M290.2 496.3h0.8M335.2 479.7h0.8M332.5 476.8h0.8M312.3 492.1h0.8M325.3 490.5h0.8M329.0 481.7h0.8M287.6 489.4h0.8M319.8 482.2h0.8M309.5 499.3h0.8M285.1 494.7h0.8M293.4 483.3h0.8M322.6 485.0h0.8M324.7 494.3h0.8M292.9 491.0h0.8M285.7 478.0h0.8M284.5 505.8h0.8M312.7 493.3h0.8M293.9 501.0h0.8M286.9 478.6h0.8M290.2 478.8h0.8M305.5 487.4h0.8M332.0 495.0h0.8M343.2 476.8h0.8M326.7 484.3h0.8M337.7 481.4h0.8M285.5 481.9h0.8M333.6 483.2h0.8M286.5 482.7h0.8M306.3 476.2h0.8M331.1 478.0h0.8M297.7 481.7h0.8M293.2 485.9h0.8M310.3 476.6h0.8M341.1 500.8h0.8M318.4 483.9h0.8M336.9 483.8h0.8M298.4 480.3h0.8M332.6 486.4h0.8M314.7 476.9h0.8M327.9 492.1h0.8M301.1 479.1h0.8M293.0 476.1h0.8M338.8 486.5h0.8M326.3 477.5h0.8M292.0 491.7h0.8M328.1 485.1h0.8M340.5 482.3h0.8M301.7 476.3h0.8M322.9 489.3h0.8M303.6 478.2h0.8M333.2 494.5h0.8M297.7 492.7h0.8M339.1 479.8h0.8M296.1 481.4h0.8M294.5 491.4h0.8M336.7 480.1h0.8M313.3 487.1h0.8M321.7 482.6h0.8M331.0 486.1h0.8M297.4 478.6h0.8M305.5 478.8h0.8M323.4 485.6h0.8M299.1 493.3h0.8M335.3 476.1h0.8M324.2 481.6h0.8M327.3 477.2h0.8M309.1 486.9h0.8M319.0 482.8h0.8M315.7 480.2h0.8M328.6 477.4h0.8M314.6 483.2h0.8M295.8 485.6h0.8M289.2 485.2h0.8M314.7 502.7h0.8M341.2 481.9h0.8M286.0 491.8h0.8M334.5 490.6h0.8M316.1 479.3h0.8M325.6 486.2h0.8M326.6 499.0h0.8M312.0 480.0h0.8M324.3 476.8h0.8M336.5 488.7h0.8M291.7 487.1h0.8M325.9 493.7h0.8M284.1 481.2h0.8M322.6 482.1h0.8M328.3 494.3h0.8M331.7 479.7h0.8M310.5 508.0h0.8M311.7 476.1h0.8M285.7 498.2h0.8M284.3 497.7h0.8M339.5 484.4h0.8M306.3 486.2h0.8M289.6 491.9h0.8M321.8 484.6h0.8M285.7 489.0h0.8M318.6 489.7h0.8M300.8 489.5h0.8M317.8 480.8h0.8M338.8 480.6h0.8M314.7 484.6h0.8M323.8 478.8h0.8M314.1 482.6h0.8M288.3 476.0h0.8M312.5 485.9h0.8M340.2 490.0h0.8M326.9 496.3h0.8M321.5 492.5h0.8M325.9 481.5h0.8M303.8 484.5h0.8M333.9 482.7h0.8M321.7 485.2h0.8M325.4 495.9h0.8M306.2 488.6h0.8M339.4 491.8h0.8M313.2 478.4h0.8M319.1 489.2h0.8M295.3 506.4h0.8M325.4 494.6h0.8M294.3 488.2h0.8M312.8 481.8h0.8M330.2 492.2h0.8M330.0 482.4h0.8M287.3 492.3h0.8M289.8 477.2h0.8M293.5 479.2h0.8M296.0 495.7h0.8M322.1 501.7h0.8M292.0 495.2h0.8M335.9 496.3h0.8M318.2 481.0h0.8M328.3 484.8h0.8M288.7 482.7h0.8M285.5 478.9h0.8M323.1 476.2h0.8M322.7 493.2h0.8M321.9 477.4h0.8M289.9 490.9h0.8M335.0 480.5h0.8M318.0 494.3h0.8M302.2 480.9h0.8M291.3 488.1h0.8M284.5 485.1h0.8M335.3 477.2h0.8M342.4 499.1h0.8M286.6 486.3h0.8M324.1 496.9h0.8M330.4 501.1h0.8M299.3 488.5h0.8M298.1 483.0h0.8M328.8 480.5h0.8M340.0 492.9h0.8M343.1 484.3h0.8M303.9 496.5h0.8M300.0 491.8h0.8M295.9 489.9h0.8M300.4 481.2h0.8M294.5 483.5h0.8M288.5 478.2h0.8M331.9 488.6h0.8M306.4 500.2h0.8M338.7 478.6h0.8M306.1 485.5h0.8M319.8 481.0h0.8M335.1 509.5h0.8M323.4 477.6h0.8M286.7 500.4h0.8M317.0 488.0h0.8M286.8 483.4h0.8M306.8 496.1h0.8M317.6 482.2h0.8M323.6 491.5h0.8M335.1 489.9h0.8M285.9 486.5h0.8M321.3 501.1h0.8M318.4 485.2h0.8M316.7 500.4h0.8M285.0 491.3h0.8M321.2 486.5h0.8M305.7 499.0h0.8M302.3 488.3h0.8M299.6 485.5h0.8M301.7 484.0h0.8M318.7 504.5h0.8M334.3 482.7h0.8M324.5 495.0h0.8M345.7 477.6h0.8M289.9 492.3h0.8M313.7 493.0h0.8M314.6 490.0h0.8M342.1 482.8h0.8M335.2 487.9h0.8M325.5 480.2h0.8M322.9 504.1h0.8M284.8 493.0h0.8M327.0 491.5h0.8M336.4 486.4h0.8M340.9 483.2h0.8M319.7 477.9h0.8M336.4 487.4h0.8M332.4 484.2h0.8M286.1 496.7h0.8M323.0 498.8h0.8M297.7 479.8h0.8M295.4 482.5h0.8M295.8 478.5h0.8M333.6 493.2h0.8M340.8 502.8h0.8M333.6 480.4h0.8M311.9 483.3h0.8M333.3 500.8h0.8M340.1 492.7h0.8M337.5 497.5h0.8M285.2 484.2h0.8M285.0 489.0h0.8M300.6 485.4h0.8M297.8 495.4h0.8M312.1 483.0h0.8M301.2 481.6h0.8M290.5 479.6h0.8M309.4 484.5h0.8M298.0 477.5h0.8M292.2 488.6h0.8M305.2 490.5h0.8M338.1 477.7h0.8M321.7 476.6h0.8M307.3 478.2h0.8M302.3 477.7h0.8M308.7 479.1h0.8M317.2 483.5h0.8M294.8 482.9h0.8M327.3 483.8h0.8M332.0 483.5h0.8M337.1 478.1h0.8M292.7 484.8h0.8M305.8 479.3h0.8M313.3 480.8h0.8M307.1 481.0h0.8M302.1 484.2h0.8M329.7 479.0h0.8M309.7 477.1h0.8M311.5 482.3h0.8M314.2 488.6h0.8M316.6 483.6h0.8M316.2 476.1h0.8M293.4 481.8h0.8M311.6 478.9h0.8M299.7 476.2h0.8M287.6 479.3h0.8M327.9 493.3h0.8M317.5 477.1h0.8M304.1 482.6h0.8M303.2 480.5h0.8M329.5 477.6h0.8M287.1 482.9h0.8M289.9 480.2h0.8M300.0 486.9h0.8M312.3 484.1h0.8M284.2 486.9h0.8M311.4 486.7h0.8M332.8 480.4h0.8M290.4 476.1h0.8M321.2 479.8h0.8M328.3 482.4h0.8M297.6 477.4h0.8M333.4 486.3h0.8M329.9 483.9h0.8M315.3 477.5h0.8M327.0 485.1h0.8M286.5 477.2h0.8M315.2 479.3h0.8M332.4 482.3h0.8M339.3 485.1h0.8M324.8 482.9h0.8M311.3 487.5h0.8M291.8 477.9h0.8M286.1 488.0h0.8M308.0 491.3h0.8M313.2 483.5h0.8M301.1 490.0h0.8M307.3 490.4h0.8M292.2 479.1h0.8M318.9 476.0h0.8M310.6 482.2h0.8M306.8 492.4h0.8M326.8 476.7h0.8M300.4 479.3h0.8M312.1 478.7h0.8M304.4 476.2h0.8M310.0 487.7h0.8M306.4 478.2h0.8M320.4 481.3h0.8M288.0 480.1h0.8M318.2 477.3h0.8M330.8 480.4h0.8M324.1 479.3h0.8M306.2 482.1h0.8M288.9 477.3h0.8M323.8 482.6h0.8M304.3 477.8h0.8M320.2 476.2h0.8M284.6 487.8h0.8M327.6 480.2h0.8M295.3 476.2h0.8M337.2 482.9h0.8M303.1 487.1h0.8M287.5 483.2h0.8M337.0 477.7h0.8M299.2 481.7h0.8M331.7 477.1h0.8M311.5 481.6h0.8M307.7 479.1h0.8M310.7 484.5h0.8M335.5 486.9h0.8M313.1 477.9h0.8M336.5 490.5h0.8M320.2 485.2h0.8M306.7 479.6h0.8M316.2 492.2h0.8M289.2 489.1h0.8M329.3 482.6h0.8M289.8 501.9h0.8M326.5 480.9h0.8M295.2 481.8h0.8M306.0 480.4h0.8M299.3 480.2h0.8M304.5 479.8h0.8M301.4 482.4h0.8M333.5 477.7h0.8M302.4 487.3h0.8M318.0 480.1h0.8M288.5 479.5h0.8M320.7 477.9h0.8M321.3 491.1h0.8M308.9 477.0h0.8M322.9 477.2h0.8M327.1 490.6h0.8M304.9 492.0h0.8M324.5 485.6h0.8M330.2 479.6h0.8M294.8 476.1h0.8M304.3 485.0h0.8M339.8 480.7h0.8M333.9 476.5h0.8M291.5 483.8h0.8M318.7 478.9h0.8M286.0 490.2h0.8M314.7 477.5h0.8M303.4 479.8h0.8M317.5 481.1h0.8M291.2 481.5h0.8M297.4 476.7h0.8M338.9 482.4h0.8M314.8 480.2h0.8M302.0 495.2h0.8M321.0 483.2h0.8M303.5 477.2h0.8M294.4 486.8h0.8M327.6 477.0h0.8M317.7 478.7h0.8M313.6 476.1h0.8M334.5 487.7h0.8M333.7 481.7h0.8M293.7 480.9h0.8M309.1 493.3h0.8M329.9 476.4h0.8M311.0 477.3h0.8M308.5 477.4h0.8M285.2 485.4h0.8M312.8 486.1h0.8M290.5 481.8h0.8M327.3 464.6h0.8M347.9 458.4h0.8M344.5 460.2h0.8M285.3 460.0h0.8M297.8 464.0h0.8M331.8 458.9h0.8M342.5 463.5h0.8M328.0 461.2h0.8M285.7 461.5h0.8M295.7 463.9h0.8M343.6 460.6h0.8M331.1 460.3h0.8M305.5 458.5h0.8M296.9 463.2h0.8M337.6 461.0h0.8M442.7 379.4h0.8M446.6 371.2h0.8M441.8 371.5h0.8M441.0 362.7h0.8M444.6 355.2h0.8M448.5 368.2h0.8M448.8 367.5h0.8M451.0 374.6h0.8M440.1 374.9h0.8M440.0 369.1h0.8M435.2 366.6h0.8M435.6 371.3h0.8M432.5 369.0h0.8M431.9 371.5h0.8M442.3 359.6h0.8M442.3 366.6h0.8M441.3 377.3h0.8M443.3 368.9h0.8M443.0 372.4h0.8M441.1 363.1h0.8M447.5 368.5h0.8M435.5 368.6h0.8M441.2 374.0h0.8M436.7 366.7h0.8M440.2 377.4h0.8M438.9 379.0h0.8M438.0 374.0h0.8M437.9 369.1h0.8M444.8 367.5h0.8M435.8 376.3h0.8M441.0 375.5h0.8M433.6 370.5h0.8M440.4 372.8h0.8M445.9 371.5h0.8M436.8 367.8h0.8M438.3 371.2h0.8M444.9 371.1h0.8M449.4 366.0h0.8M444.8 373.3h0.8M434.8 376.5h0.8M444.6 365.3h0.8M434.8 368.0h0.8M440.3 376.1h0.8M449.7 363.6h0.8M428.1 362.7h0.8M440.8 357.1h0.8M430.6 363.3h0.8M449.5 375.3h0.8M437.5 375.3h0.8M441.5 360.5h0.8M440.8 363.5h0.8M435.2 363.2h0.8M444.2 376.2h0.8M447.0 364.1h0.8M437.3 371.9h0.8M429.2 372.1h0.8M435.0 360.3h0.8M443.1 365.6h0.8M436.9 376.8h0.8M447.2 370.2h0.8M446.7 370.6h0.8M440.4 356.6h0.8M434.9 372.1h0.8M444.4 374.9h0.8M438.2 364.9h0.8M448.7 376.6h0.8M442.0 374.1h0.8M448.2 363.4h0.8M436.3 361.5h0.8M429.6 368.3h0.8M446.0 363.9h0.8M431.3 362.4h0.8M445.7 360.6h0.8M446.8 364.5h0.8M450.5 367.5h0.8M449.8 368.6h0.8M439.3 357.8h0.8M439.2 371.5h0.8M432.7 362.5h0.8M446.9 365.3h0.8M439.9 364.3h0.8M448.0 364.7h0.8M445.4 358.8h0.8M448.1 372.5h0.8M435.6 367.9h0.8M430.7 376.5h0.8M442.3 357.2h0.8M440.1 365.9h0.8M442.3 378.3h0.8M435.3 373.0h0.8M432.2 365.7h0.8M448.5 366.6h0.8M445.9 365.0h0.8M447.5 371.3h0.8M445.7 374.2h0.8M442.3 370.5h0.8M447.2 377.6h0.8M436.0 372.5h0.8M434.0 377.4h0.8M440.2 368.0h0.8M449.9 363.0h0.8M442.8 360.4h0.8M443.6 374.3h0.8M434.1 367.5h0.8M440.5 362.4h0.8M432.5 363.0h0.8M448.8 374.5h0.8M445.1 361.6h0.8M439.9 365.7h0.8M431.0 374.3h0.8M431.1 366.7h0.8M451.9 371.4h0.8M431.1 365.9h0.8M440.6 379.0h0.8M450.9 362.9h0.8M437.9 362.7h0.8M448.7 370.4h0.8M433.5 361.9h0.8M447.4 367.2h0.8M438.7 370.6h0.8M445.0 372.4h0.8M433.9 360.0h0.8M437.0 366.2h0.8M437.9 360.5h0.8M439.1 362.2h0.8M440.2 364.4h0.8M452.1 364.9h0.8M442.5 369.3h0.8M429.3 371.3h0.8M447.9 372.4h0.8M436.5 369.7h0.8M437.3 373.5h0.8M438.4 362.5h0.8M450.8 364.7h0.8M442.8 369.0h0.8M435.5 369.1h0.8M442.9 376.8h0.8M432.9 367.1h0.8M444.9 364.6h0.8M436.4 357.6h0.8M433.9 376.0h0.8M440.0 368.6h0.8M448.8 371.7h0.8M431.6 373.9h0.8M433.4 365.4h0.8M435.5 357.5h0.8M439.4 375.5h0.8M450.6 369.0h0.8M436.8 355.1h0.8M443.2 369.4h0.8M431.4 367.4h0.8M438.8 367.2h0.8M452.7 369.1h0.8M445.8 365.9h0.8M443.1 359.3h0.8M427.6 372.0h0.8M433.1 368.7h0.8M443.6 375.8h0.8M445.9 373.9h0.8M437.4 377.1h0.8M452.4 366.7h0.8M445.4 368.1h0.8M450.6 363.5h0.8M444.5 363.5h0.8M446.5 366.5h0.8M430.9 365.5h0.8M453.1 358.8h0.8M440.3 373.1h0.8M441.7 357.8h0.8M435.9 375.8h0.8M446.2 369.8h0.8M432.2 369.7h0.8M443.5 364.5h0.8M450.9 372.7h0.8M451.8 359.5h0.8M445.0 357.9h0.8M433.4 375.1h0.8M439.5 367.8h0.8M443.6 363.8h0.8M433.2 364.7h0.8M441.5 361.1h0.8M433.6 362.7h0.8M447.8 361.4h0.8M444.8 369.4h0.8M432.9 364.9h0.8M441.4 376.3h0.8M441.4 368.9h0.8M451.6 361.1h0.8M445.7 366.9h0.8M445.5 377.2h0.8M435.5 373.0h0.8M441.4 359.8h0.8M441.6 370.3h0.8M437.8 358.1h0.8M437.8 367.1h0.8M447.5 376.9h0.8M445.0 377.1h0.8M433.8 367.6h0.8M439.4 368.8h0.8M428.9 361.8h0.8M450.2 375.2h0.8M448.3 369.4h0.8M436.5 377.1h0.8M429.1 362.4h0.8M447.8 365.9h0.8M437.0 370.4h0.8M436.9 373.7h0.8M429.4 367.3h0.8M445.7 378.6h0.8M433.7 374.1h0.8M446.5 377.7h0.8M437.0 376.3h0.8M447.2 369.4h0.8M442.9 363.6h0.8M439.2 366.2h0.8M437.8 361.0h0.8M439.6 363.1h0.8M447.1 374.9h0.8M450.0 372.0h0.8M434.0 371.4h0.8M447.2 375.3h0.8M444.8 361.2h0.8M443.2 367.5h0.8M450.1 359.6h0.8M432.8 371.4h0.8M448.1 375.5h0.8M450.2 358.6h0.8M442.4 364.7h0.8M443.1 373.1h0.8M436.4 359.5h0.8M431.1 369.5h0.8M433.5 369.4h0.8M428.6 364.4h0.8M440.3 361.6h0.8M434.0 364.2h0.8M431.1 363.6h0.8M446.1 367.3h0.8M438.4 368.2h0.8M444.4 370.2h0.8M438.8 375.1h0.8M443.0 395.9h0.8M439.4 397.4h0.8M443.5 393.6h0.8M445.6 404.9h0.8M443.5 380.8h0.8M444.9 386.3h0.8M441.6 384.6h0.8M437.4 393.0h0.8M438.3 392.7h0.8M438.0 398.3h0.8M447.2 381.5h0.8M441.3 378.2h0.8M449.6 392.8h0.8M440.2 389.1h0.8M438.9 386.4h0.8M447.5 393.1h0.8M438.2 387.1h0.8M445.6 397.1h0.8M446.6 385.7h0.8M446.7 383.8h0.8M436.4 382.4h0.8M444.4 400.3h0.8M439.5 403.7h0.8M438.4 381.6h0.8M438.9 380.4h0.8M446.4 401.0h0.8M439.0 395.2h0.8M441.6 393.8h0.8M440.1 402.9h0.8M438.3 403.2h0.8M444.9 388.0h0.8M441.6 379.3h0.8M434.8 394.1h0.8M444.2 391.4h0.8M442.1 398.2h0.8M445.3 399.2h0.8M447.6 398.0h0.8M447.0 393.1h0.8M438.3 393.8h0.8M444.2 392.5h0.8M445.5 380.3h0.8M436.4 381.4h0.8M448.6 391.5h0.8M443.5 387.1h0.8M438.2 389.0h0.8M439.8 390.4h0.8M446.0 405.2h0.8M437.7 398.2h0.8M441.9 385.2h0.8M443.6 399.3h0.8M442.1 380.4h0.8M442.8 385.9h0.8M445.1 403.2h0.8M445.2 387.0h0.8M445.1 385.6h0.8M445.9 382.1h0.8M437.2 390.4h0.8M436.4 391.7h0.8M440.1 388.2h0.8M446.2 398.5h0.8M437.8 394.1h0.8M442.2 390.0h0.8M444.6 387.3h0.8M445.0 399.3h0.8M446.7 389.1h0.8M442.4 394.1h0.8M442.1 381.2h0.8M438.2 405.0h0.8M449.4 381.1h0.8M439.9 388.9h0.8M442.9 387.9h0.8M446.7 384.5h0.8M436.6 384.9h0.8M448.9 386.1h0.8M436.6 390.1h0.8M447.7 387.7h0.8M448.1 398.1h0.8M440.7 380.4h0.8M450.6 395.6h0.8M442.7 404.8h0.8M442.3 407.3h0.8M436.6 393.8h0.8M445.9 383.4h0.8M436.0 395.4h0.8M442.2 382.0h0.8M447.3 394.8h0.8M431.4 388.5h0.8M445.3 393.0h0.8M443.4 397.8h0.8M443.9 400.5h0.8M445.9 381.3h0.8M440.4 397.0h0.8M446.5 403.7h0.8M439.7 379.9h0.8M441.1 399.1h0.8M446.6 402.9h0.8M442.5 383.2h0.8M445.3 401.7h0.8M439.2 389.5h0.8M446.7 396.8h0.8M439.7 401.1h0.8M435.0 387.4h0.8M446.7 399.3h0.8M434.9 398.8h0.8M435.7 391.6h0.8M447.8 389.9h0.8M443.3 377.4h0.8M440.6 396.5h0.8M439.4 392.5h0.8M439.9 391.4h0.8M438.9 384.7h0.8M447.4 383.2h0.8M443.8 398.7h0.8M442.1 406.2h0.8M441.9 383.1h0.8M445.7 387.0h0.8M442.0 384.6h0.8M447.3 392.0h0.8M448.0 396.8h0.8M439.2 382.6h0.8M442.9 395.0h0.8M440.0 407.3h0.8M433.6 401.2h0.8M444.4 405.8h0.8M445.9 394.6h0.8M439.2 396.5h0.8M437.2 386.9h0.8M436.3 392.8h0.8M446.3 379.6h0.8M435.3 393.8h0.8M443.7 382.7h0.8M439.5 378.7h0.8M438.5 406.6h0.8M448.1 397.2h0.8M447.3 396.1h0.8M438.9 382.6h0.8M434.3 386.5h0.8M449.8 385.9h0.8M448.5 387.9h0.8M450.4 392.6h0.8M438.8 388.4h0.8M434.9 392.0h0.8M436.8 402.4h0.8M446.2 387.5h0.8M451.4 394.3h0.8M441.7 381.7h0.8M437.7 402.4h0.8M443.0 389.0h0.8M434.2 393.0h0.8M437.1 392.1h0.8M441.8 395.1h0.8M436.7 394.8h0.8M441.0 383.4h0.8M446.6 405.8h0.8M442.3 400.6h0.8M446.8 390.8h0.8M442.7 408.0h0.8M450.8 390.6h0.8M440.8 392.1h0.8M437.3 403.5h0.8M440.6 395.0h0.8M436.8 380.1h0.8M442.1 399.6h0.8M439.9 399.8h0.8M447.7 388.0h0.8M450.2 391.5h0.8M436.6 379.7h0.8M445.3 398.9h0.8M441.3 396.6h0.8M453.3 396.2h0.8M447.9 391.4h0.8M434.9 383.6h0.8M446.3 394.5h0.8M433.0 399.3h0.8M431.7 378.4h0.8M436.8 385.2h0.8M450.2 386.0h0.8M436.7 397.1h0.8M444.5 398.2h0.8M435.1 395.0h0.8M430.5 397.5h0.8M440.5 398.0h0.8M447.5 386.0h0.8M449.3 395.1h0.8M433.2 385.5h0.8M434.7 388.6h0.8M444.5 407.7h0.8M441.0 398.9h0.8M443.3 406.6h0.8M442.7 391.8h0.8M435.3 384.4h0.8M448.7 382.3h0.8M447.2 379.1h0.8M434.9 397.1h0.8M441.8 388.5h0.8M435.4 394.2h0.8M442.9 396.3h0.8M441.4 400.8h0.8M443.3 407.6h0.8M447.8 390.8h0.8M445.4 395.5h0.8M445.5 388.3h0.8M433.7 394.5h0.8M444.3 394.5h0.8M436.2 400.9h0.8M433.8 391.2h0.8M444.8 397.0h0.8M437.2 396.4h0.8M441.1 401.0h0.8M451.6 396.9h0.8M444.6 385.1h0.8M435.4 388.1h0.8M449.3 394.4h0.8M440.0 400.1h0.8M441.2 398.0h0.8M435.6 397.2h0.8M452.7 392.1h0.8M440.8 393.7h0.8M437.9 384.1h0.8M445.4 375.9h0.8M435.3 389.9h0.8M440.3 390.2h0.8M437.1 399.2h0.8M439.1 393.6h0.8M439.5 385.6h0.8M437.7 382.8h0.8M438.3 397.0h0.8M449.1 399.9h0.8M442.6 401.1h0.8M434.6 381.3h0.8M440.8 405.2h0.8M458.5 389.3h0.8M450.4 384.3h0.8M427.4 367.1h0.8M426.2 388.5h0.8M418.6 399.5h0.8M454.7 391.2h0.8M449.8 383.2h0.8M437.6 385.5h0.8M443.0 387.0h0.8M457.5 363.2h0.8M436.7 375.6h0.8M436.6 371.7h0.8M453.1 390.6h0.8M454.1 399.9h0.8M455.5 376.3h0.8M430.2 383.0h0.8M455.7 378.6h0.8M433.7 372.5h0.8M430.2 374.7h0.8M430.2 368.5h0.8M449.5 357.3h0.8M446.1 359.4h0.8M441.1 409.0h0.8M429.6 379.8h0.8M442.3 354.9h0.8M455.2 389.6h0.8M460.4 389.9h0.8M444.9 381.1h0.8M424.2 367.1h0.8M423.6 378.8h0.8M432.7 385.4h0.8M436.4 378.7h0.8M448.3 401.5h0.8M456.8 370.7h0.8M446.5 392.8h0.8M446.0 388.8h0.8M436.7 384.0h0.8M449.3 382.0h0.8M417.5 375.4h0.8M446.3 401.6h0.8M448.0 382.2h0.8M433.1 380.8h0.8M440.8 401.8h0.8M442.1 377.9h0.8M460.6 385.3h0.8M428.0 364.4h0.8M447.8 386.0h0.8M435.4 382.3h0.8M460.2 367.5h0.8M458.4 373.9h0.8M453.8 400.1h0.8M447.5 397.2h0.8M432.9 383.4h0.8M438.6 376.0h0.8M455.4 359.0h0.8M439.4 387.7h0.8M429.7 365.6h0.8M454.1 389.5h0.8M424.4 380.8h0.8M447.2 378.4h0.8M454.6 376.3h0.8M449.4 376.8h0.8M434.5 390.2h0.8M433.9 378.8h0.8M441.7 345.9h0.8M444.9 390.4h0.8M438.4 385.8h0.8M435.4 379.4h0.8M431.0 393.3h0.8M430.5 382.2h0.8M440.0 366.8h0.8M457.3 390.2h0.8M433.2 381.0h0.8M426.2 366.6h0.8M439.5 376.4h0.8M448.6 395.3h0.8M453.6 401.5h0.8M426.3 379.2h0.8M443.2 371.5h0.8M440.2 381.3h0.8M423.3 377.2h0.8M432.5 393.3h0.8M429.3 392.3h0.8M422.7 370.4h0.8M456.3 390.6h0.8M453.3 387.6h0.8M437.3 356.5h0.8M437.7 389.1h0.8M434.0 365.3h0.8M423.6 389.9h0.8M449.3 345.3h0.8M454.8 380.7h0.8M447.4 363.0h0.8M432.7 381.5h0.8M419.0 386.2h0.8M456.7 380.0h0.8M438.7 383.7h0.8M429.8 402.2h0.8M446.8 408.5h0.8M429.3 376.6h0.8M427.0 377.4h0.8M432.1 375.4h0.8M439.5 380.0h0.8M437.7 374.2h0.8M432.4 384.7h0.8M459.1 379.5h0.8M423.1 364.5h0.8M433.4 377.2h0.8M446.5 406.7h0.8M449.7 384.9h0.8M424.3 371.7h0.8M452.8 401.9h0.8M422.0 368.7h0.8M426.9 370.5h0.8M424.3 374.2h0.8M429.8 364.8h0.8M428.7 371.3h0.8M421.6 374.8h0.8M426.9 364.0h0.8M425.5 367.5h0.8M418.0 372.8h0.8M428.6 378.3h0.8M428.2 365.9h0.8M431.2 358.6h0.8M415.9 372.3h0.8M426.7 376.3h0.8M426.3 378.0h0.8M428.5 383.9h0.8M422.2 369.1h0.8M426.5 365.3h0.8M428.6 366.4h0.8M431.0 386.4h0.8M423.3 379.3h0.8M423.9 365.0h0.8M429.5 369.8h0.8M431.5 380.3h0.8M432.2 376.5h0.8M426.7 383.1h0.8M427.5 363.0h0.8M425.1 361.5h0.8M425.2 368.6h0.8M432.0 377.4h0.8M432.8 388.9h0.8M429.3 370.7h0.8M429.0 385.7h0.8M425.1 369.2h0.8M420.8 360.7h0.8M427.0 375.0h0.8M472.6 369.9h0.8M472.8 365.6h0.8M473.6 366.7h0.8M479.3 369.1h0.8M478.3 370.2h0.8M471.1 370.3h0.8M481.9 365.1h0.8M469.2 369.6h0.8M478.2 363.9h0.8M464.4 370.3h0.8M476.5 366.7h0.8M474.8 364.3h0.8M462.6 369.5h0.8M459.2 364.1h0.8M471.9 363.1h0.8M471.0 369.5h0.8M468.3 368.5h0.8M477.3 370.5h0.8M465.3 362.3h0.8M458.9 371.8h0.8M469.4 364.1h0.8M481.5 368.7h0.8M477.9 364.0h0.8M479.0 368.4h0.8M479.7 368.8h0.8M463.0 370.3h0.8M458.1 369.3h0.8M466.3 368.6h0.8M463.1 368.9h0.8M464.0 365.7h0.8M466.6 374.0h0.8M466.2 363.4h0.8M468.9 371.9h0.8M469.4 368.7h0.8M470.5 360.1h0.8M475.7 366.1h0.8M470.5 363.3h0.8M467.8 368.6h0.8M459.0 370.7h0.8M477.6 364.0h0.8M475.5 365.9h0.8M473.8 363.1h0.8M464.0 364.7h0.8M458.8 366.8h0.8M461.8 368.8h0.8M471.9 367.6h0.8M462.7 366.4h0.8M478.7 372.0h0.8M466.6 369.6h0.8M464.7 363.5h0.8M475.6 371.7h0.8M480.7 370.1h0.8M478.1 371.2h0.8M476.1 371.2h0.8M475.7 368.5h0.8M463.3 369.3h0.8M475.9 367.3h0.8M472.8 373.0h0.8M469.0 369.6h0.8M466.7 370.4h0.8M480.1 362.2h0.8M479.3 363.4h0.8M465.0 361.4h0.8M480.8 366.0h0.8M478.1 362.9h0.8M459.2 367.8h0.8M477.5 365.4h0.8M467.2 364.4h0.8M469.5 366.3h0.8M467.3 376.4h0.8M469.7 367.7h0.8M463.2 370.0h0.8M468.3 364.1h0.8M463.6 363.5h0.8M456.8 371.6h0.8M461.0 372.2h0.8M470.6 361.2h0.8M474.8 373.8h0.8M464.6 364.3h0.8M465.1 367.9h0.8M474.7 365.7h0.8M471.0 371.2h0.8M478.1 365.0h0.8M473.1 367.3h0.8M477.2 368.1h0.8M464.3 366.6h0.8M472.2 367.7h0.8M475.6 364.4h0.8M470.3 370.4h0.8M464.4 371.5h0.8M474.3 370.4h0.8M470.8 364.1h0.8M461.7 360.8h0.8M469.3 370.8h0.8M480.8 364.6h0.8M459.3 371.0h0.8M468.0 369.0h0.8M468.1 374.5h0.8M479.5 366.4h0.8M461.7 367.8h0.8M468.9 363.5h0.8M464.3 369.0h0.8M466.1 366.8h0.8M467.4 372.7h0.8M468.8 366.6h0.8M471.7 371.3h0.8M474.5 369.7h0.8M464.7 368.9h0.8M477.9 369.3h0.8M462.8 371.0h0.8M464.0 367.6h0.8M458.7 367.8h0.8M465.2 368.1h0.8M465.2 374.9h0.8M488.5 376.9h0.8M472.3 378.5h0.8M461.6 371.3h0.8M468.4 367.5h0.8M464.8 380.4h0.8M475.1 377.1h0.8M474.0 376.3h0.8M459.0 375.8h0.8M484.7 364.6h0.8M470.7 368.5h0.8M470.8 374.8h0.8M472.6 362.4h0.8M470.3 372.8h0.8M461.9 364.5h0.8M465.5 386.4h0.8M458.4 377.1h0.8M477.8 373.9h0.8M466.8 349.1h0.8M466.3 383.1h0.8M467.6 385.2h0.8M476.6 380.5h0.8M464.0 361.4h0.8M494.1 359.6h0.8M483.8 375.5h0.8M475.3 394.1h0.8M482.7 369.5h0.8M462.6 372.6h0.8M477.9 371.6h0.8M467.8 379.6h0.8M446.0 372.7h0.8M490.7 372.7h0.8M481.5 367.9h0.8M479.0 377.2h0.8M464.2 388.9h0.8M469.7 361.8h0.8M467.4 360.2h0.8M473.6 370.5h0.8M472.8 366.1h0.8M486.4 374.1h0.8M459.1 362.8h0.8M477.0 358.2h0.8M464.1 375.9h0.8M493.3 365.6h0.8M468.9 360.7h0.8M467.5 363.7h0.8M470.4 397.6h0.8M469.9 375.5h0.8M467.6 371.4h0.8M460.7 379.0h0.8M443.3 378.3h0.8M469.3 372.2h0.8M485.0 378.5h0.8M469.2 388.1h0.8M472.7 398.2h0.8M473.1 389.0h0.8M472.0 383.7h0.8M468.2 387.0h0.8M479.0 392.3h0.8M474.5 397.7h0.8M462.0 387.5h0.8M474.6 390.2h0.8M479.7 388.1h0.8M472.0 388.4h0.8M478.8 391.1h0.8M475.4 378.1h0.8M466.8 389.0h0.8M462.2 394.5h0.8M478.2 389.3h0.8M468.7 383.1h0.8M470.7 381.2h0.8M460.9 388.2h0.8M475.7 391.9h0.8M466.1 385.5h0.8M453.0 409.8h0.8M452.0 404.0h0.8M452.0 396.8h0.8M490.9 350.6h0.8M486.5 363.1h0.8M490.1 400.6h0.8M415.9 353.4h0.8M451.4 349.8h0.8M482.9 373.6h0.8M442.1 475.1h0.8M443.2 464.8h0.8M442.2 463.0h0.8M438.1 460.2h0.8M450.5 467.9h0.8M438.4 469.9h0.8M448.6 471.8h0.8M440.5 471.1h0.8M451.1 468.9h0.8M440.8 462.4h0.8M437.7 459.4h0.8M440.8 466.3h0.8M435.6 473.2h0.8M445.7 462.0h0.8M446.5 474.0h0.8M441.5 457.7h0.8M446.2 464.6h0.8M444.7 464.6h0.8M439.9 472.4h0.8M441.7 458.4h0.8M443.2 468.2h0.8M443.8 469.6h0.8M447.4 468.9h0.8M443.6 455.1h0.8M441.3 474.4h0.8M434.7 463.0h0.8M445.0 471.4h0.8M438.9 472.6h0.8M447.2 461.1h0.8M444.5 475.9h0.8M442.0 464.0h0.8M443.7 471.4h0.8M445.6 475.6h0.8M447.1 471.9h0.8M441.7 464.1h0.8M447.4 470.3h0.8M448.8 463.3h0.8M442.4 470.2h0.8M440.3 465.9h0.8M439.1 469.8h0.8M439.9 467.4h0.8M438.6 465.0h0.8M442.8 462.9h0.8M444.9 460.3h0.8M449.3 467.4h0.8M450.3 461.7h0.8M441.2 471.1h0.8M445.1 468.5h0.8M447.0 468.0h0.8M441.4 472.5h0.8M443.7 462.6h0.8M444.6 459.5h0.8M438.6 468.9h0.8M454.0 467.2h0.8M438.7 465.9h0.8M441.6 468.8h0.8M444.6 473.2h0.8M436.6 460.0h0.8M436.8 466.3h0.8M438.3 459.2h0.8M444.7 471.0h0.8M446.2 457.5h0.8M436.5 474.0h0.8M439.8 461.5h0.8M446.5 469.1h0.8M438.4 473.8h0.8M448.1 465.8h0.8M441.6 460.1h0.8M442.4 458.2h0.8M440.0 475.1h0.8M446.7 460.2h0.8M441.0 472.7h0.8M450.4 470.8h0.8M436.4 465.4h0.8M447.5 473.9h0.8M445.4 470.5h0.8M441.8 469.6h0.8M446.6 461.3h0.8M446.6 459.9h0.8M432.6 460.6h0.8M448.5 466.1h0.8M445.9 465.1h0.8M440.5 468.4h0.8M439.8 473.5h0.8M437.9 460.1h0.8M436.2 457.3h0.8M443.9 458.2h0.8M440.7 457.6h0.8M446.2 472.8h0.8M440.1 456.2h0.8M439.1 464.9h0.8M449.7 465.4h0.8M441.0 473.9h0.8M434.5 460.6h0.8M440.6 463.2h0.8M439.2 465.7h0.8M446.7 471.7h0.8M449.8 473.1h0.8M447.8 465.4h0.8M434.9 462.3h0.8M445.8 475.0h0.8M445.3 457.7h0.8M452.6 462.3h0.8M448.4 458.9h0.8M442.7 460.7h0.8M450.7 473.4h0.8M447.4 460.8h0.8M439.0 468.9h0.8M440.6 459.0h0.8M433.3 464.3h0.8M450.5 458.6h0.8M449.4 470.2h0.8M447.2 463.0h0.8M448.0 472.1h0.8M440.2 469.3h0.8M442.6 467.4h0.8M442.9 469.1h0.8M438.0 469.2h0.8M443.7 467.2h0.8M435.6 464.0h0.8M450.4 463.2h0.8M441.6 465.9h0.8M435.9 471.2h0.8M448.7 462.8h0.8M441.0 459.8h0.8M448.0 462.5h0.8M445.4 464.2h0.8M447.5 457.0h0.8M445.4 467.2h0.8M435.8 470.7h0.8M449.8 458.5h0.8M444.3 461.6h0.8M450.4 462.3h0.8M444.1 458.7h0.8M444.6 468.7h0.8M448.9 470.1h0.8M438.0 470.3h0.8M443.4 463.5h0.8M435.8 460.2h0.8M437.9 472.0h0.8M437.8 466.3h0.8M446.2 470.8h0.8M447.1 469.0h0.8M447.5 467.1h0.8M448.5 461.7h0.8M451.2 469.3h0.8M437.7 461.1h0.8M445.3 473.7h0.8M439.2 460.1h0.8M447.4 459.7h0.8M432.9 468.8h0.8M451.4 465.9h0.8M452.1 465.5h0.8M449.2 472.8h0.8M435.2 459.2h0.8M434.5 465.8h0.8M449.5 469.0h0.8M439.2 466.5h0.8M448.6 474.4h0.8M436.0 465.3h0.8M450.3 468.3h0.8M437.5 471.3h0.8M436.7 467.3h0.8M443.4 470.4h0.8M449.0 474.5h0.8M450.7 466.1h0.8M442.3 466.5h0.8M430.8 465.9h0.8M448.2 467.7h0.8M440.1 467.9h0.8M445.2 472.8h0.8M443.0 472.3h0.8M443.8 476.8h0.8M442.8 468.6h0.8M434.5 468.5h0.8M436.1 469.4h0.8M441.6 467.6h0.8M435.6 462.5h0.8M436.0 467.2h0.8M444.4 471.8h0.8M437.4 463.3h0.8M447.5 464.2h0.8M444.5 469.8h0.8M444.9 465.5h0.8M446.5 463.8h0.8M436.7 464.4h0.8M441.6 455.4h0.8M439.4 463.0h0.8M437.5 465.9h0.8M443.0 459.2h0.8M431.3 468.7h0.8M434.8 470.5h0.8M445.2 466.4h0.8M432.4 464.6h0.8M446.3 462.7h0.8M443.4 472.6h0.8M450.6 464.9h0.8M443.1 460.0h0.8M438.7 461.7h0.8M441.9 470.0h0.8M443.3 466.1h0.8M450.2 465.3h0.8M435.3 463.2h0.8M449.6 471.8h0.8M434.7 459.6h0.8M437.3 467.1h0.8M442.6 453.0h0.8M433.6 470.1h0.8M439.8 470.9h0.8M444.7 472.9h0.8M443.2 474.1h0.8M440.6 474.0h0.8M438.8 471.8h0.8M439.7 471.6h0.8M447.3 477.1h0.8M434.1 466.0h0.8M446.9 468.1h0.8M461.4 448.9h0.8M444.6 455.5h0.8M436.7 456.8h0.8M437.2 445.5h0.8M442.5 474.5h0.8M455.9 472.4h0.8M438.1 454.8h0.8M432.6 463.9h0.8M425.9 455.0h0.8M457.5 464.0h0.8M442.5 450.6h0.8M432.7 477.4h0.8M428.4 478.9h0.8M453.0 466.2h0.8M448.2 451.8h0.8M428.4 463.9h0.8M432.7 469.5h0.8M428.8 467.0h0.8M451.2 473.2h0.8M436.7 472.5h0.8M439.2 479.3h0.8M433.3 472.7h0.8M420.2 472.3h0.8M431.0 471.9h0.8M441.5 479.6h0.8M451.1 453.7h0.8M454.5 477.0h0.8M424.5 479.3h0.8M435.9 478.2h0.8M433.3 467.6h0.8M438.1 475.6h0.8M455.9 470.2h0.8M447.7 455.7h0.8M419.3 468.5h0.8M442.8 484.4h0.8M422.2 476.4h0.8M435.0 458.5h0.8M443.1 476.0h0.8M428.0 468.7h0.8M456.7 455.5h0.8M445.0 481.6h0.8M428.2 483.9h0.8M429.8 472.6h0.8M443.0 456.8h0.8M445.6 478.1h0.8M440.7 484.3h0.8M440.9 476.5h0.8M451.1 463.9h0.8M437.1 474.0h0.8M429.3 475.6h0.8M431.6 480.5h0.8M439.9 457.3h0.8M441.3 475.7h0.8M445.2 485.4h0.8M449.9 482.4h0.8M443.5 465.2h0.8M440.1 452.4h0.8M446.5 455.0h0.8M453.9 463.2h0.8M449.4 457.1h0.8M433.2 462.0h0.8M452.5 463.4h0.8M454.1 468.6h0.8M431.6 478.3h0.8M439.6 459.7h0.8M431.9 466.1h0.8M445.9 456.1h0.8M437.6 475.8h0.8M447.6 454.2h0.8M462.7 474.8h0.8M440.8 470.9h0.8M446.9 467.0h0.8M448.1 473.5h0.8M452.8 477.1h0.8M445.0 477.6h0.8M440.6 453.3h0.8M426.1 458.1h0.8M436.3 468.7h0.8M460.4 488.1h0.8M420.7 459.6h0.8M453.0 475.9h0.8M449.0 460.1h0.8M444.7 466.8h0.8M442.6 454.8h0.8M431.5 469.5h0.8M432.4 466.1h0.8M444.7 477.0h0.8M452.5 451.9h0.8M429.8 457.0h0.8M429.6 457.4h0.8M427.5 457.5h0.8M446.1 478.7h0.8M433.5 458.1h0.8M434.6 474.4h0.8M453.2 482.8h0.8M443.8 454.2h0.8M457.5 461.3h0.8M455.4 466.5h0.8M453.1 460.0h0.8M450.0 476.2h0.8M443.1 456.6h0.8M433.9 477.1h0.8M425.6 462.0h0.8M439.6 458.8h0.8M433.0 474.5h0.8M427.8 465.2h0.8M442.4 471.6h0.8M440.5 464.8h0.8M433.8 460.3h0.8M428.5 474.7h0.8M431.7 462.6h0.8M445.7 481.9h0.8M451.8 486.3h0.8M452.1 470.8h0.8M449.7 463.1h0.8M450.2 457.9h0.8M442.7 497.2h0.8M428.9 472.4h0.8M463.7 470.4h0.8M434.2 469.5h0.8M430.3 466.9h0.8M440.4 485.3h0.8M436.2 494.7h0.8M442.7 477.0h0.8M439.6 500.2h0.8M444.7 493.5h0.8M442.7 490.7h0.8M437.6 482.0h0.8M442.9 502.2h0.8M432.5 491.4h0.8M443.8 482.3h0.8M442.5 483.1h0.8M449.2 493.6h0.8M437.6 478.6h0.8M438.5 498.8h0.8M434.2 479.6h0.8M441.8 487.6h0.8M476.1 466.0h0.8M473.4 462.7h0.8M475.4 457.2h0.8M479.0 464.3h0.8M467.5 463.6h0.8M469.7 463.0h0.8M472.9 466.4h0.8M475.4 467.6h0.8M462.2 459.5h0.8M478.7 461.4h0.8M475.4 468.8h0.8M470.7 469.1h0.8M461.0 471.4h0.8M477.7 466.4h0.8M471.3 456.1h0.8M469.4 456.4h0.8M462.3 465.6h0.8M482.6 463.4h0.8M475.2 464.5h0.8M480.0 461.2h0.8M480.9 464.9h0.8M482.8 467.8h0.8M475.5 466.1h0.8M460.5 462.4h0.8M466.5 469.1h0.8M456.5 468.0h0.8M467.5 464.7h0.8M472.9 469.9h0.8M478.1 462.7h0.8M481.3 464.5h0.8M461.7 467.1h0.8M465.1 459.8h0.8M477.7 461.6h0.8M477.3 462.7h0.8M478.9 468.4h0.8M466.4 468.5h0.8M483.7 464.0h0.8M460.9 463.6h0.8M471.3 460.3h0.8M471.8 468.5h0.8M480.0 462.6h0.8M467.8 469.1h0.8M478.7 464.1h0.8M471.7 465.7h0.8M479.7 465.3h0.8M474.3 465.4h0.8M484.3 466.5h0.8M462.4 464.1h0.8M477.6 467.5h0.8M468.9 468.4h0.8M468.3 458.5h0.8M465.7 464.1h0.8M477.5 469.3h0.8M471.0 462.5h0.8M477.0 461.7h0.8M466.5 464.7h0.8M477.7 454.6h0.8M470.7 470.6h0.8M479.4 463.7h0.8M462.1 468.7h0.8M469.5 462.5h0.8M468.7 472.2h0.8M465.7 470.9h0.8M470.9 467.8h0.8M472.5 459.8h0.8M477.5 472.1h0.8M466.9 461.2h0.8M485.4 473.2h0.8M488.9 459.3h0.8M463.0 464.5h0.8M481.9 463.9h0.8M456.4 471.9h0.8M488.0 460.7h0.8M481.3 468.1h0.8M478.5 474.2h0.8M475.8 469.6h0.8M461.2 469.4h0.8M473.8 455.2h0.8M468.6 465.5h0.8M476.6 459.7h0.8M463.5 453.7h0.8M455.2 474.9h0.8M462.6 469.6h0.8M461.9 457.4h0.8M479.7 466.6h0.8M477.9 458.1h0.8M489.8 476.6h0.8M473.1 459.5h0.8M468.1 443.8h0.8M433.1 463.1h0.8M486.0 469.3h0.8M467.6 481.9h0.8M464.1 457.9h0.8M466.1 451.1h0.8M420.5 487.5h0.8M413.9 444.2h0.8M475.3 454.8h0.8M464.0 501.8h0.8M473.4 485.4h0.8M462.0 497.1h0.8M417.0 475.2h0.8M466.4 488.8h0.8M443.6 562.6h0.8M448.7 554.3h0.8M451.0 565.6h0.8M441.7 570.4h0.8M442.5 557.6h0.8M440.7 565.4h0.8M437.9 566.6h0.8M440.2 561.0h0.8M433.3 558.9h0.8M443.1 549.5h0.8M449.2 553.8h0.8M432.9 557.4h0.8M447.2 549.6h0.8M442.1 550.4h0.8M432.9 556.0h0.8M441.5 558.3h0.8M448.3 553.5h0.8M450.0 558.9h0.8M443.7 564.4h0.8M448.7 562.8h0.8M435.5 556.4h0.8M442.1 554.3h0.8M436.6 551.6h0.8M440.2 571.1h0.8M441.5 564.6h0.8M434.9 564.5h0.8M441.3 566.6h0.8M441.1 556.1h0.8M434.4 559.5h0.8M442.0 555.1h0.8M431.9 567.8h0.8M449.1 555.3h0.8M442.6 556.5h0.8M449.8 563.3h0.8M437.9 568.7h0.8M432.4 568.7h0.8M442.6 552.5h0.8M450.3 555.2h0.8M435.2 565.9h0.8M440.5 562.6h0.8M436.9 562.4h0.8M447.8 553.1h0.8M451.0 556.3h0.8M446.3 556.4h0.8M434.2 560.6h0.8M441.0 558.6h0.8M451.6 562.6h0.8M447.6 551.4h0.8M434.3 563.0h0.8M441.6 566.0h0.8M449.8 559.9h0.8M449.5 557.4h0.8M444.4 569.3h0.8M436.1 568.5h0.8M443.2 569.9h0.8M439.1 562.4h0.8M432.6 560.6h0.8M447.0 564.3h0.8M440.4 553.4h0.8M435.9 553.0h0.8M446.5 562.8h0.8M435.0 563.4h0.8M448.0 552.9h0.8M443.9 555.6h0.8M448.5 552.9h0.8M453.3 556.5h0.8M435.2 564.5h0.8M449.7 564.5h0.8M438.8 567.5h0.8M449.2 554.6h0.8M445.0 553.6h0.8M433.1 554.9h0.8M444.9 558.1h0.8M443.5 553.4h0.8M437.7 562.4h0.8M433.3 561.1h0.8M437.9 552.3h0.8M443.7 565.4h0.8M445.1 566.2h0.8M445.1 564.6h0.8M446.4 557.8h0.8M438.3 562.3h0.8M441.1 547.7h0.8M445.2 554.4h0.8M437.7 559.9h0.8M445.4 560.8h0.8M439.7 567.1h0.8M436.7 554.2h0.8M440.5 555.5h0.8M437.1 568.0h0.8M446.1 570.5h0.8M438.0 562.0h0.8M443.8 554.6h0.8M449.1 569.3h0.8M447.2 561.7h0.8M449.2 566.9h0.8M442.3 561.2h0.8M436.0 566.1h0.8M435.6 555.6h0.8M453.1 552.7h0.8M439.3 554.9h0.8M443.5 551.8h0.8M439.6 566.2h0.8M445.2 552.1h0.8M441.7 562.0h0.8M439.6 550.8h0.8M436.5 561.0h0.8M437.3 558.8h0.8M449.1 550.7h0.8M444.2 562.7h0.8M438.8 568.3h0.8M449.6 560.3h0.8M440.6 567.0h0.8M435.2 554.1h0.8M446.4 560.2h0.8M445.0 554.8h0.8M441.2 557.7h0.8M451.9 559.3h0.8M441.7 560.4h0.8M439.9 569.8h0.8M444.8 555.7h0.8M444.1 563.7h0.8M435.4 571.2h0.8M442.0 569.5h0.8M447.0 561.9h0.8M445.8 568.9h0.8M435.8 551.7h0.8M445.0 559.3h0.8M437.7 553.1h0.8M436.8 564.6h0.8M441.2 559.8h0.8M438.0 571.4h0.8M445.9 557.3h0.8M447.1 569.4h0.8M449.2 562.8h0.8M438.8 558.0h0.8M434.3 567.9h0.8M431.4 551.8h0.8M446.6 563.4h0.8M447.8 564.3h0.8M439.9 551.3h0.8M442.8 567.9h0.8M436.3 567.8h0.8M448.1 561.6h0.8M432.9 559.4h0.8M432.6 563.0h0.8M442.9 555.7h0.8M434.9 555.8h0.8M441.3 568.7h0.8M447.2 556.2h0.8M430.4 555.5h0.8M444.4 549.6h0.8M445.3 556.6h0.8M450.2 557.3h0.8M437.3 565.6h0.8M435.5 560.5h0.8M445.9 570.8h0.8M449.0 548.3h0.8M443.7 557.3h0.8M442.5 560.2h0.8M442.2 551.6h0.8M429.8 564.1h0.8M441.2 562.6h0.8M451.6 557.6h0.8M433.5 564.4h0.8M433.7 556.3h0.8M450.7 563.1h0.8M450.0 560.4h0.8M435.0 567.1h0.8M450.5 562.0h0.8M440.9 552.7h0.8M445.8 567.7h0.8M435.9 568.1h0.8M445.6 552.0h0.8M450.9 566.4h0.8M451.0 563.1h0.8M452.4 559.4h0.8M448.3 560.1h0.8M440.7 568.4h0.8M442.7 559.1h0.8M439.3 568.5h0.8M438.9 554.0h0.8M440.7 564.4h0.8M443.3 563.8h0.8M441.6 553.8h0.8M435.8 559.2h0.8M438.6 572.0h0.8M448.7 559.4h0.8M440.8 563.8h0.8M438.9 565.7h0.8M440.2 571.0h0.8M448.9 566.5h0.8M442.9 564.3h0.8M441.4 563.4h0.8M439.5 547.4h0.8M450.1 558.6h0.8M446.4 572.7h0.8M439.4 558.2h0.8M444.2 570.6h0.8M449.0 567.9h0.8M444.3 571.6h0.8M441.4 550.0h0.8M434.6 565.9h0.8M433.1 567.6h0.8M436.6 569.2h0.8M443.1 568.4h0.8M437.3 564.8h0.8M451.7 560.3h0.8M437.6 556.0h0.8M445.8 555.5h0.8M443.6 552.8h0.8M448.2 564.9h0.8M442.8 569.8h0.8M443.9 558.4h0.8M445.7 550.6h0.8M436.5 556.7h0.8M438.5 570.5h0.8M444.4 565.4h0.8M448.5 568.7h0.8M440.1 559.6h0.8M443.2 550.3h0.8M446.3 573.1h0.8M449.0 561.9h0.8M449.3 556.9h0.8M446.7 571.9h0.8M439.4 552.7h0.8M438.2 559.2h0.8M443.2 561.6h0.8M435.2 557.9h0.8M448.4 569.8h0.8M447.3 567.1h0.8M441.2 567.8h0.8M440.9 569.7h0.8M444.1 564.3h0.8M436.4 565.0h0.8M434.6 558.1h0.8M439.1 564.0h0.8M444.7 560.2h0.8M436.9 557.4h0.8M440.3 556.2h0.8M439.2 559.1h0.8M439.7 560.9h0.8M433.1 566.3h0.8M447.6 557.9h0.8M438.7 563.3h0.8M442.2 563.0h0.8M445.1 563.8h0.8M446.8 554.6h0.8M445.2 558.5h0.8M437.8 561.4h0.8M450.4 564.7h0.8M446.5 553.4h0.8M440.5 572.3h0.8M443.7 574.9h0.8M452.1 589.2h0.8M442.7 577.2h0.8M435.4 588.6h0.8M440.4 578.4h0.8M439.4 581.5h0.8M446.1 588.0h0.8M442.7 586.0h0.8M438.0 594.4h0.8M449.3 584.0h0.8M447.0 577.3h0.8M436.4 581.8h0.8M446.0 584.4h0.8M437.9 582.7h0.8M440.9 577.9h0.8M444.6 591.4h0.8M449.2 587.6h0.8M442.2 584.9h0.8M438.6 588.8h0.8M440.3 576.7h0.8M438.4 584.1h0.8M436.1 597.4h0.8M440.3 592.4h0.8M446.6 591.6h0.8M441.1 578.5h0.8M441.5 585.5h0.8M438.5 574.5h0.8M451.4 589.2h0.8M437.4 592.6h0.8M437.8 590.9h0.8M443.5 576.1h0.8M440.5 584.1h0.8M439.8 580.6h0.8M437.7 577.0h0.8M445.5 575.8h0.8M443.3 578.8h0.8M441.2 587.9h0.8M441.4 579.7h0.8M444.0 585.8h0.8M444.5 574.4h0.8M442.4 575.4h0.8M441.1 589.8h0.8M446.4 577.6h0.8M441.1 573.9h0.8M446.6 577.0h0.8M442.0 591.0h0.8M451.3 590.0h0.8M446.3 578.6h0.8M441.4 580.9h0.8M442.0 593.1h0.8M436.4 586.1h0.8M444.5 583.7h0.8M442.0 591.9h0.8M448.2 584.1h0.8M441.8 584.5h0.8M442.2 578.6h0.8M442.7 592.4h0.8M449.5 581.4h0.8M446.0 575.7h0.8M446.5 587.2h0.8M445.7 572.4h0.8M444.5 581.9h0.8M444.4 594.9h0.8M447.1 588.8h0.8M442.3 574.7h0.8M446.8 595.2h0.8M446.2 583.4h0.8M445.0 578.0h0.8M450.8 586.0h0.8M442.8 573.7h0.8M442.9 588.9h0.8M439.9 570.6h0.8M435.6 580.6h0.8M445.9 581.5h0.8M448.7 582.4h0.8M436.6 580.7h0.8M442.8 570.3h0.8M450.3 581.4h0.8M444.5 590.8h0.8M445.7 596.9h0.8M435.9 589.5h0.8M434.3 583.7h0.8M451.7 586.9h0.8M443.9 581.0h0.8M443.9 573.8h0.8M440.8 574.6h0.8M439.7 585.5h0.8M445.9 577.6h0.8M444.5 578.3h0.8M433.0 584.7h0.8M442.8 589.6h0.8M439.2 584.9h0.8M437.9 576.5h0.8M442.1 582.3h0.8M439.1 583.6h0.8M437.8 578.4h0.8M437.0 586.6h0.8M447.2 575.5h0.8M442.0 597.0h0.8M447.1 574.1h0.8M447.5 581.4h0.8M439.6 592.9h0.8M440.1 581.6h0.8M440.6 591.3h0.8M450.0 580.9h0.8M434.7 582.3h0.8M443.2 586.6h0.8M443.8 591.2h0.8M445.8 586.8h0.8M445.1 573.3h0.8M444.9 576.8h0.8M437.3 585.9h0.8M438.5 585.4h0.8M445.1 589.6h0.8M445.9 592.6h0.8M446.4 589.2h0.8M444.5 589.1h0.8M438.8 575.1h0.8M446.5 586.8h0.8M443.5 596.6h0.8M440.9 588.1h0.8M443.5 595.1h0.8M443.2 587.0h0.8M449.1 585.6h0.8M448.0 578.4h0.8M444.9 586.4h0.8M442.9 594.8h0.8M436.8 593.3h0.8M440.4 586.0h0.8M445.8 588.6h0.8M438.4 580.9h0.8M447.3 579.0h0.8M443.1 593.3h0.8M441.8 575.1h0.8M436.0 595.9h0.8M438.9 598.1h0.8M438.7 592.5h0.8M443.3 583.2h0.8M441.9 586.1h0.8M440.9 593.6h0.8M444.9 585.9h0.8M445.2 591.8h0.8M443.7 592.4h0.8M439.6 578.8h0.8M448.7 589.0h0.8M442.3 580.2h0.8M446.1 582.4h0.8M449.2 593.0h0.8M438.6 593.7h0.8M443.8 588.1h0.8M441.1 588.8h0.8M438.6 573.7h0.8M436.4 579.0h0.8M439.2 586.5h0.8M438.4 582.3h0.8M426.8 572.9h0.8M430.1 560.4h0.8M453.4 585.7h0.8M432.6 590.2h0.8M434.8 568.8h0.8M431.5 552.1h0.8M445.5 562.6h0.8M454.5 580.7h0.8M450.5 551.2h0.8M447.7 560.1h0.8M434.4 586.4h0.8M434.1 577.5h0.8M427.6 563.4h0.8M431.5 554.6h0.8M424.8 591.2h0.8M443.6 580.4h0.8M423.9 563.9h0.8M445.0 601.4h0.8M434.2 591.8h0.8M432.7 546.2h0.8M439.7 590.4h0.8M417.7 574.9h0.8M423.3 568.4h0.8M432.4 553.0h0.8M449.0 578.1h0.8M453.0 558.4h0.8M441.4 583.8h0.8M450.8 570.7h0.8M438.2 576.4h0.8M429.4 569.7h0.8M433.0 550.4h0.8M451.0 566.0h0.8M426.6 563.1h0.8M432.5 569.4h0.8M438.4 581.4h0.8M447.2 577.0h0.8M450.7 559.3h0.8M438.8 570.0h0.8M434.0 585.7h0.8M428.1 587.4h0.8M427.4 576.9h0.8M423.0 579.1h0.8M416.8 579.0h0.8M436.0 594.7h0.8M456.7 566.0h0.8M420.7 596.0h0.8M431.8 571.4h0.8M435.5 577.5h0.8M430.9 566.3h0.8M438.7 577.3h0.8M430.9 585.0h0.8M432.6 587.0h0.8M432.4 592.6h0.8M442.8 595.8h0.8M438.2 589.8h0.8M437.9 556.5h0.8M435.7 544.7h0.8M437.7 550.1h0.8M444.6 560.0h0.8M455.7 584.2h0.8M428.6 569.5h0.8M433.0 578.5h0.8M445.6 594.4h0.8M452.9 536.8h0.8M444.1 584.1h0.8M447.0 562.4h0.8M437.9 543.9h0.8M459.9 586.2h0.8M437.7 572.9h0.8M430.0 580.2h0.8M452.1 555.1h0.8M445.6 583.1h0.8M431.5 573.7h0.8M459.0 566.9h0.8M447.8 596.9h0.8M443.2 560.8h0.8M467.0 589.6h0.8M437.9 569.3h0.8M434.8 569.1h0.8M440.8 589.2h0.8M442.4 572.8h0.8M446.4 566.7h0.8M452.9 568.0h0.8M447.5 583.0h0.8M448.7 576.3h0.8M446.7 574.9h0.8M457.5 557.3h0.8M449.6 578.1h0.8M443.6 546.0h0.8M433.1 569.2h0.8M452.2 572.0h0.8M413.1 567.1h0.8M423.5 569.2h0.8M428.2 561.0h0.8M434.4 566.3h0.8M429.4 566.3h0.8M429.2 559.3h0.8M424.4 559.1h0.8M425.4 581.6h0.8M431.1 566.6h0.8M419.4 570.0h0.8M423.5 556.4h0.8M422.8 570.4h0.8M430.3 564.9h0.8M426.3 570.7h0.8M431.5 563.7h0.8M430.5 550.8h0.8M435.2 558.6h0.8M430.0 561.8h0.8M421.6 559.1h0.8M422.9 561.9h0.8M432.0 561.7h0.8M425.9 555.1h0.8M425.2 566.2h0.8M425.1 571.0h0.8M433.4 568.1h0.8M422.8 564.8h0.8M436.5 566.4h0.8M428.7 559.8h0.8M433.2 577.6h0.8M428.5 558.7h0.8M428.8 573.4h0.8M483.9 557.5h0.8M465.4 555.9h0.8M475.7 555.4h0.8M470.2 569.0h0.8M478.8 556.6h0.8M469.2 561.8h0.8M474.3 553.9h0.8M462.1 556.8h0.8M460.8 559.7h0.8M477.1 566.9h0.8M480.2 562.4h0.8M471.9 568.5h0.8M472.8 559.6h0.8M465.0 559.9h0.8M466.3 562.8h0.8M473.0 560.0h0.8M482.1 559.1h0.8M465.8 557.4h0.8M476.2 556.7h0.8M459.7 558.5h0.8M481.3 566.9h0.8M468.7 566.2h0.8M467.0 563.5h0.8M485.5 556.4h0.8M477.8 563.3h0.8M478.2 569.0h0.8M473.2 559.9h0.8M465.7 568.6h0.8M479.5 555.4h0.8M482.8 561.4h0.8M488.8 558.7h0.8M460.4 566.9h0.8M466.7 571.2h0.8M472.6 563.4h0.8M466.2 556.6h0.8M472.0 558.8h0.8M470.4 553.9h0.8M457.2 561.3h0.8M462.0 559.3h0.8M469.0 555.1h0.8M479.4 563.9h0.8M480.2 559.7h0.8M464.1 554.6h0.8M477.2 565.6h0.8M471.8 569.3h0.8M483.4 564.0h0.8M469.1 558.7h0.8M463.7 558.6h0.8M483.1 559.3h0.8M458.5 558.3h0.8M477.9 556.8h0.8M460.8 554.7h0.8M476.1 567.7h0.8M466.7 560.4h0.8M476.0 561.4h0.8M474.7 559.6h0.8M462.0 555.0h0.8M459.5 559.2h0.8M470.1 556.5h0.8M474.6 563.8h0.8M460.5 556.7h0.8M463.8 567.5h0.8M484.2 556.3h0.8M462.5 554.5h0.8M482.7 560.7h0.8M476.0 557.3h0.8M474.9 566.6h0.8M481.2 563.2h0.8M482.1 566.3h0.8M472.8 558.6h0.8M471.3 561.4h0.8M466.8 563.6h0.8M462.2 558.2h0.8M479.9 557.4h0.8M482.8 562.5h0.8M468.9 564.8h0.8M478.5 562.6h0.8M464.4 556.1h0.8M476.8 560.2h0.8M474.9 568.9h0.8M476.0 562.4h0.8M479.7 568.4h0.8M477.1 558.7h0.8M467.7 564.4h0.8M464.7 554.0h0.8M475.9 552.5h0.8M467.7 557.0h0.8M468.9 557.7h0.8M455.2 564.7h0.8M474.5 556.8h0.8M479.0 559.8h0.8M486.7 559.2h0.8M469.6 557.2h0.8M473.8 556.5h0.8M468.5 555.3h0.8M469.4 569.6h0.8M460.1 558.0h0.8M461.6 552.2h0.8M464.5 557.3h0.8M481.6 562.7h0.8M465.5 563.0h0.8M478.5 564.1h0.8M471.1 564.8h0.8M481.7 574.0h0.8M464.9 560.9h0.8M471.6 570.9h0.8M472.1 567.1h0.8M475.3 575.0h0.8M489.6 552.0h0.8M467.9 562.8h0.8M447.7 563.7h0.8M468.3 568.3h0.8M475.9 550.5h0.8M478.9 557.7h0.8M500.3 562.8h0.8M461.8 564.4h0.8M471.8 553.0h0.8M483.5 554.9h0.8M467.0 555.3h0.8M463.2 555.2h0.8M483.4 561.0h0.8M489.3 571.4h0.8M463.4 560.6h0.8M478.7 575.0h0.8M479.1 565.4h0.8M458.8 560.7h0.8M463.5 570.2h0.8M471.6 562.3h0.8M469.0 565.4h0.8M466.6 569.8h0.8M459.3 569.8h0.8M476.1 559.5h0.8M468.4 571.9h0.8M472.2 555.4h0.8M449.2 572.4h0.8M461.2 568.8h0.8M466.5 539.6h0.8M473.2 564.8h0.8M450.5 553.6h0.8M479.5 562.3h0.8M463.6 562.9h0.8M471.6 566.2h0.8M462.1 551.5h0.8M475.0 571.4h0.8M481.9 561.5h0.8M466.0 559.5h0.8M470.9 560.3h0.8M480.7 561.2h0.8M458.2 562.1h0.8M471.5 560.5h0.8M473.5 553.9h0.8M470.9 566.0h0.8M475.1 557.0h0.8M486.5 549.6h0.8M473.6 565.6h0.8M465.4 567.4h0.8M460.1 562.7h0.8M472.7 566.1h0.8M483.2 567.3h0.8M489.3 567.5h0.8M462.2 567.1h0.8M451.6 572.6h0.8M415.8 593.6h0.8M421.3 575.3h0.8M479.9 544.1h0.8M481.5 593.5h0.8M463.1 596.7h0.8M491.5 572.2h0.8M418.8 555.0h0.8M488.6 545.3h0.8M423.2 577.8h0.8M491.7 577.3h0.8M416.8 549.7h0.8M434.1 574.0h0.8M419.6 546.0h0.8M498.5 546.4h0.8M486.4 548.0h0.8M470.4 588.3h0.8M486.0 561.1h0.8M459.4 582.9h0.8M418.9 545.9h0.8M469.8 581.5h0.8M455.2 575.2h0.8" stroke="#000" stroke-opacity="0.7" stroke-width="1.1" fill="none"/>

<text x="126" y="8.8" font-size="11.3" font-weight="bold" text-anchor="start" fill="#000" >A</text>
<text x="323.7" y="9.6" font-size="11.3" font-weight="bold" text-anchor="start" fill="#000" >B</text>
<line x1="153.8" y1="20.8" x2="153.8" y2="99.1" stroke="#000" stroke-width="1.3"/>
<line x1="150.8" y1="98.5" x2="153.8" y2="98.5" stroke="#000" stroke-width="1"/>
<text x="149.6" y="100.35" font-size="5.2" font-weight="bold" text-anchor="end" fill="#000" stroke="#000" stroke-width="0.2">0</text>
<line x1="150.8" y1="89.9" x2="153.8" y2="89.9" stroke="#000" stroke-width="1"/>
<text x="149.6" y="91.75" font-size="5.2" font-weight="bold" text-anchor="end" fill="#000" stroke="#000" stroke-width="0.2">5</text>
<line x1="150.8" y1="81.3" x2="153.8" y2="81.3" stroke="#000" stroke-width="1"/>
<text x="149.6" y="83.15" font-size="5.2" font-weight="bold" text-anchor="end" fill="#000" stroke="#000" stroke-width="0.2">10</text>
<line x1="150.8" y1="72.7" x2="153.8" y2="72.7" stroke="#000" stroke-width="1"/>
<text x="149.6" y="74.55" font-size="5.2" font-weight="bold" text-anchor="end" fill="#000" stroke="#000" stroke-width="0.2">15</text>
<line x1="150.8" y1="64.1" x2="153.8" y2="64.1" stroke="#000" stroke-width="1"/>
<text x="149.6" y="65.95" font-size="5.2" font-weight="bold" text-anchor="end" fill="#000" stroke="#000" stroke-width="0.2">20</text>
<line x1="150.8" y1="55.5" x2="153.8" y2="55.5" stroke="#000" stroke-width="1"/>
<text x="149.6" y="57.35" font-size="5.2" font-weight="bold" text-anchor="end" fill="#000" stroke="#000" stroke-width="0.2">25</text>
<line x1="150.8" y1="46.9" x2="153.8" y2="46.9" stroke="#000" stroke-width="1"/>
<text x="149.6" y="48.75" font-size="5.2" font-weight="bold" text-anchor="end" fill="#000" stroke="#000" stroke-width="0.2">30</text>
<line x1="150.8" y1="38.3" x2="153.8" y2="38.3" stroke="#000" stroke-width="1"/>
<text x="149.6" y="40.15" font-size="5.2" font-weight="bold" text-anchor="end" fill="#000" stroke="#000" stroke-width="0.2">35</text>
<line x1="150.8" y1="29.7" x2="153.8" y2="29.7" stroke="#000" stroke-width="1"/>
<text x="149.6" y="31.55" font-size="5.2" font-weight="bold" text-anchor="end" fill="#000" stroke="#000" stroke-width="0.2">40</text>
<line x1="150.8" y1="21.1" x2="153.8" y2="21.1" stroke="#000" stroke-width="1"/>
<text x="149.6" y="22.95" font-size="5.2" font-weight="bold" text-anchor="end" fill="#000" stroke="#000" stroke-width="0.2">45</text>
<rect x="157" y="95.92" width="15.6" height="2.58" fill="url(#gp)" stroke="#4a4a4a" stroke-width="0.8"/>
<line x1="164.8" y1="95.4" x2="164.8" y2="96.44" stroke="#222" stroke-width="1.1"/>
<line x1="161.1" y1="95.4" x2="168.5" y2="95.4" stroke="#222" stroke-width="1.2"/>
<line x1="161.1" y1="96.44" x2="168.5" y2="96.44" stroke="#222" stroke-width="1.2"/>
<rect x="178.3" y="87.15" width="15.6" height="11.35" fill="url(#gp)" stroke="#4a4a4a" stroke-width="0.8"/>
<line x1="186.1" y1="85.77" x2="186.1" y2="88.52" stroke="#222" stroke-width="1.1"/>
<line x1="182.4" y1="85.77" x2="189.8" y2="85.77" stroke="#222" stroke-width="1.2"/>
<line x1="182.4" y1="88.52" x2="189.8" y2="88.52" stroke="#222" stroke-width="1.2"/>
<rect x="199.6" y="85.94" width="15.6" height="12.56" fill="url(#gp)" stroke="#4a4a4a" stroke-width="0.8"/>
<line x1="207.4" y1="82.33" x2="207.4" y2="89.21" stroke="#222" stroke-width="1.1"/>
<line x1="203.7" y1="82.33" x2="211.1" y2="82.33" stroke="#222" stroke-width="1.2"/>
<line x1="203.7" y1="89.21" x2="211.1" y2="89.21" stroke="#222" stroke-width="1.2"/>
<rect x="220.9" y="95.92" width="15.6" height="2.58" fill="url(#gp)" stroke="#4a4a4a" stroke-width="0.8"/>
<line x1="228.7" y1="95.58" x2="228.7" y2="96.26" stroke="#222" stroke-width="1.1"/>
<line x1="225" y1="95.58" x2="232.4" y2="95.58" stroke="#222" stroke-width="1.2"/>
<line x1="225" y1="96.26" x2="232.4" y2="96.26" stroke="#222" stroke-width="1.2"/>
<rect x="242.2" y="90.59" width="15.6" height="7.91" fill="url(#gp)" stroke="#4a4a4a" stroke-width="0.8"/>
<line x1="250" y1="89.9" x2="250" y2="91.45" stroke="#222" stroke-width="1.1"/>
<line x1="246.3" y1="89.9" x2="253.7" y2="89.9" stroke="#222" stroke-width="1.2"/>
<line x1="246.3" y1="91.45" x2="253.7" y2="91.45" stroke="#222" stroke-width="1.2"/>
<rect x="263.5" y="93.17" width="15.6" height="5.33" fill="url(#gp)" stroke="#4a4a4a" stroke-width="0.8"/>
<line x1="271.3" y1="92.48" x2="271.3" y2="93.86" stroke="#222" stroke-width="1.1"/>
<line x1="267.6" y1="92.48" x2="275" y2="92.48" stroke="#222" stroke-width="1.2"/>
<line x1="267.6" y1="93.86" x2="275" y2="93.86" stroke="#222" stroke-width="1.2"/>
<line x1="153.8" y1="98.5" x2="285" y2="98.5" stroke="#000" stroke-width="1.3"/>
<line x1="152.6" y1="107.7" x2="152.6" y2="185.5" stroke="#000" stroke-width="1.3"/>
<line x1="149.6" y1="184.9" x2="152.6" y2="184.9" stroke="#000" stroke-width="1"/>
<text x="148.4" y="186.75" font-size="5.2" font-weight="bold" text-anchor="end" fill="#000" stroke="#000" stroke-width="0.2">0</text>
<line x1="149.6" y1="176.36" x2="152.6" y2="176.36" stroke="#000" stroke-width="1"/>
<text x="148.4" y="178.21" font-size="5.2" font-weight="bold" text-anchor="end" fill="#000" stroke="#000" stroke-width="0.2">5</text>
<line x1="149.6" y1="167.81" x2="152.6" y2="167.81" stroke="#000" stroke-width="1"/>
<text x="148.4" y="169.66" font-size="5.2" font-weight="bold" text-anchor="end" fill="#000" stroke="#000" stroke-width="0.2">10</text>
<line x1="149.6" y1="159.27" x2="152.6" y2="159.27" stroke="#000" stroke-width="1"/>
<text x="148.4" y="161.12" font-size="5.2" font-weight="bold" text-anchor="end" fill="#000" stroke="#000" stroke-width="0.2">15</text>
<line x1="149.6" y1="150.72" x2="152.6" y2="150.72" stroke="#000" stroke-width="1"/>
<text x="148.4" y="152.57" font-size="5.2" font-weight="bold" text-anchor="end" fill="#000" stroke="#000" stroke-width="0.2">20</text>
<line x1="149.6" y1="142.18" x2="152.6" y2="142.18" stroke="#000" stroke-width="1"/>
<text x="148.4" y="144.03" font-size="5.2" font-weight="bold" text-anchor="end" fill="#000" stroke="#000" stroke-width="0.2">25</text>
<line x1="149.6" y1="133.63" x2="152.6" y2="133.63" stroke="#000" stroke-width="1"/>
<text x="148.4" y="135.48" font-size="5.2" font-weight="bold" text-anchor="end" fill="#000" stroke="#000" stroke-width="0.2">30</text>
<line x1="149.6" y1="125.09" x2="152.6" y2="125.09" stroke="#000" stroke-width="1"/>
<text x="148.4" y="126.94" font-size="5.2" font-weight="bold" text-anchor="end" fill="#000" stroke="#000" stroke-width="0.2">35</text>
<line x1="149.6" y1="116.54" x2="152.6" y2="116.54" stroke="#000" stroke-width="1"/>
<text x="148.4" y="118.39" font-size="5.2" font-weight="bold" text-anchor="end" fill="#000" stroke="#000" stroke-width="0.2">40</text>
<line x1="149.6" y1="108" x2="152.6" y2="108" stroke="#000" stroke-width="1"/>
<text x="148.4" y="109.85" font-size="5.2" font-weight="bold" text-anchor="end" fill="#000" stroke="#000" stroke-width="0.2">45</text>
<rect x="155.6" y="172.43" width="15.5" height="12.47" fill="url(#gp)" stroke="#4a4a4a" stroke-width="0.8"/>
<line x1="163.35" y1="171.57" x2="163.35" y2="173.28" stroke="#222" stroke-width="1.1"/>
<line x1="159.65" y1="171.57" x2="167.05" y2="171.57" stroke="#222" stroke-width="1.2"/>
<line x1="159.65" y1="173.28" x2="167.05" y2="173.28" stroke="#222" stroke-width="1.2"/>
<rect x="176.9" y="168.15" width="15.5" height="16.75" fill="url(#gp)" stroke="#4a4a4a" stroke-width="0.8"/>
<line x1="184.65" y1="167.64" x2="184.65" y2="168.67" stroke="#222" stroke-width="1.1"/>
<line x1="180.95" y1="167.64" x2="188.35" y2="167.64" stroke="#222" stroke-width="1.2"/>
<line x1="180.95" y1="168.67" x2="188.35" y2="168.67" stroke="#222" stroke-width="1.2"/>
<rect x="198.2" y="169.86" width="15.5" height="15.04" fill="url(#gp)" stroke="#4a4a4a" stroke-width="0.8"/>
<line x1="205.95" y1="165.25" x2="205.95" y2="174.99" stroke="#222" stroke-width="1.1"/>
<line x1="202.25" y1="165.25" x2="209.65" y2="165.25" stroke="#222" stroke-width="1.2"/>
<line x1="202.25" y1="174.99" x2="209.65" y2="174.99" stroke="#222" stroke-width="1.2"/>
<rect x="219.5" y="179.94" width="15.5" height="4.96" fill="url(#gp)" stroke="#4a4a4a" stroke-width="0.8"/>
<line x1="227.25" y1="179.6" x2="227.25" y2="180.29" stroke="#222" stroke-width="1.1"/>
<line x1="223.55" y1="179.6" x2="230.95" y2="179.6" stroke="#222" stroke-width="1.2"/>
<line x1="223.55" y1="180.29" x2="230.95" y2="180.29" stroke="#222" stroke-width="1.2"/>
<rect x="240.8" y="175.33" width="15.5" height="9.57" fill="url(#gp)" stroke="#4a4a4a" stroke-width="0.8"/>
<line x1="248.55" y1="172.43" x2="248.55" y2="178.06" stroke="#222" stroke-width="1.1"/>
<line x1="244.85" y1="172.43" x2="252.25" y2="172.43" stroke="#222" stroke-width="1.2"/>
<line x1="244.85" y1="178.06" x2="252.25" y2="178.06" stroke="#222" stroke-width="1.2"/>
<rect x="262.1" y="171.23" width="15.5" height="13.67" fill="url(#gp)" stroke="#4a4a4a" stroke-width="0.8"/>
<line x1="269.85" y1="169.35" x2="269.85" y2="173.11" stroke="#222" stroke-width="1.1"/>
<line x1="266.15" y1="169.35" x2="273.55" y2="169.35" stroke="#222" stroke-width="1.2"/>
<line x1="266.15" y1="173.11" x2="273.55" y2="173.11" stroke="#222" stroke-width="1.2"/>
<line x1="152.6" y1="184.9" x2="281.5" y2="184.9" stroke="#000" stroke-width="1.3"/>
<line x1="153.2" y1="195.1" x2="153.2" y2="273.8" stroke="#000" stroke-width="1.3"/>
<line x1="150.2" y1="273.2" x2="153.2" y2="273.2" stroke="#000" stroke-width="1"/>
<text x="149" y="275.05" font-size="5.2" font-weight="bold" text-anchor="end" fill="#000" stroke="#000" stroke-width="0.2">0</text>
<line x1="150.2" y1="264.56" x2="153.2" y2="264.56" stroke="#000" stroke-width="1"/>
<text x="149" y="266.41" font-size="5.2" font-weight="bold" text-anchor="end" fill="#000" stroke="#000" stroke-width="0.2">5</text>
<line x1="150.2" y1="255.91" x2="153.2" y2="255.91" stroke="#000" stroke-width="1"/>
<text x="149" y="257.76" font-size="5.2" font-weight="bold" text-anchor="end" fill="#000" stroke="#000" stroke-width="0.2">10</text>
<line x1="150.2" y1="247.27" x2="153.2" y2="247.27" stroke="#000" stroke-width="1"/>
<text x="149" y="249.12" font-size="5.2" font-weight="bold" text-anchor="end" fill="#000" stroke="#000" stroke-width="0.2">15</text>
<line x1="150.2" y1="238.62" x2="153.2" y2="238.62" stroke="#000" stroke-width="1"/>
<text x="149" y="240.47" font-size="5.2" font-weight="bold" text-anchor="end" fill="#000" stroke="#000" stroke-width="0.2">20</text>
<line x1="150.2" y1="229.98" x2="153.2" y2="229.98" stroke="#000" stroke-width="1"/>
<text x="149" y="231.83" font-size="5.2" font-weight="bold" text-anchor="end" fill="#000" stroke="#000" stroke-width="0.2">25</text>
<line x1="150.2" y1="221.33" x2="153.2" y2="221.33" stroke="#000" stroke-width="1"/>
<text x="149" y="223.18" font-size="5.2" font-weight="bold" text-anchor="end" fill="#000" stroke="#000" stroke-width="0.2">30</text>
<line x1="150.2" y1="212.69" x2="153.2" y2="212.69" stroke="#000" stroke-width="1"/>
<text x="149" y="214.54" font-size="5.2" font-weight="bold" text-anchor="end" fill="#000" stroke="#000" stroke-width="0.2">35</text>
<line x1="150.2" y1="204.04" x2="153.2" y2="204.04" stroke="#000" stroke-width="1"/>
<text x="149" y="205.89" font-size="5.2" font-weight="bold" text-anchor="end" fill="#000" stroke="#000" stroke-width="0.2">40</text>
<line x1="150.2" y1="195.4" x2="153.2" y2="195.4" stroke="#000" stroke-width="1"/>
<text x="149" y="197.25" font-size="5.2" font-weight="bold" text-anchor="end" fill="#000" stroke="#000" stroke-width="0.2">45</text>
<rect x="155.9" y="220.3" width="16" height="52.9" fill="url(#gp)" stroke="#4a4a4a" stroke-width="0.8"/>
<line x1="163.9" y1="199.55" x2="163.9" y2="241.39" stroke="#222" stroke-width="1.1"/>
<line x1="160.2" y1="199.55" x2="167.6" y2="199.55" stroke="#222" stroke-width="1.2"/>
<line x1="160.2" y1="241.39" x2="167.6" y2="241.39" stroke="#222" stroke-width="1.2"/>
<line x1="163.9" y1="273.2" x2="163.9" y2="276.2" stroke="#000" stroke-width="1"/>
<rect x="177.55" y="236.37" width="16" height="36.83" fill="url(#gp)" stroke="#4a4a4a" stroke-width="0.8"/>
<line x1="185.55" y1="229.11" x2="185.55" y2="243.98" stroke="#222" stroke-width="1.1"/>
<line x1="181.85" y1="229.11" x2="189.25" y2="229.11" stroke="#222" stroke-width="1.2"/>
<line x1="181.85" y1="243.98" x2="189.25" y2="243.98" stroke="#222" stroke-width="1.2"/>
<line x1="185.55" y1="273.2" x2="185.55" y2="276.2" stroke="#000" stroke-width="1"/>
<rect x="199.2" y="230.15" width="16" height="43.05" fill="url(#gp)" stroke="#4a4a4a" stroke-width="0.8"/>
<line x1="207.2" y1="225.14" x2="207.2" y2="235.51" stroke="#222" stroke-width="1.1"/>
<line x1="203.5" y1="225.14" x2="210.9" y2="225.14" stroke="#222" stroke-width="1.2"/>
<line x1="203.5" y1="235.51" x2="210.9" y2="235.51" stroke="#222" stroke-width="1.2"/>
<line x1="207.2" y1="273.2" x2="207.2" y2="276.2" stroke="#000" stroke-width="1"/>
<rect x="220.85" y="251.42" width="16" height="21.78" fill="url(#gp)" stroke="#4a4a4a" stroke-width="0.8"/>
<line x1="228.85" y1="249.34" x2="228.85" y2="252.28" stroke="#222" stroke-width="1.1"/>
<line x1="225.15" y1="249.34" x2="232.55" y2="249.34" stroke="#222" stroke-width="1.2"/>
<line x1="225.15" y1="252.28" x2="232.55" y2="252.28" stroke="#222" stroke-width="1.2"/>
<line x1="228.85" y1="273.2" x2="228.85" y2="276.2" stroke="#000" stroke-width="1"/>
<rect x="242.5" y="250.21" width="16" height="22.99" fill="url(#gp)" stroke="#4a4a4a" stroke-width="0.8"/>
<line x1="250.5" y1="247.79" x2="250.5" y2="253.66" stroke="#222" stroke-width="1.1"/>
<line x1="246.8" y1="247.79" x2="254.2" y2="247.79" stroke="#222" stroke-width="1.2"/>
<line x1="246.8" y1="253.66" x2="254.2" y2="253.66" stroke="#222" stroke-width="1.2"/>
<line x1="250.5" y1="273.2" x2="250.5" y2="276.2" stroke="#000" stroke-width="1"/>
<rect x="264.15" y="222.02" width="16" height="51.18" fill="url(#gp)" stroke="#4a4a4a" stroke-width="0.8"/>
<line x1="272.15" y1="206.46" x2="272.15" y2="237.07" stroke="#222" stroke-width="1.1"/>
<line x1="268.45" y1="206.46" x2="275.85" y2="206.46" stroke="#222" stroke-width="1.2"/>
<line x1="268.45" y1="237.07" x2="275.85" y2="237.07" stroke="#222" stroke-width="1.2"/>
<line x1="272.15" y1="273.2" x2="272.15" y2="276.2" stroke="#000" stroke-width="1"/>
<line x1="153.2" y1="273.2" x2="282.5" y2="273.2" stroke="#000" stroke-width="1.3"/>
<text x="179.2" y="32.2" font-size="12" font-weight="bold">SP CD4<tspan font-size="7.5" dy="-4.6">+</tspan></text>
<text x="179.4" y="120.8" font-size="12" font-weight="bold">SP CD8<tspan font-size="7.5" dy="-4.6">+</tspan></text>
<text x="173.4" y="206.4" font-size="12" font-weight="bold">DP CD4<tspan font-size="7.5" dy="-4.6">+</tspan><tspan dy="4.6"> CD8</tspan><tspan font-size="7.5" dy="-4.6">+</tspan></text>
<text x="372.4" y="29.6" font-size="12" font-weight="bold">SP CD4<tspan font-size="7.5" dy="-4.6">+</tspan></text>
<text x="380.3" y="121.2" font-size="12" font-weight="bold">SP CD8<tspan font-size="7.5" dy="-4.6">+</tspan></text>
<text x="377.7" y="208.3" font-size="12" font-weight="bold">DP CD4<tspan font-size="7.5" dy="-4.6">+</tspan><tspan dy="4.6"> CD8</tspan><tspan font-size="7.5" dy="-4.6">+</tspan></text>
<text transform="translate(133.1,181.7) rotate(-90)" font-size="12" font-weight="bold">% BrdU</text>
<text transform="translate(333.6,186.2) rotate(-90)" font-size="12" font-weight="bold">% BrdU</text>
<line x1="129.1" y1="34.3" x2="129.1" y2="100.4" stroke="#888" stroke-width="1.6"/>
<path d="M129.1 27.4L133.2 34.8L125 34.8Z" fill="#000"/>
<line x1="129.1" y1="205" x2="129.1" y2="270.8" stroke="#888" stroke-width="1.6"/>
<path d="M129.1 198.2L133.2 205.5L125 205.5Z" fill="#000"/>
<line x1="328" y1="40.8" x2="328" y2="106.7" stroke="#888" stroke-width="1.6"/>
<path d="M328 34.7L332.1 41.3L323.9 41.3Z" fill="#000"/>
<line x1="327.8" y1="211.4" x2="327.8" y2="277.8" stroke="#888" stroke-width="1.6"/>
<path d="M327.8 205.1L331.9 211.9L323.7 211.9Z" fill="#000"/>
<line x1="133.9" y1="351.2" x2="133.9" y2="556.9" stroke="#888" stroke-width="1.8"/>
<path d="M133.9 344.2L137.7 351.7L130.1 351.7Z" fill="#000"/>
<line x1="402" y1="340" x2="402" y2="543.7" stroke="#888" stroke-width="1.8"/>
<path d="M402 333.7L405.8 340.5L398.2 340.5Z" fill="#000"/>
<text transform="translate(166.1,277.5) rotate(-90)" font-size="6" font-weight="bold" text-anchor="end" stroke="#000" stroke-width="0.15">Whole Blood</text>
<text transform="translate(187.75,277.5) rotate(-90)" font-size="6" font-weight="bold" text-anchor="end" stroke="#000" stroke-width="0.15">Jejunum LPL</text>
<text transform="translate(209.4,277.5) rotate(-90)" font-size="6" font-weight="bold" text-anchor="end" stroke="#000" stroke-width="0.15">Colon LPL</text>
<text transform="translate(231.05,277.5) rotate(-90)" font-size="6" font-weight="bold" text-anchor="end" stroke="#000" stroke-width="0.15">Mes. LN</text>
<text transform="translate(252.7,277.5) rotate(-90)" font-size="6" font-weight="bold" text-anchor="end" stroke="#000" stroke-width="0.15">Thymus</text>
<text transform="translate(274.35,277.5) rotate(-90)" font-size="6" font-weight="bold" text-anchor="end" stroke="#000" stroke-width="0.15">Spleen</text>
<line x1="351.1" y1="20.7" x2="351.1" y2="101.5" stroke="#000" stroke-width="1.3"/>
<line x1="348.1" y1="100.9" x2="351.1" y2="100.9" stroke="#000" stroke-width="1"/>
<text x="346.9" y="102.75" font-size="5.2" font-weight="bold" text-anchor="end" fill="#000" stroke="#000" stroke-width="0.2">0</text>
<line x1="348.1" y1="87.58" x2="351.1" y2="87.58" stroke="#000" stroke-width="1"/>
<text x="346.9" y="89.43" font-size="5.2" font-weight="bold" text-anchor="end" fill="#000" stroke="#000" stroke-width="0.2">5</text>
<line x1="348.1" y1="74.27" x2="351.1" y2="74.27" stroke="#000" stroke-width="1"/>
<text x="346.9" y="76.12" font-size="5.2" font-weight="bold" text-anchor="end" fill="#000" stroke="#000" stroke-width="0.2">10</text>
<line x1="348.1" y1="60.95" x2="351.1" y2="60.95" stroke="#000" stroke-width="1"/>
<text x="346.9" y="62.8" font-size="5.2" font-weight="bold" text-anchor="end" fill="#000" stroke="#000" stroke-width="0.2">15</text>
<line x1="348.1" y1="47.63" x2="351.1" y2="47.63" stroke="#000" stroke-width="1"/>
<text x="346.9" y="49.48" font-size="5.2" font-weight="bold" text-anchor="end" fill="#000" stroke="#000" stroke-width="0.2">20</text>
<line x1="348.1" y1="34.32" x2="351.1" y2="34.32" stroke="#000" stroke-width="1"/>
<text x="346.9" y="36.17" font-size="5.2" font-weight="bold" text-anchor="end" fill="#000" stroke="#000" stroke-width="0.2">25</text>
<line x1="348.1" y1="21" x2="351.1" y2="21" stroke="#000" stroke-width="1"/>
<text x="346.9" y="22.85" font-size="5.2" font-weight="bold" text-anchor="end" fill="#000" stroke="#000" stroke-width="0.2">30</text>
<rect x="352.2" y="100.23" width="8.8" height="0.67" fill="url(#gp)" stroke="#4a4a4a" stroke-width="0.8"/>
<rect x="373.3" y="98.24" width="8.8" height="2.66" fill="url(#gp)" stroke="#4a4a4a" stroke-width="0.8"/>
<line x1="377.7" y1="97.7" x2="377.7" y2="98.77" stroke="#222" stroke-width="1.1"/>
<line x1="375.2" y1="97.7" x2="380.2" y2="97.7" stroke="#222" stroke-width="1.2"/>
<line x1="375.2" y1="98.77" x2="380.2" y2="98.77" stroke="#222" stroke-width="1.2"/>
<rect x="394.2" y="97.7" width="8.8" height="3.2" fill="url(#gp)" stroke="#4a4a4a" stroke-width="0.8"/>
<line x1="398.6" y1="97.17" x2="398.6" y2="98.24" stroke="#222" stroke-width="1.1"/>
<line x1="396.1" y1="97.17" x2="401.1" y2="97.17" stroke="#222" stroke-width="1.2"/>
<line x1="396.1" y1="98.24" x2="401.1" y2="98.24" stroke="#222" stroke-width="1.2"/>
<rect x="415.4" y="98.5" width="8.8" height="2.4" fill="url(#gp)" stroke="#4a4a4a" stroke-width="0.8"/>
<line x1="419.8" y1="97.97" x2="419.8" y2="99.04" stroke="#222" stroke-width="1.1"/>
<line x1="417.3" y1="97.97" x2="422.3" y2="97.97" stroke="#222" stroke-width="1.2"/>
<line x1="417.3" y1="99.04" x2="422.3" y2="99.04" stroke="#222" stroke-width="1.2"/>
<rect x="436.7" y="89.18" width="8.8" height="11.72" fill="url(#gp)" stroke="#4a4a4a" stroke-width="0.8"/>
<line x1="441.1" y1="87.32" x2="441.1" y2="90.78" stroke="#222" stroke-width="1.1"/>
<line x1="438.6" y1="87.32" x2="443.6" y2="87.32" stroke="#222" stroke-width="1.2"/>
<line x1="438.6" y1="90.78" x2="443.6" y2="90.78" stroke="#222" stroke-width="1.2"/>
<rect x="457.6" y="97.7" width="8.8" height="3.2" fill="url(#gp)" stroke="#4a4a4a" stroke-width="0.8"/>
<line x1="462" y1="97.17" x2="462" y2="98.24" stroke="#222" stroke-width="1.1"/>
<line x1="459.5" y1="97.17" x2="464.5" y2="97.17" stroke="#222" stroke-width="1.2"/>
<line x1="459.5" y1="98.24" x2="464.5" y2="98.24" stroke="#222" stroke-width="1.2"/>
<rect x="361.2" y="97.7" width="8.8" height="3.2" fill="url(#cp)" stroke="#000" stroke-width="0.6"/>
<line x1="365.6" y1="97.17" x2="365.6" y2="98.24" stroke="#222" stroke-width="1.1"/>
<line x1="362.85" y1="97.17" x2="368.35" y2="97.17" stroke="#222" stroke-width="1.2"/>
<line x1="362.85" y1="98.24" x2="368.35" y2="98.24" stroke="#222" stroke-width="1.2"/>
<rect x="382.3" y="84.92" width="8.8" height="15.98" fill="url(#cp)" stroke="#000" stroke-width="0.6"/>
<line x1="386.7" y1="83.85" x2="386.7" y2="85.99" stroke="#222" stroke-width="1.1"/>
<line x1="383.95" y1="83.85" x2="389.45" y2="83.85" stroke="#222" stroke-width="1.2"/>
<line x1="383.95" y1="85.99" x2="389.45" y2="85.99" stroke="#222" stroke-width="1.2"/>
<rect x="403.2" y="84.92" width="8.8" height="15.98" fill="url(#cp)" stroke="#000" stroke-width="0.6"/>
<line x1="407.6" y1="79.86" x2="407.6" y2="89.71" stroke="#222" stroke-width="1.1"/>
<line x1="404.85" y1="79.86" x2="410.35" y2="79.86" stroke="#222" stroke-width="1.2"/>
<line x1="404.85" y1="89.71" x2="410.35" y2="89.71" stroke="#222" stroke-width="1.2"/>
<rect x="424.4" y="98.77" width="8.8" height="2.13" fill="url(#cp)" stroke="#000" stroke-width="0.6"/>
<line x1="428.8" y1="98.24" x2="428.8" y2="99.3" stroke="#222" stroke-width="1.1"/>
<line x1="426.05" y1="98.24" x2="431.55" y2="98.24" stroke="#222" stroke-width="1.2"/>
<line x1="426.05" y1="99.3" x2="431.55" y2="99.3" stroke="#222" stroke-width="1.2"/>
<rect x="445.7" y="100.58" width="8.8" height="0.32" fill="url(#cp)" stroke="#000" stroke-width="0.6"/>
<rect x="466.6" y="95.57" width="8.8" height="5.33" fill="url(#cp)" stroke="#000" stroke-width="0.6"/>
<line x1="471" y1="93.98" x2="471" y2="96.91" stroke="#222" stroke-width="1.1"/>
<line x1="468.25" y1="93.98" x2="473.75" y2="93.98" stroke="#222" stroke-width="1.2"/>
<line x1="468.25" y1="96.91" x2="473.75" y2="96.91" stroke="#222" stroke-width="1.2"/>
<line x1="351.1" y1="100.9" x2="478" y2="100.9" stroke="#000" stroke-width="1.3"/>
<line x1="350.4" y1="109.2" x2="350.4" y2="187" stroke="#000" stroke-width="1.3"/>
<line x1="347.4" y1="186.4" x2="350.4" y2="186.4" stroke="#000" stroke-width="1"/>
<text x="346.2" y="188.25" font-size="5.2" font-weight="bold" text-anchor="end" fill="#000" stroke="#000" stroke-width="0.2">0</text>
<line x1="347.4" y1="173.58" x2="350.4" y2="173.58" stroke="#000" stroke-width="1"/>
<text x="346.2" y="175.43" font-size="5.2" font-weight="bold" text-anchor="end" fill="#000" stroke="#000" stroke-width="0.2">5</text>
<line x1="347.4" y1="160.77" x2="350.4" y2="160.77" stroke="#000" stroke-width="1"/>
<text x="346.2" y="162.62" font-size="5.2" font-weight="bold" text-anchor="end" fill="#000" stroke="#000" stroke-width="0.2">10</text>
<line x1="347.4" y1="147.95" x2="350.4" y2="147.95" stroke="#000" stroke-width="1"/>
<text x="346.2" y="149.8" font-size="5.2" font-weight="bold" text-anchor="end" fill="#000" stroke="#000" stroke-width="0.2">15</text>
<line x1="347.4" y1="135.13" x2="350.4" y2="135.13" stroke="#000" stroke-width="1"/>
<text x="346.2" y="136.98" font-size="5.2" font-weight="bold" text-anchor="end" fill="#000" stroke="#000" stroke-width="0.2">20</text>
<line x1="347.4" y1="122.32" x2="350.4" y2="122.32" stroke="#000" stroke-width="1"/>
<text x="346.2" y="124.17" font-size="5.2" font-weight="bold" text-anchor="end" fill="#000" stroke="#000" stroke-width="0.2">25</text>
<line x1="347.4" y1="109.5" x2="350.4" y2="109.5" stroke="#000" stroke-width="1"/>
<text x="346.2" y="111.35" font-size="5.2" font-weight="bold" text-anchor="end" fill="#000" stroke="#000" stroke-width="0.2">30</text>
<rect x="351.7" y="178.2" width="8.8" height="8.2" fill="url(#gp)" stroke="#4a4a4a" stroke-width="0.8"/>
<line x1="356.1" y1="176.92" x2="356.1" y2="179.22" stroke="#222" stroke-width="1.1"/>
<line x1="353.6" y1="176.92" x2="358.6" y2="176.92" stroke="#222" stroke-width="1.2"/>
<line x1="353.6" y1="179.22" x2="358.6" y2="179.22" stroke="#222" stroke-width="1.2"/>
<rect x="373.1" y="182.3" width="8.8" height="4.1" fill="url(#gp)" stroke="#4a4a4a" stroke-width="0.8"/>
<line x1="377.5" y1="180.5" x2="377.5" y2="183.84" stroke="#222" stroke-width="1.1"/>
<line x1="375" y1="180.5" x2="380" y2="180.5" stroke="#222" stroke-width="1.2"/>
<line x1="375" y1="183.84" x2="380" y2="183.84" stroke="#222" stroke-width="1.2"/>
<rect x="395" y="180.25" width="8.8" height="6.15" fill="url(#gp)" stroke="#4a4a4a" stroke-width="0.8"/>
<line x1="399.4" y1="178.45" x2="399.4" y2="182.56" stroke="#222" stroke-width="1.1"/>
<line x1="396.9" y1="178.45" x2="401.9" y2="178.45" stroke="#222" stroke-width="1.2"/>
<line x1="396.9" y1="182.56" x2="401.9" y2="182.56" stroke="#222" stroke-width="1.2"/>
<rect x="416.1" y="182.04" width="8.8" height="4.36" fill="url(#gp)" stroke="#4a4a4a" stroke-width="0.8"/>
<line x1="420.5" y1="181.53" x2="420.5" y2="182.56" stroke="#222" stroke-width="1.1"/>
<line x1="418" y1="181.53" x2="423" y2="181.53" stroke="#222" stroke-width="1.2"/>
<line x1="418" y1="182.56" x2="423" y2="182.56" stroke="#222" stroke-width="1.2"/>
<rect x="437.8" y="172.81" width="8.8" height="13.59" fill="url(#gp)" stroke="#4a4a4a" stroke-width="0.8"/>
<line x1="442.2" y1="168.97" x2="442.2" y2="177.17" stroke="#222" stroke-width="1.1"/>
<line x1="439.7" y1="168.97" x2="444.7" y2="168.97" stroke="#222" stroke-width="1.2"/>
<line x1="439.7" y1="177.17" x2="444.7" y2="177.17" stroke="#222" stroke-width="1.2"/>
<rect x="459.1" y="179.22" width="8.8" height="7.18" fill="url(#gp)" stroke="#4a4a4a" stroke-width="0.8"/>
<line x1="463.5" y1="178.71" x2="463.5" y2="179.74" stroke="#222" stroke-width="1.1"/>
<line x1="461" y1="178.71" x2="466" y2="178.71" stroke="#222" stroke-width="1.2"/>
<line x1="461" y1="179.74" x2="466" y2="179.74" stroke="#222" stroke-width="1.2"/>
<rect x="361.1" y="176.4" width="8.8" height="10" fill="url(#cp)" stroke="#000" stroke-width="0.6"/>
<line x1="365.5" y1="174.35" x2="365.5" y2="178.45" stroke="#222" stroke-width="1.1"/>
<line x1="362.75" y1="174.35" x2="368.25" y2="174.35" stroke="#222" stroke-width="1.2"/>
<line x1="362.75" y1="178.45" x2="368.25" y2="178.45" stroke="#222" stroke-width="1.2"/>
<rect x="382.5" y="165.64" width="8.8" height="20.76" fill="url(#cp)" stroke="#000" stroke-width="0.6"/>
<line x1="386.9" y1="164.36" x2="386.9" y2="166.92" stroke="#222" stroke-width="1.1"/>
<line x1="384.15" y1="164.36" x2="389.65" y2="164.36" stroke="#222" stroke-width="1.2"/>
<line x1="384.15" y1="166.92" x2="389.65" y2="166.92" stroke="#222" stroke-width="1.2"/>
<rect x="404.4" y="170.51" width="8.8" height="15.89" fill="url(#cp)" stroke="#000" stroke-width="0.6"/>
<line x1="408.8" y1="165.38" x2="408.8" y2="175.63" stroke="#222" stroke-width="1.1"/>
<line x1="406.05" y1="165.38" x2="411.55" y2="165.38" stroke="#222" stroke-width="1.2"/>
<line x1="406.05" y1="175.63" x2="411.55" y2="175.63" stroke="#222" stroke-width="1.2"/>
<rect x="425.5" y="183.84" width="8.8" height="2.56" fill="url(#cp)" stroke="#000" stroke-width="0.6"/>
<line x1="429.9" y1="183.58" x2="429.9" y2="184.09" stroke="#222" stroke-width="1.1"/>
<line x1="427.15" y1="183.58" x2="432.65" y2="183.58" stroke="#222" stroke-width="1.2"/>
<line x1="427.15" y1="184.09" x2="432.65" y2="184.09" stroke="#222" stroke-width="1.2"/>
<rect x="447.2" y="186.02" width="8.8" height="0.38" fill="url(#cp)" stroke="#000" stroke-width="0.6"/>
<rect x="468.5" y="171.53" width="8.8" height="14.87" fill="url(#cp)" stroke="#000" stroke-width="0.6"/>
<line x1="472.9" y1="169.23" x2="472.9" y2="173.84" stroke="#222" stroke-width="1.1"/>
<line x1="470.15" y1="169.23" x2="475.65" y2="169.23" stroke="#222" stroke-width="1.2"/>
<line x1="470.15" y1="173.84" x2="475.65" y2="173.84" stroke="#222" stroke-width="1.2"/>
<line x1="350.4" y1="186.4" x2="479" y2="186.4" stroke="#000" stroke-width="1.3"/>
<line x1="350.8" y1="196.3" x2="350.8" y2="276" stroke="#000" stroke-width="1.3"/>
<line x1="347.8" y1="275.4" x2="350.8" y2="275.4" stroke="#000" stroke-width="1"/>
<text x="346.6" y="277.25" font-size="5.2" font-weight="bold" text-anchor="end" fill="#000" stroke="#000" stroke-width="0.2">0</text>
<line x1="347.8" y1="262.27" x2="350.8" y2="262.27" stroke="#000" stroke-width="1"/>
<text x="346.6" y="264.12" font-size="5.2" font-weight="bold" text-anchor="end" fill="#000" stroke="#000" stroke-width="0.2">5</text>
<line x1="347.8" y1="249.13" x2="350.8" y2="249.13" stroke="#000" stroke-width="1"/>
<text x="346.6" y="250.98" font-size="5.2" font-weight="bold" text-anchor="end" fill="#000" stroke="#000" stroke-width="0.2">10</text>
<line x1="347.8" y1="236" x2="350.8" y2="236" stroke="#000" stroke-width="1"/>
<text x="346.6" y="237.85" font-size="5.2" font-weight="bold" text-anchor="end" fill="#000" stroke="#000" stroke-width="0.2">15</text>
<line x1="347.8" y1="222.87" x2="350.8" y2="222.87" stroke="#000" stroke-width="1"/>
<text x="346.6" y="224.72" font-size="5.2" font-weight="bold" text-anchor="end" fill="#000" stroke="#000" stroke-width="0.2">20</text>
<line x1="347.8" y1="209.73" x2="350.8" y2="209.73" stroke="#000" stroke-width="1"/>
<text x="346.6" y="211.58" font-size="5.2" font-weight="bold" text-anchor="end" fill="#000" stroke="#000" stroke-width="0.2">25</text>
<line x1="347.8" y1="196.6" x2="350.8" y2="196.6" stroke="#000" stroke-width="1"/>
<text x="346.6" y="198.45" font-size="5.2" font-weight="bold" text-anchor="end" fill="#000" stroke="#000" stroke-width="0.2">30</text>
<rect x="351.6" y="237.84" width="8.8" height="37.56" fill="url(#gp)" stroke="#4a4a4a" stroke-width="0.8"/>
<line x1="356" y1="227.33" x2="356" y2="249.92" stroke="#222" stroke-width="1.1"/>
<line x1="353.5" y1="227.33" x2="358.5" y2="227.33" stroke="#222" stroke-width="1.2"/>
<line x1="353.5" y1="249.92" x2="358.5" y2="249.92" stroke="#222" stroke-width="1.2"/>
<rect x="372.4" y="269.1" width="8.8" height="6.3" fill="url(#gp)" stroke="#4a4a4a" stroke-width="0.8"/>
<line x1="376.8" y1="266.21" x2="376.8" y2="271.2" stroke="#222" stroke-width="1.1"/>
<line x1="374.3" y1="266.21" x2="379.3" y2="266.21" stroke="#222" stroke-width="1.2"/>
<line x1="374.3" y1="271.2" x2="379.3" y2="271.2" stroke="#222" stroke-width="1.2"/>
<rect x="393.2" y="265.94" width="8.8" height="9.46" fill="url(#gp)" stroke="#4a4a4a" stroke-width="0.8"/>
<line x1="397.6" y1="262.53" x2="397.6" y2="269.36" stroke="#222" stroke-width="1.1"/>
<line x1="395.1" y1="262.53" x2="400.1" y2="262.53" stroke="#222" stroke-width="1.2"/>
<line x1="395.1" y1="269.36" x2="400.1" y2="269.36" stroke="#222" stroke-width="1.2"/>
<rect x="414" y="264.37" width="8.8" height="11.03" fill="url(#gp)" stroke="#4a4a4a" stroke-width="0.8"/>
<line x1="418.4" y1="260.17" x2="418.4" y2="268.31" stroke="#222" stroke-width="1.1"/>
<line x1="415.9" y1="260.17" x2="420.9" y2="260.17" stroke="#222" stroke-width="1.2"/>
<line x1="415.9" y1="268.31" x2="420.9" y2="268.31" stroke="#222" stroke-width="1.2"/>
<rect x="434.6" y="241.25" width="8.8" height="34.15" fill="url(#gp)" stroke="#4a4a4a" stroke-width="0.8"/>
<line x1="439" y1="237.31" x2="439" y2="245.46" stroke="#222" stroke-width="1.1"/>
<line x1="436.5" y1="237.31" x2="441.5" y2="237.31" stroke="#222" stroke-width="1.2"/>
<line x1="436.5" y1="245.46" x2="441.5" y2="245.46" stroke="#222" stroke-width="1.2"/>
<rect x="455.6" y="244.14" width="8.8" height="31.26" fill="url(#gp)" stroke="#4a4a4a" stroke-width="0.8"/>
<line x1="460" y1="234.16" x2="460" y2="253.6" stroke="#222" stroke-width="1.1"/>
<line x1="457.5" y1="234.16" x2="462.5" y2="234.16" stroke="#222" stroke-width="1.2"/>
<line x1="457.5" y1="253.6" x2="462.5" y2="253.6" stroke="#222" stroke-width="1.2"/>
<rect x="360.6" y="231.53" width="8.8" height="43.87" fill="url(#cp)" stroke="#000" stroke-width="0.6"/>
<line x1="365" y1="209.73" x2="365" y2="254.12" stroke="#222" stroke-width="1.1"/>
<line x1="362.25" y1="209.73" x2="367.75" y2="209.73" stroke="#222" stroke-width="1.2"/>
<line x1="362.25" y1="254.12" x2="367.75" y2="254.12" stroke="#222" stroke-width="1.2"/>
<rect x="381.4" y="223.92" width="8.8" height="51.48" fill="url(#cp)" stroke="#000" stroke-width="0.6"/>
<line x1="385.8" y1="214.2" x2="385.8" y2="233.37" stroke="#222" stroke-width="1.1"/>
<line x1="383.05" y1="214.2" x2="388.55" y2="214.2" stroke="#222" stroke-width="1.2"/>
<line x1="383.05" y1="233.37" x2="388.55" y2="233.37" stroke="#222" stroke-width="1.2"/>
<rect x="402.2" y="218.14" width="8.8" height="57.26" fill="url(#cp)" stroke="#000" stroke-width="0.6"/>
<line x1="406.6" y1="212.62" x2="406.6" y2="222.87" stroke="#222" stroke-width="1.1"/>
<line x1="403.85" y1="212.62" x2="409.35" y2="212.62" stroke="#222" stroke-width="1.2"/>
<line x1="403.85" y1="222.87" x2="409.35" y2="222.87" stroke="#222" stroke-width="1.2"/>
<rect x="423" y="251.76" width="8.8" height="23.64" fill="url(#cp)" stroke="#000" stroke-width="0.6"/>
<line x1="427.4" y1="245.19" x2="427.4" y2="258.06" stroke="#222" stroke-width="1.1"/>
<line x1="424.65" y1="245.19" x2="430.15" y2="245.19" stroke="#222" stroke-width="1.2"/>
<line x1="424.65" y1="258.06" x2="430.15" y2="258.06" stroke="#222" stroke-width="1.2"/>
<rect x="443.6" y="274.87" width="8.8" height="0.53" fill="url(#cp)" stroke="#000" stroke-width="0.6"/>
<rect x="464.6" y="228.91" width="8.8" height="46.49" fill="url(#cp)" stroke="#000" stroke-width="0.6"/>
<line x1="469" y1="209.47" x2="469" y2="248.08" stroke="#222" stroke-width="1.1"/>
<line x1="466.25" y1="209.47" x2="471.75" y2="209.47" stroke="#222" stroke-width="1.2"/>
<line x1="466.25" y1="248.08" x2="471.75" y2="248.08" stroke="#222" stroke-width="1.2"/>
<line x1="360.6" y1="275.4" x2="360.6" y2="278.4" stroke="#000" stroke-width="1"/>
<line x1="381.4" y1="275.4" x2="381.4" y2="278.4" stroke="#000" stroke-width="1"/>
<line x1="402.2" y1="275.4" x2="402.2" y2="278.4" stroke="#000" stroke-width="1"/>
<line x1="423" y1="275.4" x2="423" y2="278.4" stroke="#000" stroke-width="1"/>
<line x1="443.6" y1="275.4" x2="443.6" y2="278.4" stroke="#000" stroke-width="1"/>
<line x1="464.6" y1="275.4" x2="464.6" y2="278.4" stroke="#000" stroke-width="1"/>
<line x1="350.8" y1="275.4" x2="475.5" y2="275.4" stroke="#000" stroke-width="1.3"/>
<text transform="translate(362.8,279.4) rotate(-90)" font-size="6" font-weight="bold" text-anchor="end" stroke="#000" stroke-width="0.15">Whole Blood</text>
<text transform="translate(383.6,279.4) rotate(-90)" font-size="6" font-weight="bold" text-anchor="end" stroke="#000" stroke-width="0.15">Jejunum LPL</text>
<text transform="translate(404.4,279.4) rotate(-90)" font-size="6" font-weight="bold" text-anchor="end" stroke="#000" stroke-width="0.15">Colon LPL</text>
<text transform="translate(425.2,279.4) rotate(-90)" font-size="6" font-weight="bold" text-anchor="end" stroke="#000" stroke-width="0.15">Mes. LN</text>
<text transform="translate(445.8,279.4) rotate(-90)" font-size="6" font-weight="bold" text-anchor="end" stroke="#000" stroke-width="0.15">Thymus</text>
<text transform="translate(466.8,279.4) rotate(-90)" font-size="6" font-weight="bold" text-anchor="end" stroke="#000" stroke-width="0.15">Spleen</text>
<rect x="445.6" y="23.4" width="14.2" height="8" fill="url(#gp)" stroke="#4a4a4a" stroke-width="0.6"/>
<rect x="445.6" y="36.1" width="14.2" height="7.6" fill="url(#cp)" stroke="#000" stroke-width="0.5"/>
<text x="460.8" y="30.9" font-size="7.6" fill="#111">Naive (CD95<tspan font-size="4.6" dy="-3.2">-</tspan><tspan dy="3.2">)</tspan></text>
<text x="460.8" y="42.8" font-size="7.6" fill="#111">Memory (CD95<tspan font-size="4.6" dy="-3.2">+</tspan><tspan dy="3.2">)</tspan></text>
<text x="1.2" y="335.2" font-size="11.3" font-weight="bold" text-anchor="start" fill="#000" >C</text>
<text x="268.4" y="335.1" font-size="11.3" font-weight="bold" text-anchor="start" fill="#000" >D</text>
<text x="23.8" y="425.9" font-size="9.1" font-weight="bold" text-anchor="start" fill="#000" >68.8</text>
<text x="109.6" y="425.9" font-size="9.1" font-weight="bold" text-anchor="end" fill="#000" >3.2</text>
<text x="19.2" y="445.5" font-size="7.4" fill="#222">SP CD4<tspan font-size="4.44" dy="-2.8">+</tspan></text>
<text x="62" y="445.5" font-size="7.4" fill="#222">DP CD4<tspan font-size="4.44" dy="-2.8">+</tspan><tspan dy="2.8">CD8</tspan><tspan font-size="4.44" dy="-2.8">+</tspan></text>
<text x="50.5" y="506" font-size="7.4" fill="#222">SP CD8<tspan font-size="4.44" dy="-2.8">+</tspan></text>
<text x="113.2" y="505.5" font-size="9.1" font-weight="bold" text-anchor="end" fill="#000" >27.8</text>
<text x="16.5" y="509.5" font-size="4.2" font-weight="normal" text-anchor="start" fill="#333" >0.2</text>
<text transform="translate(10.9,470.4) rotate(-90)" font-size="11.8" font-weight="bold">CD4</text>
<text x="50.5" y="522.8" font-size="11.8" font-weight="bold" text-anchor="start" fill="#000" >CD8</text>
<text x="146.5" y="339.8" font-size="9.1" font-weight="bold" text-anchor="start" fill="#000" >10.9</text>
<text x="225.4" y="339.8" font-size="9.1" font-weight="bold" text-anchor="end" fill="#000" >1.6</text>
<text x="196.3" y="353.7" font-size="7.4" fill="#222">SP CD4<tspan font-size="4.44" dy="-2.8">+</tspan></text>
<text x="231.4" y="407.5" font-size="9.1" font-weight="bold" text-anchor="end" fill="#000" >0.7</text>
<text x="146.2" y="437.8" font-size="9.1" font-weight="bold" text-anchor="start" fill="#000" >11.2</text>
<text x="225.4" y="437.8" font-size="9.1" font-weight="bold" text-anchor="end" fill="#000" >8.4</text>
<text x="190.4" y="445.8" font-size="7" fill="#222">DP CD4<tspan font-size="4.2" dy="-2.8">+</tspan><tspan dy="2.8">CD8</tspan><tspan font-size="4.2" dy="-2.8">+</tspan></text>
<text x="231.3" y="503.5" font-size="9.1" font-weight="bold" text-anchor="end" fill="#000" >7.0</text>
<text x="152.5" y="535" font-size="9.1" font-weight="bold" text-anchor="start" fill="#000" >30.8</text>
<text x="225.6" y="535" font-size="9.1" font-weight="bold" text-anchor="end" fill="#000" >3.9</text>
<text x="196.2" y="542.6" font-size="7.4" fill="#222">SP CD8<tspan font-size="4.44" dy="-2.8">+</tspan></text>
<text x="230.2" y="602" font-size="9.1" font-weight="bold" text-anchor="end" fill="#000" >3.1</text>
<text x="145.5" y="410.3" font-size="4.2" font-weight="normal" text-anchor="start" fill="#333" >86.8</text>
<text x="145.5" y="505" font-size="4.2" font-weight="normal" text-anchor="start" fill="#333" >73.4</text>
<text x="145.5" y="601.5" font-size="4.2" font-weight="normal" text-anchor="start" fill="#333" >62.2</text>
<text transform="translate(137,598.3) rotate(-90)" font-size="11.8" font-weight="bold">CD95</text>
<text x="172.3" y="615" font-size="11.8" font-weight="bold" text-anchor="start" fill="#000" >BrdU</text>
<text x="291.8" y="425.8" font-size="9.1" font-weight="bold" text-anchor="start" fill="#000" >52.5</text>
<text x="375.7" y="425.8" font-size="9.1" font-weight="bold" text-anchor="end" fill="#000" >11.9</text>
<text x="287.5" y="454.5" font-size="7.4" fill="#222">SP CD4<tspan font-size="4.44" dy="-2.8">+</tspan></text>
<text x="330" y="454.5" font-size="7.4" fill="#222">DP CD4<tspan font-size="4.44" dy="-2.8">+</tspan><tspan dy="2.8">CD8</tspan><tspan font-size="4.44" dy="-2.8">+</tspan></text>
<text x="318.7" y="508.6" font-size="7.4" fill="#222">SP CD8<tspan font-size="4.44" dy="-2.8">+</tspan></text>
<text x="376.4" y="505" font-size="9.1" font-weight="bold" text-anchor="end" fill="#000" >31.5</text>
<text x="284.5" y="509" font-size="4.2" font-weight="normal" text-anchor="start" fill="#333" >4.1</text>
<text transform="translate(277.6,472.5) rotate(-90)" font-size="11.8" font-weight="bold">CD4</text>
<text x="318.5" y="523.7" font-size="11.8" font-weight="bold" text-anchor="start" fill="#000" >CD8</text>
<text x="420.2" y="339.8" font-size="9.1" font-weight="bold" text-anchor="start" fill="#000" >66.5</text>
<text x="493.8" y="339.8" font-size="9.1" font-weight="bold" text-anchor="end" fill="#000" >6.4</text>
<text x="464.5" y="354.5" font-size="7.4" fill="#222">SP CD4<tspan font-size="4.44" dy="-2.8">+</tspan></text>
<text x="493.4" y="406.7" font-size="9.1" font-weight="bold" text-anchor="end" fill="#000" >0.7</text>
<text x="420.2" y="437.8" font-size="9.1" font-weight="bold" text-anchor="start" fill="#000" >79.7</text>
<text x="498.8" y="437.8" font-size="9.1" font-weight="bold" text-anchor="end" fill="#000" >12.4</text>
<text x="458" y="451.7" font-size="6.9" fill="#222">DP CD4<tspan font-size="4.14" dy="-2.8">+</tspan><tspan dy="2.8">CD8</tspan><tspan font-size="4.14" dy="-2.8">+</tspan></text>
<text x="499.3" y="505" font-size="9.1" font-weight="bold" text-anchor="end" fill="#000" >0.7</text>
<text x="420.5" y="528.9" font-size="9.1" font-weight="bold" text-anchor="start" fill="#000" >70.7</text>
<text x="493.8" y="528.9" font-size="9.1" font-weight="bold" text-anchor="end" fill="#000" >9.3</text>
<text x="464.5" y="543.7" font-size="7.4" fill="#222">SP CD8<tspan font-size="4.44" dy="-2.8">+</tspan></text>
<text x="498.8" y="596" font-size="9.1" font-weight="bold" text-anchor="end" fill="#000" >0.7</text>
<text x="413.5" y="409.5" font-size="4.2" font-weight="normal" text-anchor="start" fill="#333" >26.3</text>
<text x="413.5" y="506" font-size="4.2" font-weight="normal" text-anchor="start" fill="#333" >7.14</text>
<text x="413.5" y="601" font-size="4.2" font-weight="normal" text-anchor="start" fill="#333" >19.3</text>
<text transform="translate(406.3,585) rotate(-90)" font-size="11.8" font-weight="bold">CD95</text>
<text x="447" y="615" font-size="11.8" font-weight="bold" text-anchor="start" fill="#000" >BrdU</text>
</svg></body></html>
